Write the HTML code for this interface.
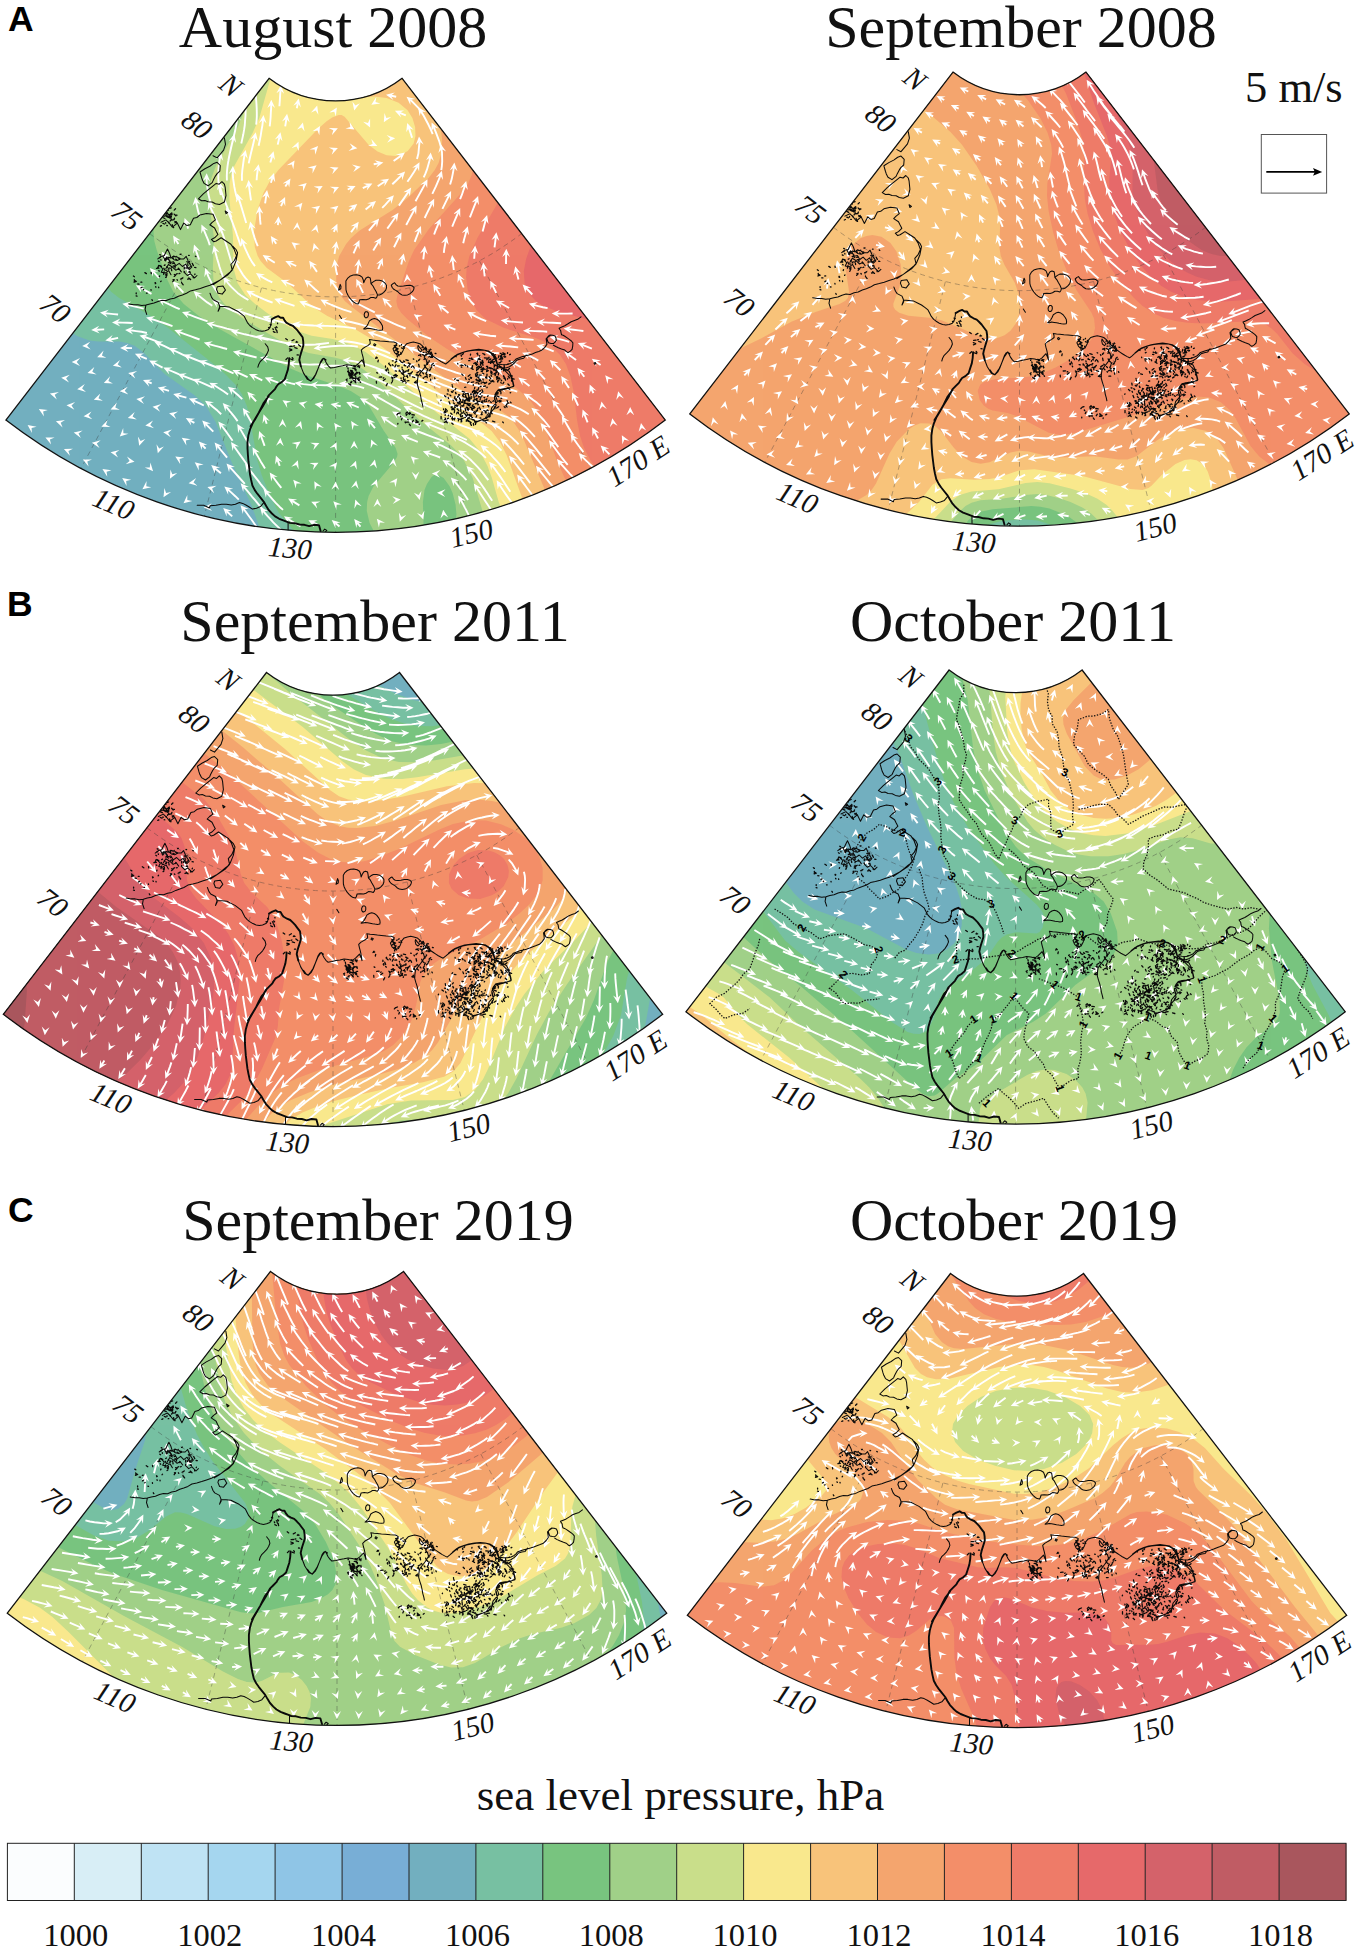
<!DOCTYPE html>
<html lang="en"><head><meta charset="utf-8"><title>Sea level pressure and wind</title>
<style>html,body{margin:0;padding:0;background:#fff}svg{display:block}</style></head><body>
<svg width="1355" height="1952" viewBox="0 0 1355 1952">
<defs><clipPath id="wc"><path d="M-66.5 86.4L-329.7 428.2A540.4 540.4 0 0 0 329.7 428.2L66.5 86.4A109 109 0 0 1 -66.5 86.4Z"/></clipPath>
<g id="grat" fill="none" stroke="#333" stroke-width="0.8" stroke-dasharray="5 4" opacity="0.45">
<path d="M-186.1 241.6A305 305 0 0 0 186.1 241.6"/>
<path d="M-143.8 269L-254.7 476.6"/>
<path d="M-74.1 295.9L-131.3 524.2"/>
<path d="M0 305L0 540.4"/>
<path d="M74.1 295.9L131.3 524.2"/>
<path d="M143.8 269L254.7 476.6"/>
</g>
<g id="coast" fill="none" stroke="#0a0a0a" stroke-linejoin="round" stroke-linecap="round"><path d="M-111.2 146.0L-110.1 152.5L-112.0 158.2L-115.3 162.2L-118.5 166.0L-122.6 163.9M-135.6 180.1L-130.7 176.9L-125.8 174.4L-121.8 171.5L-118.5 170.4L-115.3 173.6L-115.8 179.3L-118.5 181.7L-120.2 184.2L-122.3 188.2L-123.4 190.7L-127.5 193.9L-131.5 191.5L-133.2 188.2L-134.0 185.8L-135.6 180.1ZM-137.2 206.9L-132.3 202.0L-127.5 198.0L-123.4 194.7L-119.4 191.5L-116.4 192.3L-113.7 189.8L-111.2 192.3L-110.4 195.5L-109.6 203.6L-111.2 210.1L-116.1 212.6L-120.2 211.8L-123.4 210.1L-127.5 209.8L-130.7 208.5L-134.0 208.8L-137.2 206.9ZM-110.4 219.1L-108.0 220.7L-109.6 221.8L-110.4 219.1ZM-174.6 230.4L-169.7 228.0L-166.4 231.2L-163.2 235.3L-158.3 231.2L-155.1 237.7L-151.8 231.2L-148.6 233.7L-145.3 232.9L-142.1 226.4L-138.8 225.6L-135.6 223.1L-129.1 221.5L-122.6 222.3L-120.2 228.0L-123.4 230.4L-125.8 232.9L-121.0 236.1L-119.4 239.4L-117.7 242.6L-121.0 245.9L-124.2 247.5L-121.8 249.9L-119.4 249.1L-114.5 245.9L-109.6 249.1L-104.7 252.3L-101.5 257.2L-99.1 263.7L-101.2 268.6L-104.7 272.6L-103.4 278.3L-108.0 283.2L-112.9 286.4L-117.7 289.7L-122.6 292.9M-177.8 267.0L-174.6 264.5L-171.3 263.7L-169.4 259.7L-168.1 257.2L-166.1 261.3L-164.8 265.3L-161.6 267.8L-158.3 268.6L-155.1 267.0L-151.8 267.0L-149.4 264.5L-147.0 270.2L-143.7 275.1L-146.1 277.5L-148.6 274.3M-169.7 276.7L-167.2 272.6L-163.2 275.1L-159.9 278.3L-156.7 276.7L-154.3 280.0M-102.9 254.3L-99.6 257.6L-98.0 260.8L-98.8 264.9L-99.6 269.0L-101.2 273.0L-102.9 277.1L-105.3 280.0L-107.7 281.9L-111.8 285.2L-115.8 288.4L-120.7 290.9L-125.6 293.3L-130.5 294.9L-135.3 296.6L-140.2 297.9L-145.1 299.0L-149.1 301.4L-153.2 303.0L-157.2 304.3L-161.3 306.3L-165.4 307.1L-169.4 308.7L-173.5 308.4L-177.5 309.5L-181.6 311.2L-185.7 312.0L-189.7 313.1L-193.8 313.6L-197.8 312.8L-201.9 312.8L-206.8 312.0M-189.7 313.3L-190.5 317.7L-188.9 322.5M-118.3 294.9L-112.6 294.1L-110.2 298.2L-113.4 302.2L-117.5 301.4L-119.1 297.4L-118.3 294.9ZM-125.6 301.4L-124.0 305.5L-122.3 307.9L-117.5 310.4L-116.2 313.6L-115.8 316.0L-117.5 319.3L-115.8 314.4L-111.0 314.7L-106.1 315.2L-102.0 317.3L-98.0 319.3L-94.7 321.7L-91.5 324.2L-89.9 327.4L-88.2 330.7L-85.8 333.6L-83.4 335.5L-80.1 337.5L-76.9 338.8L-73.6 339.4L-70.4 338.8L-67.1 337.5L-65.5 335.5L-64.5 331.5L-63.9 327.4M-70.4 351.8L-67.9 355.0L-67.1 358.3L-68.4 361.5L-70.4 364.7L-72.8 367.2L-75.3 369.6L-76.9 372.5L-77.7 375.3M-172.7 264.1L-170.2 269.0L-167.8 265.7L-165.4 270.6L-162.1 269.8L-159.7 273.8L-156.4 271.4L-153.2 274.6L-149.9 272.2L-147.5 277.1L-145.1 274.6M-175.9 273.8L-172.7 277.1L-174.3 280.3L-170.2 281.1L-167.0 278.7L-164.6 282.8M-151.6 280.3L-148.3 283.6L-145.1 281.9L-141.0 286.0L-138.6 283.6M-34.7 374.5L-32.2 381.0L-28.2 387.5L-24.9 389.1L-22.5 386.2L-20.1 382.6L-17.6 376.9L-15.2 371.2L-11.9 366.4L-9.5 368.0M-71.8 510.7L-75.1 514.7L-79.1 516.4L-83.2 517.2L-86.4 515.1L-89.7 513.1L-92.9 511.5L-96.2 510.7L-100.2 512.3L-104.3 513.1L-109.2 512.3L-114.0 512.3L-119.7 513.4L-125.4 513.9L-126.2 516.0L-131.9 513.4L-138.4 513.4M-47.5 531.0L-47.5 538.3M-12.6 539.1L-10.9 537.2L-8.8 538.5L-10.1 539.9M10.3 289.2L11.9 286.5L14.3 284.4L17.6 283.2L20.8 282.8L24.1 283.6L26.5 285.2L27.7 288.1L28.1 290.9L29.3 288.1L30.6 286.0L32.5 285.2L34.6 286.0L35.1 288.8L35.4 291.7L37.4 294.1L38.7 296.6L40.6 299.8L41.9 303.0L41.3 305.0L40.3 306.3L37.9 305.6L35.4 305.5L33.0 307.1L30.6 307.9L27.3 307.6L24.1 307.9L23.4 310.4L22.5 312.0L20.2 311.5L18.4 310.4L16.3 308.6L14.3 306.3L12.4 303.4L11.1 300.6L10.4 297.9L10.3 294.9L10.3 289.2ZM35.4 291.7L37.9 289.7L40.3 288.4L43.6 288.4L46.8 289.2L49.2 291.0L50.9 293.3L50.9 295.9L50.1 298.2L48.1 300.5L46.0 302.2L43.9 303.0L41.9 303.0M55.7 293.3L57.4 291.7L59.0 290.9L60.6 293.0L62.2 294.1L65.0 294.3L67.9 294.1L71.2 293.5L74.4 293.3L76.8 294.1L78.5 295.7L78.0 297.9L76.8 299.8L74.4 301.8L72.0 303.0L69.2 303.4L66.3 303.0L64.0 301.6L62.2 299.8L60.1 298.5L58.2 297.4L56.6 295.6L55.7 293.3ZM3.0 298.2L3.9 294.9L4.6 292.5L5.4 294.6L5.2 296.9L3.0 298.2ZM28.6 322.5L29.3 320.6L30.2 319.8L31.7 319.9L32.7 320.9L32.8 323.2L32.2 325.0L30.9 325.8L29.8 325.8L28.8 324.5L28.6 322.5ZM28.1 337.1L29.9 335.5L31.4 333.9L32.7 331.5L33.8 329.0L36.3 327.4L38.7 326.6L41.3 327.4L43.6 329.0L45.5 331.5L46.8 333.9L47.1 336.2L46.8 338.0L44.4 338.3L41.9 338.0L39.5 337.6L37.1 337.1L34.6 336.7L32.2 336.3L29.9 337.0L28.1 337.1ZM3.8 323.3L5.9 326.6M-29.5 384.2L-27.1 387.5L-24.6 389.1L-21.7 386.2L-19.8 382.6L-17.3 376.1L-14.9 369.6L-13.3 367.2L-11.6 366.4L-10.3 368.8L-9.2 371.2L-7.1 374.2L-5.1 376.1L-1.1 375.5L3.0 374.5L7.0 373.8L11.1 372.9L15.2 373.4L19.2 374.5L22.5 372.1L26.5 368.0L28.1 371.6L29.0 374.5L28.3 369.6L27.3 364.7L26.4 361.5L25.7 358.3L27.7 356.3L29.8 355.0L32.2 353.7L34.6 351.8L34.5 349.8L33.8 347.7L37.1 348.2L40.3 348.5L44.4 349.0L48.4 349.3L53.3 349.8L58.2 350.1L60.1 350.8L61.4 351.8L59.5 354.2L57.4 357.0L59.0 360.7L62.2 363.4L65.5 362.3L67.6 358.3L68.7 354.7L71.2 351.8L74.4 350.8L77.7 350.1L80.9 350.8L84.2 351.8L86.8 354.0L89.0 356.6L91.5 359.2L93.9 361.5L97.1 364.1L100.4 366.4L102.8 368.0L105.3 369.6L107.7 370.9L110.1 372.1L112.6 370.1L115.0 368.0L118.3 365.4L121.5 363.1L125.6 361.3L129.6 359.9L134.5 358.9L139.4 358.3L144.2 358.1L149.1 358.3L152.7 359.6L155.6 361.5L157.9 364.7L159.7 368.0L161.1 371.2L162.1 374.5L166.1 375.5L170.2 376.1L173.8 374.8L176.7 372.9L179.3 370.6L181.6 368.0L184.8 367.0L188.1 366.4L190.5 363.1M82.5 353.4L84.2 355.8L86.6 358.3L85.0 359.9L82.9 358.3L82.2 355.3L82.5 353.4ZM38.7 351.8L40.3 352.7L39.3 354.0L38.0 353.1L38.7 351.8ZM90.6 368.0L91.5 371.2L89.5 374.8L87.4 377.7L84.8 381.0L82.5 384.2L81.9 388.3L81.7 392.3L82.9 396.6L84.2 400.5L85.1 404.5L85.8 408.6L86.8 412.2L87.4 415.1M162.1 374.5L167.8 376.9L173.5 379.4L175.4 383.4L176.7 387.5L177.7 391.1L178.3 394.0L174.3 395.9L170.2 397.2L166.1 398.2L162.1 398.8L160.1 402.1L158.8 405.3L159.8 409.6L160.5 413.5L158.2 417.0L155.6 420.0L154.0 422.5L152.3 424.8L149.1 426.8L145.9 428.1L142.6 429.0L139.4 429.7M115.5 367.1L118.7 364.5L122.0 362.3L126.9 360.5L131.7 359.0L137.4 358.1L143.1 357.4L148.0 358.1L152.8 359.0L156.4 361.3L159.3 363.9L160.8 368.0L161.8 372.0L166.2 372.7L170.7 372.8L174.0 371.9L177.2 370.4L179.0 368.8L180.4 367.1L183.7 365.8L186.9 364.7L190.2 363.9L193.4 363.1L196.7 362.0L199.9 360.7L203.2 359.5L206.4 358.2L209.2 355.5L211.3 352.5L211.0 349.6L210.5 346.9L212.4 345.1L214.5 343.6M211.3 346.0L212.9 344.1L214.5 343.1L217.1 343.3L219.4 344.1L220.4 346.2L220.7 348.5L219.4 350.3L217.8 351.7L215.4 351.6L212.9 350.9L211.8 348.6L211.3 346.0ZM217.8 353.3L220.2 354.6L222.7 355.8L225.9 357.1L229.2 358.2L230.9 359.7L232.4 360.7L234.7 359.2L236.5 357.4L237.1 354.2L237.3 350.9L235.8 349.1L234.0 347.7L231.6 346.0L229.2 344.4L227.5 343.4L225.9 342.8L225.4 340.7L225.1 338.7L224.1 337.4L223.5 336.3L226.2 335.2L229.2 333.9L232.4 331.9L235.6 329.8L238.9 328.5L242.1 327.4L245.4 324.9M161.8 372.0L165.5 375.3L169.1 378.5L172.3 381.8L175.6 385.0L177.0 389.9L178.0 394.7L174.3 395.7L170.7 396.4L166.6 397.0L162.6 398.0L160.6 400.4L159.3 402.9L160.8 406.1L161.8 409.4L159.0 412.6L156.1 415.9L155.1 419.9L154.5 424.0L151.2 425.9L148.0 427.2L143.9 428.8L139.9 430.5M258.4 371.2L259.7 370.6L260.3 371.9L259.0 372.3L258.4 371.2Z" stroke-width="1.05"/><path d="M-63.9 327.4L-60.6 325.5L-57.4 324.2L-55.0 325.8L-52.5 325.8L-50.9 328.7L-49.3 330.7L-46.0 332.6L-42.8 333.9L-40.3 336.3L-37.9 338.8L-35.5 342.0L-33.0 345.3L-32.4 349.3L-32.2 353.4L-33.4 357.4L-34.7 361.5L-35.6 364.7L-36.3 368.0L-35.5 371.2L-34.7 374.5M-46.4 366.4L-46.8 372.1L-47.7 377.7L-49.3 382.6L-50.9 387.5L-54.1 390.4L-57.4 392.3L-59.3 394.9L-60.6 397.2L-63.9 400.5L-67.1 403.7L-68.8 407.0L-70.4 410.2L-72.8 414.3L-75.3 418.3L-77.7 422.4L-80.1 426.4L-82.6 430.5L-85.0 434.4M-67.0 404.3L-69.4 407.6L-71.8 410.8L-74.3 415.7L-76.7 420.6L-79.9 426.3L-83.2 431.9L-85.6 437.6L-87.2 443.3L-88.1 449.8L-88.1 456.3L-87.7 462.8L-87.2 469.3L-86.4 475.8L-85.6 482.3L-84.5 488.0L-83.2 493.6L-80.8 498.2L-78.3 501.8L-75.1 505.8L-71.8 509.9L-69.4 514.1L-67.0 518.0L-63.7 521.6L-60.5 524.5L-56.4 526.9L-52.3 528.5L-49.1 529.7L-45.8 531.0L-41.0 531.3L-36.1 532.6L-31.2 532.9L-26.4 534.2L-21.5 532.9L-16.6 533.4L-15.0 539.1" stroke-width="1.9"/><path d="M-167.1 265.5 l2.3 0.5M-176.8 278.8 l0.5 0.4M-161.3 282.6 l0.8 0.3M-157.8 265.7 l1.8 1.5M-170.5 273.0 l-0.8 0.5M-171.5 280.0 l-0.5 2.4M-164.1 277.6 l0.2 1.2M-170.3 266.4 l1.2 0.3M-158.6 287.8 l0.4 0.5M-175.8 273.7 l1.6 0.8M-158.4 281.7 l-1.0 0.6M-151.4 279.2 l0.1 0.6M-140.9 275.5 l1.2 0.2M-153.5 291.5 l1.1 1.4M-143.3 271.5 l1.1 2.2M-175.8 262.7 l0.8 0.4M-168.6 274.7 l0.6 0.7M-161.6 273.9 l-0.8 0.3M-166.4 276.0 l-0.3 1.2M-168.9 265.3 l-0.4 1.1M-140.6 282.1 l-0.2 0.6M-161.5 287.7 l-1.3 2.0M-156.6 266.3 l0.9 0.2M-162.2 264.2 l2.3 0.8M-176.0 284.0 l-0.3 0.8M-154.0 290.3 l0.0 0.6M-160.0 267.2 l1.1 0.4M-149.5 275.6 l-0.0 0.9M-158.8 264.4 l-0.1 0.6M-168.6 281.3 l-0.2 2.4M-166.9 267.7 l-0.9 0.0M-146.8 286.1 l1.8 1.6M-160.0 283.4 l-1.4 1.1M-169.8 282.2 l0.2 1.2M-166.6 270.5 l1.9 1.4M-147.6 273.6 l-0.3 0.5M-142.4 285.0 l0.1 0.9M-145.5 280.2 l0.1 0.6M-169.2 285.0 l-0.7 0.5M-146.0 269.4 l-0.1 0.6M-180.2 290.8 l-0.1 0.9M-162.5 287.7 l0.9 0.7M-171.8 276.3 l1.2 2.1M-163.1 264.9 l0.8 1.6M-152.8 286.0 l-2.1 1.2M-175.3 265.5 l-0.8 0.4M-169.6 278.2 l0.6 0.2M-167.0 276.8 l-0.5 0.4M-174.7 267.7 l0.1 0.6M-157.2 276.3 l-0.0 1.2M-145.8 279.7 l-1.1 0.5M-160.8 274.9 l0.4 1.1M-155.7 281.5 l-0.9 0.3M-165.8 268.9 l0.1 0.6M-164.0 275.9 l-0.8 0.5M-161.4 273.9 l1.2 0.3M-176.8 273.4 l-0.9 2.2M-140.2 264.3 l0.5 0.4M-177.2 269.2 l0.8 0.5M-146.2 287.0 l-1.8 0.3M-174.5 289.2 l-0.4 0.5M-148.2 272.1 l0.6 0.0M-147.0 263.4 l0.6 0.1M-161.6 271.3 l-1.2 0.3M-154.5 262.2 l-0.9 0.2M-169.7 266.4 l-0.9 2.2M-148.7 269.8 l1.0 0.6M-176.7 276.3 l-2.4 0.2M-151.3 275.2 l0.0 1.8M-166.5 270.6 l-0.8 0.3M-171.0 218.8 l-0.8 0.9M-168.0 216.1 l0.9 2.2M-168.8 224.7 l1.6 0.9M-159.8 223.2 l1.2 0.1M-171.9 222.6 l-0.4 0.8M-171.8 224.1 l0.6 0.1M-160.8 229.8 l2.1 1.1M-168.7 221.6 l2.1 1.1M-164.4 215.9 l-1.7 0.6M-166.6 225.2 l-0.5 0.3M-161.3 226.9 l-0.5 0.8M-173.9 215.9 l-1.8 0.2M-161.1 226.3 l-0.3 0.8M-167.0 215.1 l-1.7 1.7M-160.1 216.9 l-1.3 1.3M-164.6 221.5 l-1.2 1.3M-165.1 228.4 l-0.3 0.8M-164.4 222.9 l-0.1 0.6M-167.1 224.9 l0.9 0.3M-163.8 220.9 l0.2 1.8M-162.3 235.2 l0.3 0.5M-163.4 232.7 l0.2 1.2M-168.8 233.6 l0.6 0.1M-172.9 225.6 l2.2 1.0M-166.9 230.3 l0.3 0.9M-168.7 220.4 l0.6 1.1M-168.4 224.1 l-0.9 0.2M-168.0 224.0 l-2.4 0.0M-174.1 233.8 l-1.1 0.5M-161.4 222.2 l1.6 1.8M-170.0 230.7 l0.1 0.6M-161.5 227.8 l-2.4 0.4M-171.9 216.6 l0.7 2.3M-172.7 231.4 l1.7 0.7M-164.5 226.8 l0.3 0.9M-170.4 220.8 l1.4 1.1M-164.2 224.4 l-0.1 0.9M-169.5 222.3 l-0.1 0.6M-166.6 223.8 l0.3 0.5M-165.1 225.5 l-0.7 0.6M-165.5 224.4 l0.3 0.5M-173.2 223.6 l-2.0 1.4M-167.0 216.5 l-2.3 0.5M-171.4 220.6 l-0.0 0.6M-159.3 229.7 l-1.3 1.2M-197.8 292.1 l1.2 0.1M-177.0 295.2 l0.1 0.6M-202.2 284.1 l1.0 0.7M-193.8 290.2 l-0.9 0.1M-180.0 294.8 l0.3 0.5M-199.5 304.0 l0.9 0.2M-201.3 287.8 l0.4 1.7M-199.4 301.0 l-0.0 0.9M-190.7 280.7 l1.5 1.0M-180.5 290.8 l0.7 0.5M-189.1 301.2 l0.6 0.1M-200.1 288.9 l-1.1 0.4M-183.7 307.8 l0.5 0.8M-193.6 295.3 l-1.0 0.6M-199.3 289.5 l-2.2 0.8M-184.6 297.7 l0.1 0.6M-184.5 280.5 l0.2 1.2M-191.9 297.5 l-0.4 0.4M16.3 381.9 l0.9 0.2M16.2 389.5 l-0.4 1.1M21.4 386.3 l1.4 1.9M23.7 385.2 l0.9 0.1M20.3 386.0 l-1.7 0.5M22.3 380.5 l-0.5 0.7M17.0 385.9 l0.9 0.2M19.1 382.4 l-0.1 0.9M24.6 390.1 l0.4 0.4M14.0 381.1 l-0.9 0.1M14.3 381.0 l-1.2 2.0M21.0 380.3 l-0.3 1.2M15.3 379.6 l1.5 1.9M15.9 382.9 l-0.3 0.5M17.8 386.5 l-1.1 0.6M15.3 390.1 l-0.2 0.6M16.1 385.9 l-0.6 0.1M13.0 380.9 l1.2 0.2M11.6 387.1 l-1.0 0.7M16.7 380.1 l0.6 0.1M14.2 381.5 l-0.4 2.4M12.3 376.1 l0.3 1.2M20.0 387.7 l0.2 0.6M15.4 385.2 l0.5 0.4M14.0 383.4 l0.4 0.8M20.6 381.5 l-0.3 1.2M15.0 378.6 l1.8 0.4M17.9 388.5 l0.7 0.5M22.6 373.7 l1.3 2.0M23.9 380.4 l-0.3 0.8M19.9 389.6 l-0.3 0.8M17.3 382.8 l0.2 0.6M13.2 391.8 l2.0 1.4M22.7 386.0 l0.9 1.5M19.4 383.6 l1.0 1.5M17.0 382.6 l0.5 0.3M20.1 385.9 l0.1 0.9M16.9 381.2 l-2.0 1.4M18.1 373.7 l1.2 0.3M18.0 381.3 l-0.9 0.1M11.4 374.2 l-0.3 0.5M22.9 388.4 l0.8 0.4M12.0 379.7 l2.1 1.1M18.0 388.5 l1.0 0.7M15.4 381.6 l-0.5 1.1M20.4 377.5 l-0.1 1.2M24.4 381.7 l-0.3 0.5M14.6 383.3 l-0.8 0.9M14.7 392.2 l0.3 0.5M17.2 376.3 l2.4 0.4M14.6 385.3 l-0.3 1.2M16.4 383.9 l0.3 1.2M19.1 374.9 l1.2 0.0M15.3 383.1 l0.3 1.2M19.2 376.8 l0.1 0.9M11.3 388.5 l0.1 0.6M19.9 389.8 l0.4 1.1M24.4 374.0 l-2.3 0.8M20.0 381.5 l-0.6 0.7M12.6 378.8 l0.5 0.3M41.1 380.8 l0.8 0.4M71.5 383.5 l0.6 2.3M49.7 387.1 l-1.9 1.5M40.7 389.4 l0.2 1.8M75.0 372.0 l-1.1 0.4M83.1 372.5 l0.5 2.4M98.7 373.4 l-0.6 0.2M61.0 383.5 l-1.2 0.2M51.8 376.1 l0.9 2.2M68.5 389.3 l-1.6 0.8M97.7 371.6 l-1.4 1.1M77.7 367.0 l0.5 0.3M94.0 382.7 l0.9 0.1M81.9 383.3 l-0.4 0.4M91.3 379.9 l-0.9 1.6M48.2 385.9 l-0.5 0.3M53.7 371.2 l-0.7 0.6M65.5 388.5 l1.2 0.2M95.0 387.2 l0.1 1.2M68.4 384.1 l0.3 0.5M72.6 371.1 l1.2 0.3M79.7 390.9 l1.8 0.0M46.1 385.1 l-2.4 0.2M90.3 375.8 l0.7 0.6M70.3 368.0 l2.3 0.6M67.2 377.7 l-0.6 0.2M63.7 378.3 l-0.1 0.9M69.2 379.8 l-1.7 1.7M57.1 385.8 l-0.6 1.0M50.5 377.6 l-0.2 0.9M60.4 383.5 l-0.0 1.2M58.4 385.3 l0.8 0.4M98.9 385.9 l0.4 0.8M60.0 370.3 l-0.4 0.5M56.8 372.7 l0.7 1.0M66.4 370.5 l0.8 0.3M84.2 378.4 l0.9 0.8M68.1 368.9 l0.3 0.9M94.9 377.3 l-1.3 1.3M91.1 384.3 l-2.2 0.9M91.5 384.6 l0.2 1.2M55.9 385.2 l1.3 1.2M68.0 378.7 l-0.7 1.7M71.5 384.1 l-1.1 0.4M93.6 368.8 l-0.1 0.9M65.4 385.9 l0.1 0.9M83.4 379.7 l-2.1 1.2M96.2 373.6 l-0.0 0.6M84.1 382.7 l1.3 1.3M67.9 382.6 l0.5 1.1M91.2 390.5 l-1.8 0.0M68.1 369.6 l0.9 0.2M92.3 377.0 l-0.8 1.6M68.4 373.3 l1.7 0.7M66.4 375.2 l0.2 0.9M69.2 388.3 l0.5 1.1M59.6 378.9 l1.2 0.3M52.7 380.3 l0.5 0.8M72.2 374.8 l-0.4 0.8M53.9 372.6 l1.3 1.2M61.1 369.2 l-0.7 0.5M76.9 384.9 l2.3 0.7M76.8 379.8 l-1.2 1.3M67.8 385.4 l0.2 2.4M70.1 379.3 l-0.1 0.6M49.9 374.1 l0.0 1.2M92.0 370.4 l-0.3 0.5M41.6 366.1 l-0.6 0.0M71.0 378.9 l1.8 0.2M77.9 374.6 l0.7 1.6M87.1 380.9 l0.8 0.9M65.7 380.9 l1.1 1.4M70.5 390.7 l-0.3 0.5M73.1 381.5 l-0.5 0.4M72.7 377.8 l0.6 0.2M51.7 391.7 l-1.1 2.1M95.0 382.6 l-0.9 2.2M74.7 381.3 l0.8 0.5M89.2 367.1 l-0.8 0.4M63.7 378.2 l1.0 1.5M74.3 381.6 l0.0 2.4M42.7 368.2 l-0.4 1.7M73.3 388.8 l-1.8 0.1M69.5 387.3 l-0.7 1.7M92.6 370.9 l-0.8 0.4M68.7 372.8 l0.1 0.9M95.8 375.4 l-0.5 0.7M84.2 367.2 l-1.1 1.4M80.5 390.8 l0.6 0.1M41.0 365.2 l-0.5 0.3M63.7 373.9 l-1.8 0.2M76.9 374.0 l-1.2 1.4M81.0 369.0 l0.4 0.8M80.8 389.1 l-1.9 1.5M60.4 372.9 l-1.1 2.1M60.3 382.5 l-2.1 1.2M90.3 381.8 l1.3 1.3M81.5 382.3 l-1.0 0.7M57.2 388.1 l-0.4 0.4M57.6 368.9 l-0.9 0.0M56.8 389.6 l-1.0 1.5M61.2 367.2 l-0.7 0.5M87.6 385.9 l0.3 0.5M61.8 383.7 l-1.4 1.1M50.9 377.8 l-0.1 1.2M73.2 373.7 l0.7 0.5M88.7 373.2 l1.0 2.2M91.8 371.9 l0.0 0.6M64.2 368.3 l1.5 1.9M41.6 365.7 l-1.6 0.7M135.7 404.8 l0.4 0.5M154.4 424.6 l-1.2 0.1M149.1 409.3 l0.2 0.6M107.9 417.1 l0.1 0.6M150.1 420.1 l-0.4 0.5M118.6 417.4 l-2.4 0.3M150.4 430.6 l0.5 0.4M132.7 401.4 l-1.2 0.3M146.1 422.6 l-0.6 0.0M121.6 420.3 l-0.5 1.7M123.9 406.1 l0.1 0.9M128.2 426.1 l-1.7 0.6M147.3 409.1 l-1.2 0.2M116.7 426.2 l-0.5 0.3M128.8 409.4 l0.1 1.2M137.6 416.1 l0.8 0.4M124.4 422.8 l0.4 0.8M130.8 407.1 l-0.0 0.9M139.0 428.6 l0.3 1.2M125.0 424.8 l1.2 0.2M131.4 415.3 l0.4 2.4M128.8 410.5 l0.8 0.5M134.0 422.5 l-1.7 0.6M136.1 417.5 l1.0 0.7M115.8 399.6 l0.2 0.6M135.2 427.1 l1.7 0.5M152.6 414.2 l0.6 0.7M137.2 416.5 l-1.1 0.5M132.3 413.1 l0.8 0.3M137.5 412.8 l-0.4 0.4M120.4 401.1 l0.1 0.6M150.6 409.2 l0.5 0.3M121.5 417.1 l0.9 0.1M118.8 427.1 l0.1 0.9M141.8 400.9 l-0.4 0.5M119.4 413.8 l-0.4 0.4M133.7 423.5 l2.1 1.1M129.3 411.4 l1.8 0.1M141.3 418.5 l0.6 0.1M126.5 413.9 l-1.2 0.1M131.7 427.8 l-0.9 0.2M117.4 408.2 l0.5 0.8M150.8 421.0 l-0.6 0.1M147.3 428.8 l2.4 0.3M132.4 426.0 l-0.4 1.1M112.6 405.7 l0.4 0.8M111.5 418.4 l-0.1 1.2M109.7 418.3 l0.4 2.4M125.0 409.7 l2.3 0.7M120.2 413.4 l1.4 1.2M132.5 417.2 l0.1 1.2M132.5 428.5 l0.4 1.1M126.2 410.3 l-0.8 0.3M114.8 423.9 l0.1 0.6M139.3 415.5 l-0.9 0.0M121.8 417.2 l1.5 1.8M110.2 427.8 l-1.2 0.0M146.0 422.5 l0.6 0.2M105.5 424.6 l0.0 2.4M134.6 405.6 l-1.6 0.8M131.9 416.9 l-0.3 0.5M129.7 408.1 l0.5 0.7M141.7 411.7 l-2.4 0.2M129.3 425.4 l0.6 0.0M132.2 411.3 l-0.7 1.7M132.1 415.7 l0.4 1.1M109.0 403.8 l1.4 1.2M124.7 411.5 l-0.2 0.9M134.7 431.4 l1.1 2.1M127.5 404.1 l0.5 0.7M111.0 429.2 l-2.0 1.3M125.0 415.3 l-0.0 0.9M126.7 399.4 l2.3 0.8M128.8 421.3 l1.4 2.0M105.5 408.1 l-0.2 0.6M115.5 415.0 l1.6 1.8M134.0 406.8 l-0.1 2.4M131.8 422.3 l-0.2 0.6M139.0 421.7 l0.8 0.4M116.8 425.1 l-0.3 1.2M122.5 413.1 l-0.4 0.4M113.0 426.3 l-1.1 0.5M129.0 409.9 l-0.6 0.2M117.9 411.1 l0.9 0.8M143.9 404.7 l1.5 0.9M132.9 405.8 l-0.2 1.8M122.7 420.5 l0.3 1.2M126.8 413.9 l0.4 0.5M123.0 402.8 l1.1 0.3M133.6 425.3 l0.1 0.9M113.5 409.8 l0.9 2.2M116.1 431.2 l1.4 1.2M140.3 430.9 l-0.5 1.7M134.2 408.9 l-0.6 0.2M140.5 400.5 l-1.2 1.3M109.8 419.4 l-0.5 0.7M132.9 412.4 l-0.0 1.2M125.0 422.1 l0.4 1.1M126.2 429.7 l-0.8 0.3M140.8 418.9 l-0.6 0.2M142.8 412.2 l-0.4 0.8M120.4 406.9 l0.5 0.4M139.1 407.2 l-1.6 1.8M142.5 416.4 l-0.8 0.9M153.4 421.2 l-0.6 0.1M112.9 423.3 l-0.2 0.6M126.0 421.0 l0.3 0.5M126.9 423.8 l-0.3 0.8M119.9 400.4 l0.3 1.2M141.2 423.6 l-0.7 1.7M136.2 423.0 l-1.4 1.2M144.8 398.8 l-1.0 0.7M114.3 403.1 l0.9 0.8M128.8 408.6 l0.5 0.7M137.3 399.2 l-0.5 0.7M144.7 406.7 l-0.2 1.2M148.3 418.6 l1.6 0.8M136.8 400.0 l0.0 0.6M137.2 414.1 l1.1 0.4M132.8 402.6 l0.2 1.8M109.6 422.8 l-0.1 0.6M140.1 411.5 l0.3 0.5M138.7 419.6 l-0.6 1.1M139.2 400.0 l1.8 0.1M135.1 423.0 l-0.9 0.2M134.5 412.8 l-0.5 1.1M121.9 410.4 l0.5 1.1M117.7 398.7 l-0.7 1.7M131.2 407.2 l1.4 1.9M118.9 417.7 l0.2 0.6M127.7 401.7 l-0.8 2.3M127.4 407.3 l-0.1 1.8M149.5 407.8 l-1.2 1.4M120.6 413.0 l0.4 0.8M129.6 416.6 l0.5 2.3M152.5 428.1 l-2.4 0.3M109.5 426.1 l0.6 1.0M135.7 406.6 l-2.2 1.0M136.4 414.1 l2.3 0.6M132.0 416.3 l0.2 0.6M138.8 409.1 l-0.5 0.3M115.0 421.2 l1.4 1.2M131.6 416.7 l1.7 0.4M131.3 415.2 l-0.5 0.3M137.8 431.5 l0.2 1.8M130.6 404.9 l0.9 2.2M109.8 416.9 l0.9 0.7M111.5 402.1 l0.9 0.2M134.5 430.0 l1.0 0.6M123.8 409.6 l-0.1 2.4M134.1 405.2 l-0.4 2.4M111.1 430.3 l0.6 0.6M141.3 398.0 l0.1 0.6M119.5 426.3 l-1.7 0.7M155.3 420.6 l1.2 1.3M131.3 423.9 l-0.5 0.4M109.1 419.4 l-0.6 1.7M122.9 427.8 l-0.1 1.2M122.4 404.9 l-0.2 0.6M116.2 426.5 l0.9 1.6M133.4 411.8 l1.8 0.1M150.8 419.0 l-0.6 0.7M119.4 407.0 l1.6 1.8M137.0 425.6 l-0.6 0.2M150.6 424.9 l-0.5 1.1M140.7 406.7 l1.2 0.3M143.7 415.4 l1.1 2.1M142.4 409.2 l-0.9 1.5M131.4 429.2 l-0.9 0.0M112.3 397.5 l0.3 1.8M150.2 385.0 l-0.2 0.9M146.1 369.9 l-0.2 1.2M136.1 366.1 l-0.3 1.2M162.0 374.9 l-0.5 0.2M166.8 376.9 l-0.9 0.8M153.6 384.8 l1.5 1.9M161.3 366.3 l-2.4 0.3M135.0 362.3 l-0.2 0.9M133.1 368.7 l1.2 0.1M161.2 378.7 l0.4 1.1M140.5 387.9 l2.3 0.6M147.5 375.9 l1.2 1.3M158.5 372.7 l0.3 1.2M155.4 383.2 l0.5 1.1M151.4 377.4 l-0.4 2.4M158.1 367.3 l-1.5 1.0M161.9 388.9 l0.2 1.2M148.5 377.1 l1.1 0.4M172.2 386.6 l-0.2 0.6M135.5 376.2 l2.0 1.3M160.8 385.9 l0.5 0.3M165.1 370.5 l-1.7 0.5M153.0 370.4 l0.6 0.2M165.3 365.5 l-0.4 1.8M172.6 372.1 l-0.5 0.3M147.8 370.2 l-0.9 0.8M156.4 369.0 l-1.1 0.5M142.1 361.3 l-0.8 0.4M139.9 382.0 l0.4 2.4M135.1 385.3 l-0.4 0.4M165.3 390.7 l0.4 0.5M168.2 364.8 l1.1 0.5M145.6 379.4 l1.2 0.3M150.8 384.9 l-0.2 0.9M154.9 370.9 l0.1 0.6M164.8 361.4 l0.6 0.1M153.2 369.6 l-0.5 0.8M160.6 377.6 l-0.2 1.8M174.8 362.4 l-0.8 0.4M148.8 365.9 l2.4 0.3M135.0 385.5 l0.8 0.9M163.0 381.1 l-0.3 1.8M175.9 388.3 l0.4 1.1M161.5 384.5 l-0.5 0.3M143.3 376.1 l-1.0 1.5M176.3 386.7 l2.3 0.6M159.6 373.0 l-1.1 2.2M162.1 374.7 l0.1 1.8M155.2 379.1 l1.3 1.2M148.4 362.0 l0.8 0.9M136.0 385.8 l-1.2 0.3M144.4 387.2 l1.1 2.1M168.3 376.6 l-0.2 2.4M140.3 371.8 l1.6 0.8M140.7 390.6 l-0.3 0.5M147.0 371.6 l0.4 1.8M151.4 382.2 l-0.1 1.8M153.6 367.6 l-0.4 0.8M166.1 364.7 l1.0 2.2M161.8 380.1 l-1.0 0.7M133.6 366.4 l0.9 0.2M146.3 377.6 l0.8 0.9M169.4 362.8 l-0.8 0.4M162.2 385.9 l-1.1 1.4M152.7 378.7 l-1.0 0.7M157.6 388.9 l-2.1 1.1M141.1 381.0 l0.9 2.2M151.0 390.3 l-0.5 0.4M164.3 374.7 l0.0 0.6M152.1 375.8 l-0.8 0.5M159.2 377.0 l-1.3 1.2M163.5 367.2 l0.9 0.2M157.6 361.7 l-1.1 1.4M170.7 377.7 l-0.8 0.4M176.6 386.4 l1.1 0.5M155.7 376.4 l1.7 0.5M144.0 387.8 l-0.1 1.8M152.0 375.0 l-0.1 1.2M141.7 361.6 l0.7 1.7M168.5 373.3 l0.3 2.4M140.9 387.3 l-0.5 0.3M160.0 382.1 l-0.5 1.7M146.8 369.6 l-0.5 0.3M157.0 369.6 l-2.3 0.6M160.3 380.8 l-2.0 1.4M169.6 364.6 l0.5 0.4M139.8 370.7 l-1.6 0.9M159.6 364.6 l-1.0 0.6M166.1 388.3 l-0.5 0.7M146.4 368.3 l0.7 0.6M158.1 370.7 l-0.1 0.6M150.8 374.4 l1.2 0.1M138.2 389.9 l-2.4 0.5M162.2 384.7 l-0.9 0.2M154.1 387.9 l-0.1 0.6M141.7 375.2 l-0.7 0.6M158.2 369.6 l0.6 0.2M148.0 390.5 l1.2 0.2M151.6 367.5 l-0.5 0.3M164.6 374.7 l0.8 0.3M155.1 367.0 l-0.4 0.8M160.5 380.5 l0.3 0.5M147.4 387.2 l0.1 0.9M145.0 371.8 l-0.2 1.2M153.4 365.2 l-0.0 1.2M174.5 369.1 l-0.9 0.0M142.4 367.3 l2.4 0.4M145.7 383.2 l-1.8 0.0M166.4 366.5 l-0.2 0.9M143.5 385.0 l-0.8 0.5M147.2 381.4 l1.0 0.6M168.0 362.3 l-1.8 0.3M167.3 360.9 l2.1 1.1M144.5 370.1 l0.9 0.8M166.0 364.3 l-0.1 1.2M172.7 384.3 l0.5 0.4M160.2 373.4 l1.6 0.9M163.9 386.6 l-1.7 0.5M169.4 385.9 l0.5 2.4M146.0 391.1 l-0.6 0.1M119.7 415.3 l-0.6 0.6M130.3 401.7 l-2.2 0.9M171.5 408.5 l0.6 1.7M164.5 408.3 l-1.5 0.9M174.0 376.6 l-1.9 1.5M139.4 399.4 l-1.8 0.3M140.8 383.5 l0.8 1.6M138.2 403.5 l0.4 2.4M165.3 369.1 l0.9 0.1M133.4 389.9 l-1.5 1.0M134.5 382.9 l-1.9 1.5M147.2 361.6 l0.8 0.5M141.4 376.3 l-0.4 2.4M156.6 370.1 l1.3 1.3M168.2 390.3 l-0.9 1.6M151.6 395.3 l-0.3 0.5M119.0 418.9 l-0.3 1.8M149.9 394.1 l-1.8 0.3M124.0 427.2 l2.2 1.1M172.1 396.1 l2.1 1.2M155.1 380.3 l1.5 1.9M128.2 419.4 l-0.8 1.6M174.9 410.2 l0.6 0.7M147.4 414.4 l0.5 0.4M139.9 372.1 l1.1 1.4M163.4 385.8 l1.2 1.4M129.9 385.8 l0.6 1.7M165.3 400.1 l-0.0 1.8M132.5 406.1 l0.2 2.4M142.8 404.2 l0.4 1.1M120.2 396.7 l-0.7 1.0M137.0 373.7 l-0.4 2.4M157.3 389.5 l1.1 0.4M125.7 373.0 l-0.4 0.4M163.3 388.2 l-0.8 0.9M161.2 404.0 l2.2 1.0M135.6 402.6 l-0.6 0.1M146.5 420.1 l-0.4 1.7M128.7 411.5 l-0.5 0.8M124.8 407.5 l-0.0 1.2M171.0 412.5 l-0.5 1.1M123.6 409.8 l-0.4 1.1M159.4 414.5 l-0.1 2.4M152.4 422.6 l-1.0 0.7M167.8 383.7 l0.1 0.9M143.1 395.8 l-0.7 2.3M165.3 363.4 l0.8 0.3M133.6 426.0 l-0.1 0.9M159.7 408.9 l-0.1 0.6M129.3 372.7 l0.8 0.9M119.4 404.6 l-0.5 1.7M152.0 413.5 l1.2 0.2M174.8 383.7 l1.8 0.4M151.0 390.8 l-2.2 0.9M143.2 386.9 l2.0 1.4M116.5 414.9 l-0.8 0.9M127.9 413.4 l0.4 0.5M172.3 411.1 l0.9 0.2M141.3 419.0 l-1.7 1.7M150.7 425.9 l0.3 0.5M123.0 404.0 l-0.9 0.8M122.1 371.4 l0.1 0.6M158.8 378.3 l2.3 0.8M151.6 418.1 l1.0 0.7M154.6 391.2 l-1.5 1.0M149.1 391.0 l0.6 0.0M144.1 363.7 l-0.1 0.6M168.5 384.3 l0.1 0.9M162.1 376.1 l-0.8 0.3M142.6 400.6 l-1.0 1.5M162.5 400.5 l-0.8 0.4M140.2 407.6 l1.3 1.2M164.0 399.2 l0.9 0.2M148.5 405.5 l0.5 0.4M116.8 394.4 l0.3 0.9M163.3 363.7 l-0.4 1.7M155.7 376.6 l-0.6 0.1M146.7 376.7 l-1.4 1.1M172.0 360.8 l-0.1 0.6M146.5 403.9 l-0.5 0.4M159.1 406.8 l0.1 0.6M146.6 410.6 l0.7 0.5M156.9 429.3 l2.3 0.6M137.3 367.2 l-0.5 0.3M139.2 395.4 l-0.3 1.2M130.2 403.1 l-0.7 2.3M139.3 429.3 l-0.2 0.9M172.0 411.8 l-0.6 0.2M159.7 362.8 l-1.6 0.8M164.9 364.5 l0.7 1.0M141.3 388.8 l1.7 0.5M125.6 426.7 l0.2 2.4M167.1 430.1 l0.6 0.7M147.7 390.1 l-0.5 0.3M163.0 414.8 l-1.9 1.4M125.5 363.1 l0.3 1.2M138.2 398.2 l2.1 1.2M164.7 417.5 l-0.0 0.6M155.5 375.9 l-1.1 0.4M142.1 368.9 l-0.8 2.3M157.9 408.9 l-0.6 0.6M161.2 400.9 l-0.9 2.2M142.8 374.4 l-1.6 1.8M130.2 395.3 l-1.2 0.1M172.3 392.1 l1.3 1.3M154.5 375.9 l-1.2 0.3M156.9 376.8 l1.0 0.7M134.5 415.2 l2.1 1.1M145.8 410.5 l1.2 0.2M126.6 366.7 l-0.8 0.4M173.3 385.5 l1.0 0.6M147.1 377.1 l0.6 0.6M133.1 387.2 l0.7 0.6M170.2 413.9 l1.3 1.2M142.3 390.7 l1.1 1.4M153.8 375.8 l1.7 0.7M126.2 382.2 l1.2 1.3M144.4 426.0 l0.9 0.2M145.4 375.7 l-1.8 0.0M122.3 426.5 l0.7 0.6M145.6 394.4 l-0.9 0.2M135.3 401.8 l0.3 0.5M146.6 400.3 l-0.5 0.3M151.3 406.9 l-0.4 0.8M155.7 370.8 l-0.6 0.1M168.4 386.3 l0.8 0.5M116.5 392.7 l0.1 0.6M133.1 428.8 l0.7 1.0M152.5 366.2 l-0.9 0.1M119.6 386.7 l-0.6 0.7M153.8 375.8 l1.4 1.1M132.2 428.7 l0.9 0.1M142.2 380.5 l-0.5 0.3M125.1 417.3 l0.2 2.4M130.6 420.6 l0.8 0.4M155.5 380.9 l0.1 0.6M162.6 401.8 l-1.1 0.5M144.3 409.5 l-1.2 0.1M131.7 374.0 l0.5 1.1M165.3 406.3 l0.8 0.3M146.3 397.7 l1.0 2.2M163.2 398.1 l1.0 0.6M155.2 389.4 l0.4 0.4M158.8 364.6 l0.9 0.7M152.4 403.8 l-0.4 0.8M144.2 383.3 l-0.6 0.0M168.6 414.9 l0.9 0.8M175.1 400.8 l-0.6 0.2M143.8 374.4 l-0.3 1.2M151.1 385.5 l0.2 0.9M165.6 409.0 l-1.4 1.1M138.3 427.8 l-0.8 0.4M154.7 409.9 l1.0 0.7M144.9 401.9 l-0.4 0.4M127.7 361.7 l-0.8 0.9M117.3 416.4 l0.9 0.2M153.7 424.9 l0.6 0.0M145.4 374.0 l0.5 1.1M125.7 375.0 l0.5 0.3M119.4 364.3 l1.1 0.5M165.6 397.7 l0.9 0.1M121.1 388.2 l1.8 0.4M153.6 408.6 l-0.7 0.5M144.3 366.3 l-0.9 0.2M137.7 392.8 l-0.1 0.6M139.0 400.8 l-1.4 2.0M127.4 373.5 l-1.2 0.0M140.9 403.6 l-0.6 1.0M156.5 388.4 l0.7 1.0M147.2 371.2 l-1.7 0.7M62.2 421.9 l-0.8 0.9M66.5 426.2 l-0.7 1.7M74.0 420.8 l0.9 0.8M77.4 425.1 l-0.9 0.8M76.3 422.8 l2.4 0.3M64.8 424.3 l0.4 0.5M74.7 421.1 l-0.3 0.5M62.3 431.5 l-0.1 0.6M69.6 430.0 l0.3 0.9M72.1 420.7 l1.7 1.7M64.5 420.9 l-1.7 0.6M73.7 432.2 l1.1 1.4M71.6 420.0 l-1.3 1.3M70.6 422.5 l0.1 0.9M77.8 428.5 l-1.0 1.5M72.2 427.6 l0.4 0.4M80.3 428.1 l0.8 0.9M71.2 430.2 l1.8 0.1M81.1 429.2 l-0.6 0.2M87.2 428.5 l-1.0 0.7M71.6 422.3 l-0.4 0.5M70.4 430.4 l-0.8 0.3M83.7 432.2 l-0.1 0.6M82.0 430.4 l-1.8 0.3M81.8 429.4 l0.9 0.7M-38.5 363.0 l1.2 0.1M-49.8 346.8 l1.5 1.1M-43.8 358.3 l-2.3 0.8M-43.3 365.7 l0.7 1.0M-41.6 347.7 l-2.1 1.2M-37.1 352.9 l1.9 1.5M-45.0 367.1 l2.2 0.9M-40.8 355.8 l2.3 0.7M-46.2 357.0 l2.3 0.8M-37.9 350.2 l-1.8 0.0M-43.5 354.5 l-2.4 0.1M-39.0 349.5 l-0.0 0.9M-41.1 353.9 l-0.9 0.3M-47.9 366.0 l-1.7 1.6M-66.1 335.5 l-0.9 0.3M-62.2 339.7 l1.6 0.8M-59.3 334.8 l0.8 0.9M-64.9 332.8 l0.6 0.1M-60.6 335.7 l0.7 0.6M-64.9 332.4 l-0.6 0.0M-59.8 337.6 l1.2 1.4M-58.1 331.2 l0.1 0.6M-58.7 339.4 l0.3 1.2M-62.7 336.9 l0.4 0.8M67.9 354.7 l0.8 1.6M60.2 355.8 l1.3 2.0M61.1 357.2 l-1.8 1.6M61.2 358.9 l0.8 0.4M60.0 354.7 l-0.8 0.9M60.9 361.4 l-0.1 0.6M63.1 359.8 l-1.0 1.5M64.2 353.8 l-0.4 0.4M65.3 360.5 l-0.3 0.9M61.5 364.0 l0.3 0.9M61.0 353.5 l-2.4 0.2M62.3 361.8 l1.1 2.1M65.9 356.0 l1.1 0.4M61.9 359.7 l0.8 0.9M66.0 352.6 l-0.2 0.6M60.9 356.1 l1.6 0.9M94.8 357.3 l0.5 0.4M90.3 355.2 l-0.6 0.2M99.4 361.4 l0.9 0.2M90.3 356.2 l-1.6 0.8M90.1 362.6 l0.8 0.5M87.0 354.9 l-0.5 0.7M92.5 362.1 l-1.2 0.1M90.6 360.3 l0.0 0.6M87.9 357.4 l0.3 0.5M90.5 362.5 l-1.9 1.5M96.0 361.5 l0.9 1.6M94.6 360.8 l0.0 1.8M85.3 362.8 l-2.3 0.6M93.5 357.9 l0.7 1.7M88.5 360.4 l-0.9 0.1M96.5 363.3 l-0.5 0.4M94.2 358.7 l-0.3 0.8M92.8 361.4 l-0.5 0.3M90.8 356.4 l0.3 1.2M93.0 359.6 l0.9 0.2M95.9 360.3 l-0.8 0.9M84.9 363.8 l0.4 0.5M96.8 365.5 l-1.8 0.0M96.3 363.5 l0.8 0.9M86.9 362.8 l1.1 0.5M83.5 367.8 l-0.6 0.7M88.8 365.8 l1.6 1.7M95.5 364.6 l1.8 0.2M89.3 363.9 l-0.3 0.8M94.1 364.5 l-1.0 0.6" stroke-width="1.3"/></g>
</defs>
<rect width="1355" height="1952" fill="#fff"/>
<g transform="translate(335.6 -8.1)">
<g clip-path="url(#wc)">
<path d="M-66.5 86.4L-329.7 428.2A540.4 540.4 0 0 0 329.7 428.2L66.5 86.4A109 109 0 0 1 -66.5 86.4Z" fill="#72afbf"/>
<path d="M-195.1 78L-195 75L345 75L345 552L-72.4 552L-77.7 531L-84 513.6L-103.6 471L-120 430L-129.6 414L-141 403.4L-171 382.1L-192 360.7L-201 353.9L-208.5 351L-216 349.6L-237 349.6L-246 348.7L-258 344.4L-270 337.2L-279 329.6L-288 318.5L-294.7 306L-298.8 294L-301.6 276L-301.1 255L-296.7 234L-288.6 213L-278.7 195L-264 174.7L-249 158L-220.1 129L-207.9 114L-202.6 105L-198.8 96Z" fill="#77c0a2"/>
<path d="M-144.3 75L345 75L345 552L-32.4 552L-35.7 546L-57 520.7L-66 503.1L-73.9 483L-78.4 468L-85.7 426L-88.7 414L-93.8 402L-99.7 393L-114.5 378L-167.3 336L-189 321.5L-216.4 306L-224.2 300L-233.6 288L-239.3 273L-241 258L-239.4 243L-235 228L-227.6 213L-219.4 201L-209 189L-174 157.2L-164 147L-156 136.9L-149.6 126L-146.1 117L-143.7 105L-143.3 93Z" fill="#78c47f"/>
<path d="M-112.5 75L345 75L345 552L114.4 552L120 533.2L120.8 522L120 512.9L117 501L114 494.3L108 486.1L102 482.7L99 482.9L96 485L91.3 492L88.9 498L87.3 510L88.1 537L84 552L47.6 552L38.7 540L34 531L31.2 519L31.5 510L33 504L37.5 495L57.8 471L61.4 465L62 462L60.1 456L48 438.7L33.5 414L24.6 405L15.2 399L3 394.1L-30 383.2L-45 376.6L-117 336.6L-136.7 324L-151.8 312L-162.2 300L-168.2 288L-178.9 258L-181.3 249L-182.1 240L-180.9 231L-177.5 222L-170.2 210L-150 184L-132 156.9L-120.6 138L-115 126L-112.5 117L-111.5 108Z" fill="#a0d088"/>
<path d="M-88.1 75L345 75L345 552L153.9 552L150.4 531L137.1 486L128.1 468L123 461.2L115 453L85.1 429L43.8 390L27 376.8L18 371.9L9 368.3L0 365.9L-27 361.1L-45 354.5L-87.3 330L-100.6 321L-111.2 312L-116 306L-119.2 300L-122.2 288L-122.7 276L-121.6 246L-126.3 213L-126.4 198L-124.2 186L-119.7 174L-97.7 135L-92.8 123L-89.9 108Z" fill="#c9de8a"/>
<path d="M-61.8 75L345 75L345 552L179 552L174.5 537L163.1 510L156.3 486L151.9 474L144.1 459L134.1 447L100.4 420L46.2 372L30 360L21 355L9 350.1L-3 347.2L-24 343.9L-39 338.8L-51 332.3L-68.5 321L-81 311.7L-90.3 303L-98.1 291L-102 276.6L-102.7 243L-106.2 207L-106.1 192L-104.5 183L-101.3 174L-83 141L-76.3 126Z" fill="#f9e88d"/>
<path d="M8.9 78L9 75L345 75L345 552L205.4 552L202.5 543L186.9 507L171 463.1L164.3 450L156 439L147.4 432L117 411.7L53.3 360L36 347L18 336.3L-8.2 324L-22.6 315L-48 291.4L-69 275.9L-75 269.1L-78 263.9L-80.8 255L-81.7 240L-78 217.5L-72 200.7L-66 189.7L-57 177.9L-18 137.4L-9 129.4L-3 125.3L3 123L6 123.2L9 124.9L33.2 153L42 159.7L51 163.3L60 164L66 162.6L72.2 159L78 151.5L79.9 144L79.5 135L76.8 126L72 118.3L63 110.9L51 106.2L39 104.7L18 106.1L13.3 105L10.8 102L9.2 96Z" fill="#f8c37a"/>
<path d="M94.6 75L345 75L345 552L234.9 552L232.8 546L213 506.8L187.9 447L183 437.5L177 428.9L171 423L165 418.8L138 405.6L117 391.8L16.3 315L9.2 309L4.6 303L0.7 291L0.4 276L3.6 264L10.5 252L15.5 246L24 238.6L57 218L72 206.1L93 186L99 178.3L103 171L106.4 159L106.5 147L100.5 102Z" fill="#f4a56e"/>
<path d="M136.4 75L345 75L345 552L270.5 552L267.9 546L243 509.1L229 486L222 470.3L207 429L201 417.5L195 409.2L183 397.8L165 385L132 368.9L111.5 357L93.5 345L71.6 327L65.7 321L61.9 315L60.7 309L61.8 303L73 270L78.5 258L93.3 237L128.4 198L132.3 192L136.1 183L138.8 171L139.9 156Z" fill="#f38e69"/>
<path d="M181.9 75L345 75L345 552L319 552L316.2 546L311.8 540L267 485.3L255 468.5L248.4 456L244.5 444L241.6 429L237.9 399L234.7 384L230.3 372L224.5 363L216 354.6L207 348.9L197.3 345L168 335.9L150 327.1L140.9 318L134.5 306L131.9 297L130.5 285L131 276L133.8 264L141.8 246L167.9 201L172.8 189L176.8 174L179.1 159L180.6 141Z" fill="#ee7b68"/>
<path d="M232.2 75L345 75L345 480.5L342 477.4L338.6 471L333.3 453L332 438L332.5 405L330.2 390L325.8 378L318 366L309.2 357L301.5 351L279 338.1L255 328.3L222 319.6L207 313.5L200.3 309L194.6 303L191 297L189 291L188.2 279L190.5 267L214.3 201L222.9 168L228.6 129Z" fill="#e6696a"/>
<use href="#grat"/>
<path d="M-103.4 524.5L-107.9 520.3L-108.8 519.5M-78.6 535.7L-81.2 531.9L-83.8 528.1L-86.6 524.3L-89.3 520.6L-92.1 516.9L-91.9 517.2M-53.7 538.7L-56.6 536L-59.5 533.2L-62.3 530.4L-65 527.4L-67.8 524.5L-70.4 521.4L-73 518.3L-72.4 519.1M-35.1 534.6L-39.3 532.1L-43.4 529.6L-47.6 527.1L-47.4 527.2M-16.3 533.6L-21.7 531L-22.7 530.5M3.9 534.7L0 531.4L-0.1 531.3M24.9 534.8L21.7 531L21.7 530.9M135.1 527.5L133.2 523.5L131.2 519.4L129.1 515.5L127.1 511.5L124.9 507.6L125.2 508M162.4 527.6L159.8 524.1L157.3 520.6L154.9 517L152.5 513.4L150.1 509.8L147.7 506.1L145.4 502.5L143 498.9L140.6 495.2L141 495.8M181.6 517.3L178.8 513.9L176 510.4L173.4 506.8L170.8 503.2L168.3 499.6L165.8 495.9L163.4 492.1L163.7 492.6M201.3 508.8L198.8 505.6L196.2 502.4L193.7 499.1L191.2 495.8L188.8 492.5L186.3 489.2L183.9 485.9L184.4 486.6M223 500.9L220 497.7L217 494.3L214.2 491L211.4 487.6L208.5 484.1L205.8 480.7L203 477.2L203.4 477.7M241.6 489.1L238 485.7L234.5 482.2L231.1 478.5L227.8 474.8L224.5 471.1L224.5 471.1M258.3 475.8L254.3 472.3L250.5 468.7L246.7 465L246.5 464.8M273.9 462.5L269.5 458L268.5 457.1M-96.8 507.8L-100.3 504.3L-103.9 501L-107.5 497.7L-107.5 497.8M-72 518.7L-74.8 515.2L-77.7 511.7L-80.5 508.3L-83.4 504.9L-86.2 501.4L-89.1 498L-92 494.7L-91.7 495.1M-52.6 518L-56.1 514.8L-59.4 511.4L-62.6 507.9L-65.8 504.3L-69 500.7L-68.8 500.8M-36.2 513.5L-41.8 510L-43.2 509.1M132.4 508L129.8 504L127.2 500.1L124.3 496.4L121.5 492.6L118.5 489L118.7 489.2M156.6 508.9L154.2 505.3L151.9 501.7L149.5 498L147 494.4L144.5 490.9L142 487.3L139.4 483.8L136.7 480.4L133.9 477.1L134.3 477.6M174.7 499.8L172.2 496L169.6 492.2L167.1 488.3L164.5 484.5L161.9 480.8L159.2 477L156.4 473.4L156.6 473.7M194.7 491.2L192 487.7L189.4 484.3L186.8 480.8L184.2 477.4L181.5 474L178.9 470.6L176.1 467.2L176.6 467.7M214.7 483.4L211.9 480L209.1 476.5L206.3 473L203.5 469.5L200.7 466L197.9 462.5L195.1 459L195.4 459.4M232.1 473L228.8 469L225.6 464.9L222.6 460.8L219.5 456.6L216.4 452.5L216.3 452.3M247.8 460.2L244.4 455.8L241.2 451.3L238 446.7L237.7 446.3M262.4 446.6L259.5 441L258.8 439.8M-114.7 481.4L-119.5 477.3L-120.6 476.3M-90.8 492L-93.8 488.6L-96.9 485.1L-99.9 481.7L-103 478.3L-106.1 475L-105.8 475.3M-69.5 498.9L-72.2 495.5L-74.9 492.2L-77.5 488.8L-80.1 485.4L-82.8 482L-85.4 478.7L-88 475.2L-87.6 475.8M-54.3 495.9L-57.3 492.2L-60.2 488.3L-63.1 484.4L-63 484.6M130.8 488.2L127.3 484.3L123.5 480.7L119.5 477.3L115.6 473.9L111.3 470.8L111.1 470.7M152.7 488.3L150.1 484.9L147.5 481.5L144.8 478.2L141.9 475L139 472L136 468.9L132.9 466L129.6 463.3L126.2 460.7L126.8 461.1M169.8 480.1L167.1 476.4L164.2 472.8L161.2 469.3L158.1 465.9L155.1 462.5L151.8 459.2L148.4 456.1L148.7 456.3M188.5 472.6L185.7 469.2L182.9 465.8L180 462.4L177.1 459L174.1 455.7L171.1 452.4L167.9 449.3L168.3 449.7M206.6 464.8L203.9 461.4L201.2 458L198.5 454.7L195.7 451.4L192.9 448.1L190.1 444.9L187.2 441.7L187.6 442.2M222.7 455.2L219.8 451.1L216.9 447.1L214 443L211.1 439L208 435L208 435M237.7 443.7L234.8 438.8L231.9 433.9L229.1 429L228.7 428.4M252 430.5L249.5 424.1L248.8 422.2M-130 456.7L-133.4 453.1L-133.4 453.1M-108.5 465.8L-111.6 462L-114.8 458.1L-117.9 454.3L-117.9 454.3M-87.1 474.7L-90.1 470.6L-93 466.5L-95.9 462.5L-98.8 458.4L-101.7 454.3L-101.7 454.2M-70.6 476.5L-72.7 473.1L-74.9 469.5L-76.9 466L-79 462.4L-81 458.9L-80.6 459.6M-55.9 473.9L-57.8 468.7L-58 468.3M104.6 465.6L100.3 464L95.9 462.5L91.6 460.9L91.9 461.1M131.2 468.6L127.3 465.6L123.3 462.9L119.1 460.4L114.8 458.1L110.4 455.9L106 453.8L101.5 451.9L101.6 452M150.3 466L147.2 463.1L144 460.3L140.6 457.7L137 455.3L133.4 453.1L129.8 450.8L126 448.8L122.2 446.9L118.3 445L119 445.3M165.9 458.7L162.7 455.5L159.2 452.5L155.6 449.8L151.8 447.2L148 444.7L144.1 442.4L140 440.4L140.4 440.6M183 452.4L180 449.3L176.8 446.2L173.5 443.3L170 440.7L166.5 438L162.8 435.5L159 433.4L159.5 433.6M199.3 444.9L196.6 441.9L193.8 438.9L190.9 436L187.9 433.3L184.8 430.6L181.6 428.1L178.2 425.8L179 426.2M214.2 435.6L211.4 432.1L208.5 428.6L205.4 425.3L202.4 422L199.1 418.8L199.5 419.1M228.3 425.4L225.5 420.9L222.6 416.5L219.7 412.1L219.6 411.9M242.5 413.7L239.5 407.1L238.6 405M257.8 401.3L255.9 396.9L256 397.2M-141.2 431L-145.5 428.6L-145.4 428.6M-122.3 439.8L-127.8 434.2L-129.9 432.1M-103 448.9L-105.3 445.6L-107.6 442.3L-110 439L-112.4 435.8L-114.8 432.6L-114.2 433.4M-85.6 454.2L-87.7 450.5L-89.8 446.8L-91.9 443.2L-94 439.5L-96.2 435.8L-95.8 436.5M-71 453.9L-73.7 446.6L-74.7 443.8M58.9 452L55.4 449.2L55.8 449.5M82.2 449.9L77.9 448.3L73.7 446.6L69.5 444.8L69.9 445M108.2 449.4L104.2 447.8L100.1 446.2L96 444.7L91.9 443.2L87.8 441.6L83.8 440.1L79.7 438.5L80.3 438.7M131.2 448.1L127 446.1L122.8 444.2L118.5 442.4L114.3 440.7L110 439L105.7 437.4L101.4 435.7L97.1 434L92.8 432.3L93.1 432.4M148.4 442.6L144.4 440.7L140.3 438.9L136.2 437.3L132 435.7L127.8 434.2L123.7 432.6L119.5 431.1L115.3 429.5L111.2 428L111.7 428.1M164.4 435.7L160.7 433.9L157 432.4L153.2 431L149.4 429.7L145.5 428.6L141.6 427.4L137.7 426.3L133.8 425.2L130 424L130.9 424.3M179.7 429.6L175.7 427.3L171.6 425.3L167.3 423.6L162.9 422.3L158.5 420.9L154.1 419.8L149.6 418.8L150 418.8M193.2 422.4L189 419.7L184.6 417.3L180 415.3L175.4 413.2L170.7 411.6L170.7 411.6M205.4 414.3L201.2 410.7L196.9 407.5L192.5 404.4L192.1 404.1M218.8 406.1L216.1 402.6L213.4 399.2L210.6 395.7L210.9 396.2M233.4 396.2L229.5 390.1L228.3 388.2M248.7 384.9L245.3 380.4L244.8 379.8M265 373.2L260.6 370L260.3 369.8M-183.9 391.5L-188.3 389.8L-188 389.9M-166.6 398.9L-172.2 397.2L-173 396.9M-149.2 405.8L-155.8 403.9L-157.7 403.4M-131.8 413.6L-135.4 411.7L-139.2 409.9L-142.9 408.2L-142.1 408.5M-114.4 422.3L-118.2 418.7L-122.3 415.3L-126.3 411.9L-126.6 411.7M-98 429.2L-101.5 424.5L-105.2 419.9L-108.9 415.4L-109.5 414.7M-83.4 431.9L-85.6 427.9L-87.9 423.9L-90.3 419.9L-90.1 420.2M-68.9 431.8L-70.5 427.1L-70.5 427.1M39.4 436.2L35.4 431.5L34.6 430.5M61 434.8L56.9 432.3L53 429.6L49 427L49.2 427.1M84.9 433.9L80.1 431.8L75.3 429.5L70.5 427.1L65.8 424.7L61.1 422.2L60.8 422.1M108.5 432.6L104.3 431L100.2 429.3L96.1 427.6L92 425.7L87.9 423.9L83.9 422L79.8 420.1L75.8 418.1L71.8 416.1L72.3 416.3M127.3 428.4L122.9 426.8L118.4 425.2L114 423.5L109.6 421.7L105.2 419.9L100.8 418.1L96.5 416.2L92.1 414.3L87.8 412.3L88.1 412.4M144.8 421.9L140.3 420.8L135.7 419.6L131.2 418.2L126.7 416.8L122.3 415.3L117.8 413.7L113.4 412.1L109 410.4L104.7 408.6L104.9 408.8M160.2 413.9L155.9 413.1L151.7 412.4L147.5 411.7L143.3 410.9L139.2 409.9L135 409L130.8 407.9L126.7 406.8L122.6 405.5L123.3 405.7M171.9 406.5L167.9 405.7L163.9 405L159.8 404.4L155.8 403.9L151.8 403.3L147.7 402.8L143.7 402.1L144.6 402.3M181.7 399.8L177 398.3L172.2 397.2L167.4 396L167.4 396M193.9 394L188.3 389.8L186.7 388.6M209.4 387.4L204.1 381.8L202.2 379.8M224.8 378.3L219.5 373.1L217.8 371.4M240.5 368L234.6 363.8L232.7 362.5M256.3 356.8L249.3 353.9L246.9 353M-231.4 337.5L-237.9 337.8L-239.4 337.9M-217.5 346L-223.9 347.3L-225.5 347.6M-203.6 356.2L-209.5 356.1L-210.5 356.1M-188.8 366.9L-194.8 364.4L-196.1 363.8M-173 375.7L-179.7 372.1L-182.1 370.8M-156.4 382.5L-160.4 380.8L-164.3 379.1L-168.3 377.4L-167.7 377.7M-139.5 389L-144.1 387.3L-148.7 385.5L-153.3 383.8L-153.3 383.8M-122.9 395.8L-127.8 393.5L-132.8 391.3L-137.8 389.1L-138.3 388.9M-107.5 402.6L-112 399.3L-116.7 396.4L-121.4 393.4L-121.9 393.1M-93.4 407.3L-96.8 403.9L-100.4 400.8L-104 397.7L-103.8 397.8M-79.5 409.4L-83.9 404.6L-85 403.4M-12.7 413.6L-16.9 412.9L-16.2 413M5.1 414.3L0 413.2L-0.2 413.2M23.2 415.6L16.9 412.9L15.1 412.1M42.9 417.7L38.4 414.7L33.8 411.8L29.1 409L28.7 408.8M65 418.2L61.4 416.2L57.8 414.2L54.2 412.1L50.6 410.1L47 408L43.4 406L39.8 404L40.5 404.4M87.2 417.6L83.2 415.6L79.2 413.7L75.2 411.7L71.3 409.7L67.3 407.7L63.3 405.7L59.4 403.7L55.4 401.7L51.5 399.6L52 399.9M106.3 414.8L102.5 413.2L98.8 411.5L95.1 409.8L91.3 408.1L87.6 406.3L83.9 404.6L80.2 402.8L76.5 401.1L72.8 399.3L69.1 397.6L65.4 395.8L66.2 396.2M123.8 410.1L119.8 408.7L115.9 407.2L112 405.7L108.1 404.1L104.2 402.5L100.4 400.8L96.5 399.2L92.7 397.5L88.9 395.8L85 394.1L81.2 392.5L81.9 392.8M139.5 403.5L134.9 402.3L130.3 401L125.7 399.6L121.2 398L116.7 396.4L112.2 394.7L107.7 393.1L103.3 391.3L98.9 389.5L99.1 389.6M149.5 395L145.3 394.3L141.1 393.4L137 392.4L132.8 391.3L128.7 390.2L124.6 389L120.5 387.7L121.2 387.9M157.2 386.9L152.9 386.2L148.7 385.5L144.5 384.8L145.1 384.9M185.2 375.2L179.7 372.1L178.6 371.4M202.7 368.7L198.8 366.4L194.8 364.4L190.7 362.4L191.1 362.6M218.1 359.5L213.8 357.7L209.5 356.1L205.2 354.6L205.6 354.7M233.6 349.9L228.8 348.5L223.9 347.3L219 346L219 346M247.8 339.1L242.9 338.5L237.9 337.8L233 337.2L233 337.2M-217.5 322.6L-222 322.2L-226.6 321.7L-231.1 321.3L-230.7 321.3M-202.9 331.1L-208.1 330.8L-213.2 330.7L-218.4 330.6L-218.6 330.6M-188.7 341.1L-194.1 339.9L-199.5 339.2L-205 338.4L-205.5 338.3M-175.1 351.1L-180.2 348.9L-185.5 347L-190.8 345.1L-191.4 345M-161 359.2L-166.1 356.7L-171.1 354.3L-176.2 351.9L-176.8 351.7M-146.2 365.7L-151.4 363.4L-156.5 361L-161.7 358.6L-162.3 358.3M-131 371.5L-136.3 369.3L-141.6 367.1L-146.9 364.9L-147.6 364.6M-116.2 376.7L-121.3 374.6L-126.5 372.6L-131.6 370.6L-132.2 370.4M-102 381.5L-106.6 379.4L-111.1 377.5L-115.7 375.5L-115.7 375.5M-88 385.3L-91.8 383.5L-95.6 381.7L-99.4 379.9L-98.7 380.2M-73.3 388.4L-79.9 385.3L-82 384.3M-57.3 390.8L-64.1 388.2L-66.2 387.5M-40.4 392.4L-44.3 391.5L-48.2 390.5L-52.1 389.6L-51.1 389.8M-23.2 393.2L-27.7 392.7L-32.2 392.2L-36.6 391.6L-36.2 391.7M-6.3 393.5L-11.2 393.4L-16.1 393.2L-21 393L-20.9 393M10.5 394.1L5.3 393.7L0 393.5L-5.3 393.3L-5.5 393.3M28.5 396.3L24.4 395L20.3 394L16.1 393.2L11.9 392.4L7.7 391.8L8.4 391.9M48.4 399.5L44.4 397.5L40.4 395.6L36.3 393.8L32.2 392.2L28 390.5L23.8 389.1L19.5 387.9L20 388M69.4 400.7L65.2 398.7L60.9 396.6L56.7 394.6L52.4 392.5L48.2 390.5L43.9 388.5L39.6 386.6L35.3 384.7L30.9 383L31.2 383.1M88 399L84 397.2L80 395.4L76.1 393.7L72.1 391.9L68.1 390.1L64.1 388.2L60.1 386.4L56.1 384.6L52.2 382.8L48.2 381L44.2 379.2L44.7 379.5M104.9 395.6L100.7 393.9L96.5 392.2L92.4 390.5L88.2 388.8L84.1 387L79.9 385.3L75.8 383.6L71.6 381.8L67.5 380.1L63.3 378.3L59.2 376.5L59.7 376.7M120.1 390.8L116 389.4L111.9 387.9L107.8 386.4L103.7 384.8L99.7 383.3L95.6 381.7L91.6 380.1L87.5 378.6L83.4 377L79.4 375.4L75.3 373.8L75.9 374M129.4 383.4L124.8 382L120.2 380.6L115.7 379L111.1 377.5L106.6 375.9L102.1 374.3L97.6 372.7L97.7 372.8M135.6 375L131 373.9L126.5 372.6L122 371.4L122.2 371.4M146 367.6L141.6 367.1L142.2 367.2M163.3 361.4L156.5 361L154.7 360.9M182.6 355.5L176.9 354.8L171.1 354.3L165.4 353.8L164.6 353.8M198 348L193.8 347.6L189.7 347.3L185.5 347L181.3 346.8L177.2 346.5L178 346.6M211.6 339.8L207.6 339.5L203.6 339.3L199.5 339.2L195.5 339L191.4 338.9L192.4 338.9M225.5 331.4L221.4 331.1L217.3 330.9L213.2 330.7L209.2 330.5L205.1 330.3L206 330.3M237 321.6L231.8 321.7L226.6 321.7L221.4 321.7L221.1 321.7M-191.9 316.7L-197.2 315.4L-202.6 314.2L-207.9 313L-208.4 312.9M-163.1 334.2L-167.5 332.6L-171.8 331.1L-176.2 329.7L-180.6 328.2L-185 326.9L-184.7 327M-136 347.6L-140.2 346.1L-144.5 344.5L-148.7 343L-152.9 341.4L-157.1 339.8L-156.6 340M-108.5 357.1L-112.4 356.1L-116.3 355L-120.2 354L-124 352.9L-127.9 351.8L-127 352M-79 365.6L-82.9 364.6L-86.9 363.6L-90.8 362.6L-94.8 361.6L-98.7 360.6L-97.8 360.8M-46.1 371.8L-51.1 370.9L-56 369.9L-60.9 368.8L-65.8 367.7L-70.7 366.6L-70.7 366.5M-13.1 372.2L-17.5 372.5L-21.8 372.6L-26.2 372.7L-30.5 372.5L-34.9 372.4L-39.3 372.1L-43.6 371.7L-43 371.8M17.4 374.3L13.1 373.9L8.7 373.7L4.4 373.7L0 373.8L-4.4 373.9L-8.7 374.2L-13.1 374.5L-12.5 374.4M53.1 381.2L49.4 379.6L45.7 378L42 376.5L38.2 375.1L34.4 373.7L30.5 372.5L26.7 371.4L22.8 370.4L18.9 369.5L14.9 368.9L10.9 368.5L11.8 368.5M87.4 379.6L83.6 378.1L79.8 376.6L76 375L72.2 373.5L68.5 371.9L64.7 370.4L60.9 368.8L57.1 367.2L53.3 365.7L49.5 364.1L45.7 362.6L41.9 361.1L38.1 359.7L38.9 360M110 369.3L106.2 368L102.3 366.7L98.5 365.3L94.6 364L90.8 362.6L87 361.2L83.2 359.8L79.4 358.4L75.6 356.9L76.4 357.3M125.3 355.1L120.2 354L119.9 353.9M160.5 344.4L154.6 343.8L148.7 343L142.8 342.1L141.8 342M187.4 330.6L181.8 330.2L176.2 329.7L170.6 329.1L170 329M212 316.2L207.3 315.3L202.6 314.2L197.9 313L198 313.1M-184.1 301.9L-188 299.7L-191.9 297.6L-195.8 295.5L-195.3 295.7M-155.9 317.3L-159.6 315.7L-163.3 314L-166.9 312.3L-170.6 310.6L-174.2 308.8L-173.3 309.2M-128 329.4L-132.3 328L-136.6 326.4L-140.8 324.9L-145.1 323.3L-149.4 321.7L-149 321.9M-98.4 339.3L-103.5 338L-108.7 336.7L-113.8 335.3L-119 334L-124.1 332.5L-124.4 332.4M-67.1 348L-71.8 346.9L-76.6 345.8L-81.3 344.6L-86 343.5L-90.8 342.4L-95.5 341.2L-100.2 340.1L-100.1 340.1M-35.1 353.2L-39.6 352.7L-44.2 352.1L-48.7 351.3L-53.2 350.4L-57.7 349.4L-62.2 348.4L-66.6 347.4L-71.1 346.3L-75.6 345.2L-75.2 345.3M-6.6 351L-11.1 351.6L-15.5 352.1L-20 352.6L-24.5 352.9L-28.9 352.9L-33.4 353L-37.9 352.8L-42.4 352.4L-46.8 351.8L-46.3 351.9M22.2 354.8L17.8 354.2L13.4 353.8L8.9 353.7L4.4 353.8L0 354.1L-4.4 354.4L-8.9 354.9L-13.3 355.4L-17.7 356L-17.2 355.9M54.5 361.5L50.3 359.8L46.1 358.2L41.9 356.7L37.6 355.3L33.3 354L28.9 352.9L24.6 351.8L20.2 350.9L15.8 350.1L11.3 349.6L6.8 349.3L7.3 349.3M83.1 359.2L78.8 357.6L74.6 356L70.4 354.3L66.1 352.7L61.9 351L57.7 349.4L53.5 347.7L49.2 346.1L45 344.5L40.7 342.9L36.4 341.4L36.8 341.5M95.4 347L90.7 345.3L86 343.5L81.4 341.7L81.4 341.7M119.8 337.8L113.8 335.3L112.4 334.7M150.6 329.2L145.6 327.2L140.8 324.9L136.1 322.5L135.8 322.3M173.5 316.1L166.9 312.3L164.6 311M196.7 302.6L191.9 297.6L190.5 296.2M-176.6 285.9L-181.2 281L-182.4 279.8M-152.2 300.7L-157.6 294.9L-159.7 292.8M-123.3 313.8L-128.3 310.5L-133 306.8L-137.7 303.1L-138.5 302.4M-90.6 323.5L-94.9 321.9L-99.2 320.3L-103.4 318.6L-107.5 316.7L-111.6 314.7L-115.7 312.6L-119.6 310.3L-119.2 310.6M-60.7 330.5L-64.9 329.4L-69 328.2L-73.1 326.9L-77.2 325.7L-81.3 324.4L-85.3 323.1L-89.4 321.7L-93.5 320.3L-97.5 318.8L-96.8 319.1M-35.6 334.2L-40.4 333.3L-45.1 332.3L-49.8 331.2L-54.5 329.9L-59.2 328.7L-63.8 327.4L-68.5 326.1L-68.3 326.1M-11.4 333.8L-16.7 333.7L-22 333.6L-27.3 333.3L-32.6 333L-37.9 332.4L-38.2 332.3M20.3 336.8L16.3 336L12.2 335.5L8.2 335L4.1 334.6L0 334.4L-4.1 334.2L-8.2 334L-12.3 333.9L-16.4 333.9L-15.5 333.9M51.1 341.4L47.1 339.9L43.2 338.5L39.3 337L35.3 335.7L31.3 334.4L27.3 333.3L23.3 332.1L19.3 331.1L15.2 330.1L11.1 329.3L7 328.5L7.8 328.7M70 336.6L66.1 335L62.2 333.4L58.3 331.7L54.5 329.9L50.6 328.2L46.8 326.4L43 324.6L43.6 324.9M112.9 321.2L107.5 316.7L105.9 315.3M138.7 313.1L135.7 310.1L133 306.8L130.3 303.6L130.7 304.2M160.6 301L157.6 294.9L156.8 293.3M182.9 287.7L181.2 281L180.8 279.2M-167.3 269.1L-170.5 264.5L-170.9 264M-145.6 283.9L-148.3 277.5L-149.1 275.7M-118.1 300.3L-120.8 296.7L-123.2 292.8L-125.2 288.7L-127.2 284.7L-128.9 280.5L-128.8 280.9M-87.2 308.1L-90.9 306L-94.6 303.6L-98 301L-101.2 298L-104.3 295L-107.2 291.8L-109.7 288.3L-109.4 288.8M-63 310.8L-67.5 309.1L-72 307.3L-76.5 305.3L-80.9 303.3L-85.2 301L-85.1 301.1M-41.1 314L-46.2 312.3L-51.3 310.5L-56.3 308.7L-56.7 308.6M-14.9 317.7L-20.3 315.7L-25.7 313.6L-31.1 311.6L-31.8 311.3M15.9 320.2L11.9 319L7.9 317.7L3.9 316.3L0 314.7L-3.9 313.1L-7.7 311.4L-11.5 309.5L-10.8 309.9M39.2 320.5L34.7 318.2L30.2 315.9L25.7 313.6L21.2 311.4L16.7 309.1L16.7 309M55.7 315.2L51.3 310.5L50.2 309.4M104.7 303.8L101.2 298L100.2 296.5M128.1 295.6L125.2 288.7L124.2 286.4M149.1 284.4L148.3 277.5L148.1 275.6M170.4 272.1L170.5 264.5L170.6 261.8M-157.2 252.2L-159.9 247.9L-159.9 247.9M-136.5 267.6L-139.1 260.2L-140 257.4M-111.3 287.3L-113.2 283.2L-114.7 279.1L-116.1 274.9L-117.3 270.7L-118.6 266.4L-119.7 262.1L-120.8 257.9L-120.7 258.4M-84.6 291.7L-87.6 289L-90.3 286L-92.7 282.8L-94.8 279.3L-97 275.9L-98.8 272.4L-100.5 268.7L-100.1 269.6M-63.3 290.5L-67.6 288.5L-71.7 286.2L-75.8 283.8L-75.6 284M-41.3 294.1L-48.1 291.1L-50.2 290.1M-16.8 300.5L-20.5 297.3L-24.1 294L-27.7 290.8L-27.7 290.8M6.9 303.3L3.2 299.4L0 295L-3.2 290.6L-3.4 290.3M27.5 301L24.1 294L22.9 291.5M48 295.4L48.1 291.1L48 291.7M96.4 285.7L94.8 279.3L94.4 277.8M118.2 278.1L117.3 270.7L117 268.2M138.6 266.8L139.1 260.2L139.2 258.5M158.9 255.5L159.9 247.9L160.2 245.3M-147.4 236.7L-149.2 231.4L-149.4 230.8M-125.8 253.2L-127.6 247.9L-129.8 242.8L-131.9 237.7L-132.1 237.1M-103.3 272.5L-104.7 268.6L-105.9 264.6L-107.1 260.6L-108.3 256.6L-109.5 252.6L-110.7 248.6L-112 244.6L-113.4 240.7L-114.9 236.8L-114.6 237.5M-80.6 274.2L-83.7 270L-86.3 265.4L-88.5 260.7L-90.7 256L-92.6 251.1L-92.7 250.9M-60.8 270.9L-66.9 267L-68.8 265.8M-39.4 274.1L-44.8 271.6L-45.7 271.2M-18.6 280L-22.5 274.4L-23.5 272.9M1.7 283.1L0.7 279.3L0 275.3L-0.7 271.3L-0.6 272.3M21.5 281.5L22.5 274.4L22.8 272.2M42.6 277.2L44.8 271.6L45.2 270.7M65.6 272.6L66.9 267L67 266.4M87.7 267.5L88.5 260.7L88.7 258.8M108.2 261L108.7 256.8L109.5 252.6L110.3 248.4L110.1 249.1M127.6 251.4L128.6 247.1L129.8 242.8L130.9 238.5L130.8 239.1M147 239.6L148.1 235.5L149.2 231.4L150.3 227.3L150.1 228M-135.8 224.4L-137.4 219.7L-138.5 214.8L-139.6 210L-139.6 210M-113.6 240.9L-115.2 237L-116.9 233.1L-118.7 229.3L-120.5 225.4L-122.3 221.6L-124.1 217.7L-125.8 213.8L-125.5 214.5M-94.9 254.1L-96.2 250.1L-97.5 246.2L-98.9 242.3L-100.2 238.4L-101.7 234.5L-103.1 230.6L-104.6 226.8L-106.2 222.9L-107.8 219.1L-107.4 219.9M-77.8 254.2L-79.5 250.2L-80.9 246.2L-82.2 242L-83.4 237.9L-84.5 233.7L-84.3 234.4M-59.4 251.9L-62.1 247.9L-62 248.1M-1.1 261.9L0 255.6L0.2 254.2M17.9 261.4L20.9 254.7L21.8 252.6M37.6 258.7L41.6 252.2L43 249.9M58.4 255.3L60.3 251.6L62.1 247.9L64 244.3L63.6 245M79.1 249.9L80.6 246L82.2 242L83.7 238.1L83.5 238.8M98.5 242.6L100 238.5L101.7 234.5L103.3 230.5L103.1 231.1M116.6 234.7L118.5 230.1L120.5 225.4L122.5 220.8L122.5 220.7M134.3 225.4L136.4 220.1L138.5 214.8L140.6 209.5L140.8 208.9M-123.5 214.6L-125 210.6L-126.2 206.6L-127.2 202.4L-127.8 198.3L-128.5 194.1L-128.9 189.9L-129 185.6L-129.1 186.4M-104 225.8L-105.8 221.4L-107.7 217L-109.5 212.5L-111.2 208L-112.9 203.6L-114.4 199L-115.6 194.3L-115.5 194.5M-89.4 231.2L-90.8 226.3L-92.3 221.3L-93.8 216.4L-95.3 211.5L-96.9 206.6L-96.9 206.5M-75 232.7L-75.5 228L-75.8 223.4L-76.2 218.7L-76.1 219M-57.7 233.2L-57.3 228.8L-57.4 229.4M-1.8 240L0 235.9L-0.2 236.3M15.5 240.3L19.3 235.1L20.2 233.9M33.3 238.8L38.4 232.7L40.4 230.5M51.7 236.7L54.5 232.8L57.3 228.8L60.1 224.9L60 225M70.6 233.1L73.2 228.2L75.8 223.4L78.5 218.5L78.7 218.1M89.1 226.1L91.4 221.3L93.8 216.4L96.2 211.6L96.4 211.3M106.8 216.9L109 212.5L111.2 208L113.4 203.6L113.4 203.7M124.5 207.2L126.3 202.8L127.8 198.3L129.4 193.8L129.3 194M-114.7 203.1L-115.8 198.9L-116.6 194.7L-117.1 190.4L-117.3 186L-117.2 181.7L-117.1 177.4L-116.7 173.1L-116.1 168.8L-115.4 164.5L-115.5 165.1M-98.3 207L-99.5 203L-100.5 198.9L-101.3 194.8L-101.9 190.7L-102.5 186.5L-102.8 182.3L-102.8 178.1L-102.9 178.9M-84.6 208.5L-85.3 203.5L-86 198.4L-86.7 193.3L-86.7 193.1M-70.5 211.4L-69.5 204.7L-69.2 203M-54.6 214.3L-52.5 209.7L-52.5 209.7M13.6 218.8L17.7 215.5L17.9 215.3M30 217.6L35.2 213.3L36.6 212.2M46.6 215.9L49.6 212.9L52.5 209.7L55.5 206.6L55 207.1M63.3 213.7L66.4 209.2L69.5 204.7L72.6 200.2L72.8 199.8M79.9 209.3L81.9 205.7L84 202L86 198.4L88 194.7L90 191L89.6 191.7M96.7 202L98.5 198.3L100.3 194.5L101.9 190.7L103.6 186.8L105 182.9L104.8 183.7M114.5 192.5L116.1 187.2L117.2 181.7L118.2 176.2L118.3 175.6M-108.7 188.6L-108.8 183.9L-108.6 179.2L-108.1 174.5L-107.4 169.8L-106.5 165.1L-105.6 160.5L-104.6 155.9L-103.5 151.3L-102.4 146.7L-102.5 146.9M-93.6 188.8L-93.7 183.6L-93.3 178.4L-92.6 173.3L-91.9 168.1L-91 163L-91 162.8M-79 188.3L-78.7 184.3L-78.2 180.3L-77.6 176.3L-77.8 177.2M-64.7 190.9L-63.2 186.1L-63.1 186M-50.3 194.6L-47.7 190.6L-47.9 190.8M12.1 197.6L16.1 195.8L15.5 196.1M27.2 196.3L32 193.9L32.3 193.7M42.1 194.4L47.7 190.6L49.3 189.6M56.7 192.4L59.9 189.3L63.2 186.1L66.4 182.9L66.1 183.2M71.8 189.8L75.1 185.1L78.2 180.3L81.2 175.4L81.6 174.8M88.1 185.5L89.9 181.5L91.4 177.5L92.6 173.3L93.8 169.1L94.7 164.9L94.6 165.5M105.7 178.2L106.3 173.9L106.6 169.5L106.5 165.1L106.4 160.8L105.9 156.4L106 157M-107.2 168.4L-106.4 164.4L-105.5 160.4L-104.6 156.4L-103.7 152.5L-102.7 148.5L-101.8 144.5L-100.9 140.6L-100 136.6L-99.3 132.6L-98.7 128.6L-98.4 124.5L-98.4 125.4M-86.9 171.5L-85.8 166.3L-84.6 161.1L-83.3 155.9L-82.1 150.8L-80.9 145.6L-80.8 145.2M-65.3 170.6L-63.6 165L-63.4 164.1M38.1 172.4L43 171.5L42.9 171.5M58 169.2L63.6 165L65.3 163.7M81.4 167.1L82.8 161.6L83.3 155.9L83.9 150.3L83.8 149.5M106.2 158.9L105 154L103.6 149.2L101.8 144.5L100.1 139.9L98.1 135.2L98.1 135.2M-94.3 151.6L-93.3 147L-92.3 142.4L-91.5 137.8L-90.8 133.1L-90.5 128.4L-90.1 123.8L-90 119.1L-90.1 114.4L-90.5 109.7L-90.5 110M-77 153.9L-75.9 148.8L-74.9 143.7L-74.1 138.5L-73.2 133.4L-72.6 128.3L-72.5 128M-57.9 152.7L-56.5 146.6L-56.2 145.3M76.5 145.9L74.1 138.5L73.2 136M97.1 142.2L95.1 137.5L92.9 132.9L90.5 128.4L88.1 123.9L85.4 119.6L85.4 119.5M-79.4 132.7L-79 128.6L-78.8 124.6L-78.8 120.5L-78.9 116.4L-79.1 112.3L-79.4 108.3L-79.8 104.2L-80.3 100.2L-80.9 96.1L-80.7 97M-65.9 134.5L-65.4 130.1L-65 125.6L-64.8 121.2L-64.5 116.7L-64.3 112.2L-64.3 112.8M-50.4 134.5L-49.4 128.2L-49.2 126.8M70.2 123.5L64.8 121.2L63.9 120.8M86.5 120.7L83 116.3L79.1 112.3L75.2 108.3L74.8 107.9M-56.2 114.3L-55.8 109L-55.5 103.8L-55.1 98.6L-55.1 98.3M-38.8 116.3L-37.8 111.5L-37.8 111.4M60.6 104.8L55.5 103.8L55.2 103.8" fill="none" stroke="#fff" stroke-width="1.9" stroke-linecap="butt" stroke-linejoin="round"/>
<path d="M-308 433L-299 434.8L-304 436L-303.7 441.1ZM-290.2 445.5L-281 445.7L-285.7 447.7L-284.5 452.7ZM-271.7 457L-262.6 456.8L-267.2 459L-265.7 463.9ZM-252.8 467.6L-243.6 467.7L-248.3 469.7L-247 474.7ZM-233.2 477.2L-224.1 478.3L-229 479.8L-228.3 484.9ZM-213.4 486.1L-204.4 487.8L-209.4 489L-209 494.1ZM-193.2 497.3L-189 489.2L-189.3 494.3L-184.3 495.3ZM-172.1 505.3L-171.2 496.2L-169.5 501.1L-164.5 500.2ZM-152.1 511.4L-148.3 503.1L-148.3 508.2L-143.2 509.1ZM-132 515.6L-123.9 511.3L-127 515.4L-123.5 519.1ZM-112.4 516.1L-103.7 518.9L-108.8 519.5L-109 524.6ZM-95.1 513.3L-86.8 517.2L-91.9 517.2L-92.8 522.2ZM-75.5 515.2L-67.3 519.2L-72.4 519.1L-73.3 524.1ZM-51.6 524.4L-42.5 525.8L-47.4 527.2L-46.9 532.3ZM-27.2 528.3L-18 528.4L-22.7 530.5L-21.4 535.5ZM-3.9 528.1L5 530.5L-0.1 531.3L-0.1 536.4ZM18.6 527.1L26.8 531.1L21.7 530.9L20.8 536ZM41.2 526.8L49.4 530.9L44.3 530.7L43.3 535.7ZM64.2 529.8L63.3 520.6L65.9 525.1L70.7 523.2ZM87.7 527.7L81.4 521.1L86.1 523L88.8 518.6ZM107.6 517.8L112.6 525.6L108.3 522.8L104.8 526.6ZM122.6 503.7L130.2 508.9L125.2 508L123.5 512.9ZM138.2 491.7L146.1 496.3L141 495.8L139.7 500.7ZM161 488.4L168.8 493.3L163.7 492.6L162.2 497.5ZM181.5 482.6L189.5 486.9L184.4 486.6L183.2 491.6ZM200.3 473.8L208.5 477.8L203.4 477.7L202.4 482.7ZM221.4 467.2L229.6 471.2L224.5 471.1L223.6 476.1ZM243.1 461.1L251.6 464.5L246.5 464.8L245.9 469.9ZM265 453.6L273.6 456.7L268.5 457.1L268.1 462.2ZM286.2 443.4L293.6 448.8L288.6 447.8L286.8 452.6ZM305.4 431.1L310.7 438.6L306.3 436L303 439.9ZM-296.8 417.1L-287.7 418L-292.5 419.6L-291.6 424.7ZM-279.7 429.3L-270.6 428.2L-274.9 430.8L-273 435.6ZM-261.9 440.5L-252.9 438.6L-257.1 441.6L-254.7 446.2ZM-243.7 450.9L-234.9 448.3L-238.8 451.7L-236.1 456ZM-225 460.3L-216.2 458L-220.1 461.2L-217.6 465.6ZM-201.1 469.9L-209.9 472.3L-206 469.1L-208.6 464.7ZM-182.5 479.3L-190.9 475.7L-185.8 475.6L-185.2 470.5ZM-165.7 486.8L-165.2 477.6L-163.3 482.4L-158.3 481.2ZM-147 491.3L-139.4 486.1L-142.1 490.5L-138.2 493.8ZM-128.2 495.1L-119.1 493.9L-123.5 496.6L-121.5 501.4ZM-111.3 494.6L-102.4 496.9L-107.5 497.8L-107.4 502.9ZM-95 491.3L-86.6 495L-91.7 495.1L-92.4 500.1ZM-72 497L-63.7 500.9L-68.8 500.8L-69.7 505.9ZM-47.5 506.5L-38.4 507.6L-43.2 509.1L-42.5 514.2ZM-24.4 509.8L-15.2 509.5L-19.8 511.8L-18.3 516.6ZM-2.3 509.3L6.2 512.6L1.1 512.9L0.6 518ZM19.7 507.7L26.1 514.3L21.3 512.4L18.7 516.8ZM41.8 506.9L45.7 515.2L41.8 511.9L37.9 515.2ZM65.1 507.7L57.1 512.1L60.2 508L56.6 504.3ZM84.1 508L78.3 500.9L82.9 503.1L85.9 499ZM101.4 500.9L109.9 497.4L106.4 501.1L109.6 505.2ZM115.2 485.6L123.8 488.9L118.7 489.2L118.1 494.3ZM130.9 474L139.4 477.4L134.3 477.6L133.7 482.7ZM153.5 469.8L161.7 473.8L156.6 473.7L155.7 478.7ZM173.4 463.8L181.7 467.8L176.6 467.7L175.7 472.7ZM192.3 455.6L200.6 459.5L195.4 459.4L194.6 464.5ZM213.4 448.3L221.4 452.7L216.3 452.3L215.1 457.3ZM235 442.1L242.8 446.9L237.7 446.3L236.2 451.2ZM256.5 435.4L263.8 440.9L258.8 439.8L256.9 444.6ZM276.7 426.4L281.9 433.9L277.5 431.3L274.2 435.3ZM294.6 415L298.6 423.3L294.7 420L290.8 423.3ZM-285.7 401.6L-276.7 400.1L-280.9 402.9L-278.8 407.6ZM-269.1 413.3L-260.5 410.1L-264.1 413.7L-261.2 417.9ZM-252 424.3L-244.1 419.6L-247 423.8L-243.3 427.4ZM-234.2 434.9L-228.1 428.1L-229.6 432.9L-225.1 435.2ZM-215.8 444.7L-212.4 436.2L-212.2 441.3L-207.1 441.9ZM-196.4 453.8L-197.7 444.7L-195 449L-190.3 447ZM-177.8 461.4L-179.1 452.4L-176.4 456.7L-171.7 454.6ZM-160.3 464.6L-151.2 465.7L-156.1 467.2L-155.3 472.3ZM-140.9 470.4L-132 472.5L-137 473.5L-136.8 478.6ZM-124.4 473.1L-115.5 475.6L-120.6 476.3L-120.7 481.5ZM-109.1 471.6L-100.7 475.1L-105.8 475.3L-106.5 480.3ZM-90.5 471.8L-82.4 476.1L-87.6 475.8L-88.7 480.8ZM-65.9 480.5L-57.9 485.1L-63 484.6L-64.3 489.5ZM-42.4 487.9L-34 491.6L-39.1 491.6L-39.9 496.7ZM-21.3 489.4L-13.9 494.8L-18.9 493.8L-20.8 498.5ZM0.1 489.5L3.6 498L-0.1 494.5L-4.2 497.6ZM20.7 488.5L23.1 497.3L19.8 493.4L15.4 496ZM41.3 487.3L42.2 496.4L39.6 492L34.8 493.8ZM61.7 486.3L59.9 495.3L58.7 490.3L53.6 490.6ZM80.2 487.9L76 479.8L80.1 483L83.8 479.5ZM96.3 481.5L104.8 478.1L101.3 481.8L104.4 485.9ZM106.8 468.1L115.9 469L111.1 470.7L111.9 475.7ZM122.6 458.3L131.7 459.7L126.8 461.1L127.3 466.2ZM144.9 453.2L153.8 455.4L148.7 456.3L148.8 461.4ZM164.6 446.3L173.4 449L168.3 449.7L168.1 454.8ZM184.1 438.6L192.7 441.8L187.6 442.2L187.2 447.3ZM204.9 431.1L213.1 435.1L208 435L207.1 440ZM226.2 424.1L233.8 429.3L228.7 428.4L227 433.3ZM247 417.6L253.6 423.9L248.8 422.2L246.3 426.7ZM265.9 409.5L271.2 417L266.8 414.4L263.5 418.3ZM282.6 399.3L288.3 406.5L283.7 404.1L280.6 408.2ZM-274.4 385.9L-265.8 382.9L-269.5 386.4L-266.6 390.6ZM-258.4 397.3L-250.8 392.2L-253.5 396.6L-249.6 400ZM-241.8 407.9L-235.3 401.5L-237.1 406.3L-232.7 408.8ZM-225 417.5L-218.8 410.7L-220.3 415.6L-215.8 417.9ZM-207.8 426L-200.9 420L-203 424.6L-198.8 427.5ZM-190.3 433.7L-182.6 428.7L-185.4 433L-181.6 436.4ZM-172.4 440.3L-163.7 437.7L-167.5 441L-164.8 445.4ZM-153.9 445.8L-144.8 447.3L-149.8 448.6L-149.2 453.7ZM-136.8 449.5L-128.3 452.8L-133.4 453.1L-133.9 458.2ZM-121 450.5L-112.8 454.4L-117.9 454.3L-118.8 459.4ZM-104.6 450.1L-96.6 454.7L-101.7 454.2L-103 459.2ZM-83.1 455.3L-75.6 460.6L-80.6 459.6L-82.4 464.4ZM-59.7 463.6L-53.2 470L-58 468.3L-60.5 472.7ZM-37.7 468.4L-36.9 477.5L-39.4 473L-44.3 474.8ZM-17.1 470.8L-22.7 478L-21.5 473L-26.3 471.1ZM1.5 470.3L-0.5 479.3L-1.5 474.3L-6.6 474.5ZM20.4 468.8L21.3 477.9L18.7 473.5L14 475.4ZM39.3 467.7L41.3 476.6L38.2 472.5L33.7 474.9ZM58.1 466.3L61 475L57.5 471.2L53.2 474ZM75.1 464.3L83.8 467L78.8 467.7L78.6 472.8ZM87.2 459.4L96.3 458.4L91.9 461.1L93.8 465.8ZM97 450.2L106.1 449.5L101.6 452L103.3 456.8ZM114.4 443.3L123.6 443.1L119 445.3L120.5 450.2ZM135.8 438.5L145 438.3L140.4 440.6L141.8 445.5ZM155 431.5L164.2 431.5L159.5 433.6L160.9 438.6ZM174.7 423.7L183.8 424.6L179 426.2L179.9 431.3ZM195.7 415.9L204.5 418.3L199.5 419.1L199.4 424.2ZM216.7 407.9L224.7 412.4L219.6 411.9L218.3 416.9ZM236.5 400.5L243.5 406.4L238.6 405L236.4 409.7ZM254.1 392.6L260.9 398.8L256 397.2L253.7 401.8ZM269.6 383.3L277.9 387.3L272.8 387.1L271.8 392.2ZM-263.9 370L-255.5 366.2L-258.9 370L-255.6 374ZM-248.1 381.2L-241.3 375.1L-243.3 379.8L-239 382.6ZM-231.8 391L-225.5 384.4L-227.2 389.2L-222.7 391.7ZM-215.8 399.4L-207.9 394.8L-210.9 398.9L-207.2 402.6ZM-199.3 407.2L-190.6 404.4L-194.4 407.9L-191.6 412.2ZM-183.1 414.8L-174.3 412.2L-178.2 415.5L-175.5 419.9ZM-166.5 421.4L-157.6 419.5L-161.7 422.6L-159.4 427.1ZM-149.8 426.2L-140.6 426.8L-145.4 428.6L-144.4 433.6ZM-133.4 428.5L-124.8 431.7L-129.9 432.1L-130.4 437.2ZM-117.3 429.5L-109.1 433.5L-114.2 433.4L-115.1 438.4ZM-98.4 432.2L-90.8 437.2L-95.8 436.5L-97.4 441.3ZM-76.5 439.2L-69.9 445.6L-74.7 443.8L-77.2 448.3ZM-55.2 445.9L-51.8 454.4L-55.5 450.9L-59.6 453.9ZM-34.9 449.7L-39.7 457.5L-39.1 452.5L-44 451.1ZM-16.2 451.2L-22.3 458.1L-20.8 453.2L-25.4 450.9ZM1 450.3L1.1 459.5L-1 454.9L-6 456.2ZM18.5 448.9L22.4 457.2L18.5 453.9L14.6 457.2ZM35.6 447.6L42.3 453.9L37.4 452.2L35 456.7ZM51.9 446.4L60.9 448.6L55.8 449.5L56 454.7ZM65.4 443L74.5 442.8L69.9 445L71.4 449.9ZM75.7 436.8L84.8 436.4L80.3 438.7L81.8 443.6ZM88.5 430.5L97.7 430.1L93.1 432.4L94.7 437.3ZM107 426.4L116.2 425.7L111.7 428.1L113.4 433ZM126.1 422.8L135.2 421.6L130.9 424.3L132.9 429ZM145.1 417.8L154 415.7L150 418.8L152.4 423.3ZM165.9 410.3L174.9 408.7L170.7 411.6L172.9 416.2ZM187.9 401.5L197 402.6L192.1 404.1L192.9 409.2ZM207.7 392.4L216.1 396.2L210.9 396.2L210.1 401.2ZM225.6 384L233.4 388.9L228.3 388.2L226.8 393.1ZM241.8 375.8L249.9 380.1L244.8 379.8L243.7 384.8ZM256.2 366.9L265.3 368.6L260.3 369.8L260.7 374.9ZM-253.4 354.2L-245.4 349.8L-248.5 353.9L-244.9 357.5ZM-238.4 365.3L-232 358.7L-233.7 363.5L-229.2 365.9ZM-222.7 373.9L-215.6 368.1L-217.9 372.7L-213.7 375.7ZM-207.4 381L-198.4 379.2L-202.6 382.2L-200.3 386.7ZM-192.6 388.1L-183.5 387.5L-188 389.9L-186.4 394.8ZM-177.8 395.5L-168.7 394.2L-173 396.9L-171 401.6ZM-162.4 402L-153.4 400.5L-157.7 403.4L-155.6 408ZM-146.7 406.6L-137.6 406.1L-142.1 408.5L-140.5 413.3ZM-130.6 408.9L-121.6 410.4L-126.6 411.7L-126.1 416.8ZM-112.9 411.1L-104.4 414.5L-109.5 414.7L-110.1 419.8ZM-92.8 416L-85 420.9L-90.1 420.2L-91.5 425.1ZM-72.1 422.4L-65.8 429L-70.5 427.1L-73.1 431.5ZM-53 427.1L-49.1 435.5L-53 432.1L-56.9 435.4ZM-34.6 429.1L-33.3 438.1L-36.1 433.8L-40.8 435.9ZM-18.8 430.3L-11.7 436.1L-16.6 434.8L-18.7 439.5ZM-1.4 430.9L6.5 435.4L1.4 434.9L0.2 439.9ZM15.5 429.2L23.3 434L18.2 433.4L16.8 438.3ZM31.4 426.7L39.7 430.5L34.6 430.5L33.7 435.6ZM45.2 424.1L54.2 425.9L49.2 427.1L49.6 432.2ZM56.5 419.6L65.6 420.3L60.8 422.1L61.8 427.1ZM67.9 414.1L77 414.4L72.3 416.3L73.5 421.3ZM83.6 410.2L92.7 410.3L88.1 412.4L89.4 417.3ZM100.3 406.8L109.5 406.5L104.9 408.8L106.4 413.6ZM118.6 404.1L127.7 403.1L123.3 405.7L125.2 410.5ZM139.7 401.4L148.6 399.1L144.6 402.3L147.1 406.7ZM162.5 395.1L171.4 392.8L167.4 396L170 400.5ZM182.7 385.6L191.7 387.5L186.7 388.6L187 393.7ZM198.8 376.2L207.3 379.5L202.2 379.8L201.7 384.9ZM214.2 368L222.9 370.9L217.8 371.4L217.4 376.5ZM228.6 359.7L237.7 361.2L232.7 362.5L233.2 367.6ZM242.2 351.1L251.4 350.6L246.9 353L248.5 357.8ZM-244.4 338.1L-236.3 333.8L-239.4 337.9L-235.9 341.6ZM-230.3 348.6L-223 343.1L-225.5 347.6L-221.4 350.7ZM-215.5 356.1L-207.2 352.2L-210.5 356.1L-207.2 360ZM-200.7 361.9L-191.6 361.5L-196.1 363.8L-194.6 368.7ZM-186.4 368.5L-177.3 368.9L-182.1 370.8L-181 375.8ZM-172.3 375.6L-163.1 375.5L-167.7 377.7L-166.4 382.6ZM-157.9 382L-148.8 381.3L-153.3 383.8L-151.6 388.6ZM-142.9 387L-133.7 386.5L-138.3 388.9L-136.7 393.8ZM-126.3 390.8L-117.2 391.3L-121.9 393.1L-120.9 398.2ZM-107.7 394.8L-98.8 396.8L-103.8 397.8L-103.6 403ZM-88.3 399.8L-79.8 403.3L-85 403.4L-85.6 408.5ZM-70.1 404.7L-61.6 408.1L-66.7 408.3L-67.3 413.4ZM-53.1 408.4L-44.1 409.7L-49 411.1L-48.3 416.2ZM-37 410.9L-28 409.4L-32.2 412.3L-30.1 416.9ZM-21.1 412.1L-12.3 409.7L-16.2 413L-13.6 417.4ZM-5.1 412.1L3.9 410L-0.2 413.2L2.2 417.7ZM10.6 410.1L19.7 409.8L15.1 412.1L16.6 417ZM24.3 406.4L33.5 406.9L28.7 408.8L29.8 413.8ZM36.1 402.1L45.3 402.5L40.5 404.4L41.7 409.4ZM47.5 397.6L56.7 397.9L52 399.9L53.2 404.9ZM61.7 394.1L70.8 394.1L66.2 396.2L67.5 401.2ZM77.3 390.8L86.5 390.5L81.9 392.8L83.4 397.7ZM94.4 387.8L103.6 387.2L99.1 389.6L100.7 394.5ZM116.4 386.3L125.5 385.2L121.2 387.9L123.1 392.6ZM140.3 384L149.1 381.7L145.1 384.9L147.7 389.4ZM160.5 378L169.5 376.5L165.3 379.4L167.4 384ZM174.3 368.9L183.4 369.7L178.6 371.4L179.5 376.5ZM186.5 360.8L195.7 360.2L191.1 362.6L192.8 367.4ZM200.8 353.3L209.8 351.9L205.6 354.7L207.7 359.3ZM214.1 345L223 342.9L219 346L221.4 350.5ZM228 336.6L236.7 333.7L233 337.2L235.8 341.5ZM-235.6 320.7L-226.9 317.9L-230.7 321.3L-227.9 325.6ZM-223.6 330.6L-215.3 326.7L-218.6 330.6L-215.3 334.5ZM-210.5 338L-201.9 334.7L-205.5 338.3L-202.5 342.5ZM-196.1 343.6L-187.1 342.1L-191.4 345L-189.3 349.6ZM-181.4 349.6L-172.2 349.5L-176.8 351.7L-175.4 356.6ZM-166.8 356.2L-157.6 356.2L-162.3 358.3L-161 363.3ZM-152.2 362.6L-143 362.4L-147.6 364.6L-146.1 369.5ZM-136.8 368.5L-127.6 368L-132.2 370.4L-130.5 375.2ZM-120.3 373.7L-111.2 373.2L-115.7 375.5L-114.1 380.4ZM-103.2 378.2L-94.1 378L-98.7 380.2L-97.3 385.2ZM-86.6 382.2L-77.4 382.2L-82 384.3L-80.7 389.3ZM-70.9 385.7L-61.7 385L-66.2 387.5L-64.5 392.3ZM-55.9 388.5L-46.9 387L-51.1 389.8L-49 394.5ZM-41.1 390.9L-32.3 388.4L-36.2 391.7L-33.5 396.1ZM-25.8 392.7L-17.3 389.3L-20.9 393L-17.8 397.1ZM-10.5 393.1L-2.1 389.5L-5.5 393.3L-2.3 397.3ZM3.4 391.4L12.1 388.3L8.4 391.9L11.4 396ZM15.1 387L24.1 384.9L20 388L22.4 392.5ZM26.4 381.5L35.6 380.5L31.2 383.1L33 387.9ZM40.1 377.5L49.3 377.2L44.7 379.5L46.3 384.4ZM55.1 374.7L64.3 374.4L59.7 376.7L61.2 381.6ZM71.3 372.2L80.5 371.7L75.9 374L77.6 378.9ZM93.1 371.1L102.2 370.2L97.7 372.8L99.5 377.6ZM117.4 370L126.5 368.6L122.2 371.4L124.3 376.1ZM137.3 366.6L145.9 363.7L142.2 367.2L145.1 371.5ZM149.7 360.7L158.2 357.2L154.7 360.9L157.8 365ZM159.6 353.4L168.2 350.1L164.6 353.8L167.7 357.9ZM173 346.3L181.5 342.8L178 346.6L181.1 350.6ZM187.4 338.8L195.8 335.1L192.4 338.9L195.6 342.9ZM201 330.1L209.5 326.6L206 330.3L209.1 334.4ZM216.1 321.6L224.5 317.9L221.1 321.7L224.3 325.7ZM-213.3 311.8L-204.3 309.7L-208.4 312.9L-205.9 317.4ZM-189.5 325.6L-180.4 324.1L-184.7 327L-182.5 331.6ZM-161.3 338.2L-152.1 337.5L-156.6 340L-154.9 344.8ZM-131.8 350.6L-122.7 349.3L-127 352L-125 356.7ZM-102.7 359.6L-93.7 357.9L-97.8 360.8L-95.6 365.4ZM-75.6 365.4L-66.6 363.5L-70.7 366.5L-68.4 371.1ZM-47.9 371.1L-39.2 368.4L-43 371.8L-40.2 376.1ZM-17.4 374.8L-9.4 370.3L-12.5 374.4L-8.9 378.1ZM6.9 368.2L15.4 364.8L11.8 368.5L14.9 372.6ZM34.2 358.4L43.3 357.4L38.9 360L40.8 364.8ZM71.8 355.5L80.9 354.8L76.4 357.3L78.1 362.1ZM115 352.8L124 350.8L119.9 353.9L122.2 358.4ZM136.9 341L145.8 338.7L141.8 342L144.3 346.4ZM165.1 328.4L173.8 325.6L170 329L172.8 333.3ZM193.2 311.6L202.3 310.3L198 313.1L200 317.8ZM-199.7 293.3L-190.5 294L-195.3 295.7L-194.3 300.8ZM-177.8 307L-168.6 307.2L-173.3 309.2L-172.1 314.2ZM-153.6 320.1L-144.5 319.4L-149 321.9L-147.3 326.7ZM-129.2 331L-120.1 329.6L-124.4 332.4L-122.3 337.1ZM-105 338.9L-96 337.1L-100.1 340.1L-97.8 344.7ZM-80 344.2L-71.1 342.3L-75.2 345.3L-72.9 349.9ZM-51.3 351.1L-42.4 348.6L-46.3 351.9L-43.7 356.3ZM-22.1 356.5L-14.3 351.7L-17.2 355.9L-13.5 359.4ZM2.3 349.3L10.7 345.5L7.3 349.3L10.6 353.3ZM32.1 340L41.2 338.9L36.8 341.5L38.8 346.3ZM76.7 339.9L85.9 339.3L81.4 341.7L83 346.6ZM107.8 332.8L117 332.4L112.4 334.7L114 339.6ZM131.5 319.8L140.6 320.7L135.8 322.3L136.6 327.4ZM160.3 308.5L169.5 309.3L164.6 311L165.6 316ZM187 292.6L195.6 295.8L190.5 296.2L190 301.3ZM-185.8 276.2L-177.3 279.5L-182.4 279.8L-183 284.9ZM-163.1 289.2L-154.6 292.5L-159.7 292.8L-160.2 297.9ZM-142.1 299.1L-133.4 301.8L-138.5 302.4L-138.6 307.5ZM-123.4 307.8L-114.3 309.2L-119.2 310.6L-118.7 315.7ZM-101.5 317.3L-92.3 316.7L-96.8 319.1L-95.2 323.9ZM-73.1 324.7L-64 323.3L-68.3 326.1L-66.3 330.8ZM-43.1 331.5L-34.3 329L-38.2 332.3L-35.5 336.7ZM-20.5 333.9L-12.2 330L-15.5 333.9L-12.2 337.8ZM2.8 327.8L11.7 325.4L7.8 328.7L10.4 333.1ZM39.2 322.7L48.3 322.8L43.6 324.9L44.9 329.9ZM78.1 322.3L87.2 323.6L82.3 325L82.9 330.1ZM102.1 312.1L111 314.5L105.9 315.3L105.9 320.4ZM127.8 300.1L135.8 304.5L130.7 304.2L129.6 309.1ZM154.7 288.8L161.8 294.6L156.8 293.3L154.8 297.9ZM179.6 274.4L185.3 281.5L180.8 279.2L177.8 283.3ZM-173.7 259.9L-165.8 264.5L-170.9 264L-172.2 269ZM-151.1 271.1L-144.2 277.2L-149.1 275.7L-151.4 280.3ZM-130.4 276.2L-124 282.8L-128.8 280.9L-131.3 285.4ZM-112 284.6L-104.4 289.7L-109.4 288.8L-111.1 293.7ZM-89.4 298.6L-80.3 299.5L-85.1 301.1L-84.3 306.2ZM-61.4 306.9L-52.3 306L-56.7 308.6L-54.9 313.4ZM-36.4 309.4L-27.3 308.9L-31.8 311.3L-30.2 316.1ZM-15.2 307.5L-6 308.1L-10.8 309.9L-9.8 314.9ZM12.3 306.6L21.5 307.3L16.7 309L17.6 314.1ZM46.8 305.8L55.3 309.1L50.2 309.4L49.7 314.5ZM75.2 302.5L82.2 308.4L77.3 307L75.2 311.7ZM97.6 292.2L105.3 297.2L100.2 296.5L98.6 301.3ZM122.3 281.9L129.1 288L124.2 286.4L121.9 291ZM147.6 270.7L152.4 278.5L148.1 275.6L144.6 279.3ZM170.7 256.8L174.4 265.2L170.6 261.8L166.6 265ZM-162.5 243.7L-154.8 248.7L-159.9 247.9L-161.4 252.8ZM-141.6 252.7L-135.2 259.3L-140 257.4L-142.6 261.8ZM-122 253.6L-116 260.6L-120.7 258.4L-123.6 262.6ZM-101.9 264.9L-95.3 271.3L-100.1 269.6L-102.6 274ZM-79.6 281.2L-70.6 282.7L-75.6 284L-75.1 289.1ZM-54.8 288.1L-45.6 287.9L-50.2 290.1L-48.8 295ZM-31.4 287.6L-22.6 290.1L-27.7 290.8L-27.7 296ZM-6 286L1.7 291.1L-3.4 290.3L-5 295.1ZM20.7 287L27.8 292.7L22.9 291.5L20.8 296.2ZM48.1 286.7L51.9 295L48 291.7L44.1 294.9ZM71.3 282.2L75.9 290.2L71.8 287.2L68.2 290.8ZM93.3 272.9L99 280.1L94.4 277.8L91.4 281.9ZM116.5 263.2L121.3 271L117 268.2L113.6 271.9ZM139.6 253.5L142.8 262.1L139.2 258.5L135 261.5ZM160.8 240.3L163.7 249L160.2 245.3L155.9 248.1ZM-151 226L-144.6 232.6L-149.4 230.8L-152 235.2ZM-134.2 232.6L-127.2 238.5L-132.1 237.1L-134.3 241.8ZM-116.5 232.9L-109.7 239.1L-114.6 237.5L-116.9 242.1ZM-94.4 246.2L-87.9 252.7L-92.7 250.9L-95.3 255.3ZM-73 263.2L-63.9 264.3L-68.8 265.8L-68.1 270.9ZM-50.3 269.1L-41.1 269.1L-45.7 271.2L-44.3 276.1ZM-26.4 268.8L-18.4 273.4L-23.5 272.9L-24.9 277.8ZM-1.2 267.4L3.6 275.2L-0.6 272.3L-4.1 276ZM23.5 267.2L26.2 276L22.8 272.2L18.5 274.9ZM47.1 266.1L47.6 275.2L45.2 270.7L40.4 272.3ZM68.2 261.5L70.1 270.5L67 266.4L62.5 268.7ZM89.3 253.9L92.2 262.6L88.7 258.8L84.4 261.7ZM111.3 244.2L113.1 253.2L110.1 249.1L105.5 251.4ZM132.2 234.3L133.5 243.4L130.8 239.1L126.1 241.1ZM151.5 223.2L152.9 232.2L150.1 228L145.4 230.1ZM-140.3 205L-135.3 212.7L-139.6 210L-143.1 213.8ZM-127.3 209.9L-120.6 216.2L-125.5 214.5L-127.9 219.1ZM-109.4 215.3L-102.5 221.4L-107.4 219.9L-109.7 224.5ZM-85.5 229.6L-79.8 236.7L-84.3 234.4L-87.4 238.5ZM-64.8 244L-56.9 248.7L-62 248.1L-63.4 253ZM-44.1 250.3L-35.1 252.2L-40.1 253.3L-39.9 258.4ZM-21.8 251.2L-15.9 258.2L-20.5 256L-23.4 260.3ZM1.1 249.3L3.5 258.1L0.2 254.2L-4.2 256.8ZM23.9 248.1L24 257.3L21.8 252.6L16.9 254.1ZM45.6 245.7L44.6 254.8L43 249.9L38 250.7ZM65.9 240.6L65.5 249.7L63.6 245L58.6 246.2ZM85.4 234.2L85.7 243.4L83.5 238.8L78.6 240.3ZM105 226.5L105.3 235.6L103.1 231.1L98.2 232.6ZM124.6 216.2L124.7 225.4L122.5 220.7L117.6 222.1ZM142.5 204.2L143.4 213.3L140.8 208.9L136 210.7ZM-128.9 181.4L-125.3 189.8L-129.1 186.4L-133.1 189.6ZM-116.4 189.6L-111.1 197.1L-115.5 194.5L-118.8 198.5ZM-98.4 201.7L-92.2 208.5L-96.9 206.5L-99.7 210.8ZM-76.4 214.1L-72.1 222.2L-76.1 219L-79.9 222.5ZM-57 224.5L-53.7 233L-57.4 229.4L-61.5 232.4ZM-38.3 230.3L-34.9 238.8L-38.6 235.2L-42.7 238.3ZM-18.6 232.7L-17.1 241.7L-19.9 237.5L-24.6 239.7ZM1.8 231.8L2 241L-0.2 236.3L-5.1 237.8ZM23.1 229.9L21.4 238.9L20.2 233.9L15 234.3ZM43.6 226.7L41.2 235.5L40.4 230.5L35.2 230.5ZM62.9 220.9L61.3 230L60 225L54.9 225.5ZM81.1 213.7L80.5 222.9L78.7 218.1L73.7 219.1ZM98.6 206.8L98.4 216L96.4 211.3L91.4 212.5ZM115.5 199.2L115.4 208.4L113.4 203.7L108.4 205ZM130.6 189.2L132.2 198.2L129.3 194L124.7 196.2ZM-114.5 160.3L-112.3 169.2L-115.5 165.1L-120 167.6ZM-102.6 173.9L-99.2 182.5L-102.9 178.9L-106.9 182ZM-87.1 188.2L-82.5 196.1L-86.7 193.1L-90.3 196.8ZM-68.5 198.1L-65.9 206.8L-69.2 203L-73.6 205.7ZM-50.5 205.1L-50.3 214.3L-52.5 209.7L-57.4 211.1ZM-33.2 210.8L-35.4 219.7L-36.3 214.7L-41.5 214.8ZM-15.5 213.9L-19.8 222L-19.5 216.9L-24.5 215.8ZM2.8 213.9L-1.1 222.2L-1 217.1L-6.1 216.2ZM21.7 212.2L17.7 220.4L17.9 215.3L12.8 214.4ZM40.4 209L36.5 217.3L36.6 212.2L31.5 211.3ZM58.3 203.4L55.7 212.2L55 207.1L49.9 206.9ZM75.6 195.7L74.2 204.7L72.8 199.8L67.7 200.4ZM91.9 187.3L91.6 196.4L89.6 191.7L84.7 192.9ZM106.3 178.9L107.5 188L104.8 183.7L100.1 185.7ZM118.8 170.7L121.9 179.3L118.3 175.6L114.1 178.6ZM-101.3 142.1L-99.4 151L-102.5 146.9L-107 149.3ZM-89.9 158L-87.9 166.9L-91 162.8L-95.5 165.2ZM-77 172.3L-74.5 181.1L-77.8 177.2L-82.2 179.8ZM-61.6 181.2L-60.4 190.3L-63.1 186L-67.9 187.9ZM-45.1 186.7L-46.4 195.7L-47.9 190.8L-53 191.5ZM-28.9 191.1L-32.5 199.5L-32.6 194.4L-37.7 193.7ZM-12.9 194.1L-18.2 201.5L-17.2 196.5L-22 194.7ZM3.4 195L-2.5 202L-1.2 197L-5.8 194.9ZM20 194.1L14.1 201L15.5 196.1L10.8 193.9ZM36.8 191.5L31.1 198.7L32.3 193.7L27.6 191.7ZM53.4 186.8L48.7 194.7L49.3 189.6L44.3 188.2ZM69.5 179.6L66.6 188.3L66.1 183.2L60.9 182.9ZM83.9 170.4L83.5 179.5L81.6 174.8L76.6 175.9ZM95.1 160.6L98.2 169.2L94.6 165.5L90.4 168.4ZM105.1 152.1L110.5 159.5L106 157L102.8 161ZM-98.3 120.4L-94.6 128.9L-98.4 125.4L-102.4 128.6ZM-79.8 140.4L-77.7 149.3L-80.8 145.2L-85.3 147.7ZM-62 159.3L-60.6 168.4L-63.4 164.1L-68.1 166.2ZM-41 168.5L-42.3 177.6L-43.7 172.7L-48.8 173.4ZM-19 173.4L-23.1 181.6L-22.9 176.5L-27.9 175.5ZM2.9 175.6L-3.4 182.3L-1.7 177.5L-6.2 175.1ZM25.2 174.8L17.7 180.1L20.3 175.7L16.3 172.5ZM47.8 170.6L40.4 175.9L42.9 171.5L39 168.3ZM69.3 160.7L65 168.8L65.3 163.7L60.3 162.6ZM83.4 144.6L88 152.5L83.8 149.5L80.2 153.1ZM96 130.7L103 136.6L98.1 135.2L95.9 139.8ZM-91.2 105L-86.1 112.7L-90.5 110L-93.9 113.8ZM-72.1 123.1L-69 131.7L-72.5 128L-76.7 131ZM-55.1 140.4L-53.2 149.4L-56.2 145.3L-60.8 147.7ZM-37.1 149.9L-36.7 159.1L-39.1 154.5L-43.9 156.1ZM-17.5 154.1L-20.3 162.8L-20.9 157.7L-26 157.5ZM2.3 156.2L-3.9 162.9L-2.3 158L-6.8 155.6ZM21.7 156.3L13 159L16.8 155.6L14 151.3ZM41.7 154L32.5 154.1L37.1 151.9L35.7 147ZM59.6 146.4L51.5 150.8L54.6 146.7L51 143ZM71.6 131.2L77.9 137.9L73.2 136L70.6 140.4ZM82.5 115.4L90.5 120L85.4 119.5L84 124.4ZM-81.5 92.1L-76.3 99.7L-80.7 97L-84 100.9ZM-64.3 107.8L-60.5 116.1L-64.3 112.8L-68.3 116ZM-48.5 121.9L-45.9 130.6L-49.2 126.8L-53.6 129.5ZM-32.7 130.7L-31 139.7L-33.9 135.5L-38.5 137.7ZM-15.6 134.2L-16.3 143.3L-18.1 138.5L-23.1 139.4ZM2.3 136.4L-3.8 143.3L-2.3 138.4L-6.9 136.1ZM18.9 137.7L9.8 136.5L14.7 135L14 130ZM34.5 135.7L27.5 129.9L32.4 131.2L34.5 126.6ZM48.2 130.4L48.9 121.2L50.7 126L55.7 125ZM59.3 118.8L68.5 118.5L63.9 120.8L65.4 125.7ZM70.9 104.8L79.8 107.1L74.8 107.9L74.8 113.1ZM-54.8 93.3L-51.5 101.9L-55.1 98.3L-59.2 101.3ZM-36.9 106.6L-34.7 115.5L-37.8 111.4L-42.3 113.9ZM-18.4 113.7L-17.2 122.8L-19.9 118.5L-24.6 120.5ZM1.3 115.6L0.2 124.7L-1.3 119.8L-6.4 120.6ZM18.6 118.6L16.8 109.6L19.8 113.7L24.3 111.4ZM35.7 112.8L40.7 105.1L39.9 110.1L44.8 111.7ZM50.4 102.8L59.2 100.5L55.2 103.8L57.8 108.2Z" fill="#fff"/>
<use href="#coast"/>
</g>
<path d="M-66.5 86.4L-329.7 428.2A540.4 540.4 0 0 0 329.7 428.2L66.5 86.4A109 109 0 0 1 -66.5 86.4Z" fill="none" stroke="#111" stroke-width="1.3" stroke-linejoin="miter"/>
<g font-family='"Liberation Serif", serif' font-style="italic" font-size="29" text-anchor="middle" fill="#111">
<text transform="translate(-104.8 93.5) rotate(37.6)" y="9.5">N</text>
<text transform="translate(-138.9 132.8) rotate(37.6)" y="9.5">80</text>
<text transform="translate(-209.1 224) rotate(37.6)" y="9.5">75</text>
<text transform="translate(-280.5 316.7) rotate(37.6)" y="9.5">70</text>
<text transform="translate(-222.1 512.3) rotate(23.4)" y="9.5">110</text>
<text transform="translate(-45.6 556.5) rotate(4.7)" y="9.5">130</text>
<text transform="translate(135.7 541.7) rotate(-14.1)" y="9.5">150</text>
<text transform="translate(302.6 469.3) rotate(-32.8)" y="9.5">170 E</text>
</g>
</g>
<g transform="translate(1019.5 -14.3)">
<g clip-path="url(#wc)">
<path d="M-66.5 86.4L-329.7 428.2A540.4 540.4 0 0 0 329.7 428.2L66.5 86.4A109 109 0 0 1 -66.5 86.4Z" fill="#77c0a2"/>
<path d="M-345 75L345 75L345 552L46.7 552L42 545.8L30 538.6L18 534.8L3 533.6L-18 535.4L-30 538.6L-39 544.3L-42.9 549L-44.2 552L-345 552Z" fill="#78c47f"/>
<path d="M-345 75L345 75L345 552L70 552L67 546L61.6 540L48 530L30 522.8L21 521L12 520.4L-27 523.6L-39 526.1L-45 529.2L-51 534.4L-59.8 546L-62.6 552L-345 552Z" fill="#a0d088"/>
<path d="M-345 75L345 75L345 552L90.1 552L87.3 546L78.1 534L71.9 528L63.3 522L51 516.2L39 512.2L27 509.3L18 508.4L6 509.3L-18 513.1L-39 514.6L-48 517L-54 520.4L-59.1 525L-76.9 546L-80.4 552L-345 552Z" fill="#c9de8a"/>
<path d="M-345 75L345 75L345 552L112.8 552L109.2 546L93 525L86.9 519L78 513L66 507.5L51 502.7L30 497.6L18 496.4L6 497.4L-21 503.6L-48 505.7L-60 509.2L-69 515.9L-83.3 531L-100.1 546L-104.8 552L-345 552Z" fill="#f9e88d"/>
<path d="M-278.3 75L345 75L345 552L208.3 552L197.8 531L195.7 522L192.3 498L188.3 486L186 481.9L181.3 477L177 474.6L171 473.5L165 474.2L156 478.4L142.5 489L132 500.1L129 502.4L123 504.3L111 503.3L63 490.4L15 483.5L0 484.5L-21 491.7L-30 493.4L-45 494.1L-69 492.5L-78 493.6L-87 499.1L-100.3 516L-109.5 525L-123 535.3L-143.9 549L-146.5 552L-345 552L-345 308L-291 298.7L-276 295.3L-261 289.6L-250.4 282L-243 272.9L-236 258L-217.9 204L-213.1 183L-212.6 171L-214.1 159L-217.9 147L-225 133L-234 120L-244.3 108L-256.3 96L-273.5 81Z" fill="#f8c37a"/>
<path d="M-133.3 75L345 75L345 552L283.7 552L280.6 549L258 535.8L240 521.8L225 504.7L217.3 492L204 462.3L198 453.8L192 448.3L186 445L174 442.2L162 443.1L150 447.2L138 454.2L117 470.6L108 473.7L99 473.7L75 470.6L39 471.9L30 470.7L9 465.9L0 465.1L-9 466.9L-30 476.6L-39 478L-48 476.4L-57 471L-65.7 462L-78 446.1L-84 440.7L-90 437.7L-99 437.5L-105 439.8L-111 443.7L-122.8 456L-130.1 468L-143.6 498L-147.7 504L-153 509.2L-162 514.5L-174 518.9L-189 522.4L-207 524.9L-228 526L-246 525.4L-264 523.2L-279 519.8L-294 514.8L-306 509.1L-318.8 501L-329.2 492L-345 474.2L-345 411.1L-325.7 390L-315 381.6L-304.5 375L-258 352.5L-228.2 336L-204 326.3L-180 318.3L-174.1 315L-171.5 312L-170.4 306L-174.1 282L-172.8 270L-168 260.3L-159 252.6L-153 250.2L-147 249.4L-138 251.1L-129 257.3L-123 265.9L-118.7 279L-118.1 291L-120 301.4L-126.2 318L-126 321L-124.3 324L-120.3 327L-111 330.1L-90 332.1L-78 334.6L-39 350.7L-30 353.1L-24 353L-15 349.5L-9 345L-2.4 336L0.5 324L-0.6 309L-4.7 297L-15.1 279L-18.8 270L-20.2 261L-19.4 240L-20 231L-23 219L-30 202.9L-42.9 180L-57.5 159L-69 146.4L-93 125.5L-129.8 81Z" fill="#f4a56e"/>
<path d="M-28.2 75L345 75L345 505.6L315 496.9L270 487.1L258 482.7L249 477.9L240 471L231 460.4L216 432.6L210 424L201 416.2L189 411.5L177 410.7L162 413L106.2 432L56.6 447L42 449.5L29.2 447L-3 430.2L-12 427.4L-27 424.8L-31.4 423L-36 419.6L-39.9 414L-41.8 405L-39.3 399L-36 396.5L-24 393.2L0 392L12 390.5L24 387.1L36 381.9L51 373.4L64.4 363L71.6 354L74.3 348L75.5 342L74.6 333L72 327L57 304.6L48 287.1L38.8 264L33.5 246L29.1 225L27.5 210L27.8 198L32.5 168L31.7 159L28.1 147L21 132.8L9 115.4L-3 101.5L-24 81Z" fill="#f38e69"/>
<path d="M29.3 75L345 75L345 412.1L297 385.9L285 378.3L273 367.5L257.6 348L252 342.8L246 338.9L240 336.6L231 335.5L183 337.7L168 337L156 335.3L144 332.1L135 328L123 320.2L114 311.9L101.4 297L91 282L81.2 264L73.6 246L68.1 228L65.3 213L64.1 192L65 168L62.7 153L57 135L46.6 108Z" fill="#ee7b68"/>
<path d="M60.5 75L345 75L345 356.4L339 354.5L324 346.9L279 322.4L264 316.4L255 314.2L243 313.1L201 316.1L177 314.2L165 311.4L151.6 306L141.5 300L132 291.9L120.7 279L110.7 264L101.3 246L94.4 228L91.3 216L89.8 204L89.9 192L91.7 174L90.8 162L87.3 150L73.2 114Z" fill="#e6696a"/>
<path d="M83.7 75L345 75L345 313.5L300 298.3L273 292.6L249 291.7L210 295.8L198 295.5L189 294.2L177.2 291L168 287.1L159 281.8L150 274.6L139.9 264L129.1 249L122.4 237L116.2 222L112.9 207L113.2 177L111.6 165L106.7 150L91.3 114L88.4 102Z" fill="#d4626a"/>
<path d="M106.8 75L345 75L345 276.1L306 267.9L279 265L258 265.2L216 270.4L201 270.2L192 268.3L183 264.8L168.6 255L159 245L150.8 234L144 222.1L140.3 213L138 203.9L134.6 177L131.8 162L127.1 147L112.9 111L109.5 96Z" fill="#c05c64"/>
<use href="#grat"/>
<path d="M-84.6 520.5L-86.6 524.3L-86.2 523.7M-62.3 521.7L-65 527.4L-65.7 528.7M-39.1 524.9L-43.4 529.6L-44.4 530.7M-16 528.1L-21.7 531L-23 531.6M5.9 529.4L0 531.4L-1.2 531.8M27.5 530.5L21.7 531L21 531M49.2 530.6L43.4 529.6L42.6 529.5M70.5 529.2L65 527.4L64.4 527.2M90.9 526.5L86.6 524.3L86.7 524.4M234.9 481.3L231.1 478.5L231.4 478.7M-58.6 504.2L-62.6 507.9L-63 508.2M-36.1 507.2L-41.8 510L-43.1 510.6M-15.1 508.8L-20.9 511.3L-22.2 511.8M5.8 509L0 511.7L-1.3 512.3M27.2 509.9L20.9 511.3L19.6 511.6M48.2 509.9L41.8 510L40.4 510M68.6 508.2L62.6 507.9L61.6 507.8M87.8 505.4L83.4 504.9L83.8 504.9M209.6 475.9L206.6 472.6L203.5 469.5L200.4 466.4L200.9 466.7M229 466.8L225.7 463.8L222.6 460.8L219.4 457.7L219.8 458.1M244.8 453.8L241.2 451.3L241.7 451.6M-55.5 487.7L-60.2 488.3L-60 488.3M-34.4 488.5L-40.2 490.4L-41.3 490.7M-14.6 488.3L-20.1 491.6L-21.3 492.3M5.6 488.9L0 492L-1.2 492.7M26.3 490.1L20.1 491.6L18.8 491.9M46.5 489.6L40.2 490.4L38.8 490.5M65.8 487.6L60.2 488.3L59.6 488.4M85.1 484.9L80.1 485.4L80.1 485.4M104.7 480.7L99.9 481.7L100 481.7M123.3 473.7L119.5 477.3L119.4 477.4M142.6 466.7L139 472L138.2 473.1M163.4 461.7L158.1 465.9L156.8 467M185.3 459.2L181.2 458.8L177.1 459L172.9 459.3L173.7 459.1M205.8 457.4L201 454L195.7 451.4L190.4 448.8L189.5 448.5M222.5 450.8L218.3 446.8L214 443L209.6 439.2L209 438.8M235.8 438.3L231.9 433.9L231.4 433.3M287.7 403.3L283.3 402.3L283.7 402.4M-275.2 389.7L-272 386.1L-272.1 386.3M-72.3 467.1L-76.9 466L-76.8 466M-51.9 470.9L-57.8 468.7L-59 468.3M-32.9 469.3L-38.6 470.7L-39.5 470.9M-13.2 467L-19.3 471.9L-21.5 473.7M8.6 469.1L4.2 470.5L0 472.3L-4.2 474.1L-3.9 473.9M30.3 470.6L24.8 471.2L19.3 471.9L13.8 472.6L13.3 472.7M49.4 468.1L44 469.6L38.6 470.7L33.2 471.8L32.6 471.9M67 465.2L62.4 467L57.8 468.7L53.2 470.5L53.3 470.5M85 463.6L81 464.8L76.9 466L72.9 467.2L73.7 467M102.7 460.3L95.9 462.5L93.9 463.1M120.2 453.1L114.8 458.1L113 459.8M140 445.3L136.6 449.1L133.4 453.1L130.2 457L130.1 457.1M161.6 440.2L158.2 442.4L154.9 444.7L151.8 447.2L148.7 449.8L145.7 452.5L146.4 451.8M182.7 437.7L178.3 438.3L174.1 439.3L170 440.7L165.9 442L161.9 443.8L162.4 443.5M200.7 435.9L196.5 434.5L192.2 433.7L187.9 433.3L183.5 433L179.1 433.1L179.7 433M213.7 429.8L209.7 427.3L205.4 425.3L201.2 423.2L201.4 423.3M226.1 420L222.6 416.5L222.7 416.6M276.8 388.8L272 386.1L271.4 385.9M-264.8 374.3L-260.6 370L-259.9 369.4M-68.3 450.2L-73.7 446.6L-75 445.7M-49.8 453.5L-55.4 449.2L-57.1 447.9M-31.9 451.2L-37 451.1L-37.1 451.1M-12.1 448.7L-18.5 452.2L-20.6 453.4M9.8 451.3L4.9 451.7L0 452.6L-4.9 453.5L-4.8 453.5M29.5 452.7L24 452.5L18.5 452.2L13 451.9L12.5 451.9M46.5 449L41.8 450.3L37 451.1L32.2 451.9L32.2 451.9M63.9 444.4L59.7 446.9L55.4 449.2L51.1 451.5L51.2 451.5M81.9 441.8L77.8 444.2L73.7 446.6L69.6 448.9L69.8 448.8M99.1 439L95.6 441.1L91.9 443.2L88.3 445.2L89 444.8M116.9 433.8L113.4 436.4L110 439L106.5 441.6L107 441.3M136.4 426.9L132.1 430.5L127.8 434.2L123.6 437.9L123.1 438.3M155.9 421.1L152.3 423.5L148.9 426L145.5 428.6L142.1 431.2L138.8 433.8L139.3 433.4M173.8 417.2L170.1 418.7L166.5 420.4L162.9 422.3L159.3 424.1L155.8 426.1L156.7 425.6M189.1 413.5L184.5 414.2L180 415.3L175.5 416.3L175.9 416.2M202.3 408L196.9 407.5L196.4 407.5M248.2 383.6L245.3 380.4L245.7 380.9M265.9 374.3L260.6 370L259.2 368.9M-254.2 359.2L-249.3 353.9L-247.7 352.3M-238 367.3L-234.6 363.8L-234.7 363.9M-101.2 418.1L-105.2 419.9L-104.6 419.7M-82.2 424.9L-87.9 423.9L-88.7 423.7M-63.9 432L-67.2 429.5L-70.5 427.1L-73.9 424.7L-73.1 425.2M-46.7 434.6L-49.9 432.2L-53 429.6L-56.1 427.1L-55.3 427.7M-30.1 433L-35.4 431.5L-35.9 431.3M-12.2 431.6L-17.7 432.5L-18.3 432.6M6.4 433.5L0 432.9L-1.5 432.8M23.5 434.7L17.7 432.5L16.6 432.1M39.7 432.2L35.4 431.5L36 431.6M56.9 427.7L53 429.6L53.5 429.4M75 423.7L70.5 427.1L70 427.5M92.6 420.3L87.9 423.9L87.2 424.4M110 416.7L105.2 419.9L104.5 420.4M127.5 411.8L122.3 415.3L121.2 416M144.6 406L139.2 409.9L137.7 411M161 400.2L155.8 403.9L154.7 404.7M176.3 394.7L172.2 397.2L172.3 397.1M238.8 365.9L234.6 363.8L234.9 364M256.1 357.6L249.3 353.9L246.8 352.6M-244.1 343.8L-241 340.8L-237.9 337.8L-234.8 334.9L-235.3 335.3M-228.6 351.2L-223.9 347.3L-223 346.5M-80.2 406.8L-83.9 404.6L-83.4 404.9M-63.5 412.3L-67.3 407.7L-68 406.9M-47.6 414.9L-50.6 410.1L-50.9 409.6M198.9 362.6L194.8 364.4L195.2 364.2M215.5 354.3L209.5 356.1L208.3 356.5M232.4 345.8L228.2 346.4L223.9 347.3L219.7 348.1L220.3 348M249.6 337.6L243.7 337.4L237.9 337.8L232.1 338.3L231.3 338.4M-233.1 327.7L-229.8 324.8L-226.6 321.7L-223.3 318.7L-223.7 319.1M-219.1 335.4L-213.2 330.7L-211.3 329.2M-204.1 341.5L-199.5 339.2L-199.4 339.1M-65.7 392.3L-64.1 388.2L-64.3 388.8M-51.7 394.7L-48.2 390.5L-47.9 390.2M-37.5 395.4L-32.2 392.2L-31.1 391.6M-21.7 395.4L-16.1 393.2L-15.1 392.8M-4.8 395.6L0 393.5L0.2 393.4M11.7 396.2L16.1 393.2L16.4 393M28 396.1L32.2 392.2L32.7 391.7M44.4 394.4L48.2 390.5L48.5 390.2M61 391.4L64.1 388.2L63.7 388.6M177.2 352L171.1 354.3L169.7 354.9M194.7 343.8L190.1 345.4L185.5 347L180.9 348.7L181 348.6M212.3 334.5L208 336.1L203.8 337.6L199.5 339.2L195.3 340.7L191 342.2L191.4 342M229.2 324.7L225.2 326.2L221.2 327.7L217.2 329.2L213.2 330.7L209.3 332.2L205.3 333.7L201.3 335.2L202 334.9M244.7 315.7L240.1 317L235.5 318.5L231 320L226.6 321.7L222.1 323.4L217.7 325.1L213.2 326.9L213.4 326.8M-207 319.2L-202.6 314.2L-201.4 312.8M-67 370.9L-60.9 368.8L-59.5 368.3M-40.5 375.5L-35.5 374.1L-30.5 372.5L-25.6 371L-25.4 371M-7.8 378.2L-3.8 376.1L0 373.8L3.8 371.5L3.4 371.8M25.5 377.4L30.5 372.5L32 371.1M57.5 373.7L60.9 368.8L61.4 368M156.7 342.5L148.7 343L145.7 343.1M191.6 326.2L186.5 327.5L181.4 328.6L176.2 329.7L171 330.7L165.8 331.6L165.6 331.6M221.3 307.5L216.7 309.3L212 311L207.3 312.7L202.6 314.2L197.8 315.7L193 317L188.2 318.2L188.2 318.2M-192.5 303L-191.9 297.6L-191.8 297.1M-64 349.2L-57.7 349.4L-56.3 349.4M-35.7 354.8L-28.9 352.9L-27 352.4M-4.8 359.8L0 354.1L1.6 352.2M26.4 357.9L28.9 352.9L29.2 352.4M57 354.6L57.7 349.4L57.7 349.1M87.7 348.4L86 343.5L86 343.3M120.1 339.3L113.8 335.3L111.7 334M153.4 326.1L149.2 325.9L145 325.5L140.8 324.9L136.7 324.3L132.6 323.4L133.3 323.6M184.1 311.1L179.8 311.6L175.5 312L171.2 312.2L166.9 312.3L162.6 312.4L158.3 312.3L154 312L154.6 312.1M209.3 293.8L205 295L200.7 296.1L196.3 296.9L191.9 297.6L187.5 298.3L183 298.8L178.6 299.1L179.1 299.1M-179.9 287.5L-181.2 281L-181.5 279.5M-0.5 340L0 334.4L0 333.8M28.9 338.1L27.3 333.3L27.3 333.1M57.6 334.3L54.5 329.9L54.2 329.6M86.4 329.2L81.3 324.4L79.8 323M117 322.4L112.2 319.7L107.5 316.7L102.8 313.7L102.3 313.3M147.3 311.1L142.4 310L137.7 308.5L133 306.8L128.3 305.1L123.8 303.1L123.8 303.1M173.6 297.2L169.6 296.9L165.6 296.4L161.6 295.8L157.6 294.9L153.7 294.1L149.8 293L145.9 291.8L146.8 292.1M196.7 281L191.5 281.4L186.4 281.4L181.2 281L176.1 280.7L170.9 280L170.7 280M-171.8 270.8L-170.5 264.5L-170.3 263M2.3 320.2L0 314.7L-0.4 313.8M29.1 319.4L25.7 313.6L24.9 312.2M56.1 315.2L51.3 310.5L50 309.3M83.6 310.5L80 307.9L76.5 305.3L72.9 302.6L73.4 303M112 305.4L108.3 303L104.7 300.6L101.2 298L97.6 295.4L94.1 292.8L94.6 293.2M139 296.2L134.2 293.9L129.6 291.4L125.2 288.7L120.7 286L116.4 283.1L116.2 283M163.1 283.4L158.1 281.7L153.2 279.8L148.3 277.5L143.5 275.3L138.9 272.8L138.6 272.6M183.4 267.9L179 267L174.7 265.9L170.5 264.5L166.3 263.1L162.2 261.4L162.7 261.7M-164.2 252.3L-159.9 247.9L-159 247.1M-143.5 259.2L-139.1 260.2L-139.5 260.1M-120.6 266.5L-117.3 270.7L-117.1 270.9M4.1 300L0 295L-1 293.8M28.5 300.2L24.1 294L22.6 291.9M53.2 296.9L48.1 291.1L46.2 289M79 292.7L75.3 289.5L71.7 286.2L68.1 282.8L68.1 282.9M105.5 288.3L101.8 285.4L98.3 282.4L94.8 279.3L91.4 276.3L88 273.1L88.2 273.3M130.4 280.4L127 278.1L123.7 275.7L120.5 273.2L117.3 270.7L114.2 268.1L111.1 265.5L108.1 262.7L108.7 263.4M152.8 268.7L149.2 266.8L145.8 264.7L142.4 262.5L139.1 260.2L135.8 257.9L132.5 255.4L129.3 252.9L130.1 253.5M170.2 253.9L164.9 251.1L159.9 247.9L154.8 244.8L154 244.3M-153.5 233.8L-149.2 231.4L-149.2 231.4M-134.6 241.6L-129.8 242.8L-129.8 242.8M-113.3 249.2L-109.5 252.6L-109.4 252.6M-19.5 278.8L-22.5 274.4L-22.7 274.1M4.2 280.4L0 275.3L-1.1 274M27.2 280.5L22.5 274.4L20.9 272.2M50.1 278.2L47.4 274.9L44.8 271.6L42.3 268.3L42.7 268.9M74 275L70.4 271.1L66.9 267L63.4 263L63.2 262.8M98.6 271.1L95.2 267.7L91.8 264.3L88.5 260.7L85.2 257.1L82 253.5L82.1 253.6M121.7 264.1L118.6 261.3L115.5 258.5L112.4 255.6L109.5 252.6L106.6 249.6L103.7 246.5L100.9 243.4L101.4 244M142.3 253.5L139.1 251L135.9 248.3L132.8 245.6L129.8 242.8L126.8 240L123.9 237L121 234L121.6 234.7M158.2 239L153.6 235.3L149.2 231.4L144.8 227.5L144.2 226.8M-40.4 256.6L-41.6 252.2L-41.5 252.6M-19.1 260.4L-20.9 254.7L-21.2 253.9M3 261.9L0 255.6L-0.9 253.8M24.9 261.4L20.9 254.7L19.5 252.4M46.6 259.5L44.1 255.9L41.6 252.2L39.2 248.5L39.5 249M68.7 257L65.4 252.5L62.1 247.9L58.9 243.4L58.5 242.8M91.4 253.8L88.2 250L85.1 246L82.2 242L79.2 238L76.3 234L76.3 234M112.6 247.7L109.8 244.5L107 241.3L104.3 237.9L101.7 234.5L99.1 231.1L96.6 227.6L94.2 224L94.5 224.6M131.5 238.3L128.6 235.2L125.7 232L123.1 228.8L120.5 225.4L117.9 222.1L115.5 218.6L113.3 215L113.6 215.6M146.4 224.8L143.6 221.6L141 218.3L138.5 214.8L136 211.4L133.8 207.8L134.1 208.4M-36.4 237L-38.4 232.7L-38.3 232.9M-16.8 241.1L-19.3 235.1L-19.8 233.8M3.2 243.1L0 235.9L-1.2 233.3M23 242.4L21.1 238.8L19.3 235.1L17.4 231.4L17.8 232.2M42.8 240.8L40.6 236.8L38.4 232.7L36.3 228.7L36.5 229.1M63.1 238.8L60.1 233.9L57.3 228.8L54.5 223.8L54.1 223.1M83.7 236.2L80.9 232L78.3 227.7L75.8 223.4L73.4 219L71.1 214.6L71.1 214.6M102.6 231L100.2 227.5L97.9 223.9L95.8 220.2L93.8 216.4L91.9 212.7L90.1 208.8L88.4 204.9L88.7 205.6M119.5 223.5L117.1 219.8L114.9 216L112.9 212.1L111.2 208L109.5 204L108 199.9L106.7 195.7L106.8 196.3M134.4 212.4L131.9 207.8L129.7 203.1L127.8 198.3L125.9 193.4L124.2 188.5L124.1 188.4M-49.3 212.8L-52.5 209.7L-52.2 210.1M-31.6 217.6L-35.2 213.3L-35.6 212.9M-13.8 221.2L-17.7 215.5L-18.8 213.9M3.9 223.1L0 216.2L-1.4 213.6M21.1 222.8L19.4 219.1L17.7 215.5L16 211.8L16.4 212.7M38.4 221.7L36.7 217.5L35.2 213.3L33.7 209.1L33.9 209.6M56.8 220.6L54.6 215.2L52.5 209.7L50.5 204.2L50.2 203.4M75.1 218.1L73.1 213.7L71.2 209.3L69.5 204.7L67.8 200.2L66.2 195.6L66.2 195.8M91.6 213.4L90 209.7L88.5 206L87.2 202.2L86 198.4L84.8 194.5L83.7 190.7L82.6 186.8L82.9 187.7M106.8 207.5L105.4 203.3L104.1 199.1L103 194.9L101.9 190.7L100.8 186.4L99.8 182.2L98.6 177.9L98.8 178.5M123 199.6L121.5 195.1L120.1 190.7L118.7 186.2L117.2 181.7L115.6 177.2L114 172.8L112.1 168.5L112.3 168.7M-59.5 188.6L-63.2 186.1L-62.7 186.4M-43.8 194L-47.7 190.6L-47.9 190.5M-28 198.1L-32 193.9L-32.6 193.3M-12.2 201.1L-16.1 195.8L-16.9 194.6M3.2 202.7L0 196.5L-0.9 194.7M18.1 202.3L16.1 195.8L15.5 194.1M33.5 201.8L32.7 197.8L32 193.9L31.3 189.9L31.4 190.8M50.6 202.2L49.1 196.4L47.7 190.6L46.4 184.8L46.2 183.8M67 199.5L65.6 195.1L64.4 190.6L63.2 186.1L62 181.6L60.8 177.1L60.9 177.4M81.9 195L80.5 190.1L79.3 185.2L78.2 180.3L77 175.4L75.7 170.5L75.7 170.4M97 189.5L96.1 185.4L95 181.3L93.9 177.3L92.6 173.3L91.3 169.3L89.8 165.4L88.1 161.6L88.5 162.3M114.4 183.7L113.1 179.8L111.7 176.1L110.1 172.3L108.4 168.7L106.5 165.1L104.6 161.6L102.5 158.1L100.3 154.7L98 151.4L98.6 152.2M-97.6 146.9L-101.8 144.5L-101.7 144.6M-79.4 158L-83.3 155.9L-82.9 156.2M-59.8 167.5L-63.6 165L-63.3 165.2M-39.3 174.7L-43 171.5L-42.9 171.6M-18.5 179.6L-21.6 175.5L-21.8 175.3M1.9 181.8L0 176.8L-0.1 176.4M22.6 181.4L21.6 175.5L21.5 174.4M45.9 182.3L44.6 176.9L43 171.5L41.4 166.1L41.1 165.5M68.1 178.3L66.9 173.8L65.4 169.3L63.6 165L61.9 160.6L59.9 156.3L60.1 156.6M91.2 171.4L89.5 167.4L87.7 163.4L85.6 159.6L83.3 155.9L81.1 152.2L78.7 148.6L76.3 145L76.7 145.5M114.8 162L112.4 158.4L109.9 154.8L107.3 151.3L104.6 147.9L101.8 144.5L99 141.2L96.2 137.8L93.4 134.5L90.6 131.1L91 131.6M-86.4 130.6L-90.5 128.4L-90.1 128.6M-70 140.4L-74.1 138.5L-73.6 138.8M-52.8 148.9L-56.5 146.6L-56.1 146.9M-34.8 155.2L-38.2 152.4L-37.7 152.7M-16.4 159.2L-19.2 155.9L-18.8 156.4M2.3 160.9L0 157.1L0.3 157.6M22.2 161.2L19.2 155.9L18.7 155M43.7 161.9L41.1 157.1L38.2 152.4L35.3 147.7L35 147.3M64 158.9L61.7 154.7L59.2 150.6L56.5 146.6L53.9 142.6L51.2 138.6L51.3 138.7M84.8 153.2L82.2 149.5L79.5 145.8L76.8 142.2L74.1 138.5L71.3 134.9L68.6 131.3L65.8 127.7L66.1 128M105 145.8L102.1 142.3L99.1 138.9L96.2 135.4L93.3 131.9L90.5 128.4L87.6 124.9L84.8 121.4L82.1 117.8L79.4 114.1L79.6 114.5M-75.3 114.3L-79.1 112.3L-78.5 112.6M-60.8 123L-64.8 121.2L-64.2 121.4M-45.6 130.3L-49.4 128.2L-49 128.5M-29.7 135.7L-33.4 133.3L-32.9 133.6M-13.2 139.1L-16.8 136.4L-16.5 136.6M4 140.8L0 137.4L-0.2 137.2M22.2 141.5L16.8 136.4L15 134.6M40.7 141.8L37.1 137.5L33.4 133.3L29.7 129.1L29.2 128.6M58.1 139.6L55.3 135.8L52.4 132L49.4 128.2L46.5 124.4L43.5 120.7L43.6 120.8M75.6 135.4L72.9 131.9L70.1 128.3L67.4 124.8L64.8 121.2L62.1 117.6L59.4 114L56.7 110.4L57 110.8M92.2 129.9L89.4 126.5L86.7 123L84.1 119.5L81.6 115.9L79.1 112.3L76.7 108.7L74.2 105.1L71.9 101.4L69.5 97.7L69.8 98.2M-51.2 105.8L-55.5 103.8L-55.3 103.9M-33.4 113.7L-37.8 111.5L-37.8 111.5M-14.4 118.8L-19.2 116.1L-19.6 115.9M5.6 121.4L0 117.7L-1.4 116.8M26.2 122.3L22.8 119.1L19.2 116.1L15.6 113.1L15.8 113.3M46.2 120.9L43.5 117.7L40.7 114.5L37.8 111.5L35 108.4L32 105.3L32.6 105.9M65.3 116.8L62.9 113.5L60.4 110.2L58 107L55.5 103.8L53 100.6L50.4 97.5L47.8 94.4L48.4 95.1" fill="none" stroke="#fff" stroke-width="1.9" stroke-linecap="butt" stroke-linejoin="round"/>
<path d="M-306.7 431.5L-301 438.7L-305.6 436.4L-308.6 440.5ZM-289.5 444.7L-281.3 448.7L-286.4 448.6L-287.4 453.6ZM-271.8 457.1L-262.7 456.4L-267.1 458.9L-265.4 463.7ZM-253 468.9L-245 464.3L-248 468.5L-244.4 472.1ZM-233.5 479.3L-226.9 472.9L-228.8 477.7L-224.4 480.3ZM-213.6 488.7L-207.9 481.5L-209.1 486.5L-204.4 488.5ZM-193.3 497.2L-188.6 489.3L-189.2 494.4L-184.3 495.8ZM-172.6 505L-169.4 496.4L-169 501.5L-163.9 501.9ZM-151.5 511.8L-150.1 502.8L-148.7 507.7L-143.6 507.1ZM-130.3 517.7L-129.7 508.5L-127.9 513.3L-122.9 512.3ZM-109.3 522.8L-108.7 513.7L-106.9 518.5L-101.9 517.5ZM-88.6 528.1L-88.1 518.9L-86.2 523.7L-81.2 522.6ZM-67.8 533.1L-67.7 524L-65.7 528.7L-60.7 527.4ZM-47.7 534.3L-45 525.6L-44.4 530.7L-39.3 530.9ZM-27.4 533.8L-21.7 526.6L-23 531.6L-18.3 533.6ZM-5.9 533.4L0.7 527L-1.2 531.8L3.2 534.4ZM16 531.4L24 526.9L21 531L24.6 534.6ZM37.6 528.7L46.5 526.2L42.6 529.5L45.2 533.9ZM59.6 525.6L68.8 524.5L64.4 527.2L66.3 531.9ZM82.2 522.1L91.4 522.4L86.7 524.4L87.9 529.3ZM105.6 518.9L114.7 519.9L109.8 521.5L110.7 526.5ZM126.6 515.4L135 511.7L131.6 515.5L134.9 519.5ZM151 512.1L144.4 505.7L149.2 507.4L151.7 503ZM169.5 501.1L177.2 506.1L172.1 505.3L170.5 510.2ZM189.9 493.7L197.7 498.5L192.6 497.9L191.2 502.8ZM208.7 484.4L217 488.2L211.9 488.2L211.1 493.3ZM227.4 475.7L236.4 477.5L231.4 478.7L231.7 483.8ZM247.3 467.7L256.4 466.3L252.1 469.1L254.2 473.8ZM267 458.4L274.6 453.3L271.9 457.7L275.8 461ZM285.6 447.3L292.4 441.3L290.3 445.9L294.6 448.7ZM302.9 434.1L311.6 431.2L307.9 434.7L310.8 438.9ZM-294.1 415.3L-291.8 424.2L-295 420.2L-299.4 422.7ZM-277.7 427.6L-272.4 435.1L-276.8 432.5L-280.1 436.5ZM-261.6 439.7L-252.5 440.9L-257.4 442.4L-256.7 447.4ZM-243.6 452.1L-236.9 445.8L-238.9 450.5L-234.5 453.2ZM-224.5 462.3L-220.4 454.1L-220.6 459.2L-215.6 460.2ZM-205.2 471.3L-202.4 462.6L-201.8 467.7L-196.7 467.9ZM-185.4 479.6L-184.5 470.4L-182.9 475.3L-177.8 474.4ZM-165.3 486.9L-166.4 477.8L-163.7 482.2L-159 480.2ZM-145 493.3L-147.2 484.4L-144.1 488.4L-139.6 485.9ZM-124.9 498.8L-126.8 489.8L-123.8 494L-119.2 491.6ZM-104.7 503.4L-105.8 494.3L-103.1 498.7L-98.4 496.8ZM-84.9 507.4L-83.9 498.3L-82.3 503.2L-77.2 502.4ZM-66.7 511.5L-63.1 503L-63 508.2L-57.9 508.9ZM-47.5 512.8L-41.8 505.6L-43.1 510.6L-38.4 512.6ZM-26.8 513.8L-20.7 506.9L-22.2 511.8L-17.6 514.1ZM-5.8 514.4L0.1 507.4L-1.3 512.3L3.4 514.4ZM14.7 512.6L22 507.1L19.6 511.6L23.6 514.7ZM35.4 510L43.7 506.1L40.4 510L43.8 513.9ZM56.6 507.5L65.2 504.1L61.6 507.8L64.7 511.9ZM78.9 504.3L87.6 501.5L83.8 504.9L86.7 509.2ZM101.1 501L109.4 497.1L106 501L109.4 504.9ZM122.4 497.9L126.5 489.7L126.3 494.8L131.3 495.9ZM143.3 493.1L143.9 483.9L145.7 488.7L150.7 487.6ZM162.4 485.9L167.2 478.1L166.6 483.2L171.5 484.7ZM180.6 475.5L189.7 476L185 477.8L186 482.9ZM197.1 463.4L205.9 466L200.9 466.7L200.8 471.9ZM216.2 454.6L224.9 457.6L219.8 458.1L219.4 463.2ZM237.6 448.8L246.6 450.3L241.7 451.6L242.2 456.7ZM257 440.5L266 438.4L261.9 441.6L264.3 446.1ZM274.8 430.3L282.7 425.6L279.8 429.8L283.4 433.4ZM290.9 418.2L299.4 414.7L295.9 418.4L299 422.5ZM-281.3 399.1L-282.4 408.2L-283.9 403.3L-289 404ZM-265.5 411.3L-265.8 420.4L-267.7 415.7L-272.7 416.9ZM-248.8 421.6L-247.3 430.7L-250.1 426.4L-254.8 428.6ZM-233.1 436.1L-232.5 426.9L-230.7 431.7L-225.7 430.7ZM-214.8 445.4L-215.7 436.3L-213.2 440.7L-208.4 438.9ZM-196.3 453.8L-198 444.8L-195.1 449L-190.4 446.8ZM-177.5 461.5L-179.9 452.6L-176.6 456.6L-172.2 454ZM-158.4 468.4L-161.3 459.7L-157.9 463.4L-153.6 460.6ZM-139.3 474.4L-142.1 465.7L-138.6 469.5L-134.4 466.7ZM-120.2 479.7L-121.9 470.7L-118.9 474.8L-114.4 472.6ZM-101.3 483.9L-100.1 474.8L-98.6 479.7L-93.5 479ZM-82.9 486.6L-76.7 479.8L-78.3 484.7L-73.8 487ZM-64.9 488.9L-57.2 484L-60 488.3L-56.2 491.7ZM-46 492.2L-39.3 486L-41.3 490.7L-36.9 493.4ZM-25.6 494.9L-20.5 487.3L-21.3 492.3L-16.5 493.9ZM-5.6 495.1L-0.2 487.7L-1.2 492.7L3.6 494.5ZM13.9 493.1L21.1 487.3L18.8 491.9L22.9 494.9ZM33.9 491.1L41.7 486.3L38.8 490.5L42.6 494ZM54.7 489L62.4 484.1L59.6 488.4L63.4 491.8ZM75.2 485.9L83 481.2L80.1 485.4L83.8 489ZM95.1 482.8L102.5 477.2L100 481.7L104.1 484.9ZM115.7 480.8L119.1 472.3L119.4 477.4L124.5 478ZM135.4 477.2L136.8 468.2L138.2 473.1L143.3 472.6ZM152.9 470.1L157 461.8L156.8 467L161.8 467.9ZM168.9 460.1L176.2 454.6L173.7 459.1L177.8 462.3ZM184.7 447.1L193.8 445.7L189.5 448.5L191.6 453.2ZM205 435.8L214 437.6L209 438.8L209.4 443.9ZM228.1 429.5L236.5 433.2L231.4 433.3L230.6 438.3ZM247.8 422.2L256.3 425.6L251.2 425.9L250.6 431ZM264.3 412.6L273.5 412.1L268.9 414.4L270.5 419.3ZM278.9 401.2L287.9 399.3L283.7 402.4L286.1 406.9ZM-268.7 382.6L-271.4 391.4L-272.1 386.3L-277.2 386.1ZM-254 394.8L-256.7 403.5L-257.3 398.5L-262.4 398.3ZM-237.5 405.6L-241.8 413.7L-241.5 408.6L-246.5 407.4ZM-221.2 418.6L-229.2 414L-224.1 414.5L-222.8 409.5ZM-205.4 427.8L-209.4 419.6L-205.5 422.8L-201.7 419.4ZM-188.1 435.8L-191.3 427.2L-187.7 430.9L-183.5 427.9ZM-170.4 443.1L-172.8 434.3L-169.5 438.2L-165.1 435.6ZM-152.4 449.8L-154.4 440.9L-151.3 445L-146.8 442.6ZM-134.3 456.2L-135.7 447.1L-132.9 451.4L-128.2 449.3ZM-116.2 461.1L-116 451.9L-114 456.7L-109.1 455.4ZM-98.6 464L-93.4 456.5L-94.3 461.5L-89.5 463.2ZM-81.6 464.9L-72.7 463L-76.8 466L-74.4 470.6ZM-63.7 466.6L-54.6 465.8L-59 468.3L-57.2 473.1ZM-44.3 472.1L-37.2 466.4L-39.5 470.9L-35.3 473.9ZM-25.4 476.8L-21.4 468.6L-21.5 473.7L-16.5 474.6ZM-8.2 476.4L-2.9 468.9L-3.9 473.9L0.9 475.7ZM8.4 473.5L15.9 468.3L13.3 472.7L17.2 476ZM27.7 472.7L35.3 467.6L32.6 471.9L36.5 475.3ZM48.6 472.1L55.2 465.7L53.3 470.5L57.7 473.1ZM68.9 468.5L75.6 462.2L73.7 467L78 469.6ZM89.2 464.6L95.9 458.4L93.9 463.1L98.3 465.8ZM109.4 463.2L112.8 454.7L113 459.8L118.1 460.4ZM127.1 461.1L129 452.1L130.1 457.1L135.2 456.8ZM142.9 455.3L145.9 446.7L146.4 451.8L151.5 452.1ZM158 445.8L163.5 438.5L162.4 443.5L167.2 445.3ZM174.8 433.7L182.5 428.7L179.7 433L183.5 436.4ZM196.7 421.7L205.8 420.7L201.4 423.3L203.3 428.1ZM219.2 413.1L227.8 416.2L222.7 416.6L222.3 421.7ZM237.8 404.6L245.7 409.4L240.6 408.7L239.2 413.7ZM253.4 394.6L262.1 397.3L257 397.9L256.8 403.1ZM267.1 383.5L276.2 384L271.4 385.9L272.5 390.9ZM-256.5 365.8L-259.5 374.5L-259.9 369.4L-265.1 369ZM-242.5 377.6L-245.6 386.3L-246 381.2L-251.1 380.8ZM-227.5 388.6L-231.9 396.7L-231.5 391.6L-236.5 390.3ZM-210.9 399.6L-219.7 402L-215.8 398.7L-218.4 394.3ZM-196.7 410L-201.2 402.1L-197.1 405.1L-193.4 401.5ZM-180.7 417.7L-182.1 408.6L-179.3 412.9L-174.6 410.8ZM-163.8 424.6L-164.3 415.4L-162 420L-157.1 418.3ZM-146.7 431.2L-146.7 422L-144.6 426.7L-139.6 425.4ZM-129.9 437.6L-129 428.5L-127.3 433.3L-122.3 432.4ZM-112.8 442.1L-110 433.4L-109.4 438.4L-104.3 438.7ZM-95.9 443.5L-88 438.9L-91 443.1L-87.3 446.6ZM-79.2 442.9L-70.1 444.3L-75 445.7L-74.4 450.8ZM-61 444.9L-52.1 446.8L-57.1 447.9L-56.8 453ZM-42 451L-33.6 447.3L-37.1 451.1L-33.8 455.1ZM-24.9 455.8L-19.5 448.3L-20.6 453.4L-15.8 455.2ZM-9.6 455L-2.8 448.8L-4.8 453.5L-0.5 456.2ZM7.5 451.8L15.9 448.1L12.5 451.9L15.7 455.9ZM27.3 452.2L35.3 447.7L32.2 451.9L35.8 455.5ZM46.7 453.6L52.5 446.5L51.2 451.5L55.9 453.6ZM65.5 451.3L70.8 443.8L69.8 448.8L74.7 450.5ZM84.6 447.1L90.2 439.8L89 444.8L93.8 446.7ZM103 444.1L107.5 436.2L107 441.3L112 442.5ZM119.4 441.7L123 433.2L123.1 438.3L128.2 439ZM135.6 436.6L139.3 428.3L139.3 433.4L144.4 434.2ZM152.4 428.3L157.4 420.5L156.7 425.6L161.5 427.1ZM171.1 417.7L177.9 411.5L175.9 416.2L180.2 418.9ZM191.4 407.1L200 403.9L196.4 407.5L199.4 411.7ZM210.8 397.6L219.9 398.6L215 400.2L215.8 405.3ZM227.8 387.9L235.9 392L230.8 391.8L229.8 396.8ZM242.4 377.2L250.8 380.7L245.7 380.9L245.1 386ZM255.3 365.8L264.2 367.9L259.2 368.9L259.4 374ZM-244.3 348.7L-247.2 357.4L-247.7 352.3L-252.8 352ZM-231.1 360.4L-234.3 369L-234.7 363.9L-239.8 363.5ZM-217.2 371.5L-221.7 379.4L-221.2 374.3L-226.2 373.1ZM-201.7 381.1L-208.7 387.1L-206.5 382.4L-210.7 379.5ZM-186.1 391L-195.2 390.4L-190.5 388.6L-191.5 383.6ZM-172 399.7L-176.5 391.7L-172.4 394.7L-168.7 391.1ZM-156.6 406.3L-157.6 397.1L-155 401.5L-150.2 399.7ZM-140.6 412L-138.9 402.9L-137.7 407.9L-132.6 407.5ZM-124.7 417.5L-121.2 409L-121 414.2L-116 414.9ZM-109.2 421.8L-103.3 414.7L-104.6 419.7L-100 421.8ZM-93.6 422.9L-84.8 420.5L-88.7 423.7L-86.2 428.2ZM-77.3 422.5L-68.2 423.7L-73.1 425.2L-72.4 430.3ZM-59.1 424.5L-50.3 427L-55.3 427.7L-55.4 432.9ZM-40.7 429.9L-31.6 428.5L-35.9 431.3L-33.8 436ZM-23.3 433.5L-15.7 428.2L-18.3 432.6L-14.4 435.9ZM-6.4 432.3L2.2 429.2L-1.5 432.8L1.5 436.9ZM11.9 430.4L21 429.6L16.6 432.1L18.3 436.9ZM31.1 430.7L39.9 428.3L36 431.6L38.6 436ZM49.1 431.6L54.8 424.4L53.5 429.4L58.2 431.4ZM66.1 430.6L70.2 422.4L70 427.5L75 428.6ZM83.2 427.4L87.5 419.3L87.2 424.4L92.2 425.5ZM100.3 423.2L105 415.3L104.5 420.4L109.4 421.8ZM117.1 418.8L121.8 410.9L121.2 416L126.1 417.4ZM133.7 413.9L138.1 405.9L137.7 411L142.7 412.2ZM150.6 407.6L155.1 399.6L154.7 404.7L159.6 405.9ZM168.1 399.7L173.1 392L172.3 397.1L177.2 398.7ZM185.5 391L191.6 384.2L190 389.1L194.6 391.4ZM201.6 382L209.6 377.5L206.5 381.6L210.1 385.3ZM216.9 372.3L226 371L221.7 373.8L223.7 378.5ZM230.4 361.8L239.6 361.9L234.9 364L236.1 368.9ZM242.5 350.2L251.6 350.8L246.8 352.6L247.9 357.6ZM-231.7 332L-235.1 340.4L-235.3 335.3L-240.4 334.7ZM-219.2 343.4L-223.1 351.7L-223 346.5L-228.1 345.7ZM-206 354.1L-211.3 361.6L-210.3 356.6L-215.2 354.9ZM-192 363.6L-199 369.7L-196.8 365L-201.1 362.2ZM-177.2 372L-185.3 376.2L-182.2 372.2L-185.7 368.4ZM-162 379.9L-171.1 381.1L-166.7 378.4L-168.7 373.6ZM-146.6 386.9L-155.7 385.5L-150.8 384.1L-151.3 379ZM-131.8 393.6L-138.7 387.5L-133.8 389L-131.5 384.4ZM-118.9 397.6L-113.5 390.2L-114.5 395.2L-109.7 397ZM-102.9 400.8L-94.5 397L-97.9 400.9L-94.7 404.8ZM-87.6 402.3L-78.5 403.3L-83.4 404.9L-82.6 410ZM-71.2 403L-62.9 406.9L-68 406.9L-68.9 411.9ZM-53.5 405.3L-45.8 410.3L-50.9 409.6L-52.5 414.4ZM-35.6 409.5L-27.4 413.5L-32.5 413.4L-33.5 418.4ZM-19.4 412.6L-10.8 409.5L-14.4 413.1L-11.4 417.2ZM-1.6 411.2L6.7 415.3L1.5 415.1L0.6 420.2ZM17 410.1L20.6 418.6L16.8 415.1L12.8 418.3ZM34.6 409.1L35.8 418.2L33.1 413.9L28.4 415.8ZM51.7 407.9L51.5 417L49.5 412.3L44.5 413.5ZM68.9 405.8L66.4 414.6L65.7 409.6L60.6 409.5ZM82.5 406.6L84 397.6L85.3 402.6L90.4 402.1ZM98.3 402.2L103.2 394.4L102.5 399.5L107.4 401ZM114.4 397.4L120.4 390.5L119 395.4L123.6 397.6ZM130.7 392.5L135.9 385L135 390L139.8 391.8ZM146.7 387.3L150.4 378.9L150.4 384L155.5 384.8ZM162.1 381.1L165.6 372.7L165.8 377.8L170.9 378.4ZM176.9 374L181.5 366.1L181 371.2L185.9 372.5ZM190.7 366.3L196.6 359.3L195.2 364.2L199.9 366.4ZM203.5 358L210.3 351.8L208.3 356.5L212.6 359.3ZM215.5 349.2L222.5 343.4L220.3 348L224.5 350.9ZM226.4 339.3L233.8 334L231.3 338.4L235.2 341.7ZM-220.2 315.6L-223.3 324.2L-223.7 319.1L-228.8 318.6ZM-207.4 326.1L-211.5 334.3L-211.3 329.2L-216.3 328.2ZM-194.9 336.8L-200.5 344.1L-199.4 339.1L-204.1 337.1ZM-181.6 346.1L-188.7 351.8L-186.4 347.3L-190.5 344.2ZM-167.5 354.1L-175.5 358.5L-172.4 354.4L-176 350.7ZM-153.1 361.3L-161.6 364.6L-158.1 360.9L-161.1 356.8ZM-138.6 367.3L-147.1 370.7L-143.6 367L-146.6 362.9ZM-124 372.3L-131.7 377.2L-128.9 372.9L-132.7 369.5ZM-108.8 376.5L-114.9 383.3L-113.4 378.5L-118 376.2ZM-94.2 379.7L-95.7 388.7L-97 383.7L-102.1 384.2ZM-79.2 382.5L-77.5 391.5L-80.4 387.3L-85.1 389.5ZM-62.5 384.2L-61.9 393.3L-64.3 388.8L-69.2 390.5ZM-44.7 386.4L-47 395.2L-47.9 390.2L-53 390.2ZM-26.9 389L-32 396.6L-31.1 391.6L-36 389.9ZM-10.5 391L-16.8 397.6L-15.1 392.8L-19.6 390.4ZM4.8 391.4L-1.3 398.3L0.2 393.4L-4.4 391.1ZM20.5 390.1L15.9 398.1L16.4 393L11.4 391.7ZM36.3 388.3L32.9 396.8L32.7 391.7L27.6 391.1ZM51.9 386.6L49 395.3L48.5 390.2L43.4 389.9ZM67.2 385.1L64.2 393.7L63.7 388.6L58.6 388.3ZM82.1 383L79.2 391.7L78.6 386.6L73.5 386.4ZM96.8 379.5L96.3 388.7L94.4 383.9L89.4 385ZM110.8 375L115.8 382.7L111.5 379.9L108.1 383.8ZM124.3 371.5L133.4 371.8L128.7 373.8L129.8 378.7ZM139.2 367.6L146.6 362.3L144.1 366.7L148 370ZM152.7 362.5L159.1 355.9L157.4 360.7L161.9 363.2ZM165.1 356.6L171.4 350L169.7 354.9L174.2 357.3ZM176.3 350.3L182.8 343.8L181 348.6L185.4 351.2ZM186.7 343.6L193.3 337.2L191.4 342L195.8 344.6ZM197.3 336.6L203.8 330.1L202 334.9L206.4 337.5ZM208.8 328.6L215.1 321.9L213.4 326.8L217.9 329.2ZM-198.1 309.1L-200.7 317.9L-201.4 312.8L-206.5 312.7ZM-172.7 328.5L-179.4 334.8L-177.4 330.1L-181.8 327.4ZM-145.1 343.1L-153.6 346.7L-150.1 342.9L-153.3 338.9ZM-116.5 353.2L-123.9 358.7L-121.4 354.2L-125.4 351ZM-87.2 360.8L-93 368L-91.7 363L-96.4 361ZM-54.8 366.7L-61.4 373.1L-59.5 368.3L-63.9 365.7ZM-20.7 369.3L-27.2 375.7L-25.4 371L-29.8 368.4ZM7.6 369L2.8 376.9L3.4 371.8L-1.5 370.4ZM35.6 367.7L32.3 376.3L32 371.1L26.9 370.6ZM64.2 363.9L62.7 373L61.4 368L56.3 368.6ZM91.5 358.8L93.8 367.7L90.6 363.7L86.2 366.3ZM117.2 351.8L126.2 353.6L121.2 354.8L121.5 359.9ZM140.7 343.4L148.8 339L145.7 343.1L149.2 346.8ZM160.6 332.3L168.3 327.3L165.6 331.6L169.4 335ZM183.3 319.3L190.5 313.7L188.2 318.2L192.2 321.3ZM-191.2 292.2L-188.4 300.9L-191.8 297.1L-196.1 299.9ZM-166.8 309.8L-163.4 318.3L-167.1 314.8L-171.1 317.9ZM-138.5 325.9L-147.7 326.2L-143.1 323.9L-144.7 319ZM-111.1 334.9L-118.7 340L-116 335.6L-119.9 332.3ZM-81.9 342.6L-89.2 348.2L-86.8 343.6L-90.8 340.5ZM-51.4 349.5L-59.7 353.2L-56.3 349.4L-59.6 345.4ZM-22.2 351L-29.1 357L-27 352.4L-31.3 349.5ZM4.8 348.4L2.4 357.3L1.6 352.2L-3.5 352.3ZM31.5 348L31.1 357.1L29.2 352.4L24.2 353.5ZM58.4 344.2L61.1 352.9L57.7 349.1L53.4 351.8ZM84.4 338.6L90.7 345.2L86 343.3L83.3 347.7ZM107.5 331.3L116.6 332.5L111.7 334L112.4 339.1ZM128.5 322.4L137.5 320.7L133.3 323.6L135.5 328.2ZM149.7 311.6L158.3 308.5L154.6 312.1L157.6 316.3ZM174.1 299.2L182.3 295.1L179.1 299.1L182.5 302.9ZM-182.5 274.6L-177 282L-181.5 279.5L-184.7 283.5ZM-160.3 293.4L-151.1 294.1L-155.9 295.9L-154.9 300.9ZM-134.2 309L-133.7 299.9L-131.8 304.6L-126.8 303.6ZM-105.3 317.9L-114.5 317L-109.6 315.4L-110.5 310.3ZM-77.5 324.7L-86.1 327.9L-82.5 324.3L-85.5 320.1ZM-50.4 330.6L-59.3 333.1L-55.3 329.8L-57.9 325.4ZM-25.2 331.7L-29.7 339.7L-29.2 334.6L-34.2 333.4ZM0.5 328.8L3.7 337.4L0 333.8L-4.1 336.8ZM25.7 328.4L32 335.1L27.3 333.1L24.6 337.5ZM51.3 325.5L59.3 330L54.2 329.6L53 334.5ZM76.1 319.5L84.8 322.4L79.8 323L79.5 328.1ZM98.2 310.5L107.2 312L102.3 313.3L102.8 318.4ZM119.3 300.8L128.5 301.1L123.8 303.1L125 308.1ZM142.1 290.4L151.2 289.6L146.8 292.1L148.5 296.9ZM165.9 279L174.8 276.8L170.7 280L173.2 284.5ZM-169.3 258.1L-167 267L-170.3 263L-174.7 265.5ZM-147.6 275.2L-146.4 284.3L-149.1 279.9L-153.9 281.8ZM-124.7 292.4L-129.6 284.7L-125.3 287.5L-121.9 283.7ZM-99.1 300.5L-107.4 296.5L-102.2 296.7L-101.3 291.6ZM-73.5 306.2L-82.6 307.5L-78.2 304.7L-80.2 300ZM-48.8 310.3L-56.7 314.9L-53.7 310.7L-57.4 307.1ZM-26.4 311.2L-20.4 318.2L-25 316L-27.9 320.3ZM-2.3 309.2L4.5 315.4L-0.4 313.8L-2.7 318.4ZM22.3 307.9L29.9 313.1L24.9 312.2L23.2 317ZM46.5 305.8L55.1 308.8L50 309.3L49.6 314.4ZM69.4 299.9L78.4 301.9L73.4 303L73.6 308.1ZM90.7 290.1L99.6 292.2L94.6 293.2L94.8 298.3ZM112.1 280.1L121.1 281.8L116.2 283L116.6 288.1ZM134.3 270.1L143.5 271L138.6 272.6L139.4 277.7ZM158.2 259.6L167.4 259.5L162.7 261.7L164.1 266.6ZM-155.5 243.5L-158.6 252.2L-159 247.1L-164.1 246.7ZM-134.6 261.1L-143.5 263.2L-139.5 260.1L-141.9 255.6ZM-114.1 274.9L-122.2 270.7L-117.1 270.9L-116.1 265.9ZM-92 282.3L-100.6 279L-95.5 278.7L-94.9 273.6ZM-69.3 286.8L-78.3 288.4L-74.1 285.5L-76.2 280.9ZM-48 288.6L-44.2 296.9L-48.1 293.5L-52 296.8ZM-26.8 291L-18.3 294.6L-23.5 294.7L-24.1 299.8ZM-4.1 290L4.2 293.9L-1 293.8L-1.9 298.9ZM19.7 287.8L27.7 292.3L22.6 291.9L21.3 296.8ZM42.9 285.2L51.3 288.9L46.2 289L45.5 294ZM64.6 279.4L73.2 282.4L68.1 282.9L67.8 288ZM84.6 269.9L93.3 272.9L88.2 273.3L87.9 278.4ZM105.1 260L113.8 262.8L108.7 263.4L108.5 268.5ZM126.3 250.3L135.1 252.7L130.1 253.5L130.1 258.6ZM149.9 241.4L158.9 242.9L154 244.3L154.5 249.3ZM-144.9 228.9L-150.2 236.4L-149.2 231.4L-154 229.6ZM-125 244L-134 245.8L-129.8 242.8L-132.1 238.2ZM-105.7 255.9L-114.5 253.4L-109.4 252.6L-109.3 247.5ZM-86 262.7L-95 260.5L-89.9 259.5L-90.1 254.4ZM-65 265.4L-68.8 273.8L-68.8 268.7L-73.8 267.8ZM-46.1 268L-39.7 274.6L-44.5 272.7L-47.1 277.1ZM-25.5 270L-17.6 274.7L-22.7 274.1L-24 279.1ZM-4.2 270.2L4.1 274.1L-1.1 274L-2 279ZM17.8 268.3L26 272.5L20.9 272.2L19.8 277.2ZM39.7 265L47.8 269.2L42.7 268.9L41.6 273.9ZM60 258.9L68.3 262.9L63.2 262.8L62.3 267.8ZM78.9 249.7L87.2 253.6L82.1 253.6L81.2 258.6ZM98.2 240.1L106.5 244L101.4 244L100.6 249ZM118.3 230.9L126.7 234.6L121.6 234.7L120.9 239.7ZM140.6 223.3L149.3 226.4L144.2 226.8L143.7 231.9ZM-135.7 213.7L-141.9 220.4L-140.3 215.6L-144.9 213.3ZM-117.4 226.4L-126.5 227.6L-122.2 224.9L-124.1 220.1ZM-99.5 236.5L-108.3 233.7L-103.2 233.1L-102.9 228ZM-80 243.4L-89.1 242.3L-84.3 240.7L-85 235.7ZM-62.6 245.5L-57 252.8L-61.6 250.4L-64.7 254.4ZM-42.9 247.8L-36.9 254.7L-41.5 252.6L-44.4 256.8ZM-22.6 249.1L-16.4 255.9L-21.2 253.9L-23.9 258.2ZM-3 249.3L4.1 255.1L-0.9 253.8L-3 258.4ZM16.9 248.1L24.5 253.2L19.5 252.4L17.8 257.2ZM36.9 244.8L44.6 249.7L39.5 249L38 253.9ZM55.7 238.7L63.6 243.4L58.5 242.8L57.1 247.8ZM73.6 229.8L81.4 234.6L76.3 234L74.9 238.9ZM91.9 220.4L99.6 225.4L94.5 224.6L93 229.5ZM111.2 211.3L118.6 216.7L113.6 215.6L111.8 220.4ZM131.7 204.1L139.1 209.4L134.1 208.4L132.3 213.2ZM-125.6 197.1L-131.2 204.4L-130 199.4L-134.8 197.5ZM-108.8 208.9L-118 209.9L-113.5 207.2L-115.4 202.5ZM-93.1 218.8L-99.3 212.1L-94.6 214.1L-91.9 209.7ZM-77.8 221.8L-68.9 224L-73.9 224.9L-73.8 230.1ZM-59 226.2L-51.2 231.2L-56.3 230.4L-57.8 235.3ZM-40.5 228.5L-33.4 234.2L-38.3 232.9L-40.4 237.6ZM-21.7 229.2L-15 235.4L-19.8 233.8L-22.2 238.3ZM-3.2 228.7L3.8 234.7L-1.2 233.3L-3.4 237.9ZM15.6 227.7L22.8 233.4L17.8 232.2L15.8 236.9ZM34.2 224.6L41.4 230.3L36.5 229.1L34.5 233.8ZM51.9 218.6L59.1 224.3L54.1 223.1L52.2 227.8ZM69 210L76 215.9L71.1 214.6L68.9 219.2ZM86.9 201L93.5 207.4L88.7 205.6L86.2 210.1ZM105.5 191.5L111.5 198.4L106.8 196.3L104 200.5ZM122.5 183.6L128.9 190.2L124.1 188.4L121.5 192.8ZM-118 179.3L-111.6 185.9L-116.4 184.1L-119 188.5ZM-103.9 189.2L-94.9 191.1L-99.9 192.2L-99.7 197.3ZM-88.3 197.4L-79.1 197.1L-83.7 199.3L-82.2 204.2ZM-72.1 203L-63 204.3L-67.9 205.7L-67.3 210.8ZM-55.8 206.7L-47.1 209.5L-52.2 210.1L-52.4 215.2ZM-38.8 209.1L-30.5 212.9L-35.6 212.9L-36.4 217.9ZM-21.6 209.8L-13.7 214.4L-18.8 213.9L-20.1 218.8ZM-3.9 209.3L3.6 214.6L-1.4 213.6L-3.2 218.4ZM14.3 208.1L21.3 214.1L16.4 212.7L14.2 217.3ZM32.4 204.8L38.6 211.6L33.9 209.6L31.1 213.9ZM48.7 198.7L55 205.4L50.2 203.4L47.5 207.8ZM64.7 191L71 197.7L66.2 195.8L63.5 200.1ZM81.7 182.9L87.4 190L82.9 187.7L79.9 191.9ZM97.4 173.7L103.5 180.6L98.8 178.5L96 182.8ZM110.1 164.3L117.2 170L112.3 168.7L110.2 173.4ZM-108.9 163.3L-99.9 165.2L-105 166.3L-104.7 171.4ZM-95.3 171.6L-86.3 172.8L-91.2 174.2L-90.5 179.3ZM-81.4 178.4L-72.2 179.3L-77.1 180.9L-76.2 186ZM-66.9 183.6L-57.8 185L-62.7 186.4L-62.2 191.4ZM-51.7 187.3L-42.9 189.6L-47.9 190.5L-47.9 195.6ZM-36 189.7L-27.5 193L-32.6 193.3L-33.1 198.4ZM-19.9 190.6L-11.8 195L-16.9 194.6L-18.2 199.6ZM-3.2 190.3L4.1 195.9L-0.9 194.7L-2.9 199.5ZM14 189.4L20.2 196.1L15.5 194.1L12.8 198.5ZM30.6 185.9L35.8 193.5L31.4 190.8L28.1 194.7ZM45.1 179L50.7 186.3L46.2 183.8L43.1 187.9ZM59.6 172.6L65.5 179.6L60.9 177.4L58 181.6ZM74.2 165.7L80.4 172.4L75.7 170.4L72.9 174.8ZM86.2 157.9L93.5 163.4L88.5 162.3L86.6 167ZM95.6 148.2L103.7 152.6L98.6 152.2L97.4 157.2ZM-106 142.2L-96.9 142.8L-101.7 144.6L-100.7 149.6ZM-87.3 153.8L-78.1 154.3L-82.9 156.2L-81.8 161.2ZM-67.5 162.4L-58.4 163.7L-63.3 165.2L-62.7 170.3ZM-46.6 168.3L-37.8 170.8L-42.9 171.6L-43 176.7ZM-24.8 171.3L-16.7 175.6L-21.8 175.3L-22.9 180.3ZM-1.9 171.8L4.7 178.2L-0.1 176.4L-2.6 180.9ZM20.7 169.5L25.9 177.1L21.5 174.4L18.1 178.3ZM39.4 160.9L46 167.3L41.1 165.5L38.7 170ZM57.7 152.2L65.1 157.7L60.1 156.6L58.2 161.4ZM73.7 141.5L81.8 146L76.7 145.5L75.4 150.5ZM87.8 127.8L96.1 131.7L91 131.6L90.1 136.7ZM-94.5 126.3L-85.4 126.7L-90.1 128.6L-89 133.6ZM-78.1 136.7L-68.9 136.6L-73.6 138.8L-72.2 143.7ZM-60.3 144.3L-51.2 145.3L-56.1 146.9L-55.3 151.9ZM-41.6 149.6L-32.7 151.9L-37.7 152.7L-37.7 157.9ZM-22.1 152.6L-13.7 156.3L-18.8 156.4L-19.6 161.5ZM-2.3 153.3L5.3 158.4L0.3 157.6L-1.4 162.4ZM16.2 150.6L23.7 155.9L18.7 155L16.9 159.8ZM32.1 143.2L40.1 147.7L35 147.3L33.7 152.3ZM48.3 134.7L56.4 139.1L51.3 138.7L50.1 143.7ZM63.1 124.1L71.2 128.3L66.1 128L65 133ZM76.8 110.4L84.7 115L79.6 114.5L78.3 119.5ZM-82.9 110.3L-73.8 110.7L-78.5 112.6L-77.4 117.6ZM-68.7 119.3L-59.5 119.3L-64.2 121.4L-62.8 126.4ZM-53.3 126.1L-44.2 126.6L-49 128.5L-47.9 133.5ZM-37.1 130.8L-28 132.1L-32.9 133.6L-32.3 138.7ZM-20.5 133.6L-11.5 135.5L-16.5 136.6L-16.2 141.7ZM-4 134L4.8 136.4L-0.2 137.2L-0.2 142.3ZM11.4 131.2L20.1 134.1L15 134.6L14.7 139.8ZM25.8 125L34.3 128.3L29.2 128.6L28.7 133.7ZM40.4 117L48.8 120.9L43.6 120.8L42.8 125.9ZM54 106.9L62.2 111.1L57 110.8L56 115.8ZM67.1 94.1L74.9 98.8L69.8 98.2L68.4 103.2ZM-59.8 101.8L-50.6 101.8L-55.3 103.9L-53.9 108.8ZM-42.3 109.2L-33.1 109.4L-37.8 111.5L-36.6 116.4ZM-23.9 113.5L-14.8 114.1L-19.6 115.9L-18.6 120.9ZM-5.6 114L3.5 115.3L-1.4 116.8L-0.8 121.8ZM11.9 110.2L20.9 112.3L15.8 113.3L16 118.4ZM29 102.4L37.7 105.4L32.6 105.9L32.3 111ZM45.1 91.3L53.5 94.9L48.4 95.1L47.7 100.1Z" fill="#fff"/>
<use href="#coast"/>
</g>
<path d="M-66.5 86.4L-329.7 428.2A540.4 540.4 0 0 0 329.7 428.2L66.5 86.4A109 109 0 0 1 -66.5 86.4Z" fill="none" stroke="#111" stroke-width="1.3" stroke-linejoin="miter"/>
<g font-family='"Liberation Serif", serif' font-style="italic" font-size="29" text-anchor="middle" fill="#111">
<text transform="translate(-104.8 93.5) rotate(37.6)" y="9.5">N</text>
<text transform="translate(-138.9 132.8) rotate(37.6)" y="9.5">80</text>
<text transform="translate(-209.1 224) rotate(37.6)" y="9.5">75</text>
<text transform="translate(-280.5 316.7) rotate(37.6)" y="9.5">70</text>
<text transform="translate(-222.1 512.3) rotate(23.4)" y="9.5">110</text>
<text transform="translate(-45.6 556.5) rotate(4.7)" y="9.5">130</text>
<text transform="translate(135.7 541.7) rotate(-14.1)" y="9.5">150</text>
<text transform="translate(302.6 469.3) rotate(-32.8)" y="9.5">170 E</text>
</g>
</g>
<g transform="translate(333 586.1)">
<g clip-path="url(#wc)">
<path d="M-66.5 86.4L-329.7 428.2A540.4 540.4 0 0 0 329.7 428.2L66.5 86.4A109 109 0 0 1 -66.5 86.4Z" fill="#72afbf"/>
<path d="M-345 75L12.3 75L14 78L20.5 84L36 94.1L63 107.7L81 114.1L93 116.2L108 116.4L159 110.3L183 108.8L201 109.1L219 111L243 116.2L264 123.6L285 134.3L303 146.8L322.1 165L342 191.8L345 194.4L345 344L339 352.4L323.4 387L318.4 405L311.4 444L301.9 471L294 487.4L282.9 507L270 527.2L256.5 546L253.5 552L-345 552Z" fill="#77c0a2"/>
<path d="M-345 75L-20.3 75L-16.8 81L-8.2 90L3 100.1L13.5 108L45 126.6L57 132.3L69 136.7L84 139.8L99 140.2L168 130L189 129.5L210 131.1L234 136.1L255 143.7L273 153.2L291 166.3L303 177.9L315 192.9L324 208.1L331.1 225L335.9 243L338.2 261L338 279L335.3 297L331.2 312L324.2 330L301.2 372L297.1 381L293.9 393L288 429L280.2 450L267 473.7L246 507L233.8 525L217 546L213.3 552L-345 552Z" fill="#78c47f"/>
<path d="M-345 75L-47.5 75L-43.8 81L-29.3 96L-4.3 117L36 144L48 150.4L60 155.3L75 158.8L93 159.4L108 157.8L141 151.5L159 149.1L180 148.2L198 149.3L219 153.1L240 160L258 169.1L273.4 180L286.1 192L295.8 204L304.8 219L311 234L315 249L316.8 264L316.5 282L314.2 297L308.8 315L302 330L279.5 366L274.8 375L260.9 414L252.9 432L209.3 507L195 527.3L186 536.7L170.9 549L168.4 552L-345 552Z" fill="#a0d088"/>
<path d="M-345 75L-77.3 75L-72.9 81L-41.6 108L15 152.2L33 164.5L51 172.6L66 175.8L84 176.1L102 174.1L144 167L171 165.4L198 167.9L222 174.4L243 184.3L261 197.2L275.7 213L286.8 231L293.4 249L296.7 270L295.5 291L290.1 312L283.3 327L276.2 339L233.5 399L216 426L204 448.1L183.7 492L175.3 507L168.3 516L162 522.1L153 528.6L144 532.9L135 535.4L123 536.6L87 533.4L69 534.1L57.1 537L45 541.5L29.1 549L25.6 552L-345 552Z" fill="#c9de8a"/>
<path d="M-345 75L-113.1 75L-108.6 81L-99 89.2L-30.2 141L9 174.9L21 183.3L33 188.9L51 192.7L69 192.9L84 191.2L132 183.1L159 181.3L186 183.9L210 190.4L228 198.9L243.9 210L258 224.7L267.7 240L274.4 258L277 276L276 294L271.2 312L264 327L255 339.9L243 353L211.1 384L191.4 408L181.7 423L172 441L155 483L150 493.2L141.9 504L132 510.8L120 513.8L78 514.3L54 518.2L-9 538.8L-22.9 546L-26.5 549L-28.5 552L-345 552Z" fill="#f9e88d"/>
<path d="M-345 75L-153.3 75L-151.6 78L-145.2 84L-48 162.8L-3.1 204L6 210.1L15 213.5L30 215.4L48 214.2L69 210.6L114 200.2L141 197L156 197.1L171 198.9L186 202.2L198 206.3L213 213.4L228 223.8L240 236.2L248.4 249L254.4 264L257.1 279L256.4 297L252.2 312L247.6 321L240 330.6L197 366L184.8 378L174.6 390L164 405L151.4 426L127.5 477L120 485.6L111 490.6L90 496.2L57 501.8L27 508.3L3 514.4L-15 520.1L-30 526.2L-42 533.2L-52.6 543L-57 549L-58.1 552L-345 552Z" fill="#f8c37a"/>
<path d="M-345 75L-198.1 75L-193.5 81L-180 92.1L-111 144.4L-89.2 162L-58 189L-15.6 228L-6 234.6L6 239.8L15 241.6L24 242L42 239.8L60 235.1L108.2 219L132 214.1L147 213.6L159 214.8L171 217.5L184.5 222L198 228.4L210.3 237L219.5 246L227.9 258L233 270L235.5 282L235.5 294L232.8 306L228 315L219.8 324L171.9 363L153.3 381L127 417L105 456.5L99 464.2L93 469.7L80.9 477L65.5 483L48 487.8L0 498.4L-24 506.4L-42 513.8L-54 520.9L-62 528L-74.7 543L-79.8 552L-345 552Z" fill="#f4a56e"/>
<path d="M-345 75L-247.6 75L-245.9 78L-239.6 84L-206.1 111L-171 137.4L-126 169.5L-108.8 183L-30 255.5L-15 266.4L-3 272.6L6 275.3L15 276.5L24 276.2L33 274.7L45 271L66 262.8L107.5 243L120 238L138 234.1L153 234.5L168 238.1L180 243.4L192 251.6L200.7 261L206.1 270L209.7 282L209.7 294L207 303L203.8 309L196.6 318L187 327L174 337.1L147 353.4L109 372L100 378L93.8 384L89.7 390L87.3 396L83 420L78.2 435L69.2 450L60.2 459L51 464.9L44.1 468L-15 484.4L-36 492.2L-51 499.6L-63 508.4L-75 520L-98.1 546L-101.5 552L-345 552Z" fill="#f38e69"/>
<path d="M-345 75L-301.2 75L-299.5 78L-293.5 84L-252 118.5L-129 212.9L-116.8 228L-103 252L-97.1 267L-92.3 288L-88.8 297L-81.7 306L-65.8 321L-57.8 333L-51.4 354L-48.9 369L-48.2 381L-49.2 396L-54 423L-55.2 441L-58.1 453L-71.1 483L-82.6 504L-93 516.2L-123.6 546L-127.5 552L-345 552ZM144.9 264L156 264.3L162 266.3L168 270L171 273L174.6 279L175.9 285L175.3 291L170.8 300L165 305.6L159.4 309L147 312.8L135 312.5L125.5 309L118.7 303L115.9 297L116.1 288L120.6 279L126 273L135 267Z" fill="#ee7b68"/>
<path d="M-345 93L-345 91.9L-339 95.3L-294 133.6L-169.1 234L-156 245.9L-151.5 252L-148.3 261L-146.8 273L-146 294L-143.5 303L-137.2 312L-110.9 339L-104.5 348L-98.5 360L-94.4 375L-93.3 393L-99.1 444L-100.7 477L-102.9 489L-107.2 498L-114.4 507L-130.2 522L-157.9 546L-162.4 552L-345 552Z" fill="#e6696a"/>
<path d="M-345 150L-345 148.4L-336 154.2L-258.1 219L-231.7 243L-213 264.5L-195.1 294L-188.3 303L-178.8 312L-153 331.4L-141 342L-129.1 357L-122.2 372L-118.9 390L-119 402L-120.3 414L-129 450.4L-135 469.8L-140.5 483L-147.8 495L-158.8 507L-174 520.1L-207.2 546L-212.1 552L-345 552Z" fill="#d4626a"/>
<path d="M-345 216L-345 214.2L-339 217.6L-278 270L-216.7 321L-173.2 351L-165 359.3L-160.2 366L-155.7 375L-153.2 384L-152.3 393L-152.7 402L-157 420L-165.5 438L-180 459.1L-192.8 474L-208 489L-270 537.8L-279.4 546L-283.7 552L-345 552Z" fill="#c05c64"/>
<path d="M-345 312L-345 311.1L-340.2 315L-331.4 327L-322.2 342L-315 357L-310.8 369L-308.1 381L-306.1 405L-308.4 438L-313.6 459L-319.9 474L-329.4 492L-339 507.3L-345 513.3Z" fill="#a9565d"/>
<use href="#grat"/>
<path d="M-228.6 474.3L-231.1 478.5L-231.1 478.4M-208.1 482.2L-211.4 487.6L-212.1 488.7M-187.2 489L-191.2 495.8L-192.8 498.3M-166.2 494.8L-168.4 499L-170.8 503.2L-173.2 507.4L-173.1 507.2M-144.6 499.4L-147.2 504.6L-150.1 509.8L-153 514.9L-153.4 515.7M-122.2 502.4L-124.4 506.9L-126.7 511.2L-129.1 515.5L-131.5 519.7L-134.1 524L-134 523.9M-99.2 503.1L-101.1 507.5L-103.3 511.8L-105.6 516.1L-107.9 520.3L-110.3 524.5L-112.7 528.8L-115.1 533L-115 532.8M-76.2 501.8L-77.8 505.6L-79.4 509.4L-81.2 513.1L-82.9 516.9L-84.8 520.6L-86.6 524.3L-88.4 528L-90.2 531.7L-91.9 535.5L-93.6 539.2L-95.1 543.1L-94.9 542.3M-51.2 506.2L-53.8 509.5L-56.4 512.9L-58.8 516.4L-61 520L-63.1 523.7L-65 527.4L-67 531.2L-68.8 535L-70.5 538.9L-71.9 542.8L-73.1 546.9L-73 546.2M-28 513.9L-31.3 516.7L-34.6 519.7L-37.7 522.9L-40.7 526.1L-43.4 529.6L-46.2 533.1L-48.6 536.8L-50.8 540.6L-52.6 544.6L-52.5 544.1M-5.9 518.4L-9.2 520.8L-12.4 523.2L-15.6 525.7L-18.7 528.3L-21.7 531L-24.8 533.6L-27.6 536.5L-30.4 539.4L-32.9 542.6L-32.4 541.8M15.9 520.5L11.9 523.2L7.9 525.8L3.9 528.6L0 531.4L-3.9 534.2L-7.7 537.2L-11.4 540.3L-11.3 540.2M37.8 519.8L33.8 522.5L29.7 525.3L25.7 528.1L21.7 531L17.7 533.8L13.8 536.6L9.8 539.5L9.9 539.5M60.6 518.4L57 520.5L53.5 522.6L50.1 524.9L46.7 527.2L43.4 529.6L40.1 532L36.8 534.5L33.6 537L30.4 539.6L31.1 539M83.7 519.3L79.9 520.7L76.1 522.2L72.3 523.8L68.7 525.5L65 527.4L61.4 529.3L57.9 531.3L54.4 533.5L51.1 535.8L51.8 535.2M105.9 519.2L102 520.2L98.2 521.1L94.3 522.1L90.4 523.2L86.6 524.3L82.7 525.4L78.9 526.6L75.1 528L71.4 529.5L72.3 529.1M125.5 514.4L121.2 516.3L116.9 517.8L112.4 519.2L107.9 520.3L103.4 521.5L98.9 522.6L94.4 523.7L94.8 523.6M141 505.2L137.6 509.2L133.6 512.6L129.1 515.5L124.7 518.3L119.9 520.6L119.6 520.7M156.1 496.7L154.5 501.2L152.5 505.6L150.1 509.8L147.7 513.9L144.9 517.9L145 517.7M174 489.9L173.2 494.4L172.1 498.8L170.8 503.2L169.5 507.6L168 511.9L168.2 511.5M193.6 482.7L192.9 487.1L192.1 491.4L191.2 495.8L190.4 500.1L189.4 504.5L189.5 503.9M213.9 475.1L213 479.2L212.2 483.4L211.4 487.6L210.5 491.7L209.6 495.9L209.8 495.1M234.1 466.8L233.1 470.7L232.1 474.6L231.1 478.5L230.2 482.4L229.2 486.3L229.4 485.4M253.6 457.1L252.1 462.9L250.5 468.7L248.9 474.4L248.7 475.4M272 445.7L271.2 449.8L270.4 453.9L269.5 458L268.5 462.1L267.6 466.2L267.8 465.5M288.7 432.7L288.6 437.3L288.4 442L288 446.6L287.6 451.2L287 455.9L287.1 455.5M304.5 419.3L305.1 424.3L305.6 429.4L306 434.5L306.4 439.5L306.6 444.6L306.6 444.7M-201 464.5L-203.5 469.5L-203.8 470M-181.1 470.9L-184.2 477.4L-185.1 479.4M-161.6 476.3L-163 480.5L-164.5 484.5L-166 488.6L-165.8 488M-141.9 481.2L-143.1 486.1L-144.5 490.9L-146 495.6L-146 495.7M-121.4 485.2L-122.6 490.8L-124.3 496.4L-126.1 501.9L-126.4 502.7M-100.8 486.5L-101.3 491.5L-102.4 496.3L-103.9 501L-105.5 505.7L-107.4 510.3L-107.4 510.3M-78.5 485.2L-79 489.3L-79.7 493.2L-80.7 497.2L-82 501.1L-83.4 504.9L-84.8 508.7L-86.3 512.4L-88 516.1L-89.7 519.8L-89.3 519M-49.2 489.1L-52.1 492.7L-54.9 496.4L-57.6 500.1L-60.2 504L-62.6 507.9L-65.1 511.8L-67.5 515.7L-69.7 519.7L-71.9 523.8L-71.7 523.5M-23.3 494.5L-26.5 496.9L-29.7 499.4L-32.8 502L-35.9 504.6L-38.9 507.2L-41.8 510L-44.7 512.7L-47.6 515.6L-50.3 518.6L-52.8 521.7L-55.2 524.9L-54.7 524.2M-0.9 497.2L-4.3 499.4L-7.7 501.7L-11.1 504L-14.4 506.4L-17.7 508.8L-20.9 511.3L-24.2 513.7L-27.4 516.2L-30.6 518.8L-33.7 521.5L-36.7 524.2L-36 523.6M20.1 499.3L16 501.7L12 504.1L7.9 506.6L4 509.1L0 511.7L-4 514.3L-7.9 516.9L-11.7 519.6L-15.6 522.4L-15.4 522.3M41.2 499.6L37.1 501.9L33 504.2L29 506.5L24.9 508.9L20.9 511.3L16.9 513.7L12.9 516.1L9 518.6L5 521.1L5.3 520.9M63.4 498.1L59.8 500L56.1 501.9L52.5 503.9L48.9 505.9L45.4 507.9L41.8 510L38.3 512.1L34.7 514.2L31.2 516.3L27.8 518.5L24.3 520.7L25 520.3M85.4 496.9L81.6 498.7L77.8 500.5L74 502.3L70.2 504.1L66.4 506L62.6 507.9L58.9 509.7L55.2 511.7L51.5 513.7L47.8 515.8L44.2 518L44.9 517.6M104.4 494.8L100.3 497L96.1 499.1L91.9 501.1L87.6 503L83.4 504.9L79.1 506.7L74.8 508.6L70.5 510.4L66.3 512.3L66.5 512.2M119.7 491.4L116.1 494.3L112.2 496.9L108.1 499L103.9 501L99.7 503L95.5 504.9L91.2 506.7L91.5 506.5M132.4 484.7L130.3 489L127.6 492.9L124.3 496.4L121.1 499.8L117.3 502.8L117.5 502.7M147.6 477L146.8 481.7L145.8 486.3L144.5 490.9L143.2 495.4L141.5 499.9L141.6 499.7M165.9 471.2L165.5 475.6L165 480.1L164.5 484.5L163.9 489L163.2 493.4L163.3 492.9M185.6 464.9L185.1 469.1L184.6 473.3L184.2 477.4L183.7 481.6L183.1 485.7L183.3 484.9M205.5 457.5L204.8 461.5L204.2 465.5L203.5 469.5L202.9 473.5L202.2 477.5L202.4 476.6M225.1 449.3L223.8 455L222.6 460.8L221.3 466.5L221.1 467.4M244 440.1L242.6 445.7L241.2 451.3L239.8 456.8L239.6 457.6M261.5 429.4L260.6 435.2L259.5 441L258.3 446.9L258.1 447.8M277.3 417L277.4 421.3L277.4 425.7L277.3 430.1L277.1 434.4L276.9 438.8L276.9 438.2M292.6 403.5L293.3 408.5L294 413.4L294.6 418.4L295.3 423.3L295.8 428.3L295.8 428.3M-193.7 446.8L-195.7 451.4L-195.7 451.5M-174.7 452.4L-177.1 459L-177.8 460.9M-156.2 457.1L-157.2 461.5L-158.1 465.9L-159.1 470.3L-159 469.8M-138.1 461.9L-138.5 466.9L-139 472L-139.4 477L-139.5 477.1M-120.1 466.3L-119.7 471.8L-119.5 477.3L-119.4 482.8L-119.4 483.3M-101.9 468.9L-101.1 473.1L-100.4 477.4L-99.9 481.7L-99.5 486.1L-99.4 490.4L-99.3 489.8M-80.6 471.6L-80.1 476.2L-79.9 480.8L-80.1 485.4L-80.3 490L-80.9 494.6L-80.8 494.2M-53.1 476.2L-55.6 480.2L-57.9 484.2L-60.2 488.3L-62.5 492.4L-64.7 496.5L-64.6 496.3M-27.3 479.4L-30.6 482L-33.9 484.7L-37.1 487.5L-40.2 490.4L-43.3 493.2L-46.4 496.1L-49.3 499.2L-48.8 498.6M-3.5 480L-6.8 482.2L-10.2 484.5L-13.5 486.8L-16.8 489.2L-20.1 491.6L-23.4 494L-26.7 496.4L-29.9 498.9L-33.1 501.4L-32.4 500.8M19.4 480.3L15.5 482.6L11.6 484.9L7.7 487.2L3.8 489.6L0 492L-3.8 494.4L-7.6 496.9L-11.4 499.5L-15.1 502.1L-14.7 501.8M40.8 480.1L36.7 482.5L32.5 484.8L28.4 487L24.3 489.3L20.1 491.6L16 493.9L11.9 496.2L7.8 498.6L3.8 501L4 500.9M60.7 477.8L57.5 480.1L54.1 482.3L50.7 484.4L47.2 486.4L43.7 488.4L40.2 490.4L36.7 492.3L33.2 494.2L29.6 496.1L26.1 498.1L22.6 500L23.4 499.5M79 475.2L75.5 478.1L71.8 480.9L68 483.5L64.1 485.9L60.2 488.3L56.3 490.7L52.3 493L48.3 495.2L44.3 497.4L44.7 497.2M94.9 473.1L91.5 476.6L87.9 479.8L84.1 482.7L80.1 485.4L76.2 488.1L72.1 490.7L67.9 493.1L68.1 493M109.7 469.9L106.9 474.2L103.6 478.2L99.9 481.7L96.2 485.3L92.2 488.5L92.1 488.6M124.1 464.8L123 469.1L121.4 473.3L119.5 477.3L117.6 481.3L115.3 485L115.6 484.6M140.8 457.3L140.2 462.2L139.7 467.1L139 472L138.3 476.8L137.4 481.7L137.4 481.6M159.4 451.5L158.9 456.3L158.5 461.1L158.1 465.9L157.8 470.7L157.4 475.5L157.4 475.3M178.6 446.3L178 450.6L177.5 454.8L177.1 459L176.6 463.3L176.2 467.5L176.3 466.8M197.6 439.7L196.6 445.5L195.7 451.4L194.8 457.3L194.6 458.2M216.4 431.8L215.2 437.4L214 443L212.8 448.7L212.7 449.4M234.5 422.9L233.2 428.4L231.9 433.9L230.6 439.4L230.5 440M251.4 412.6L250.5 418.3L249.5 424.1L248.5 429.8L248.3 430.6M266.8 400.4L266.8 404.8L266.7 409.1L266.6 413.5L266.5 417.9L266.3 422.2L266.4 421.6M282.2 387.3L282.4 392.3L282.8 397.3L283.3 402.3L283.8 407.2L284.4 412.2L284.4 412.2M-186.3 429.1L-187.9 433.3L-187.7 432.9M-168.2 433.8L-170 440.7L-170.5 442.7M-150.4 437.5L-151.1 442.4L-151.8 447.2L-152.5 452.1L-152.5 452M-133.2 441.5L-133.3 447.3L-133.4 453.1L-133.5 458.9L-133.5 459.7M-116.5 445.4L-116 449.6L-115.4 453.9L-114.8 458.1L-114.1 462.4L-113.5 466.6L-113.6 466M-99.3 449.2L-98.2 453.6L-97.1 458L-95.9 462.5L-94.8 466.9L-93.6 471.3L-93.7 470.9M-79 456.4L-77.8 461.2L-76.9 466L-76 470.8L-76 470.7M-55.4 462.5L-57.8 468.7L-58.4 470.4M-32.2 464.9L-35.4 467.7L-38.6 470.7L-41.8 473.7L-41.3 473.2M-10 465.2L-14.7 468.5L-19.3 471.9L-23.9 475.3L-24.5 475.7M11.6 464.8L7.8 467.3L3.9 469.8L0 472.3L-3.9 474.8L-7.7 477.4L-7.4 477.2M32.1 463.8L27.9 466.6L23.6 469.3L19.3 471.9L15 474.5L10.6 477.1L10.6 477.2M50.8 461.2L47 464.6L42.9 467.8L38.6 470.7L34.3 473.6L29.9 476.4L29.8 476.5M68.2 457.2L65.1 461.4L61.6 465.2L57.8 468.7L54 472.3L50 475.5L49.9 475.6M85 453.8L82.6 458.1L79.9 462.2L76.9 466L73.9 469.8L70.6 473.4L70.7 473.3M101.2 450.2L99.7 454.4L98 458.5L95.9 462.5L93.9 466.4L91.5 470.2L91.8 469.7M117.7 445.1L116.8 449.5L115.9 453.8L114.8 458.1L113.7 462.5L112.3 466.7L112.5 466.2M135.4 438.4L134.7 443.3L134 448.2L133.4 453.1L132.8 458L132.1 462.8L132.1 462.8M154 431.8L153.2 436.9L152.4 442.1L151.8 447.2L151.2 452.4L150.7 457.6L150.7 457.8M172.6 426.4L171.6 431.1L170.7 435.9L170 440.7L169.2 445.4L168.5 450.2L168.6 450.1M190.8 420.6L189.7 424.8L188.8 429.1L187.9 433.3L187 437.6L186.1 441.9L186.2 441.2M208.7 413.4L207.5 417.3L206.4 421.3L205.4 425.3L204.4 429.3L203.4 433.3L203.6 432.4M226.1 404.8L224.9 408.7L223.7 412.6L222.6 416.5L221.5 420.4L220.5 424.4L220.7 423.5M242.7 394.8L241.6 398.9L240.5 403L239.5 407.1L238.5 411.2L237.5 415.3L237.6 414.5M258.2 382.8L257.4 387.5L256.6 392.2L255.9 396.9L255.3 401.7L254.6 406.4L254.7 406.2M274 369.6L273.2 373.7L272.6 377.8L272.2 382L272 386.1L271.7 390.3L271.6 394.5L271.5 398.7L271.5 397.9M-179.4 411L-180 415.3L-179.9 414.6M-162.2 415.1L-162.9 422.3L-163.1 424.5M-145.2 418L-145.3 423.3L-145.5 428.6L-145.7 433.9L-145.7 434.2M-128.5 421L-128.2 425.4L-128 429.8L-127.8 434.2L-127.7 438.6L-127.5 443L-127.6 442.4M-111.9 424.3L-111.3 429.2L-110.6 434.1L-110 439L-109.3 444L-108.6 448.9L-108.6 448.8M-94.6 429.4L-93.8 434L-92.9 438.6L-91.9 443.2L-90.9 447.8L-89.8 452.3L-89.9 452M-75.6 439L-73.7 446.6L-73 449.3M-14.8 449.1L-18.5 452.2L-18.4 452.1M4.5 448.6L0 452.6L-0.7 453.3M23 447.6L18.5 452.2L17.5 453.3M40.9 445.5L37 451.1L35.9 452.6M58.7 441.9L55.4 449.2L54.1 451.9M76.6 437.2L75.3 441.9L73.7 446.6L72.1 451.2L72.1 451.1M94.7 431.8L93.5 437.5L91.9 443.2L90.4 448.8L90.1 449.7M112.5 426L111.7 430.3L110.8 434.7L110 439L109.1 443.4L108.2 447.7L108.3 447.2M130.8 420L129.7 424.7L128.7 429.4L127.8 434.2L126.9 438.9L126.1 443.7L126.1 443.5M149 413.1L147.7 418.2L146.6 423.4L145.5 428.6L144.4 433.8L143.5 439L143.4 439.3M166.9 406.5L165.8 410.4L164.8 414.3L163.8 418.3L162.9 422.3L162 426.2L161.1 430.2L160.3 434.2L160.5 433.3M184.5 400.6L182.9 405.4L181.4 410.3L180 415.3L178.6 420.2L177.4 425.1L177.3 425.3M201.9 394.1L200.1 398.5L198.4 403L196.9 407.5L195.3 412.1L193.8 416.7L193.9 416.5M218.9 386L216.9 390.4L215.1 394.7L213.4 399.2L211.6 403.6L210 408L210 407.8M235.3 376.3L233.3 380.9L231.4 385.5L229.5 390.1L227.6 394.7L225.9 399.4L225.8 399.4M251.1 364.6L249.6 368.5L248.1 372.5L246.6 376.4L245.3 380.4L243.9 384.4L242.5 388.4L241.3 392.4L241.5 391.6M266.6 351.3L265 356L263.4 360.6L262 365.3L260.6 370L259.3 374.8L258 379.5L256.9 384.3L256.9 384.2M-173.2 392.5L-172.2 397.2L-172.2 397M-157 396.1L-155.8 403.9L-155.4 406.7M-140.9 398.7L-139.9 404.3L-139.2 409.9L-138.4 415.5L-138.4 416.2M-124.6 401.2L-123.6 405.9L-122.9 410.6L-122.3 415.3L-121.7 420L-121.1 424.7L-121.2 424.5M-107.8 404.2L-106.8 409.4L-106 414.7L-105.2 419.9L-104.4 425.2L-103.7 430.4L-103.6 430.8M-90.1 409.9L-89.4 414.6L-88.7 419.2L-87.9 423.9L-87.2 428.5L-86.4 433.2L-86.4 432.9M-71.8 420L-70.5 427.1L-70.1 429.3M51.3 425.4L53 429.6L52.8 429.2M69.7 421.6L70.5 427.1L70.6 427.7M88.5 416.1L87.9 423.9L87.7 426.7M107.1 409.2L106.1 414.6L105.2 419.9L104.2 425.3L104.2 425.8M125.9 402.7L124.6 406.9L123.4 411.1L122.3 415.3L121.1 419.5L120.1 423.7L120.2 423.1M143.8 395.4L142.2 400.2L140.6 405.1L139.2 409.9L137.7 414.8L136.3 419.7L136.3 419.8M161.2 387.8L159.7 391.8L158.3 395.8L157 399.8L155.8 403.9L154.6 408L153.4 412L152.3 416.1L152.5 415.4M178.5 381.1L176.7 385.1L175.1 389.1L173.6 393.1L172.2 397.2L170.8 401.3L169.4 405.4L168.2 409.5L168.4 408.8M195.4 374.6L193.5 378.3L191.7 382.1L189.9 385.9L188.3 389.8L186.6 393.7L185.1 397.6L183.6 401.5L183.8 400.8M212 367.2L209.9 370.8L207.9 374.4L205.9 378.1L204.1 381.8L202.2 385.5L200.4 389.2L198.7 393L199 392.2M228.2 358.3L226 362L223.8 365.7L221.6 369.4L219.5 373.1L217.4 376.9L215.4 380.7L213.4 384.5L213.7 383.9M243.7 347.3L241.4 351.4L239.1 355.6L236.9 359.7L234.6 363.8L232.3 368L230.1 372.1L227.9 376.3L228 376.1M257.7 334.2L256.2 338.3L254.6 342.2L252.8 346.1L251.1 350L249.3 353.9L247.5 357.8L245.7 361.7L243.8 365.6L242.1 369.5L242.3 368.9M-242.6 336.4L-237.9 337.8L-238.1 337.8M-228.5 345.9L-223.9 347.3L-224.1 347.2M-213.9 354.6L-209.5 356.1L-209.8 356M-198.8 362.2L-194.8 364.4L-195.1 364.2M-183.5 368.6L-179.7 372.1L-179.6 372.2M-168.2 373.5L-164.3 379.1L-163.3 380.6M-153.2 377.1L-150.8 381.2L-148.7 385.5L-146.6 389.8L-146.7 389.6M-137.8 379.9L-135.9 383.6L-134.3 387.4L-132.8 391.3L-131.4 395.2L-130.1 399.1L-130.4 398.3M-121.6 382.4L-119.7 387L-118.1 391.6L-116.7 396.4L-115.3 401.1L-114.2 405.9L-114.2 405.9M-104.6 385.7L-103 390.7L-101.6 395.7L-100.4 400.8L-99.2 405.9L-98.2 411.1L-98.2 411.3M-86.5 391.4L-85.6 395.8L-84.7 400.2L-83.9 404.6L-83.2 409L-82.5 413.4L-82.5 412.9M-68.2 400.6L-67.3 407.7L-67 409.8M-3.3 410.3L0 413.2L-0.4 412.8M12.4 410.1L16.9 412.9L17.2 413M29.1 409.5L33.8 411.8L33.9 411.9M46.7 408L50.6 410.1L50 409.8M101.6 394.4L100.4 400.8L100.1 402.3M120.1 387.5L118.3 391.9L116.7 396.4L115.1 400.8L115.2 400.6M138 379.7L136.2 383.5L134.4 387.4L132.8 391.3L131.2 395.2L129.7 399.1L129.9 398.4M155.6 371.1L153.1 375.8L150.8 380.6L148.7 385.5L146.6 390.4L144.7 395.4L144.6 395.7M173.1 363.1L170.7 367L168.5 370.9L166.3 375L164.3 379.1L162.4 383.2L160.5 387.4L158.8 391.6L159 391.3M189.8 355.2L187.1 359.3L184.6 363.5L182.1 367.8L179.7 372.1L177.4 376.4L175.1 380.8L173 385.2L173 385.2M205.8 347.5L203.5 350.8L201.2 354.2L199 357.5L196.9 361L194.8 364.4L192.7 367.9L190.7 371.3L188.7 374.9L186.8 378.4L187.2 377.6M221.1 339.5L218.8 342.8L216.4 346.1L214.1 349.4L211.8 352.8L209.5 356.1L207.3 359.5L205 362.9L202.9 366.3L200.8 369.8L201.2 369M235.2 329.8L233.1 333.4L230.9 336.9L228.6 340.4L226.3 343.8L223.9 347.3L221.5 350.7L219.2 354.1L216.8 357.6L214.5 361L215 360.3M246.7 318L245.4 322.1L243.9 326.2L242.1 330.2L240.1 334L237.9 337.8L235.8 341.6L233.5 345.3L231.2 349L228.9 352.7L229.2 352.2M-234.1 318.9L-226.6 321.7L-223.8 322.8M-221.5 328L-217.4 329.4L-213.2 330.7L-209.1 332.1L-209.7 331.9M-208.3 336.6L-203.9 337.9L-199.5 339.2L-195.2 340.4L-195.6 340.3M-194.3 344.1L-189.9 345.5L-185.5 347L-181.1 348.6L-181.5 348.4M-179.9 350.1L-175.5 352.1L-171.1 354.3L-166.8 356.6L-166.9 356.5M-165.4 354.6L-160.8 357.7L-156.5 361L-152.2 364.4L-151.8 364.7M-150.6 358.5L-147.5 361.2L-144.4 364.1L-141.6 367.1L-138.8 370.2L-136.1 373.4L-136.6 372.8M-135.2 361.7L-132.1 365.1L-129.1 368.8L-126.5 372.6L-123.8 376.4L-121.4 380.4L-121.6 380.2M-119.1 364.7L-116.1 368.8L-113.5 373.1L-111.1 377.5L-108.8 381.9L-106.7 386.5L-106.7 386.5M-102 368.5L-99.6 372.8L-97.5 377.2L-95.6 381.7L-93.8 386.2L-92.2 390.9L-92.2 390.8M-83.8 374.1L-81.7 379.6L-79.9 385.3L-78.2 391L-78 391.9M-65.5 381.9L-64.1 388.2L-63.8 389.7M-19.2 389.8L-16.1 393.2L-16.4 392.9M-5.1 389.3L0 393.5L1.3 394.5M10.4 390L16.1 393.2L17.4 393.9M27.4 390.6L32.2 392.2L32.2 392.2M114.6 372.6L111.1 377.5L110.5 378.3M132.2 365.5L129.3 369L126.5 372.6L123.7 376.3L123.9 375.9M149.7 356.8L146.9 360.1L144.2 363.6L141.6 367.1L139 370.7L136.6 374.3L136.9 373.8M166.9 347.6L164.2 350.9L161.6 354.2L159 357.6L156.5 361L154 364.5L151.6 367.9L149.3 371.5L149.7 370.9M183 338.1L180.6 341.4L178.3 344.6L175.9 347.8L173.5 351.1L171.1 354.3L168.8 357.6L166.5 360.9L164.2 364.2L162 367.5L162.5 366.7M197.9 328.9L195.5 332.5L193 336.2L190.5 339.8L188 343.4L185.5 347L183 350.7L180.5 354.3L178 357.9L175.6 361.6L175.9 361.1M211.6 320.4L209.4 324.3L207 328.1L204.6 331.8L202.1 335.5L199.5 339.2L197 342.8L194.5 346.5L191.9 350.2L189.5 353.9L189.7 353.5M223.2 312L221.7 315.9L219.8 319.8L217.8 323.5L215.6 327.2L213.2 330.7L210.9 334.3L208.5 337.8L206.1 341.3L203.6 344.8L204 344.2M232.3 302.9L231.6 307.8L230.4 312.6L228.7 317.3L226.6 321.7L224.5 326.2L222 330.5L219.4 334.7L219.4 334.6M-213.8 308.9L-210.1 310.7L-206.3 312.5L-202.6 314.2L-198.8 315.8L-195 317.4L-195.7 317.1M-190 325.2L-185.4 326.7L-180.8 328.2L-176.2 329.7L-171.6 331.2L-167 332.7L-167.2 332.7M-162.5 336.4L-157.8 338.4L-153.2 340.6L-148.7 343L-144.1 345.3L-139.7 347.9L-139.6 348M-132.2 344.3L-128 347.3L-124 350.5L-120.2 354L-116.3 357.4L-112.7 361.1L-112.6 361.2M-98.8 352.2L-96 355.5L-93.3 359L-90.8 362.6L-88.4 366.2L-86.1 369.9L-86.4 369.4M-63 364.1L-60.9 368.8L-60.8 369M-5.4 368.4L0 373.8L1.9 375.6M126.8 350.3L120.2 354L117.9 355.2M158 334.8L154.9 337.5L151.8 340.3L148.7 343L145.5 345.6L142.4 348.3L143 347.8M185.4 316L183.3 319.5L181 323L178.7 326.3L176.2 329.7L173.7 333L171.2 336.2L168.6 339.4L169.2 338.8M206.8 298L206.3 302.2L205.4 306.3L204.1 310.3L202.6 314.2L201 318L199.1 321.8L197.1 325.5L197.5 324.8M-200.5 291.1L-196.2 294.4L-191.9 297.6L-187.5 300.8L-187.2 301M-179.1 306.4L-175.1 308.4L-171 310.4L-166.9 312.3L-162.8 314.2L-158.8 316.1L-159.2 315.9M-155.3 318.1L-151.7 319.8L-148.1 321.4L-144.4 323.2L-140.8 324.9L-137.2 326.6L-133.6 328.4L-130.1 330.2L-130.9 329.7M-126.7 327.6L-122.3 330.1L-118 332.6L-113.8 335.3L-109.6 338L-105.5 340.9L-105.5 340.9M-93.5 336.7L-89.7 340L-86 343.5L-82.4 347L-82.3 347M-32 348.1L-28.9 352.9L-28.5 353.5M-3.5 349L0 354.1L0.7 355.1M90.8 343.6L86 343.5L86.3 343.5M120.4 334.3L113.8 335.3L112.2 335.6M148.2 321.3L144.6 323.2L140.8 324.9L137.1 326.6L137.9 326.3M172.5 304.2L169.9 308.4L166.9 312.3L163.9 316.2L163.9 316.2M190.9 285.7L191.8 289.6L192.1 293.6L191.9 297.6L191.7 301.6L191.1 305.6L191.3 304.6M-185.8 275.4L-181.2 281L-179.8 282.8M-162.6 287.7L-160.2 291.4L-157.6 294.9L-155.1 298.4L-155.5 298M-141.7 298.4L-139.1 301.4L-136.1 304.2L-133 306.8L-129.9 309.4L-126.6 311.8L-127.4 311.2M-116.5 311.2L-112 314L-107.5 316.7L-103 319.3L-102.7 319.5M-85.7 321.4L-81.3 324.4L-81 324.6M-30.4 327.4L-27.3 333.3L-26.5 334.8M85.3 325.9L81.3 324.4L81.8 324.6M112.1 318.1L107.5 316.7L107.6 316.7M137.6 307.2L133 306.8L133.3 306.8M175.7 273.4L178.8 277L181.2 281L183.6 285.1L183.5 284.9M-174.6 260L-170.5 264.5L-169.8 265.3M-151.6 269.4L-149.9 273.4L-148.3 277.5L-146.8 281.7L-147 281.1M-128 280.5L-126.7 284.7L-125.2 288.7L-123.6 292.8L-123.9 292.3M-104.3 294.5L-101.2 298L-101.3 297.8M-28.6 308.5L-25.7 313.6L-25.3 314.4M160.1 261.8L165.4 262.7L170.5 264.5L175.7 266.2L176.1 266.4M-165.8 243.8L-159.9 247.9L-158 249.2M-143.4 252.4L-141.1 256.2L-139.1 260.2L-137.1 264.1L-137.3 263.6M-119.6 263.4L-117.3 270.7L-116.6 273.2M-52.6 288.6L-48.1 291.1L-47.9 291.2M-28.6 290.6L-24.1 294L-23.6 294.4M45.5 294.7L48.1 291.1L47.7 291.5M68.9 290.9L71.7 286.2L72 285.7M91.7 285.4L94.8 279.3L95.7 277.7M113.1 277.5L115.1 274L117.3 270.7L119.6 267.3L119 268.1M130.9 265.5L134.8 262.6L139.1 260.2L143.3 257.8L143.2 257.8M145.4 249.8L150.2 248.8L155 248.1L159.9 247.9L164.7 247.7L169.6 247.9L169.4 247.9M-157.7 227.3L-153.4 229.2L-149.2 231.4L-145 233.5L-145.2 233.4M-136.8 236.1L-133.1 239.3L-129.8 242.8L-126.4 246.3L-126.5 246.1M-114.1 246.5L-109.5 252.6L-107.9 254.7M-92.7 256.8L-88.5 260.7L-88 261.2M-72 264L-66.9 267L-66.1 267.5M-51.2 268.6L-44.8 271.6L-43 272.5M-29.8 271.6L-22.5 274.4L-19.8 275.4M-7.9 275L0 275.3L2.9 275.4M14.5 277.1L18.5 275.9L22.5 274.4L26.5 272.9L25.8 273.2M37 277.1L41 274.4L44.8 271.6L48.7 268.8L48.6 268.9M59.1 274L63 270.5L66.9 267L70.8 263.6L71 263.4M80.5 269L84.5 264.8L88.5 260.7L92.5 256.5L93.1 256M100.5 261.8L103.4 258.7L106.4 255.6L109.5 252.6L112.6 249.6L115.8 246.7L115.3 247.2M117.6 251L121.5 248L125.5 245.3L129.8 242.8L134 240.3L138.4 238.2L138.3 238.2M132.3 236.7L136.4 235L140.6 233.5L144.8 232.3L149.2 231.4L153.5 230.4L157.9 229.7L162.3 229.2L161.8 229.3M-147.5 211L-142.9 212.8L-138.5 214.8L-134.1 216.8L-134.2 216.8M-128.2 220L-124.3 222.6L-120.5 225.4L-116.7 228.2L-116.9 228.1M-108.2 229.3L-105 231.9L-101.7 234.5L-98.4 237.1L-99 236.6M-88.7 237.7L-82.2 242L-79.8 243.6M-69.4 243.9L-65.8 245.9L-62.1 247.9L-58.4 249.9L-59.2 249.6M-50.4 248L-46 250.1L-41.6 252.2L-37.2 254.2L-37.4 254.2M-31.4 251L-26.2 253L-20.9 254.7L-15.6 256.5L-15 256.7M-11.7 254.4L-5.9 255.3L0 255.6L5.9 255.9L6.8 255.9M8.9 257.4L13 256.8L17 255.9L20.9 254.7L24.8 253.6L28.7 252.3L27.8 252.6M29.9 258.3L33.9 256.4L37.8 254.4L41.6 252.2L45.5 250L49.3 247.7L48.8 248M50.5 256.2L54.4 253.5L58.3 250.8L62.1 247.9L65.9 245.1L69.8 242.3L69.6 242.4M70.3 251.8L74.2 248.5L78.2 245.3L82.2 242L86.1 238.8L90.1 235.6L90.2 235.5M88.5 245.3L91.8 242.5L95 239.8L98.3 237.1L101.7 234.5L105 231.9L108.4 229.4L111.9 226.9L111.3 227.3M104.7 235.9L108.5 233.1L112.4 230.4L116.4 227.8L120.5 225.4L124.6 223L128.8 220.8L133.1 218.8L132.9 218.8M118.8 223.6L122.6 221.5L126.5 219.6L130.4 217.8L134.4 216.2L138.5 214.8L142.6 213.4L146.7 212.1L150.9 211L155.1 210.1L154.4 210.2M-137.7 194.4L-132.8 196.3L-127.8 198.3L-122.9 200.2L-122.6 200.4M-120.5 203.1L-115.8 205.5L-111.2 208L-106.6 210.6L-106.4 210.7M-102.6 211.4L-98.2 213.9L-93.8 216.4L-89.5 219L-89.4 219M-84.8 218.5L-80.3 220.9L-75.8 223.4L-71.3 225.8L-71.2 225.9M-67.2 223.7L-62.3 226.3L-57.3 228.8L-52.4 231.4L-51.8 231.6M-49.8 227.2L-46 229.1L-42.2 230.9L-38.4 232.7L-34.6 234.6L-30.8 236.3L-31.5 236M-32.2 229.8L-27.9 231.7L-23.6 233.5L-19.3 235.1L-14.9 236.8L-10.5 238.2L-10.8 238.1M-13.9 233.2L-9.3 234.4L-4.7 235.3L0 235.9L4.7 236.5L9.4 236.6L9.1 236.6M5.2 237.2L9.9 236.8L14.6 236.1L19.3 235.1L23.9 234.1L28.5 232.7L28.3 232.8M24.3 238.7L29.1 236.9L33.8 234.9L38.4 232.7L43 230.6L47.6 228.3L47.7 228.3M42.7 237.3L46.4 235.2L50.1 233.1L53.7 231L57.3 228.8L60.9 226.7L64.5 224.5L68.1 222.2L67.5 222.6M60.1 233.8L64.1 231.2L68 228.6L71.9 226L75.8 223.4L79.8 220.8L83.7 218.2L87.6 215.6L87.4 215.8M76.3 228.3L79.8 225.9L83.2 223.5L86.8 221.1L90.3 218.7L93.8 216.4L97.4 214.1L101 211.9L104.6 209.7L108.2 207.5L107.6 207.9M90.9 220.4L94.8 217.8L98.9 215.2L102.9 212.8L107 210.4L111.2 208L115.4 205.7L119.6 203.5L123.9 201.4L128.2 199.4L128 199.5M104.5 210L108.3 207.8L112.2 205.7L116 203.8L119.9 201.8L123.9 200L127.8 198.3L131.8 196.5L135.8 194.8L139.9 193.3L143.9 191.7L148.1 190.3L147.4 190.5M-128.4 177.4L-124.6 178.8L-120.9 180.2L-117.2 181.7L-113.4 183.2L-109.7 184.7L-110.6 184.4M-113 185.7L-109.3 187.3L-105.6 189L-101.9 190.7L-98.2 192.4L-94.6 194.1L-95.4 193.7M-97.1 193L-93.4 194.8L-89.7 196.6L-86 198.4L-82.3 200.2L-78.6 202L-79.4 201.6M-81 199.1L-77.1 201L-73.3 202.9L-69.5 204.7L-65.7 206.6L-61.9 208.5L-62.5 208.2M-64.8 203.7L-60.7 205.7L-56.6 207.7L-52.5 209.7L-48.5 211.8L-44.4 213.8L-44.8 213.6M-48.4 206.7L-44 208.9L-39.6 211.1L-35.2 213.3L-30.8 215.5L-26.4 217.7L-26.5 217.7M-31.4 208.9L-26.9 211.2L-22.3 213.4L-17.7 215.5L-13 217.6L-8.3 219.5L-8.3 219.5M-13.5 211.9L-9.1 213.6L-4.6 215.1L0 216.2L4.6 217.3L9.3 218L9 218M3.8 215.5L8.4 215.9L13.1 215.9L17.7 215.5L22.3 215.1L26.8 214.4L26.5 214.4M20 217.2L25.1 216.2L30.2 214.8L35.2 213.3L40.2 211.8L45.2 210.1L45.4 210M35.2 216.5L39.6 214.9L43.9 213.3L48.2 211.5L52.5 209.7L56.8 207.9L61.1 206.1L65.4 204.2L65.1 204.3M49.5 214.1L53.5 212.3L57.5 210.4L61.5 208.6L65.5 206.7L69.5 204.7L73.5 202.8L77.4 200.8L81.4 198.9L85.3 196.9L84.8 197.1M63.4 210L67.2 208.1L71 206.1L74.7 204.2L78.5 202.3L82.2 200.3L86 198.4L89.7 196.4L93.5 194.4L97.3 192.5L101 190.6L104.8 188.6L104.1 189M77.2 203.5L81.3 201.4L85.4 199.2L89.6 197.1L93.7 194.9L97.8 192.8L101.9 190.7L106 188.6L110.2 186.5L114.3 184.4L118.5 182.3L122.6 180.3L122.3 180.4M91.7 194.6L95.3 192.7L98.9 190.8L102.6 189L106.2 187.2L109.8 185.3L113.5 183.5L117.2 181.7L120.8 179.9L124.5 178.1L128.1 176.3L131.8 174.6L135.5 172.8L139.2 171.1L138.4 171.5M-119.4 160.1L-115.1 161.7L-110.8 163.4L-106.5 165.1L-102.2 166.9L-97.9 168.6L-98.3 168.5M-105.6 167.7L-101.3 169.6L-97 171.4L-92.6 173.3L-88.3 175.2L-84 177.1L-84.2 177M-91.4 174.3L-87 176.3L-82.6 178.3L-78.2 180.3L-73.8 182.3L-69.4 184.3L-69.5 184.2M-76.7 179.8L-72.2 181.9L-67.7 184L-63.2 186.1L-58.7 188.2L-54.2 190.3L-54.2 190.3M-61.5 184.1L-56.9 186.2L-52.3 188.4L-47.7 190.6L-43.2 192.8L-38.6 195.1L-38.5 195.1M-45.5 187.1L-41 189.4L-36.5 191.6L-32 193.9L-27.5 196.1L-23 198.4L-23 198.4M-28.7 189.5L-24.5 191.6L-20.3 193.8L-16.1 195.8L-11.8 197.9L-7.5 200L-7.8 199.9M-11.9 191.5L-8 193.3L-4 195L0 196.5L4 198L8.2 199.3L7.5 199.2M3.3 192.9L7.5 194.2L11.7 195.1L16.1 195.8L20.4 196.5L24.7 196.9L24.1 196.9M16.6 193.2L21.7 193.8L26.9 194L32 193.9L37.2 193.8L42.3 193.4L42.5 193.4M28.9 192.1L33.6 192.1L38.4 191.8L43.1 191.3L47.7 190.6L52.4 189.9L57.1 189.1L61.7 188.1L61.5 188.1M41.3 190L45.8 189.5L50.1 188.9L54.5 188.1L58.9 187.1L63.2 186.1L67.5 185L71.7 183.8L76 182.5L80.2 181L79.7 181.2M54.4 186.8L58.4 186L62.4 185.1L66.4 184L70.3 182.9L74.3 181.6L78.2 180.3L82.1 178.9L85.9 177.5L89.8 176L93.6 174.5L97.4 172.8L96.6 173.2M68.1 182.1L72.3 180.9L76.4 179.5L80.5 178.1L84.6 176.6L88.6 175L92.6 173.3L96.6 171.6L100.6 169.9L104.6 168.1L108.5 166.3L112.4 164.4L111.9 164.7M82.7 175.3L86.7 173.7L90.7 172.2L94.7 170.5L98.7 168.8L102.6 167L106.5 165.1L110.4 163.3L114.3 161.4L118.1 159.5L121.9 157.5L125.8 155.6L125.2 155.9M-116.4 138.8L-111.5 140.6L-106.7 142.6L-101.8 144.5L-96.9 146.5L-92.1 148.5L-91.8 148.6M-98 149.8L-93.1 151.9L-88.2 153.9L-83.3 155.9L-78.5 158L-73.6 160L-73.3 160.1M-77.6 159L-73 160.9L-68.3 162.9L-63.6 165L-59 167L-54.3 169L-54.2 169M-55.9 165.6L-51.6 167.5L-47.2 169.5L-43 171.5L-38.7 173.5L-34.4 175.5L-34.6 175.4M-33.7 169.5L-29.6 171.4L-25.6 173.5L-21.6 175.5L-17.6 177.5L-13.7 179.5L-14.1 179.3M-12.7 170.9L-8.5 172.9L-4.3 174.9L0 176.8L4.3 178.7L8.6 180.5L8.3 180.4M5.7 170.1L9.6 171.7L13.6 173.1L17.6 174.3L21.6 175.5L25.7 176.6L29.8 177.5L33.9 178.3L33.1 178.2M23.6 168.2L28.4 169.4L33.2 170.3L38.1 171L43 171.5L47.9 172L52.8 172.2L57.7 172.1L57.6 172.1M42.5 164.8L46.7 165.2L50.9 165.4L55.2 165.4L59.4 165.3L63.6 165L67.9 164.6L72.1 164.1L76.2 163.4L80.4 162.6L79.7 162.7M62.2 159.2L66.5 158.9L70.7 158.4L75 157.8L79.2 156.9L83.3 155.9L87.5 154.9L91.6 153.8L95.7 152.5L99.7 151L99.1 151.3M82.5 150.7L86.4 149.8L90.3 148.7L94.2 147.4L98 146L101.8 144.5L105.6 143.1L109.3 141.5L113 139.8L116.7 138.1L115.9 138.5M-104.6 122.6L-99.9 124.6L-95.2 126.5L-90.5 128.4L-85.7 130.4L-81 132.3L-80.9 132.3M-87.7 133.2L-83.2 135L-78.6 136.8L-74.1 138.5L-69.5 140.3L-64.9 142L-65 142M-69.6 141.6L-65.2 143.2L-60.9 144.9L-56.5 146.6L-52.2 148.3L-47.9 150L-48.2 149.8M-51.2 147L-46.8 148.8L-42.5 150.6L-38.2 152.4L-33.9 154.2L-29.6 156.1L-29.8 156M-33.5 149.5L-28.7 151.6L-24 153.8L-19.2 155.9L-14.5 158.1L-9.8 160.3L-9.6 160.4M-16.8 149.7L-12.6 151.6L-8.4 153.4L-4.2 155.3L0 157.1L4.2 158.9L8.4 160.7L12.7 162.4L12.3 162.3M0.1 148.7L3.9 150.3L7.7 151.7L11.5 153.2L15.4 154.6L19.2 155.9L23.1 157.2L27 158.5L30.9 159.6L34.8 160.7L34 160.5M18.3 147L22.2 148.2L26.2 149.4L30.1 150.5L34.1 151.5L38.2 152.4L42.2 153.3L46.3 154L50.3 154.6L54.4 155.1L53.6 155M37 143.8L41.8 144.8L46.7 145.6L51.6 146.2L56.5 146.6L61.5 147L66.4 147.1L71.4 147.1L71.3 147.1M56 138.5L60.5 138.8L65 138.9L69.5 138.8L74.1 138.5L78.6 138.3L83.1 137.7L87.5 137L87.1 137.1M74.2 130.9L78.3 130.5L82.4 130L86.4 129.3L90.5 128.4L94.5 127.6L98.4 126.5L102.4 125.4L101.5 125.6M-93.9 106.7L-89 108.6L-84.1 110.5L-79.1 112.3L-74.2 114.2L-69.2 116L-69 116.1M-79.8 115.8L-74.8 117.6L-69.8 119.4L-64.8 121.2L-59.8 123L-54.7 124.7L-54.4 124.9M-65.5 122.5L-61.5 123.9L-57.4 125.3L-53.4 126.7L-49.4 128.2L-45.5 129.6L-41.5 131.1L-37.5 132.6L-38.2 132.3M-51.2 126.6L-46.7 128.2L-42.3 129.9L-37.8 131.6L-33.4 133.3L-29 135L-24.5 136.7L-20.1 138.5L-20.3 138.4M-36.8 128.6L-32.8 130.1L-28.8 131.7L-24.8 133.2L-20.8 134.8L-16.8 136.4L-12.8 138L-8.9 139.5L-4.9 141.1L-0.9 142.7L-1.5 142.5M-21.4 129.2L-17.2 130.8L-12.9 132.5L-8.6 134.1L-4.3 135.8L0 137.4L4.3 139L8.6 140.6L12.9 142.2L17.3 143.7L16.9 143.6M-4.6 129L-0.3 130.6L3.9 132.1L8.2 133.6L12.5 135L16.8 136.4L21.1 137.7L25.5 139.1L29.8 140.3L34.2 141.5L33.7 141.4M13.3 127.8L17.3 129L21.3 130.1L25.3 131.2L29.3 132.3L33.4 133.3L37.4 134.3L41.5 135.2L45.6 136L49.7 136.8L48.9 136.6M31.6 124.7L36 125.7L40.5 126.6L44.9 127.5L49.4 128.2L54 128.9L58.5 129.5L63 130L62.6 130M49.1 119.5L54.3 120.2L59.5 120.8L64.8 121.2L70 121.6L75.3 121.7L75.6 121.7M64.9 112.1L69.7 112.4L74.4 112.5L79.1 112.3L83.8 112.2L88.6 111.8L88.3 111.9M-74.1 96.2L-70.3 97.7L-66.6 99.2L-62.9 100.7L-59.2 102.3L-55.5 103.8L-51.8 105.3L-48.1 106.9L-44.4 108.4L-40.7 110L-41.6 109.6M-58.7 102.7L-54.5 104.5L-50.4 106.2L-46.2 108L-42 109.7L-37.8 111.5L-33.7 113.2L-29.5 114.9L-25.3 116.6L-21.1 118.3L-21.5 118.1M-41.6 106.9L-37.9 108.5L-34.1 110.1L-30.4 111.6L-26.7 113.1L-22.9 114.6L-19.2 116.1L-15.4 117.6L-11.7 119.1L-7.9 120.5L-4.1 121.9L-0.3 123.3L-1.2 123M-22 109.2L-17.6 111L-13.3 112.8L-8.9 114.5L-4.4 116.1L0 117.7L4.4 119.3L8.9 120.8L13.4 122.3L17.9 123.7L17.6 123.6M-0.4 109.8L3.5 111.2L7.4 112.5L11.3 113.8L15.2 115L19.2 116.1L23.1 117.3L27.1 118.3L31.1 119.4L35.1 120.3L34.2 120.1M21.5 107.5L25.5 108.6L29.6 109.6L33.7 110.6L37.8 111.5L41.9 112.3L46.1 113.2L50.2 113.9L49.5 113.8M41.4 101.4L46.1 102.2L50.8 103.1L55.5 103.8L60.2 104.5L64.9 105.2L64.7 105.2" fill="none" stroke="#fff" stroke-width="1.9" stroke-linecap="butt" stroke-linejoin="round"/>
<path d="M-305.6 437L-310.7 429.4L-306.3 432.1L-303 428.2ZM-288.2 449.1L-291.3 440.5L-287.7 444.1L-283.5 441.2ZM-270.4 460.7L-271.2 451.6L-268.7 456L-263.9 454.3ZM-252.3 472L-251.8 462.8L-249.9 467.6L-244.9 466.5ZM-233.7 482.7L-232.7 473.6L-231.1 478.4L-226 477.6ZM-214.7 492.9L-213.6 483.8L-212.1 488.7L-207 487.9ZM-195.3 502.6L-194.4 493.5L-192.8 498.3L-187.7 497.5ZM-175.7 511.5L-174.7 502.3L-173.1 507.2L-168.1 506.4ZM-156 519.9L-155 510.8L-153.4 515.7L-148.4 514.9ZM-136.6 528.2L-135.6 519.1L-134 523.9L-129 523.1ZM-117.4 537.2L-116.8 528L-115 532.8L-110 531.8ZM-96.4 547L-97.6 537.9L-94.9 542.3L-90.2 540.3ZM-73.5 551.1L-76.5 542.4L-73 546.2L-68.7 543.3ZM-53.8 548.9L-55.3 539.9L-52.5 544.1L-47.8 542ZM-35 546.1L-34 536.9L-32.4 541.8L-27.3 541ZM-14.9 543.6L-11.6 535.1L-11.3 540.2L-6.2 540.7ZM6 542.6L10.1 534.4L9.9 539.5L14.9 540.5ZM27.3 542.2L31.1 533.9L31.1 539L36.1 539.8ZM47.8 538.2L52.2 530.1L51.8 535.2L56.8 536.4ZM67.7 531.1L73.7 524.2L72.3 529.1L76.9 531.3ZM89.9 524.8L97 519L94.8 523.6L98.9 526.6ZM115 522.5L121.4 515.9L119.6 520.7L124.1 523.2ZM141.7 521.5L144.3 512.7L145 517.7L150.1 517.8ZM166.2 516.1L165.9 506.9L168.2 511.5L173.1 510ZM188.3 508.7L186.6 499.7L189.5 503.9L194.1 501.7ZM208.7 500L206.7 491.1L209.8 495.1L214.3 492.7ZM228.2 490.2L226.4 481.2L229.4 485.4L234 483.1ZM247.4 480.2L245.8 471.2L248.7 475.4L253.3 473.2ZM266.6 470.3L264.8 461.3L267.8 465.5L272.3 463.2ZM286.4 460.5L283.7 451.7L287.1 455.5L291.4 452.8ZM306.7 449.7L302.6 441.5L306.6 444.7L310.4 441.3ZM-294.1 420.8L-299.7 413.5L-295.2 415.9L-292.1 411.9ZM-277.2 432.6L-281.4 424.4L-277.4 427.6L-273.6 424.1ZM-260 443.5L-262.1 434.6L-259 438.6L-254.5 436.2ZM-242.4 454.2L-243 445.1L-240.6 449.6L-235.7 447.9ZM-224.4 464.5L-224.3 455.4L-222.2 460.1L-217.3 458.8ZM-206.1 474.5L-205.8 465.3L-203.8 470L-198.8 468.8ZM-187.2 483.9L-187.2 474.8L-185.1 479.4L-180.1 478ZM-167.7 492.6L-168.1 483.5L-165.8 488L-160.9 486.5ZM-147.8 500.3L-148.5 491.2L-146 495.7L-141.2 493.9ZM-128.3 507.3L-128.7 498.1L-126.4 502.7L-121.5 501.1ZM-109.6 514.8L-109.4 505.6L-107.4 510.3L-102.5 509ZM-91.5 523.4L-91.3 514.3L-89.3 519L-84.4 517.7ZM-74 527.9L-73.7 518.8L-71.7 523.5L-66.8 522.3ZM-57.4 528.3L-56.1 519.2L-54.7 524.2L-49.6 523.5ZM-39.6 527.1L-36.5 518.5L-36 523.6L-30.9 524ZM-19.3 525.3L-15.1 517.2L-15.4 522.3L-10.3 523.4ZM1.1 523.7L5.9 515.9L5.3 520.9L10.2 522.4ZM20.8 523L25.7 515.2L25 520.3L29.9 521.7ZM40.7 520.3L45.6 512.5L44.9 517.6L49.8 519.1ZM62.1 514.4L67.8 507.3L66.5 512.2L71.2 514.3ZM86.9 508.4L93.2 501.7L91.5 506.5L96.1 508.9ZM113.3 505.2L118.4 497.6L117.5 502.7L122.4 504.3ZM139.4 504.1L139.6 495L141.6 499.7L146.6 498.4ZM162.3 497.8L160.1 488.9L163.3 492.9L167.8 490.5ZM182.5 489.9L179.9 481.1L183.3 484.9L187.6 482.2ZM201.6 481.5L199.1 472.7L202.4 476.6L206.8 473.9ZM220 472.2L218 463.3L221.1 467.4L225.6 464.9ZM238.4 462.4L236.7 453.4L239.6 457.6L244.2 455.3ZM257.1 452.7L255 443.7L258.1 447.8L262.7 445.4ZM276.4 443.1L273.4 434.5L276.9 438.2L281.1 435.2ZM296.1 433.3L291.6 425.3L295.8 428.3L299.4 424.7ZM-282.4 404.6L-288.9 398.1L-284.1 399.9L-281.6 395.5ZM-266.1 416L-271.5 408.5L-267.1 411.1L-263.8 407.1ZM-249.6 426.6L-253.2 418.1L-249.4 421.6L-245.4 418.4ZM-232.5 436.5L-234.4 427.5L-231.4 431.6L-226.8 429.3ZM-215.3 446.3L-215.9 437.2L-213.5 441.7L-208.6 440ZM-197.7 456L-198 446.8L-195.7 451.5L-190.8 450ZM-179.5 465.6L-180.3 456.5L-177.8 460.9L-173 459.2ZM-160.2 474.6L-162 465.7L-159 469.8L-154.4 467.5ZM-140.1 482L-142.9 473.3L-139.5 477.1L-135.2 474.3ZM-119.7 488.3L-123.2 479.8L-119.4 483.3L-115.4 480.2ZM-99.7 494.8L-103 486.2L-99.3 489.8L-95.2 486.7ZM-81.8 499.1L-84 490.2L-80.8 494.2L-76.4 491.8ZM-66.9 500.7L-66.5 491.5L-64.6 496.3L-59.6 495.1ZM-52.2 502.3L-49.5 493.5L-48.8 498.6L-43.7 498.8ZM-36.2 504L-32.3 495.7L-32.4 500.8L-27.3 501.7ZM-18.8 504.7L-14.3 496.7L-14.7 501.8L-9.7 503.1ZM-0.3 503.6L4.7 495.8L4 500.9L8.9 502.4ZM19.1 502L24.4 494.5L23.4 499.5L28.2 501.3ZM40.3 499.6L45.7 492.2L44.7 497.2L49.5 499.1ZM63.7 495.4L69.1 488L68.1 493L72.9 494.8ZM88 491.4L92.6 483.5L92.1 488.6L97 489.9ZM112.5 488.4L114.7 479.5L115.6 484.6L120.8 484.5ZM136.2 486.4L134.4 477.4L137.4 481.6L142 479.3ZM156.9 480.3L153.8 471.7L157.4 475.3L161.6 472.4ZM175.8 471.8L172.7 463.1L176.3 466.8L180.5 463.9ZM193.9 463.2L191.2 454.4L194.6 458.2L199 455.5ZM211.7 454.3L209.5 445.4L212.7 449.4L217.1 446.9ZM229.4 444.9L227.5 435.9L230.5 440L235.1 437.7ZM247.4 435.5L245.1 426.6L248.3 430.6L252.8 428.1ZM266.1 426.6L262.7 418.1L266.4 421.6L270.5 418.5ZM284.9 417.1L280.1 409.3L284.4 412.2L287.9 408.5ZM-270.6 388.3L-278.3 383.3L-273.3 384L-271.7 379.2ZM-255.1 399.3L-261.6 392.9L-256.8 394.6L-254.3 390.1ZM-239.3 409.6L-243.9 401.7L-239.7 404.6L-236.2 400.9ZM-223.1 419L-225.5 410.2L-222.2 414.1L-217.8 411.5ZM-206.3 428.1L-207.5 419L-204.8 423.4L-200 421.4ZM-189.4 437.6L-190.3 428.5L-187.7 432.9L-182.9 431.1ZM-171.8 447.5L-173.4 438.4L-170.5 442.7L-165.9 440.5ZM-153.3 456.9L-155.8 448.1L-152.5 452L-148.1 449.4ZM-133.6 464.6L-137.3 456.3L-133.5 459.7L-129.5 456.4ZM-112.9 470.9L-117.9 463.3L-113.6 466L-110.2 462.1ZM-92.6 475.7L-98.3 468.6L-93.7 470.9L-90.7 466.8ZM-75.5 475.7L-80.3 467.9L-76 470.7L-72.6 467ZM-60.2 475L-60.9 465.9L-58.4 470.4L-53.6 468.7ZM-44.8 476.8L-41.7 468.1L-41.3 473.2L-36.2 473.6ZM-28.5 478.7L-24.2 470.6L-24.5 475.7L-19.5 476.8ZM-11.6 479.9L-6.9 472.1L-7.4 477.2L-2.5 478.5ZM6.3 479.7L11.4 472.1L10.6 477.2L15.4 478.8ZM25.5 479L30.7 471.4L29.8 476.5L34.6 478.2ZM45.8 478.5L50.3 470.5L49.9 475.6L54.8 476.9ZM67.1 476.7L70.5 468.2L70.7 473.3L75.8 473.9ZM88.8 473.7L90.8 464.7L91.8 469.7L97 469.5ZM110.7 470.9L110.1 461.7L112.5 466.2L117.4 464.5ZM131.4 467.7L128.8 458.9L132.1 462.8L136.5 460.1ZM150.2 462.7L147.1 454.1L150.7 457.8L154.8 454.8ZM168 455L165.1 446.3L168.6 450.1L172.8 447.2ZM185.4 446.2L183 437.3L186.2 441.2L190.7 438.6ZM202.5 437.3L200.5 428.3L203.6 432.4L208.2 430ZM219.5 428.3L217.8 419.3L220.7 423.5L225.3 421.2ZM236.5 419.4L234.6 410.4L237.6 414.5L242.2 412.2ZM254 411.2L251.2 402.4L254.7 406.2L259 403.4ZM271.6 402.9L267.6 394.6L271.5 397.9L275.4 394.5ZM-258.6 371.6L-267.6 369.5L-262.6 368.5L-262.8 363.4ZM-243.7 382.3L-252 378.4L-246.8 378.5L-246 373.4ZM-228.7 392.5L-235.1 385.9L-230.3 387.8L-227.7 383.3ZM-213.4 401.7L-217.2 393.3L-213.3 396.7L-209.4 393.4ZM-197.3 410.2L-199.8 401.4L-196.5 405.2L-192.1 402.5ZM-180.7 419.5L-183.3 410.7L-179.9 414.6L-175.6 411.9ZM-163.6 429.4L-166.7 420.8L-163.1 424.5L-158.9 421.6ZM-146.1 439.2L-149.4 430.6L-145.7 434.2L-141.6 431.1ZM-127.4 447.4L-131.6 439.2L-127.6 442.4L-123.8 439ZM-107.7 453.7L-113 446.2L-108.6 448.8L-105.3 444.9ZM-88.7 456.9L-94.5 449.8L-89.9 452L-87 447.8ZM-71.9 454.2L-77.6 447L-73 449.3L-70.1 445.2ZM-55.6 452.1L-58.9 443.5L-55.2 447.1L-51.1 444.1ZM-39.3 453.4L-36.2 444.7L-35.8 449.8L-30.6 450.2ZM-22.2 455.3L-18.4 447L-18.4 452.1L-13.4 453ZM-4.5 456.6L-0.9 448.1L-0.7 453.3L4.3 454ZM14 456.8L17 448.2L17.5 453.3L22.6 453.6ZM33 456.6L34.7 447.6L35.9 452.6L41 452.1ZM52.1 456.5L52 447.3L54.1 451.9L59.1 450.5ZM70.1 455.7L69.9 446.5L72.1 451.1L77.1 449.7ZM88.5 454.4L87.5 445.3L90.1 449.7L94.9 447.8ZM107.2 452L105.3 443.1L108.3 447.2L112.9 444.8ZM125.4 448.4L122.8 439.6L126.1 443.5L130.5 440.8ZM142.7 444.2L140.1 435.4L143.4 439.3L147.8 436.6ZM159.6 438.2L157.2 429.4L160.5 433.3L164.9 430.8ZM176.2 430.1L174.3 421.1L177.3 425.3L181.9 422.9ZM192.5 421.3L191.1 412.2L193.9 416.5L198.6 414.4ZM208.4 412.5L207.4 403.4L210 407.8L214.8 405.9ZM224.2 404.1L223.3 395L225.8 399.4L230.6 397.6ZM240 396.4L238.7 387.3L241.5 391.6L246.2 389.6ZM255.9 389.1L253.8 380.2L256.9 384.2L261.4 381.8ZM-246.7 354.9L-255.8 355.6L-251.3 353.1L-253 348.3ZM-232.3 364.9L-241.5 365L-236.8 362.8L-238.2 357.9ZM-217.5 374.6L-226.5 372.9L-221.5 371.7L-222 366.6ZM-202.6 383.8L-210.6 379.4L-205.5 379.8L-204.3 374.8ZM-187.2 392.6L-193.8 386.3L-189 388L-186.6 383.5ZM-171.1 401.9L-176.8 394.6L-172.2 397L-169.1 392.9ZM-154.6 411.7L-159.7 404L-155.4 406.7L-152 402.9ZM-138 421.2L-142.5 413.2L-138.4 416.2L-134.7 412.6ZM-120.7 429.5L-125.4 421.5L-121.2 424.5L-117.6 420.8ZM-102.9 435.7L-108 428.1L-103.6 430.8L-100.2 426.9ZM-85.5 437.8L-90.9 430.3L-86.4 432.9L-83.2 428.9ZM-69.2 434.2L-74.5 426.8L-70.1 429.3L-66.9 425.4ZM-52.6 432.1L-57.8 424.6L-53.4 427.2L-50.1 423.3ZM-36.4 433.7L-36.4 424.5L-34.3 429.2L-29.4 427.9ZM-18.1 435L-20.5 426.1L-17.3 430.1L-12.8 427.5ZM0.4 435.5L-4.7 427.8L-0.3 430.5L3.1 426.7ZM18.9 435.6L12.3 429.3L17.1 430.9L19.5 426.4ZM37.1 434.9L29.9 429.2L34.9 430.5L36.9 425.7ZM54.6 433.9L48 427.6L52.8 429.2L55.3 424.7ZM71.3 432.6L66.3 424.9L70.6 427.7L74 423.9ZM87.4 431.6L84.1 423.1L87.7 426.7L91.9 423.6ZM103.3 430.7L100.9 421.8L104.2 425.8L108.6 423.1ZM119.1 428L117.2 419L120.2 423.1L124.8 420.8ZM135 424.6L133.3 415.6L136.3 419.8L140.9 417.6ZM151.2 420.2L149.5 411.2L152.5 415.4L157.1 413.2ZM167 413.6L165.5 404.6L168.4 408.8L173 406.7ZM182.2 405.5L181.3 396.4L183.8 400.8L188.6 398.9ZM197.1 396.8L196.7 387.7L199 392.2L203.9 390.7ZM211.5 388.3L211.7 379.2L213.7 383.9L218.7 382.6ZM225.8 380.5L226 371.4L228 376.1L233 374.9ZM240.3 373.4L240.2 364.2L242.3 368.9L247.3 367.4ZM-233.3 339.3L-242.4 340.5L-238.1 337.8L-240.1 333.1ZM-219.3 348.6L-228.4 350L-224.1 347.2L-226.2 342.5ZM-205.1 357.7L-214.3 358.6L-209.8 356L-211.7 351.3ZM-190.8 366.6L-199.9 366.1L-195.1 364.2L-196.2 359.2ZM-175.9 375.5L-184.7 372.8L-179.6 372.2L-179.5 367ZM-160.5 384.7L-168.4 380.1L-163.3 380.6L-162 375.6ZM-144.8 394.2L-151.5 388L-146.7 389.6L-144.3 385.1ZM-129.1 403.1L-135 396.1L-130.4 398.3L-127.4 394.1ZM-113.2 410.7L-118.7 403.4L-114.2 405.9L-111 401.8ZM-97.3 416.2L-102.6 408.7L-98.2 411.3L-94.9 407.4ZM-81.8 417.9L-86.9 410.2L-82.5 412.9L-79.2 409.1ZM-66.4 414.7L-71.3 407L-67 409.8L-63.6 406ZM-50.2 412.6L-55.3 404.9L-50.9 407.6L-47.5 403.8ZM-32.3 413.8L-40.3 409.4L-35.2 409.8L-34 404.8ZM-15.2 414.7L-23.7 411.1L-18.5 411L-17.8 405.9ZM3.3 416.1L-5.5 413.6L-0.4 412.8L-0.4 407.7ZM21.4 415.6L12.3 414.6L17.2 413L16.4 407.9ZM38.4 414.1L29.2 413.9L33.9 411.9L32.7 406.9ZM54.4 412.2L45.3 411.7L50 409.8L49 404.8ZM69.6 410.1L61.1 406.8L66.2 406.5L66.7 401.4ZM84.5 408.3L79.4 400.7L83.8 403.4L87.1 399.6ZM99.2 407.2L96.9 398.3L100.1 402.3L104.6 399.8ZM113.7 405.4L112.4 396.3L115.2 400.6L119.9 398.6ZM128.2 403.1L127.4 393.9L129.9 398.4L134.7 396.6ZM142.9 400.4L142 391.3L144.6 395.7L149.4 393.9ZM157.2 395.9L156.4 386.8L159 391.3L163.8 389.5ZM171.1 389.7L170.8 380.6L173 385.2L177.9 383.7ZM185 382L185.2 372.9L187.2 377.6L192.2 376.4ZM198.7 373.3L199.5 364.2L201.2 369L206.3 368.1ZM212.3 364.5L213.5 355.4L215 360.3L220.1 359.7ZM226.5 356.3L227.8 347.3L229.2 352.2L234.3 351.5ZM-219.1 324.5L-228.3 325.3L-223.8 322.8L-225.5 318ZM-204.9 333.4L-214 334.6L-209.7 331.9L-211.7 327.2ZM-190.8 341.7L-199.9 343.1L-195.6 340.3L-197.7 335.6ZM-176.8 350.2L-185.9 350.9L-181.5 348.4L-183.2 343.6ZM-162.6 359.1L-171.7 358.2L-166.9 356.5L-167.8 351.5ZM-148.1 368.1L-156.9 365.4L-151.8 364.7L-151.7 359.6ZM-133.7 376.8L-141.7 372.4L-136.6 372.8L-135.4 367.8ZM-119.3 384.6L-126.6 379L-121.6 380.2L-119.6 375.4ZM-104.9 391.1L-111.5 384.8L-106.7 386.5L-104.3 382ZM-90.8 395.6L-96.9 388.7L-92.2 390.8L-89.4 386.5ZM-76.8 396.7L-82.5 389.6L-78 391.9L-75 387.7ZM-62.7 394.6L-68.3 387.3L-63.8 389.7L-60.7 385.6ZM-47.6 393L-53.4 385.9L-48.8 388.1L-45.8 384ZM-30.6 394.2L-38.8 389.9L-33.7 390.2L-32.6 385.2ZM-13 396.5L-21.5 393.1L-16.4 392.9L-15.8 387.8ZM5.1 397.7L-3.8 395.4L1.3 394.5L1.2 389.4ZM21.8 396.3L12.6 395.7L17.4 393.9L16.4 388.9ZM36.9 393.8L27.8 394.8L32.2 392.2L30.3 387.4ZM51.2 391.2L42.3 393.2L46.3 390.1L43.9 385.6ZM66.4 389.3L57.2 389.4L61.8 387.2L60.5 382.3ZM79.2 387.7L77.9 378.6L80.7 382.9L85.4 380.9ZM93.9 384.7L94.6 375.6L96.4 380.4L101.4 379.4ZM107.6 382.4L109.3 373.4L110.5 378.3L115.6 377.9ZM121.1 380L122.6 371L123.9 375.9L129 375.4ZM134.3 378L135.4 368.9L136.9 373.8L142 373ZM147.1 375.1L148 366L149.7 370.9L154.7 370ZM159.9 370.9L160.9 361.8L162.5 366.7L167.6 366ZM173.2 365.3L174.4 356.2L175.9 361.1L181 360.4ZM187 357.6L188.3 348.6L189.7 353.5L194.8 352.9ZM201.2 348.3L202.7 339.2L204 344.2L209.1 343.7ZM216.6 338.7L218.1 329.7L219.4 334.6L224.5 334.1ZM-191.1 318.9L-200.2 319.5L-195.7 317.1L-197.4 312.3ZM-162.5 334.4L-171.6 335.2L-167.2 332.7L-169 327.9ZM-135.4 350.7L-144.5 349.5L-139.6 348L-140.3 342.9ZM-109.3 365L-117.7 361.2L-112.6 361.2L-111.8 356.1ZM-84 373.8L-91.4 368.3L-86.4 369.4L-84.5 364.6ZM-58.8 373.5L-65.7 367.5L-60.8 369L-58.6 364.4ZM-28.3 375.6L-36.4 371.3L-31.3 371.6L-30.1 366.6ZM5.4 379.2L-3.2 376.1L1.9 375.6L2.3 370.5ZM32.8 373.7L23.6 373.4L28.3 371.4L27.1 366.5ZM58.5 368.2L67.5 366.5L63.3 369.4L65.5 374ZM87.3 363.9L93.7 357.4L92 362.2L96.4 364.7ZM113.5 357.6L118.9 350.2L117.9 355.2L122.7 357ZM139.2 350.9L143.1 342.6L143 347.8L148.1 348.6ZM166 342.6L168.3 333.7L169.2 338.8L174.3 338.7ZM195 329.1L195.9 320L197.5 324.8L202.6 324ZM-183 303.8L-192.1 302.4L-187.2 301L-187.8 295.9ZM-154.7 318L-163.8 318L-159.2 315.9L-160.6 311ZM-126.5 332.1L-135.7 331.6L-130.9 329.7L-132.1 324.7ZM-101.5 343.9L-110.5 342L-105.5 340.9L-105.8 335.8ZM-78.9 350.6L-87.5 347.3L-82.3 347L-81.8 341.9ZM-55.8 352.3L-63.6 347.5L-58.5 348.1L-57.1 343.2ZM-25.9 357.7L-33.6 352.8L-28.5 353.5L-27.1 348.6ZM3.5 359.2L-4.4 354.5L0.7 355.1L2.1 350.2ZM26.7 354.1L32.3 346.8L31.1 351.8L35.9 353.7ZM54.5 348.6L63.5 346.8L59.3 349.8L61.6 354.4ZM81.3 343.4L89.7 339.7L86.3 343.5L89.5 347.5ZM107.3 336.3L114.9 331.2L112.2 335.6L116.1 338.9ZM133.3 328.1L139.6 321.4L137.9 326.3L142.5 328.7ZM160.6 319.9L163.3 311.1L163.9 316.2L169.1 316.3ZM190 309.4L188.4 300.4L191.3 304.6L195.9 302.5ZM-176.6 286.7L-184.9 282.7L-179.8 282.8L-178.8 277.8ZM-152.3 301.8L-160.6 297.9L-155.5 298L-154.7 292.9ZM-123.2 314L-132.3 312.7L-127.4 311.2L-128 306.2ZM-98.5 322L-107.6 321.1L-102.7 319.5L-103.6 314.4ZM-76.9 327.3L-85.9 326L-81 324.6L-81.6 319.5ZM-52.7 332L-61.1 328.2L-56 328.2L-55.2 323.1ZM-24.2 339.2L-31.5 333.6L-26.5 334.8L-24.6 330ZM0.6 338.3L-4.5 330.8L-0.2 333.4L3.1 329.5ZM24.8 333.3L33.1 329.4L29.8 333.3L33.1 337.2ZM51 328.7L60.1 327.8L55.6 330.4L57.4 335.2ZM77.2 322.8L86.3 322.1L81.8 324.6L83.6 329.4ZM102.8 315.2L111.9 314L107.6 316.7L109.6 321.4ZM128.4 306.4L137 303.2L133.3 306.8L136.3 311ZM155.7 298.2L156.6 289.1L158.2 293.9L163.3 293.1ZM185.3 289.5L178.7 283.1L183.5 284.9L186 280.4ZM-166.4 269L-174.9 265.5L-169.8 265.3L-169.1 260.2ZM-145.3 285.8L-151.8 279.3L-147 281.1L-144.4 276.7ZM-121.6 296.7L-128.9 291.1L-123.9 292.3L-122 287.5ZM-98 301.5L-106.5 297.9L-101.3 297.8L-100.7 292.7ZM-74.2 306.5L-83.3 306L-78.6 304.1L-79.6 299.1ZM-48.5 312.6L-57.5 310.6L-52.5 309.6L-52.7 304.5ZM-22.8 318.8L-30.3 313.4L-25.3 314.4L-23.5 309.6ZM-0.1 317.3L-3.7 308.9L0.1 312.3L4 309.1ZM23.4 312.7L32.6 312.3L28 314.6L29.5 319.5ZM49.7 308.5L57.8 312.7L52.7 312.4L51.6 317.4ZM75 302.2L82.1 308L77.2 306.7L75.1 311.4ZM99.9 294.2L106.2 300.8L101.5 298.9L98.9 303.3ZM124.6 284.9L129.6 292.6L125.3 289.8L121.9 293.6ZM151.6 276.3L145.3 282.9L147 278.1L142.5 275.6ZM180.5 268.7L171.3 268.4L176.1 266.4L174.9 261.5ZM-153.9 252L-162.9 250.6L-158 249.2L-158.5 244.1ZM-135.4 268.3L-142.1 262L-137.3 263.6L-134.9 259.1ZM-115.1 277.9L-121.3 271.2L-116.6 273.2L-113.8 268.8ZM-92.9 282.8L-100.4 277.5L-95.3 278.4L-93.6 273.6ZM-68.5 288.1L-77.7 287.1L-72.8 285.5L-73.6 280.4ZM-43.5 293.5L-52.7 293L-47.9 291.2L-48.9 286.1ZM-19.7 297.4L-28.6 295.5L-23.6 294.4L-23.9 289.3ZM3.1 296.1L-6 297L-1.6 294.4L-3.4 289.6ZM26.9 292.3L21.8 300L22.6 294.9L17.8 293.3ZM50.6 287.4L49 296.5L47.7 291.5L42.6 292ZM74.4 281.4L73.7 290.5L72 285.7L66.9 286.6ZM98 273.2L97.6 282.4L95.7 277.7L90.7 278.8ZM122 264.2L120 273.1L119 268.1L113.8 268.3ZM147.8 255.9L141.7 262.7L143.2 257.8L138.7 255.5ZM174.4 248.4L165.7 251.4L169.4 247.9L166.6 243.6ZM-140.9 235.9L-150 235.1L-145.2 233.4L-146.1 228.4ZM-123.3 250L-131.6 246.1L-126.5 246.1L-125.7 241.1ZM-104.9 258.6L-113 254.4L-107.9 254.7L-106.8 249.7ZM-84.3 264.6L-93.1 261.8L-88 261.2L-87.7 256.1ZM-61.8 270.1L-70.9 269.2L-66.1 267.5L-66.9 262.5ZM-38.5 274.7L-47.6 274.6L-43 272.5L-44.3 267.6ZM-15.2 277.2L-24.3 277.9L-19.8 275.4L-21.5 270.6ZM7.9 275.6L-0.6 279.2L2.9 275.4L-0.3 271.4ZM30.4 271.2L24.3 278.1L25.8 273.2L21.2 271ZM52.6 266L48.2 274.1L48.6 268.9L43.6 267.8ZM74.7 260.1L71.1 268.5L71 263.4L65.9 262.7ZM96.6 252.4L93.5 261.1L93.1 256L87.9 255.6ZM119.1 244L115.2 252.3L115.3 247.2L110.3 246.3ZM143 236.3L136.7 243L138.3 238.2L133.8 235.8ZM166.8 229L158.7 233.4L161.8 229.3L158.3 225.6ZM-129.7 219L-138.9 218.7L-134.2 216.8L-135.4 211.8ZM-113 231.1L-121.9 229.1L-116.9 228.1L-117.1 222.9ZM-95.1 239.7L-104 237.6L-99 236.6L-99.2 231.5ZM-75.6 246.3L-84.7 245L-79.8 243.6L-80.4 238.5ZM-54.8 251.9L-63.9 251.5L-59.2 249.6L-60.3 244.6ZM-32.8 256.2L-42 256.4L-37.4 254.2L-38.8 249.3ZM-10.2 258L-19.3 259.5L-15 256.7L-17.2 252ZM11.7 255.7L3.6 259.9L6.8 255.9L3.3 252.1ZM32.5 250.8L26.2 257.5L27.8 252.6L23.3 250.2ZM53 245.4L48 253.1L48.8 248L43.9 246.5ZM73.6 239.4L69.3 247.5L69.6 242.4L64.6 241.3ZM94.1 232.4L90 240.6L90.2 235.5L85.2 234.5ZM115.4 224.6L110.7 232.4L111.3 227.3L106.3 225.9ZM137.5 216.9L131.3 223.7L132.9 218.8L128.3 216.5ZM159.3 209.2L151.9 214.6L154.4 210.2L150.4 207ZM-118 202.4L-127.2 202.6L-122.6 200.4L-124.1 195.5ZM-102 213.2L-111.2 212.4L-106.4 210.7L-107.3 205.7ZM-85.1 221.5L-94.2 220.7L-89.4 219L-90.3 214ZM-66.8 228.2L-76 227.8L-71.2 225.9L-72.3 220.9ZM-47.4 233.9L-56.6 233.6L-51.8 231.6L-53.1 226.6ZM-27 238.1L-36.2 238.2L-31.5 236L-33 231.1ZM-6 239.4L-15.1 241L-10.8 238.1L-13 233.5ZM14.1 236.3L6 240.7L9.1 236.6L5.6 232.9ZM33 231.2L26.4 237.6L28.3 232.8L23.8 230.2ZM52.1 225.9L46.6 233.3L47.7 228.3L42.9 226.4ZM71.7 220L66.7 227.7L67.5 222.6L62.6 221.1ZM91.6 213.1L86.7 220.8L87.4 215.8L82.5 214.3ZM111.9 205.5L106.6 212.9L107.6 207.9L102.8 206.1ZM132.5 197.5L126.5 204.4L128 199.5L123.4 197.2ZM152.2 189L145.5 195.3L147.4 190.5L143.1 187.8ZM-106 186.3L-115.2 186.6L-110.6 184.4L-112.1 179.5ZM-90.9 195.8L-100.1 195.8L-95.4 193.7L-96.7 188.7ZM-74.9 203.8L-84.1 203.6L-79.4 201.6L-80.7 196.6ZM-58.1 210.4L-67.2 210.2L-62.5 208.2L-63.8 203.2ZM-40.3 215.8L-49.5 215.6L-44.8 213.6L-46 208.6ZM-22 219.8L-31.2 219.7L-26.5 217.7L-27.8 212.7ZM-3.6 221.1L-12.7 222.1L-8.3 219.5L-10.1 214.7ZM14 218.2L5.5 221.7L9 218L5.9 213.9ZM31.4 213.4L24.1 219L26.5 214.4L22.4 211.3ZM50.1 208.3L43.6 214.8L45.4 210L41 207.5ZM69.6 202.3L63.7 209.3L65.1 204.3L60.5 202.2ZM89.3 194.9L83.6 202.1L84.8 197.1L80.1 195.2ZM108.5 186.7L102.9 193.9L104.1 189L99.4 187ZM126.8 178.2L121.1 185.4L122.3 180.4L117.7 178.4ZM142.9 169.5L137 176.4L138.4 171.5L133.8 169.3ZM-93.7 170.4L-102.8 170.8L-98.3 168.5L-99.8 163.6ZM-79.7 179L-88.8 179.2L-84.2 177L-85.7 172.1ZM-65 186.3L-74.1 186.4L-69.5 184.2L-70.9 179.3ZM-49.7 192.4L-58.9 192.4L-54.2 190.3L-55.5 185.3ZM-34.1 197.3L-43.2 197.1L-38.5 195.1L-39.8 190.1ZM-18.5 200.7L-27.7 200.4L-23 198.4L-24.2 193.5ZM-3.2 201.8L-12.4 202.1L-7.8 199.9L-9.3 194.9ZM12.3 200.3L3.4 202.2L7.5 199.2L5.2 194.6ZM29.1 197.1L20.7 200.7L24.1 196.9L20.9 192.9ZM47.4 192.8L39.7 197.7L42.5 193.4L38.7 189.9ZM66.3 186.9L59.2 192.7L61.5 188.1L57.3 185.2ZM84.4 179.5L77.9 186L79.7 181.2L75.2 178.7ZM101.1 171.2L95.1 178.1L96.6 173.2L92 171ZM116.3 162.5L110.6 169.6L111.9 164.7L107.2 162.6ZM129.6 153.6L124 160.9L125.2 155.9L120.4 153.9ZM-87.2 150.5L-96.4 150.9L-91.8 148.6L-93.4 143.7ZM-68.8 162.1L-77.9 162.4L-73.3 160.1L-74.9 155.2ZM-49.7 171.1L-58.9 171.3L-54.2 169L-55.7 164.1ZM-30.1 177.6L-39.3 177.5L-34.6 175.4L-35.9 170.5ZM-9.6 181.5L-18.8 181.3L-14.1 179.3L-15.3 174.3ZM13 182.1L3.9 182.9L8.3 180.4L6.6 175.6ZM38.1 178.9L29.3 181.6L33.1 178.2L30.4 173.9ZM62.6 171.8L54.6 176.2L57.6 172.1L54.1 168.4ZM84.5 161.6L77.4 167.3L79.7 162.7L75.5 159.7ZM103.7 149.5L97.4 156.1L99.1 151.3L94.6 148.8ZM120.3 136.3L114.6 143.5L115.9 138.5L111.2 136.5ZM-76.3 134.1L-85.4 134.7L-80.9 132.3L-82.6 127.5ZM-60.4 143.7L-69.5 144.5L-65 142L-66.7 137.2ZM-43.5 151.7L-52.7 152.2L-48.2 149.8L-49.8 145ZM-25.3 158L-34.4 158.2L-29.8 156L-31.2 151.1ZM-5.1 162.5L-14.2 162.5L-9.6 160.4L-10.9 155.4ZM17 164.1L7.9 164.7L12.3 162.3L10.6 157.5ZM38.8 161.6L29.9 163.5L34 160.5L31.6 155.9ZM58.6 155.4L50 158.7L53.6 155L50.6 150.9ZM76.3 146.7L68.3 151.2L71.3 147.1L67.8 143.4ZM92 136.1L84.7 141.6L87.1 137.1L83 134ZM106.3 124.1L99.6 130.4L101.5 125.6L97.2 123ZM-64.3 117.8L-73.4 118.6L-69 116.1L-70.8 111.3ZM-49.7 126.5L-58.8 127.4L-54.4 124.9L-56.2 120.1ZM-33.5 134.1L-42.6 134.8L-38.2 132.3L-39.9 127.5ZM-15.7 140.2L-24.9 140.7L-20.3 138.4L-22 133.5ZM3.1 144.3L-6.1 144.9L-1.5 142.5L-3.2 137.6ZM21.6 145.2L12.5 146.2L16.9 143.6L15 138.8ZM38.6 142.6L29.6 144.4L33.7 141.4L31.4 136.8ZM53.8 137.4L45 140L48.9 136.6L46.2 132.3ZM67.6 130.3L59 133.6L62.6 130L59.5 125.8ZM80.6 121.6L72.4 125.7L75.6 121.7L72.2 117.9ZM93.3 111.2L85.5 116.2L88.3 111.9L84.5 108.4ZM-37 111.6L-46.1 111.9L-41.6 109.6L-43.1 104.8ZM-16.8 119.9L-26 120.5L-21.5 118.1L-23.2 113.3ZM3.5 124.7L-5.6 125.6L-1.2 123L-3 118.2ZM22.4 125L13.3 126.4L17.6 123.6L15.5 118.9ZM39.1 121.2L30.1 123.2L34.2 120.1L31.8 115.6ZM54.4 114.6L45.5 117.1L49.5 113.8L46.8 109.4ZM69.7 105.7L61 108.7L64.7 105.2L61.8 100.9Z" fill="#fff"/>
<use href="#coast"/>
</g>
<path d="M-66.5 86.4L-329.7 428.2A540.4 540.4 0 0 0 329.7 428.2L66.5 86.4A109 109 0 0 1 -66.5 86.4Z" fill="none" stroke="#111" stroke-width="1.3" stroke-linejoin="miter"/>
<g font-family='"Liberation Serif", serif' font-style="italic" font-size="29" text-anchor="middle" fill="#111">
<text transform="translate(-104.8 93.5) rotate(37.6)" y="9.5">N</text>
<text transform="translate(-138.9 132.8) rotate(37.6)" y="9.5">80</text>
<text transform="translate(-209.1 224) rotate(37.6)" y="9.5">75</text>
<text transform="translate(-280.5 316.7) rotate(37.6)" y="9.5">70</text>
<text transform="translate(-222.1 512.3) rotate(23.4)" y="9.5">110</text>
<text transform="translate(-45.6 556.5) rotate(4.7)" y="9.5">130</text>
<text transform="translate(135.7 541.7) rotate(-14.1)" y="9.5">150</text>
<text transform="translate(302.6 469.3) rotate(-32.8)" y="9.5">170 E</text>
</g>
</g>
<g transform="translate(1015.6 583.6)">
<g clip-path="url(#wc)">
<path d="M-66.5 86.4L-329.7 428.2A540.4 540.4 0 0 0 329.7 428.2L66.5 86.4A109 109 0 0 1 -66.5 86.4Z" fill="#72afbf"/>
<path d="M-345 75L-264 75L-276 95.6L-279.3 105L-282 116.7L-283.6 141L-282.7 156L-280.5 171L-272.3 204L-258.9 240L-237.5 285L-228.8 300L-222 309.2L-213 318.1L-201 325.9L-148.7 345L-109.4 366L-99 369.4L-87 370.9L-78 369.8L-68.6 366L-61.4 360L-56.1 351L-53.9 342L-53.6 327L-55.7 315L-60 301.7L-88.7 243L-102.6 210L-116.4 171L-122.6 159L-144 129.4L-162 107.3L-174 94.8L-193.9 78L-196.1 75L345 75L345 552L-345 552Z" fill="#77c0a2"/>
<path d="M-105.3 75L345 75L345 273.9L339 278.3L327 292.1L315 307.7L306 321.4L299.7 333L294 346.5L290.8 357L289 369L289.4 378L292.2 390L297 401.4L313.3 432L317.4 444L320.1 456L321.8 471L322.4 486L321.1 552L-345 552L-345 201L-339 208.4L-319 243L-298.6 273L-279.7 297L-252 328.5L-230.5 357L-216.5 369L-165.7 405L-123 439L-108 448.3L-102 450.2L-96 450.3L-90 447.8L-87 445L-81.9 435L-77.1 417L-72 408L-65.8 402L-42 385.6L-32.6 378L-27.2 372L-18 358.2L-13.8 354L-8.9 351L0 348.7L21 350L24 348.4L27 344L28.6 336L27.5 330L25.9 327L20.9 321L-9 294L-21 280.7L-46.4 246L-61.9 219L-69.9 201L-76.2 183L-90.3 132L-97.1 102Z" fill="#78c47f"/>
<path d="M-58.4 75L345 75L345 200.4L339 205.2L281.2 273L268.5 291L259.3 309L254.3 327L253.3 345L256.4 378L264 417L264.2 429L262.2 435L258 440.6L240 454.5L231 463.7L223.8 474L217.6 486L212.2 501L209.2 516L207.7 534L207.8 552L-345 552L-345 282.9L-339 287.4L-303.9 324L-249.2 375L-212.2 405L-168 443.1L-102 503.4L-93 510.2L-87 512.7L-81 511.9L-78 510.1L-60.4 495L-38 480L-9 451.6L18 437.8L30 430.2L60 401.1L90 379.4L94.7 375L99 369.2L102.2 360L101.5 348L95.2 330L88.1 318L77.5 309L33 286.8L14.7 276L7 270L0 263L-11.8 246L-30.9 207L-38.2 186L-42.5 165L-48 116Z" fill="#a0d088"/>
<path d="M-29.8 75L345 75L345 108.5L342 111.7L326.2 141L315.3 159L291 192.6L276.1 210L261 225.5L246 238.8L231 249.6L219 256L207 259.8L195 259.9L177 254.6L165 253.7L153 255.9L123 266.4L108 270.4L93 272.6L75 272.7L63 270.9L51 267L39 261.2L27 253.5L18.4 246L12 238.5L-4.9 210L-14.2 189L-19.9 168L-22.5 150L-25.9 108ZM-345 336L-342 336.8L-339 339.1L-309 365.1L-245.8 414L-210.6 447L-155.5 495L-146.3 504L-138 513.9L-117.5 546L-114.6 552L-345 552ZM29.5 486L39 486.4L51 490.3L60 496.4L66.8 504L70 510L72 519L70.2 540L70.8 552L-38.3 552L-35.6 525L-33 519.2L-30.1 516L12 491.1L21 487.5Z" fill="#c9de8a"/>
<path d="M-7.5 75L296.4 75L292.9 90L285.6 111L277.8 129L268.4 147L259 162L248 177L237 189.6L225 200.9L212.9 210L196.9 219L138 242L111 250L90 252.3L78 251.7L66 249.6L54 245.2L42 238.5L33 231.6L24 222.1L15.2 210L8.1 198L-3.1 174L-6.2 162L-8.5 147L-10.3 114ZM-345 381L-345 378.5L-342 379.8L-317.1 399L-297 410.2L-291.8 414L-277 432L-268.1 441L-226.5 474L-183.7 513L-165.7 534L-157.7 546L-155.3 552L-345 552Z" fill="#f9e88d"/>
<path d="M18.8 75L234.8 75L231.1 102L227.1 117L221.7 132L214.7 147L207.7 159L199.4 171L189.4 183L177.5 195L163.7 207L151.4 216L141 221.9L129 227.2L117 231.2L102 234.4L90 235.2L78 234.3L66 231.5L54 225.8L45 219.1L35.1 207L25.5 189L12 167.6L8.8 159L6 145.6L4.8 132L4.9 120L6.1 111L8.5 102ZM-345 414L-345 412.6L-339 415.2L-315 430.5L-285 455.4L-245 486L-233.7 498L-209.8 528L-196.7 546L-194 552L-345 552Z" fill="#f8c37a"/>
<path d="M102.3 78L105.9 75L133.8 75L143.8 84L150.7 93L155.5 105L157.3 117L156.9 129L154.5 141L150 153.4L143.6 165L135 175.7L123 185.7L111.5 192L99 195.8L90 196.2L84 195L78 191.9L69 182.5L51.1 150L47.9 141L47.4 135L50.4 126L57.7 117L84 90.7ZM-345 444L-345 442.4L-339 444.6L-324 454.1L-286 483L-268.3 498L-258 508.9L-248.1 522L-234.3 543L-230.1 552L-345 552Z" fill="#f4a56e"/>
<use href="#grat"/>
<path d="M-321.9 428.6L-317.9 429.9L-313.9 431.3L-309.9 432.8L-306 434.5L-302.1 436.1L-298.2 437.9L-294.4 439.7L-295 439.3M-304.6 439.1L-300.4 441L-296.3 442.9L-292.1 444.8L-288 446.6L-283.8 448.5L-279.6 450.3L-275.4 452.1L-275.8 451.9M-287.1 451L-282.7 452.8L-278.3 454.6L-273.9 456.3L-269.5 458L-265 459.7L-260.6 461.4L-256.1 463L-256.3 462.9M-268.3 462.1L-263.8 463.8L-259.4 465.4L-254.9 467L-250.5 468.7L-246.1 470.3L-241.6 472L-237.2 473.7L-237.5 473.6M-247.3 471.5L-243.2 473.2L-239.2 474.9L-235.1 476.6L-231.1 478.5L-227.1 480.4L-223.2 482.3L-219.2 484.2L-219.7 484M-224.7 480.9L-220.3 483.1L-215.8 485.4L-211.4 487.6L-206.9 489.7L-202.4 491.9L-202.4 491.9M-203 490.4L-199.1 492.2L-195.2 494L-191.2 495.8L-187.3 497.6L-183.4 499.4L-184 499.1M-181.7 497.9L-178.1 499.6L-174.4 501.4L-170.8 503.2L-167.2 505L-163.6 506.9L-164.4 506.4M-160.3 503.7L-155.1 506.6L-150.1 509.8L-145 512.9L-144.2 513.4M-138.8 508.3L-135.5 510.6L-132.3 513L-129.1 515.5L-126 517.9L-122.8 520.5L-123.6 519.9M-116.1 514.6L-112.1 517.5L-107.9 520.3L-103.8 523.1L-103.8 523.2M-92 524.5L-86.6 524.3L-86.1 524.3M-65.6 535.5L-65.2 531.4L-65 527.4L-64.9 523.4L-64.9 524.3M-42.4 536.9L-43.4 529.6L-43.7 527.2M270.5 453.8L269.5 458L269.6 457.4M286.1 439.7L288 446.6L288.5 448.7M300.7 427.2L303.4 430.8L306 434.5L308.6 438.1L308.3 437.7M-307 413.6L-302.8 415L-298.7 416.5L-294.6 418.4L-290.6 420.2L-286.7 422.3L-287.2 422M-288.6 423.2L-284.9 425.5L-281.1 427.8L-277.3 430.1L-273.5 432.3L-269.6 434.5L-270.1 434.3M-271.3 435.1L-267.4 437.2L-263.5 439.1L-259.5 441L-255.5 442.9L-251.5 444.8L-252 444.6M-253.6 446.2L-249.5 447.9L-245.3 449.6L-241.2 451.3L-237.1 453L-233 454.6L-233.5 454.4M-234.6 455.8L-230.6 457.4L-226.6 459.1L-222.6 460.8L-218.6 462.5L-214.6 464.2L-215.1 463.9M-214.8 464.5L-211.1 466.2L-207.3 467.8L-203.5 469.5L-199.8 471.1L-196 472.8L-196.8 472.4M-195.4 472.5L-191.6 474.2L-187.9 475.8L-184.2 477.4L-180.4 479L-176.7 480.7L-177.5 480.3M-175.9 479.3L-172.1 481L-168.3 482.8L-164.5 484.5L-160.7 486.3L-156.9 488.1L-157.6 487.7M-156.1 485L-152.2 486.9L-148.4 488.9L-144.5 490.9L-140.7 492.9L-136.9 494.9L-137.4 494.6M-135.2 490.3L-131.6 492.3L-127.9 494.3L-124.3 496.4L-120.7 498.4L-117.1 500.5L-117.8 500.1M-112.3 497.3L-108.2 499.2L-103.9 501L-99.7 502.8L-100 502.7M-88.7 507.6L-83.4 504.9L-82.4 504.4M-66.3 518.1L-64.8 512.9L-62.6 507.9L-60.5 502.8L-60.2 502.4M-46.2 518.9L-44.4 514.2L-41.8 510L-39.2 505.8L-39.2 505.8M-25.7 516.8L-20.9 511.3L-19.4 509.5M-3.5 515.3L0 511.7L0 511.7M274.1 423.1L277.3 430.1L278.4 432.5M287.6 410.3L291.1 414.3L294.6 418.4L298.2 422.4L298.4 422.7M-296.2 397.7L-291.8 399.1L-287.5 400.6L-283.3 402.3L-279.1 403.9L-274.9 405.7L-275.3 405.5M-277.6 408L-273.9 409.8L-270.3 411.6L-266.6 413.5L-262.9 415.4L-259.3 417.2L-260.1 416.8M-259.2 419L-254.4 421.5L-249.5 424.1L-244.6 426.6L-244.1 426.8M-241.7 428.9L-236.8 431.4L-231.9 433.9L-227.1 436.4L-226.6 436.6M-224.5 437.9L-219.3 440.5L-214 443L-208.7 445.6L-207.9 445.9M-206.8 446.3L-203.1 448L-199.4 449.7L-195.7 451.4L-192 453.1L-188.3 454.8L-189.1 454.4M-188.7 453.8L-184.8 455.5L-180.9 457.3L-177.1 459L-173.2 460.8L-169.4 462.6L-170 462.2M-170.1 460.3L-166.1 462.1L-162.1 464L-158.1 465.9L-154.2 467.8L-150.2 469.7L-150.7 469.4M-151.1 466L-147.1 468L-143 470L-139 472L-134.9 473.9L-130.9 475.9L-131.3 475.7M-130.6 472.4L-127 474L-123.3 475.7L-119.5 477.3L-115.8 478.8L-112.1 480.3L-112.9 480M-108.5 480.3L-104.3 481.2L-99.9 481.7L-95.6 482.3L-96.2 482.3M-86.3 489.3L-80.1 485.4L-78.2 484.2M-66.6 496.3L-63.4 492.3L-60.2 488.3L-57 484.3L-56.9 484.2M-48.3 499.6L-45.7 496.5L-42.9 493.4L-40.2 490.4L-37.5 487.3L-34.8 484.1L-35.4 484.8M-27.5 500L-23.7 495.9L-20.1 491.6L-16.5 487.3L-16.1 486.8M-5.6 498.4L-2.8 495.2L0 492L2.8 488.8L2.3 489.3M15.5 494.5L20.1 491.6L20.5 491.3M262.7 406.4L264.6 410L266.6 413.5L268.6 417L268.1 416.2M276.2 392.5L278.5 395.8L280.8 399.1L283.3 402.3L285.8 405.4L288.3 408.5L287.7 407.8M-284.4 381.2L-280.3 382.8L-276.1 384.5L-272 386.1L-267.8 387.8L-263.7 389.5L-264.1 389.3M-268.5 391.9L-264.3 393.6L-260.1 395.3L-255.9 396.9L-251.7 398.6L-247.5 400.2L-247.9 400.1M-252 402.2L-247.8 403.8L-243.6 405.4L-239.5 407.1L-235.3 408.7L-231.2 410.4L-231.7 410.2M-234.9 410.9L-230.8 412.7L-226.7 414.6L-222.6 416.5L-218.6 418.5L-214.5 420.5L-215 420.2M-217.6 419.3L-213.5 421.3L-209.5 423.3L-205.4 425.3L-201.4 427.3L-197.3 429.2L-197.7 429M-200.1 427.7L-196.1 429.6L-192 431.5L-187.9 433.3L-183.8 435.2L-179.6 437L-180.1 436.8M-182.3 435.1L-178.2 436.9L-174.1 438.8L-170 440.7L-165.9 442.5L-161.8 444.4L-162.2 444.2M-164 441.5L-159.9 443.4L-155.9 445.3L-151.8 447.2L-147.8 449.2L-143.7 451.1L-144.2 450.9M-144.5 447.9L-140.8 449.6L-137.1 451.4L-133.4 453.1L-129.7 454.8L-125.9 456.5L-126.8 456.1M-123.7 455.1L-119.3 456.8L-114.8 458.1L-110.3 459.5L-110.5 459.5M-102.2 463.6L-95.9 462.5L-94.5 462.2M-81.2 470.6L-76.9 466L-76.1 465.1M-61.7 475.1L-57.8 468.7L-56.5 466.7M-43.1 478.2L-40.8 474.5L-38.6 470.7L-36.4 466.9L-36.7 467.5M-24.4 480.4L-21.8 476.2L-19.3 471.9L-16.8 467.6L-16.8 467.6M-5.7 480L-2.9 476.1L0 472.3L2.9 468.5L2.7 468.6M13.2 476.9L19.3 471.9L21.6 470M33.2 473.2L38.6 470.7L39.5 470.3M53.5 469.6L57.8 468.7L57.2 468.9M252.4 389.8L255.9 396.9L257.2 399.6M266.4 375.1L268.1 378.9L270 382.5L272 386.1L273.9 389.8L276 393.3L275.5 392.6M-273.2 364L-269 366L-264.8 368L-260.6 370L-256.4 372.1L-252.2 374.1L-252.5 373.9M-259.1 374.2L-254.5 376.3L-249.9 378.4L-245.3 380.4L-240.6 382.4L-236 384.4L-235.9 384.4M-244.1 384.3L-239.3 386.2L-234.4 388.2L-229.5 390.1L-224.6 392L-219.7 393.9L-219.5 394M-227.7 393.4L-222.9 395.3L-218.1 397.2L-213.4 399.2L-208.6 401.1L-203.8 403L-203.7 403.1M-210.2 402L-205.7 403.9L-201.3 405.7L-196.9 407.5L-192.4 409.4L-188 411.2L-188.1 411.2M-192.5 410.1L-188.3 411.8L-184.2 413.5L-180 415.3L-175.9 417L-171.7 418.7L-172.2 418.5M-174.4 417.4L-170.5 419L-166.7 420.6L-162.9 422.3L-159.1 423.9L-155.2 425.6L-156 425.2M-155.4 424.2L-150.5 426.4L-145.5 428.6L-140.5 430.7L-140.1 430.9M-135.3 431.5L-127.8 434.2L-125 435.2M-114.5 438.9L-110 439L-110.4 439M-75 451.2L-73.7 446.6L-73.8 446.7M-56.8 454.7L-55.4 449.2L-55.2 448.5M-39.3 457.1L-37 451.1L-36.5 449.7M-22.7 458.9L-18.5 452.2L-17 449.7M-6 459.6L-3.1 456L0 452.6L3.1 449.2L2.9 449.5M11.8 458.4L15.1 455.3L18.5 452.2L21.9 449.2L21.6 449.4M31.2 455.7L37 451.1L38.9 449.6M50.9 452.1L55.4 449.2L55.7 449M242.5 374.4L245.3 380.4L245.9 381.9M256.7 360.2L258.6 365.1L260.6 370L262.6 375L262.8 375.3M-261.2 346.4L-257.2 348.9L-253.2 351.4L-249.3 353.9L-245.3 356.5L-241.3 358.9L-241.6 358.8M-247.4 356.7L-243.2 359.2L-238.9 361.6L-234.6 363.8L-230.2 366.1L-225.8 368.2L-225.9 368.1M-232.7 367.7L-228.4 369.6L-224 371.4L-219.5 373.1L-215.1 374.8L-210.6 376.4L-210.8 376.4M-216.6 377.5L-212.4 378.9L-208.2 380.4L-204.1 381.8L-199.9 383.2L-195.7 384.6L-196.2 384.4M-199.6 386L-193.9 387.9L-188.3 389.8L-182.6 391.7L-181.7 392M-182.2 393.7L-177.2 395.4L-172.2 397.2L-167.2 399L-166.9 399.1M-164.4 400.8L-160.1 402.4L-155.8 403.9L-151.5 405.4L-151.9 405.3M-146.1 408L-139.2 409.9L-137 410.5M-127.2 415.4L-122.3 415.3L-122.4 415.3M-70.6 431.6L-70.5 427.1L-70.5 427.6M-53.6 434L-53 429.6L-53.1 430.2M-37.5 435.3L-35.4 431.5L-35.6 431.9M-22.7 436.2L-17.7 432.5L-16.7 431.8M-7.7 438.3L-3.9 435.5L0 432.9L3.9 430.3L3.7 430.4M10.1 440L14 436.4L17.7 432.5L21.4 428.7L21.6 428.4M30 438.3L32.8 434.9L35.4 431.5L38 428L37.6 428.5M49.1 434.2L53 429.6L53.7 428.8M67.1 429.9L70.5 427.1L70 427.5M232.4 359.6L234.6 363.8L234.5 363.6M246.5 346.8L249.3 353.9L250.2 356.4M-247.7 330.5L-244.5 333L-241.2 335.4L-237.9 337.8L-234.7 340.3L-231.3 342.6L-232.1 342.1M-233.3 341.6L-228.7 344.6L-223.9 347.3L-219.1 350L-218.6 350.2M-218.8 352.7L-214.2 354.5L-209.5 356.1L-204.9 357.8L-204.9 357.8M-203.5 362.1L-199.1 363.3L-194.8 364.4L-190.4 365.5L-190.9 365.4M-187.6 370.1L-183.6 371.1L-179.7 372.1L-175.8 373.1L-176.7 372.8M-171.3 377.2L-164.3 379.1L-162.2 379.7M-154.9 384L-148.7 385.5L-147.4 385.8M-138.4 390.9L-132.8 391.3L-132.2 391.3M-121.9 398.1L-116.7 396.4L-116.2 396.2M-105.2 405.2L-100.4 400.8L-99.3 399.8M-87.8 410.3L-83.9 404.6L-82.8 403M-70 412.9L-67.3 407.7L-66.9 406.9M-52.6 414.2L-50.6 410.1L-50.8 410.5M-5.6 414.8L0 413.2L0.8 413M10.6 420.2L13.9 416.7L16.9 412.9L19.9 409.1L19.8 409.2M28.8 421.6L31.4 416.8L33.8 411.8L36.1 406.8L36.3 406.3M47.1 416.8L50.6 410.1L51.8 407.8M64.2 411.4L67.3 407.7L67.2 407.8M236.4 332.7L237.9 337.8L238 338.2M-234.9 316.2L-230.8 319L-226.6 321.7L-222.4 324.4L-222.4 324.4M-220.7 327.2L-217 329.1L-213.2 330.7L-209.5 332.4L-210.3 332.1M-206.3 337.7L-199.5 339.2L-197.6 339.6M-191.7 346.2L-185.5 347L-184.3 347.2M-176.8 353.5L-171.1 354.3L-170.5 354.4M-161.7 360.1L-156.5 361L-156.3 361.1M-146.5 366.1L-141.6 367.1L-141.6 367.1M-131.7 372.1L-126.5 372.6L-126.3 372.6M-117.3 378.3L-111.1 377.5L-109.9 377.3M-103.5 384.9L-99.6 383.3L-95.6 381.7L-91.7 380.1L-92.3 380.4M-89.3 391.9L-84.6 388.6L-79.9 385.3L-75.3 382L-74.7 381.5M-72.5 396.7L-68.3 392.5L-64.1 388.2L-59.9 384L-59.3 383.3M-53.6 397.3L-50.9 393.9L-48.2 390.5L-45.4 387.2L-45.8 387.7M-35.7 395.4L-32.2 392.2L-32.3 392.4M29.1 401L30.7 396.6L32.2 392.2L33.6 387.7L33.5 388M44.6 399.8L46.4 395.2L48.2 390.5L49.9 385.9L49.9 385.9M60.9 394.1L64.1 388.2L64.9 386.8M77.4 388.8L79.9 385.3L79.5 385.8M-208 312.7L-202.6 314.2L-202 314.3M-181.7 329.4L-176.2 329.7L-175.7 329.7M-153.4 342.5L-148.7 343L-149 342.9M-124.7 352.8L-120.2 354L-120.4 353.9M-96.1 363.6L-90.8 362.6L-90.4 362.5M-68.1 378L-64.2 373.6L-60.9 368.8L-57.6 364L-57.2 363.2M-33.2 379.1L-30.5 372.5L-29.8 370.6M29.5 376.9L30.5 372.5L30.4 373M58.7 376.3L60.9 368.8L61.7 366.1M-58.3 357.1L-57.7 349.4L-57.5 346.6M-30.6 361.9L-29.7 357.4L-28.9 352.9L-28.1 348.4L-28.2 348.8M58.3 356.3L57.7 349.4L57.5 347.4M88.1 348.2L86 343.5L86 343.4M-52.6 335.6L-54.5 329.9L-54.8 329M-28.8 341.5L-28 337.4L-27.3 333.3L-26.6 329.2L-26.7 329.9M59.5 335.6L54.5 329.9L52.8 328M85.9 328.6L81.3 324.4L80.3 323.5M-48.2 315.5L-51.3 310.5L-51.7 309.7M-22.7 319.9L-25.7 313.6L-26.6 311.9M3.5 318.1L0 314.7L0.1 314.8M33.2 316.2L25.7 313.6L23 312.7M61.7 314.5L56.5 312.4L51.3 310.5L46 308.5L45.5 308.4M84.8 306.6L80.6 305.9L76.5 305.3L72.3 304.6L73 304.7M107.7 297.5L101.2 298L99.5 298.1M129.2 287.3L125.2 288.7L125.8 288.5M178.2 264.5L170.5 264.5L167.9 264.5M-42.5 297.4L-45.2 294.2L-48.1 291.1L-50.9 288L-50.4 288.5M-17 300L-20.6 297L-24.1 294L-27.6 291L-27.4 291.2M10.2 299.1L5 297.2L0 295L-5 292.8L-5.5 292.6M37.6 297.1L33.1 296.1L28.6 295.1L24.1 294L19.6 293L15.1 291.8L15.5 291.9M62.4 292.7L57.6 292.3L52.8 291.7L48.1 291.1L43.3 290.4L38.5 289.6L38.7 289.6M84.4 284.2L80.2 285L76 285.7L71.7 286.2L67.4 286.6L63.1 286.9L63.8 286.9M106.4 274.5L102.6 276.2L98.7 277.9L94.8 279.3L90.9 280.8L87 282.1L87.7 281.9M129.4 262.8L125.4 265.5L121.4 268.1L117.3 270.7L113.3 273.2L109.1 275.6L109.3 275.5M153 250.3L149.5 252.7L146 255.1L142.5 257.6L139.1 260.2L135.6 262.7L132.2 265.2L128.7 267.7L129.3 267.3M175.5 239.3L171.5 241.4L167.6 243.5L163.7 245.7L159.9 247.9L156 250.2L152.2 252.5L148.5 255L148.9 254.7M-85.9 264.4L-88.5 260.7L-88.3 261M-60.6 272.5L-63.8 269.8L-66.9 267L-70 264.3L-69.4 264.9M-35.9 278.9L-40.4 275.2L-44.8 271.6L-49.3 268L-49.9 267.5M-11.8 281.6L-15.4 279.3L-19 276.9L-22.5 274.4L-26 271.9L-29.4 269.3L-28.9 269.8M13.6 281.2L9 279.5L4.4 277.5L0 275.3L-4.4 273.1L-8.7 270.7L-8.7 270.7M37.8 278.2L32.6 277.1L27.5 275.8L22.5 274.4L17.5 272.9L12.5 271.3L12.2 271.2M60.1 273L55 272.8L49.9 272.3L44.8 271.6L39.8 270.9L34.8 270L34.6 270M83 264.4L79 265.3L75 266.1L70.9 266.7L66.9 267L62.8 267.4L58.8 267.6L54.7 267.6L55.6 267.7M107 253.7L102.4 255.7L97.9 257.6L93.2 259.2L88.5 260.7L83.8 262.2L79 263.4L74.2 264.5L74.2 264.5M128.8 241.1L125.1 243.6L121.3 246L117.4 248.3L113.5 250.5L109.5 252.6L105.5 254.7L101.5 256.6L97.4 258.4L93.2 260.1L93.6 259.9M148.4 228.4L144.8 231.5L141.1 234.4L137.4 237.3L133.6 240.1L129.8 242.8L125.9 245.5L122 248.1L118.1 250.7L114 253.1L114.3 253M165.2 216.5L162.2 219.6L159 222.7L155.8 225.7L152.5 228.6L149.2 231.4L145.8 234.2L142.4 236.9L139 239.7L135.5 242.3L136 241.9M-98 239.5L-101.7 234.5L-102.4 233.5M-75.7 248.8L-79 245.5L-82.2 242L-85.4 238.6L-85.2 238.8M-53.1 255.7L-57.7 251.9L-62.1 247.9L-66.5 244L-67.2 243.4M-31.8 260.1L-35.1 257.5L-38.4 254.8L-41.6 252.2L-44.9 249.5L-48.1 246.9L-47.5 247.4M-9.8 263.6L-13.6 260.8L-17.3 257.8L-20.9 254.7L-24.5 251.7L-28.1 248.6L-27.9 248.8M13.8 263.8L10.2 262L6.7 260.1L3.3 257.9L0 255.6L-3.3 253.3L-6.5 250.8L-9.5 248.2L-8.8 248.9M35.5 260.1L30.6 258.6L25.7 256.8L20.9 254.7L16.1 252.7L11.5 250.3L11.3 250.2M59.6 255.1L55.1 254.7L50.6 254.1L46.1 253.2L41.6 252.2L37.2 251.1L32.8 249.9L28.5 248.4L28.9 248.6M83.7 246.1L79.4 246.9L75.1 247.5L70.8 247.9L66.4 248.1L62.1 247.9L57.8 247.8L53.4 247.5L49.1 246.9L44.8 246.1L45.5 246.3M103.2 235.6L99.1 237.3L95 238.7L90.8 240L86.5 241.1L82.2 242L77.8 242.9L73.5 243.6L69.1 244.1L64.7 244.3L65.3 244.3M119.2 225.1L115 227.8L110.6 230.2L106.2 232.5L101.7 234.5L97.1 236.5L92.5 238.3L87.8 239.9L87.8 239.9M134 214.7L130.8 217.6L127.5 220.3L124 222.9L120.5 225.4L117 227.9L113.3 230.2L109.6 232.4L110.2 232.1M148.2 203.7L145.2 207.6L141.9 211.3L138.5 214.8L135.1 218.3L131.5 221.7L131.5 221.6M-125.3 201.7L-127.8 198.3L-127.4 198.8M-107 213.7L-111.2 208L-112.4 206.4M-87.3 224.3L-90.6 220.4L-93.8 216.4L-97.1 212.5L-97.1 212.4M-67.5 232.2L-70.3 229.3L-73.1 226.4L-75.8 223.4L-78.6 220.4L-81.3 217.4L-80.7 218.1M-48.6 237.2L-51.5 234.5L-54.5 231.7L-57.3 228.8L-60.2 226L-63 223.1L-62.4 223.8M-29.6 241.2L-32.5 238.4L-35.5 235.6L-38.4 232.7L-41.4 229.9L-44.3 227.1L-43.6 227.7M-8.9 245.7L-12.4 242.2L-15.8 238.7L-19.3 235.1L-22.7 231.6L-26.2 228L-26.1 228M13.1 246.8L9.6 244.3L6.3 241.7L3.1 238.8L0 235.9L-3.1 233L-6.1 229.9L-9.1 226.9L-8.6 227.4M36.2 243.7L31.8 242L27.5 239.9L23.3 237.6L19.3 235.1L15.2 232.6L11.4 229.8L7.6 226.9L7.8 227M60 238.6L55.6 237.9L51.2 237L46.8 235.8L42.6 234.4L38.4 232.7L34.3 231.1L30.2 229.2L26.2 227.1L22.4 224.8L22.8 225.1M77.1 230.3L72.1 230.5L67.2 230.4L62.2 229.8L57.3 228.8L52.4 227.9L47.6 226.6L42.9 225L42.9 225M89.9 221.5L85.3 222.4L80.6 223.1L75.8 223.4L71.1 223.7L66.3 223.6L66.6 223.6M103.3 212.7L98.6 214.7L93.8 216.4L89 218.1L88.9 218.2M117.6 203.2L114.5 205.7L111.2 208L107.9 210.4L108.7 209.9M132.5 192.6L127.8 198.3L126.3 200.1M-112.5 187.9L-117.2 181.7L-118.8 179.5M-95.7 199.3L-98.8 195L-101.9 190.7L-105 186.3L-105.2 186.1M-78.5 208L-81 204.8L-83.5 201.6L-86 198.4L-88.4 195.1L-90.9 191.8L-90.3 192.6M-61.9 213.8L-65.8 209.3L-69.5 204.7L-73.2 200.1L-73.8 199.4M-45 218.3L-48.8 214.1L-52.5 209.7L-56.2 205.4L-56.7 204.8M-26.4 223L-29.4 219.8L-32.3 216.6L-35.2 213.3L-38.1 210L-41 206.7L-40.6 207.2M-6 227.9L-9 224.8L-11.9 221.7L-14.8 218.6L-17.7 215.5L-20.5 212.3L-23.4 209.2L-26.1 206L-25.7 206.5M15.5 229.8L12.3 227.3L9.1 224.6L6 221.9L3 219.1L0 216.2L-3 213.3L-5.9 210.4L-8.8 207.4L-11.6 204.4L-11 205M36.5 228L32.5 225.9L28.6 223.5L24.9 221L21.2 218.3L17.7 215.5L14.1 212.6L10.6 209.7L7.3 206.7L4 203.6L4.3 203.9M52.4 222.8L47.8 220.9L43.5 218.6L39.2 216.1L35.2 213.3L31.2 210.5L27.3 207.5L23.6 204.3L23.6 204.4M64.1 215L60.1 213.6L56.2 211.8L52.5 209.7L48.9 207.6L45.3 205.2L45.9 205.7M76.3 207L69.5 204.7L67.4 204M90.3 198.1L86 198.4L86.7 198.3M-100 173.8L-103.2 169.4L-106.5 165.1L-109.8 160.9L-110.1 160.6M-86 183.1L-89.3 178.2L-92.6 173.3L-96 168.4L-96.5 167.6M-71.9 189.7L-75.1 185L-78.2 180.3L-81.3 175.6L-81.6 175M-57.2 194.9L-60.2 190.5L-63.2 186.1L-66.1 181.6L-66.3 181.4M-41.1 200.3L-44.5 195.5L-47.7 190.6L-51 185.7L-51.5 184.9M-22.8 206.1L-26 202.1L-29.1 198L-32 193.9L-35 189.7L-37.8 185.4L-37.9 185.3M-2.7 211.2L-5.5 208.2L-8.2 205.2L-10.9 202.2L-13.5 199L-16.1 195.8L-18.6 192.6L-21 189.4L-23.4 186.1L-25.6 182.7L-25.1 183.4M16.8 212.8L13.3 209.7L9.9 206.5L6.5 203.3L3.2 199.9L0 196.5L-3.2 193.1L-6.3 189.5L-9.3 185.9L-12.1 182.2L-11.9 182.4M31.6 210L28.4 207.3L25.2 204.5L22.2 201.6L19.1 198.7L16.1 195.8L13 192.9L10 190L7 187.1L4.1 184L4.6 184.6M42.9 204.4L39.2 200.9L35.6 197.4L32 193.9L28.4 190.3L24.7 186.9L24.7 186.8M54.9 197.6L51.3 194.1L47.7 190.6L44.2 187.1L44.2 187.1M67.5 189.8L63.2 186.1L62.6 185.6M-95.5 152.8L-98.6 148.6L-101.8 144.5L-105 140.5L-105.1 140.3M-78.1 164.5L-80.7 160.2L-83.3 155.9L-86 151.7L-86 151.6M-59 173.7L-61.4 169.3L-63.6 165L-65.9 160.6L-65.9 160.6M-36.6 183.4L-38.8 179.5L-40.9 175.5L-43 171.5L-45 167.5L-47 163.5L-46.8 163.9M-9.6 193.3L-12.3 189.9L-14.8 186.4L-17.2 182.8L-19.5 179.2L-21.6 175.5L-23.8 171.7L-25.9 168L-27.8 164.1L-29.7 160.3L-29.4 160.9M17 195.2L14 192.3L11 189.4L8.1 186.4L5.3 183.3L2.6 180.1L0 176.8L-2.6 173.5L-5 170.1L-7.2 166.6L-9.3 163L-11.3 159.3L-11 160M33.6 185.7L29.6 182.3L25.6 178.9L21.6 175.5L17.7 172L13.9 168.4L13.7 168.2M49.4 176.8L46.2 174.1L43 171.5L39.7 168.9L40.4 169.4M66.6 168.1L63.6 165L64.1 165.4M-86.2 135.6L-88.3 132L-90.5 128.4L-92.6 124.8L-92.2 125.5M-70.2 146L-72.1 142.3L-74.1 138.5L-76 134.8L-75.6 135.5M-52.4 156.1L-54.5 151.3L-56.5 146.6L-58.6 141.8L-58.7 141.6M-31.7 167.1L-33.4 163.5L-35 159.8L-36.6 156.1L-38.2 152.4L-39.7 148.7L-41.3 145L-42.8 141.2L-42.4 142.1M-7.4 177.8L-9.6 174.4L-11.8 170.8L-13.8 167.1L-15.7 163.4L-17.5 159.7L-19.2 155.9L-21 152.1L-22.6 148.3L-24.3 144.5L-25.8 140.6L-27.4 136.8L-27.1 137.5M14.9 177.8L11.9 174.7L9.2 171.4L6.6 168L4.2 164.5L2 160.8L0 157.1L-2 153.4L-3.9 149.5L-5.7 145.7L-7.5 141.8L-9.1 137.8L-8.8 138.5M28.4 166.2L25.1 163L22 159.6L19.2 155.9L16.4 152.2L13.9 148.3L14.1 148.7M42.4 156.7L38.2 152.4L37.4 151.6M-75.3 119.2L-79.1 112.3L-80.5 109.8M-60.7 129.3L-62.7 125.2L-64.8 121.2L-66.8 117.2L-66.6 117.6M-44.6 139.6L-46.1 135.8L-47.8 132L-49.4 128.2L-51.1 124.4L-52.9 120.6L-52.5 121.4M-26.3 151L-28.1 146.6L-29.9 142.1L-31.6 137.7L-33.4 133.3L-35.1 128.9L-36.9 124.4L-38.8 120L-38.7 120.2M-6 161.1L-8.1 157.1L-10 153L-11.8 148.9L-13.5 144.7L-15.2 140.6L-16.8 136.4L-18.4 132.2L-20 128L-21.6 123.8L-23.1 119.5L-24.7 115.3L-24.5 115.8M10.9 159.9L8.7 156.3L6.7 152.7L4.9 148.9L3.1 145.1L1.5 141.3L0 137.4L-1.5 133.5L-2.9 129.6L-4.3 125.6L-5.6 121.7L-6.8 117.7L-6.5 118.4M22.5 148.8L20.3 144.8L18.4 140.6L16.8 136.4L15.2 132.1L13.8 127.8L13.9 128.2M34.9 138.7L33.4 133.3L33.2 132.6M-49.8 113.8L-52.6 108.8L-55.5 103.8L-58.4 98.8L-58.8 98.2M-31.1 127L-32.7 123.1L-34.3 119.2L-36 115.3L-37.8 111.5L-39.6 107.6L-41.5 103.8L-43.5 100.1L-43.1 100.7M-10.6 139.9L-12.1 136L-13.6 132L-15 128L-16.4 124.1L-17.8 120.1L-19.2 116.1L-20.6 112.2L-22 108.2L-23.4 104.2L-24.9 100.3L-26.5 96.4L-26.2 97.1M6.8 140L5.2 135.7L3.7 131.2L2.3 126.8L1.1 122.2L0 117.7L-1.1 113.2L-2.1 108.6L-2.9 104L-3.7 99.4L-3.7 99.7M20.2 128L19.4 122.1L19.2 116.1L18.9 110.2L19 109.2M36.2 117L37.8 111.5L38.1 110.7" fill="none" stroke="#fff" stroke-width="1.9" stroke-linecap="butt" stroke-linejoin="round"/>
<path d="M-290.5 441.5L-299.7 441.4L-295 439.3L-296.3 434.4ZM-271.2 453.8L-280.3 454.3L-275.8 451.9L-277.4 447ZM-251.6 464.6L-260.8 465.5L-256.3 462.9L-258.1 458.1ZM-232.9 475.5L-242 476L-237.5 473.6L-239 468.8ZM-215.3 486.2L-224.5 486L-219.7 484L-220.9 479ZM-197.9 494L-207.1 494L-202.4 491.9L-203.8 487ZM-179.5 501.3L-188.7 501.2L-184 499.1L-185.3 494.2ZM-160.1 508.8L-169.2 508.3L-164.4 506.4L-165.5 501.4ZM-140.1 516.2L-149.2 514.8L-144.2 513.4L-144.8 508.4ZM-119.7 523L-128.6 520.8L-123.6 519.9L-123.7 514.7ZM-99.6 525.8L-108.7 524.7L-103.8 523.2L-104.5 518.1ZM-81.2 524.1L-89.3 528.3L-86.1 524.3L-89.6 520.5ZM-64.7 519.3L-61.2 527.8L-64.9 524.3L-69 527.4ZM-44.4 522.3L-39.4 530L-43.7 527.2L-47.2 531.1ZM-21.4 526.9L-18.1 535.4L-21.8 531.8L-25.9 534.9ZM1 529.1L1.3 538.3L-1 533.7L-5.9 535.2ZM23.3 532.9L15.1 528.8L20.2 529L21.2 524ZM44.4 532.3L37.9 525.8L42.7 527.6L45.2 523.1ZM65.7 529.8L59.8 522.8L64.4 525L67.3 520.8ZM87.7 527.2L81.1 520.9L85.9 522.6L88.3 518.1ZM109.6 523.3L102.2 517.9L107.2 519L109 514.2ZM130.3 517.7L123 512.1L128 513.3L130 508.5ZM150.4 512.2L145.5 504.5L149.8 507.3L153.2 503.5ZM170.7 505.9L167.2 497.4L170.9 501L175 497.9ZM191.1 499.1L187.6 490.6L191.3 494.2L195.4 491ZM211 490.9L208 482.2L211.5 485.9L215.8 483ZM230.4 481.3L228.7 472.3L231.6 476.5L236.3 474.3ZM249.2 471.4L249.2 462.2L251.3 466.9L256.3 465.6ZM268.4 462.2L266.6 453.2L269.6 457.4L274.2 455.1ZM289.9 453.5L283.9 446.6L288.5 448.7L291.4 444.5ZM311.1 441.8L303.2 437.1L308.3 437.7L309.7 432.8ZM-282.9 424.5L-292 423.7L-287.2 422L-288.1 416.9ZM-265.8 436.7L-274.9 436.1L-270.1 434.3L-271.2 429.3ZM-247.4 446.6L-256.6 446.8L-252 444.6L-253.4 439.6ZM-228.8 456.3L-238 456.8L-233.5 454.4L-235 449.6ZM-210.6 465.9L-219.7 466.2L-215.1 463.9L-216.6 459ZM-192.2 474.4L-201.4 474.7L-196.8 472.4L-198.3 467.5ZM-173 482.3L-182.1 482.5L-177.5 480.3L-179 475.4ZM-153.1 489.9L-162.3 489.8L-157.6 487.7L-158.9 482.8ZM-133.1 497L-142.2 496.4L-137.4 494.6L-138.4 489.6ZM-113.5 502.6L-122.7 501.8L-117.8 500.1L-118.7 495.1ZM-95.3 504.3L-104.4 505.3L-100 502.7L-101.9 497.9ZM-78 502.1L-83.6 509.4L-82.4 504.4L-87.2 502.4ZM-57.8 498.1L-58.5 507.2L-60.2 502.4L-65.3 503.3ZM-36.1 501.9L-38.2 510.8L-39.2 505.8L-44.3 505.9ZM-16.2 505.7L-18.6 514.6L-19.4 509.5L-24.5 509.5ZM3.5 508.1L0.5 516.8L0 511.7L-5.1 511.4ZM23.7 510.7L16.3 516.2L18.8 511.7L14.7 508.5ZM44 511.5L34.9 509.9L39.9 508.6L39.4 503.5ZM64.5 509.7L55.9 506.6L61 506.2L61.4 501.1ZM85.5 507.5L77.2 503.5L82.3 503.6L83.3 498.6ZM105.8 503.9L98 499.1L103.1 499.7L104.6 494.8ZM125.2 498.7L118.6 492.4L123.4 494.1L125.9 489.5ZM144.2 493.3L141.3 484.6L144.8 488.4L149.1 485.6ZM163.9 487L162 478L165 482.1L169.6 479.8ZM183.7 480.6L181.1 471.8L184.4 475.7L188.8 473ZM202.8 473L200.7 464.1L203.8 468.1L208.3 465.7ZM221.3 464L220.7 454.9L223.1 459.4L227.9 457.7ZM239.4 454.1L240.6 445L242.1 449.9L247.2 449.3ZM258.3 444.6L257.2 435.5L259.9 439.9L264.6 437.9ZM280.5 437L273.5 431.1L278.4 432.5L280.6 427.9ZM301.6 426.5L293.3 422.7L298.4 422.7L299.2 417.6ZM-270.7 407.6L-279.9 407.7L-275.3 405.5L-276.7 400.6ZM-255.6 419.1L-264.8 418.8L-260.1 416.8L-261.3 411.8ZM-239.7 429.1L-248.9 428.8L-244.1 426.8L-245.3 421.8ZM-222.2 438.8L-231.3 438.6L-226.6 436.6L-227.8 431.6ZM-203.4 448L-212.6 448L-207.9 445.9L-209.3 441ZM-184.5 456.5L-193.7 456.6L-189.1 454.4L-190.5 449.5ZM-165.5 464.3L-174.7 464.4L-170 462.2L-171.4 457.3ZM-146.2 471.6L-155.4 471.5L-150.7 469.4L-152 464.5ZM-126.8 477.9L-136 477.8L-131.3 475.7L-132.6 470.8ZM-108.2 481.6L-117.4 482.6L-112.9 480L-114.8 475.2ZM-91.2 482.3L-99.5 486.2L-96.2 482.3L-99.5 478.4ZM-74 481.6L-79 489.3L-78.2 484.2L-83.1 482.7ZM-53.8 480.3L-56 489.2L-56.9 484.2L-62.1 484.4ZM-32.3 480.9L-34.4 489.8L-35.4 484.8L-40.5 485ZM-13.1 482.9L-15.1 491.8L-16.1 486.8L-21.2 487ZM5.6 485.6L3.1 494.4L2.3 489.3L-2.8 489.3ZM24.7 488.6L19.8 496.4L20.5 491.3L15.6 489.8ZM44.2 490.1L36.2 494.5L39.2 490.4L35.6 486.8ZM63.6 489.1L54.6 490.9L58.7 487.9L56.4 483.4ZM83 487L73.8 486.3L78.7 484.6L77.7 479.5ZM101.8 483.8L93.3 480.2L98.4 480.1L99.1 475ZM120.5 479.6L113.8 473.3L118.6 475L121 470.4ZM138.6 474.4L135.9 465.7L139.3 469.5L143.6 466.7ZM157.7 468.3L155.5 459.4L158.6 463.5L163.1 461ZM176.7 461.5L174.2 452.7L177.5 456.6L181.9 453.9ZM194.8 454.4L193.5 445.3L196.3 449.6L201 447.6ZM212.3 446.2L212.8 437L214.7 441.8L219.7 440.7ZM229.8 437L231.2 428L232.6 432.9L237.7 432.3ZM248.8 427.8L246.5 418.9L249.7 422.9L254.1 420.4ZM270.5 420.6L263.1 415.2L268.1 416.2L269.9 411.4ZM290.9 411.6L282.6 407.8L287.7 407.8L288.5 402.8ZM-259.5 391.2L-268.7 391.7L-264.1 389.3L-265.7 384.4ZM-243.3 401.9L-252.5 402.5L-247.9 400.1L-249.6 395.2ZM-227.1 412.2L-236.2 412.5L-231.7 410.2L-233.2 405.3ZM-210.5 422.4L-219.7 422.3L-215 420.2L-216.2 415.3ZM-193.2 431.1L-202.4 431.1L-197.7 429L-199.1 424.1ZM-175.5 438.9L-184.7 439L-180.1 436.8L-181.5 431.9ZM-157.6 446.3L-166.8 446.3L-162.2 444.2L-163.5 439.3ZM-139.7 453L-148.8 453L-144.2 450.9L-145.5 445.9ZM-122.2 458.1L-131.3 458.4L-126.8 456.1L-128.3 451.2ZM-105.7 460.6L-114.6 462.5L-110.5 459.5L-112.9 454.9ZM-89.6 461.3L-97.1 466.6L-94.5 462.2L-98.5 459ZM-72.7 461.4L-75.5 470.1L-76.1 465.1L-81.2 464.8ZM-53.9 462.4L-55 471.5L-56.5 466.7L-61.6 467.5ZM-34.5 463.1L-34.8 472.2L-36.7 467.5L-41.7 468.7ZM-14.4 463.3L-15.1 472.4L-16.8 467.6L-21.9 468.6ZM5.9 464.8L3.7 473.7L2.7 468.6L-2.4 468.8ZM25.4 466.9L21.5 475.2L21.6 470L16.5 469.1ZM44 468.2L38.1 475.2L39.5 470.3L34.9 468.1ZM62.1 467.9L54.8 473.4L57.2 468.9L53.2 465.7ZM80.2 466.1L71.7 469.7L75.2 465.9L72.1 461.9ZM98.3 463.1L89.3 464.7L93.5 461.8L91.4 457.2ZM117.1 459.1L107.9 459.7L112.4 457.2L110.8 452.4ZM135.5 454.3L126.4 453.5L131.3 451.8L130.4 446.8ZM152.1 449.7L147.2 441.9L151.5 444.8L155 441ZM169.5 443.1L167.2 434.2L170.4 438.2L174.9 435.7ZM186.9 435.6L186.6 426.5L188.9 431.1L193.8 429.6ZM204 427.4L205.4 418.4L206.8 423.3L211.8 422.7ZM221.1 419.1L222 410L223.7 414.8L228.7 413.9ZM239.5 410.9L235.5 402.6L239.5 405.9L243.3 402.6ZM259.4 404.1L252.3 398.3L257.2 399.6L259.3 394.9ZM278.2 396.7L270.5 391.9L275.5 392.6L277 387.7ZM-248 376L-257.2 376L-252.5 373.9L-253.9 369ZM-231.3 386.3L-240.4 386.8L-235.9 384.4L-237.5 379.5ZM-214.8 395.8L-224 396.4L-219.5 394L-221.1 389.2ZM-199 405L-208.2 405.4L-203.7 403.1L-205.3 398.2ZM-183.5 413.1L-192.7 413.5L-188.1 411.2L-189.7 406.3ZM-167.6 420.4L-176.7 420.8L-172.2 418.5L-173.7 413.6ZM-151.4 427.2L-160.6 427.5L-156 425.2L-157.5 420.3ZM-135.5 432.9L-144.7 433.2L-140.1 430.9L-141.6 426ZM-120.3 436.9L-129.5 437.7L-125 435.2L-126.8 430.4ZM-105.4 439.2L-113.9 442.8L-110.4 439L-113.6 435ZM-89.8 440.5L-92 449.4L-92.9 444.4L-98 444.5ZM-72.5 441.9L-70.8 450.9L-73.8 446.7L-78.4 448.9ZM-54 443.7L-52.3 452.7L-55.2 448.5L-59.8 450.8ZM-34.7 445.1L-34 454.2L-36.5 449.7L-41.3 451.4ZM-14.4 445.5L-15.4 454.6L-17 449.7L-22 450.5ZM6.4 446L3.2 454.6L2.9 449.5L-2.2 449ZM25.3 446.1L21.8 454.6L21.6 449.4L16.5 448.8ZM42.8 446.4L38.7 454.7L38.9 449.6L33.8 448.6ZM59.9 446.3L55 454.1L55.7 449L50.8 447.5ZM77.2 445.1L71.1 451.9L72.6 447L68.1 444.7ZM94.6 442.3L87.8 448.5L89.8 443.8L85.5 441.1ZM112.3 438L106.2 444.9L107.7 440L103.1 437.8ZM129.8 432.6L125.9 440.9L125.9 435.8L120.9 434.9ZM147.2 426.7L144.5 435.5L143.8 430.4L138.7 430.2ZM163.1 424.8L158.5 416.8L162.7 419.8L166.3 416.1ZM178.6 417.3L180.2 408.3L181.5 413.2L186.6 412.8ZM195.2 409.4L197.9 400.6L198.5 405.7L203.6 405.9ZM212.3 401.4L212.2 392.3L214.4 396.9L219.3 395.5ZM230.1 393.2L224.6 385.8L229.1 388.3L232.3 384.2ZM248 386.4L241 380.4L245.9 381.9L248.1 377.2ZM264.7 379.8L257.9 373.8L262.8 375.3L265 370.7ZM-237.3 361.3L-246.4 360.5L-241.6 358.8L-242.4 353.7ZM-221.3 370.1L-230.5 370.4L-225.9 368.1L-227.4 363.2ZM-206.1 378L-215.2 379L-210.8 376.4L-212.7 371.6ZM-191.5 386L-200.6 387.1L-196.2 384.4L-198.2 379.7ZM-177 393.7L-186.1 394.7L-181.7 392L-183.6 387.3ZM-162.2 400.7L-171.3 401.6L-166.9 399.1L-168.7 394.3ZM-147.2 406.9L-156.3 407.9L-151.9 405.3L-153.8 400.5ZM-132.2 411.8L-141.3 413.4L-137 410.5L-139.2 405.9ZM-117.4 415.1L-125.6 419.3L-122.4 415.3L-125.8 411.5ZM-102.6 417.4L-105.8 426L-106.2 420.9L-111.3 420.5ZM-87.3 419.9L-84.8 428.8L-88.1 424.9L-92.5 427.5ZM-70.5 422.6L-66.7 431L-70.5 427.6L-74.5 430.9ZM-52.4 425.3L-49.6 434L-53.1 430.2L-57.4 433ZM-33.2 427.6L-33.8 436.7L-35.6 431.9L-40.7 433ZM-12.7 428.9L-17.1 436.9L-16.7 431.8L-21.7 430.6ZM7.7 427.5L3.2 435.5L3.7 430.4L-1.3 429.2ZM24.8 424.6L22.5 433.5L21.6 428.4L16.5 428.5ZM40.4 424.4L39 433.4L37.6 428.5L32.5 429.1ZM56.9 425L54.5 433.9L53.7 428.8L48.5 428.9ZM73.9 424.4L69.9 432.6L70 427.5L65 426.5ZM90.9 421.9L86.1 429.8L86.7 424.7L81.8 423.3ZM107.5 418L103.6 426.3L103.6 421.2L98.6 420.4ZM123.8 413.3L122 422.3L120.8 417.3L115.7 417.6ZM140.2 407.6L140.4 416.8L138.1 412.2L133.2 413.6ZM156.3 401.4L158.5 410.3L155.3 406.3L150.8 408.8ZM171.2 394.9L178.1 400.9L173.2 399.4L171 404.1ZM185.8 389.9L193.9 385.7L190.8 389.7L194.2 393.5ZM203.9 384.3L200.5 375.8L204.2 379.3L208.3 376.2ZM220.6 375.4L213.4 369.7L218.4 370.9L220.4 366.2ZM236.7 368.1L229.5 362.4L234.5 363.6L236.5 358.9ZM252.1 361L245.4 354.8L250.2 356.4L252.7 351.9ZM-228 344.9L-237 343.5L-232.1 342.1L-232.6 337ZM-214.2 352.4L-223.3 352.3L-218.6 350.2L-219.9 345.3ZM-200.1 359.2L-209.2 360.5L-204.9 357.8L-206.9 353.1ZM-186.1 366.6L-195.1 368.4L-190.9 365.4L-193.2 360.8ZM-171.9 374L-180.9 375.8L-176.7 372.8L-179 368.2ZM-157.4 381L-166.4 382.6L-162.2 379.7L-164.4 375.1ZM-142.5 387L-151.5 388.9L-147.4 385.8L-149.7 381.3ZM-127.2 391.7L-135.8 395L-132.2 391.3L-135.2 387.2ZM-111.5 394.7L-118.2 401L-116.2 396.2L-120.6 393.5ZM-95.6 396.4L-99.1 404.9L-99.3 399.8L-104.3 399.1ZM-80 398.9L-81.5 408L-82.8 403L-87.9 403.5ZM-64.6 402.5L-64.9 411.6L-66.9 406.9L-71.9 408.1ZM-48.5 406L-48.8 415.2L-50.8 410.5L-55.7 411.7ZM-31.2 409.5L-34.8 417.9L-34.9 412.8L-40 412.1ZM-12.8 412.6L-20.8 417.1L-17.8 412.9L-21.4 409.3ZM5.6 411.6L-1.3 417.6L0.8 413L-3.4 410.1ZM22.5 405L21.3 414.1L19.8 409.2L14.7 409.9ZM38.3 401.8L38.6 410.9L36.3 406.3L31.5 407.9ZM54.1 403.4L53.7 412.5L51.8 407.8L46.8 408.9ZM70.4 404L68.1 412.8L67.2 407.8L62.1 407.8ZM86.8 401.9L83.3 410.4L83.1 405.3L78.1 404.7ZM102.7 398.1L100.2 407L99.5 401.9L94.3 401.8ZM118.2 393.4L117.9 402.6L116 397.9L111 399.1ZM133.4 388.5L135.6 397.4L132.4 393.4L128 395.9ZM148.6 383L152.9 391.1L148.9 388L145.1 391.5ZM163.6 376.7L169.8 383.5L165.1 381.5L162.3 385.8ZM178.4 369.9L186.1 375L181 374.2L179.4 379.1ZM195.7 366.8L189.1 360.3L193.9 362.1L196.4 357.6ZM210.7 358.3L203.4 352.8L208.4 353.9L210.2 349.2ZM225.2 350.3L218.3 344.2L223.2 345.7L225.5 341.1ZM239.5 342.9L233.3 336.2L238 338.2L240.8 333.9ZM-218.1 327L-227.2 326.1L-222.4 324.4L-223.2 319.4ZM-205.6 333.8L-214.7 334.6L-210.3 332.1L-212 327.3ZM-192.7 340.6L-201.7 342.7L-197.6 339.6L-200 335.1ZM-179.3 347.9L-188.1 350.6L-184.3 347.2L-187 342.9ZM-165.5 355.1L-174.3 357.8L-170.5 354.4L-173.2 350.1ZM-151.4 362L-160.2 364.3L-156.3 361.1L-158.8 356.6ZM-136.7 368.1L-145.6 370.3L-141.6 367.1L-144.1 362.7ZM-121.3 373.1L-129.9 376.2L-126.3 372.6L-129.2 368.4ZM-105 376.7L-112.7 381.6L-109.9 377.3L-113.7 373.9ZM-87.7 378.4L-93.8 385.3L-92.3 380.4L-96.9 378.1ZM-70.7 378.5L-74.9 386.6L-74.7 381.5L-79.7 380.4ZM-56 379.6L-58.6 388.4L-59.3 383.3L-64.4 383.1ZM-42.8 383.7L-44.7 392.7L-45.8 387.7L-50.9 387.9ZM-28.6 389L-32.2 397.5L-32.3 392.4L-37.4 391.7ZM-13.5 393L-21.6 397.3L-18.4 393.3L-21.9 389.5ZM2.3 394.6L-6.9 394.6L-2.2 392.4L-3.6 387.5ZM17.9 390.1L17 399.2L15.4 394.4L10.3 395.2ZM35 383.3L36.3 392.3L33.5 388L28.8 390.1ZM51.6 381.2L52.4 390.4L49.9 385.9L45.1 387.7ZM67.3 382.4L66.7 391.6L64.9 386.8L59.9 387.8ZM82.4 381.8L80.8 390.8L79.5 385.8L74.4 386.3ZM97.3 378.7L96.5 387.9L94.8 383L89.8 383.9ZM111.9 374L114 382.9L110.8 378.9L106.4 381.3ZM126.1 369L130.9 376.8L126.6 374L123.1 377.7ZM140.6 364.4L147.1 370.9L142.3 369L139.8 373.5ZM155.2 358.9L162.8 364L157.8 363.2L156.1 368ZM169.4 352.6L178 355.6L172.9 356.1L172.6 361.2ZM183.2 348.1L189 341L187.7 346L192.4 348ZM199.5 341.7L195.7 333.3L199.6 336.7L203.5 333.4ZM213.4 333.2L208.9 325.3L213 328.2L216.6 324.6ZM226.8 325.6L222.5 317.5L226.5 320.6L230.3 317.1ZM-197.2 315.6L-206.2 317.2L-202 314.3L-204.2 309.7ZM-170.7 329.9L-179.2 333.4L-175.7 329.7L-178.8 325.6ZM-144 343.4L-152.6 346.5L-149 342.9L-151.9 338.7ZM-115.6 355.1L-124.6 356.9L-120.4 353.9L-122.7 349.3ZM-85.5 361.5L-92.9 367L-90.4 362.5L-94.4 359.3ZM-55 358.7L-55.1 367.9L-57.2 363.2L-62.1 364.5ZM-27.9 366L-27.4 375.2L-29.8 370.6L-34.6 372.2ZM2.4 374.5L-6.6 376L-2.4 373.1L-4.5 368.5ZM31.6 368.2L33.5 377.1L30.4 373L25.9 375.4ZM63 361.3L64.5 370.4L61.7 366.1L57 368.2ZM91.1 358.8L94.4 367.4L90.7 363.8L86.6 366.8ZM118.6 350.1L125.3 356.3L120.5 354.7L118.1 359.2ZM147.5 340.8L154.9 346.1L149.9 345.1L148.1 349.9ZM173.8 328.9L182.9 327.8L178.6 330.4L180.5 335.2ZM201.4 316.4L201.7 307.2L203.7 312L208.7 310.8ZM-188.6 298.2L-197.5 300.5L-193.5 297.3L-196 292.8ZM-163.5 312.1L-171.6 316.4L-168.5 312.4L-172 308.6ZM-138.2 324.3L-145.5 329.9L-143 325.4L-147.1 322.3ZM-111.7 336.7L-120.8 335.4L-115.9 334L-116.6 328.9ZM-85.2 341.1L-84.4 350.3L-86.9 345.8L-91.7 347.6ZM-57.1 341.6L-53.8 350.2L-57.5 346.6L-61.6 349.6ZM-27.3 343.9L-25 352.8L-28.2 348.8L-32.7 351.3ZM2.3 353L-3.6 360.1L-2.2 355.2L-6.9 353ZM29.4 350.5L31.7 359.3L28.5 355.4L24.1 357.9ZM57.1 342.5L61.7 350.4L57.5 347.4L53.9 351.1ZM84 338.8L90.9 344.8L86 343.4L83.7 348ZM111.5 331.9L119.4 336.5L114.3 336L113 341ZM139.4 322.4L147 327.6L141.9 326.7L140.2 331.5ZM165.2 310.4L173.7 314L168.6 314.1L167.9 319.2ZM189.4 298.1L196.8 292.7L194.3 297.1L198.3 300.3ZM-178.7 280.8L-186.7 285.4L-183.7 281.2L-187.3 277.6ZM-156.4 292.8L-157.2 301.9L-158.9 297.1L-163.9 298ZM-133.7 304.4L-127.7 311.3L-132.3 309.2L-135.2 313.5ZM-110 316.3L-101.2 313.6L-105 317L-102.3 321.3ZM-83.7 323.8L-74.8 321.8L-78.8 324.9L-76.4 329.4ZM-56.3 324.2L-50 330.9L-54.8 329L-57.5 333.3ZM-26.1 325L-23.2 333.7L-26.7 329.9L-31 332.8ZM1.4 331.8L0.9 341L-1 336.2L-6 337.3ZM25.9 331L33.6 336L28.6 335.2L27 340.1ZM49.5 324.3L57.9 327.9L52.8 328L52.1 333.1ZM76.6 320.1L85.4 322.9L80.3 323.5L80.1 328.6ZM104.1 314.3L113.2 315.9L108.2 317.2L108.7 322.3ZM131 304.9L139.7 307.6L134.6 308.3L134.5 313.4ZM156.9 292.5L163 299.4L158.3 297.3L155.5 301.6ZM178.4 279.3L187.5 280.3L182.6 281.9L183.5 287ZM-168.9 262.6L-171.4 271.4L-172.1 266.4L-177.3 266.3ZM-147.6 275.1L-146.3 284.2L-149.1 279.9L-153.7 282ZM-124.8 286.2L-122 294.9L-125.5 291.1L-129.8 293.9ZM-102 295.6L-95.5 302.2L-100.3 300.3L-102.9 304.8ZM-78.6 304L-69.5 305L-74.3 306.6L-73.5 311.6ZM-54.3 305.5L-46.7 310.6L-51.7 309.7L-53.3 314.6ZM-28.7 307.4L-21.6 313.2L-26.6 311.9L-28.6 316.6ZM-3.5 311.3L5.2 314.3L0.1 314.8L-0.3 319.9ZM18.3 311.1L27.4 310.1L23 312.7L24.8 317.5ZM40.7 306.8L49.8 305.7L45.5 308.4L47.4 313.1ZM68.1 304L76.9 301.4L73 304.7L75.7 309.1ZM94.6 298.5L102.5 294L99.5 298.1L103.2 301.7ZM121.1 290.1L127.7 283.7L125.8 288.5L130.2 291.1ZM145 279.2L150.8 272L149.5 277L154.2 279ZM162.9 264.5L171.2 260.6L167.9 264.5L171.2 268.4ZM-159.8 245.4L-156.1 253.8L-159.9 250.4L-163.9 253.6ZM-138.3 257.8L-137.1 266.9L-139.8 262.5L-144.5 264.5ZM-116.2 268.2L-116.2 277.4L-118.3 272.7L-123.2 274.1ZM-94.3 276.9L-92.2 285.8L-95.3 281.8L-99.8 284.2ZM-73.9 283.7L-65.5 287.2L-70.6 287.4L-71.3 292.4ZM-53.8 285L-45.2 288.2L-50.4 288.5L-50.8 293.6ZM-31.1 287.9L-22.3 290.5L-27.4 291.2L-27.5 296.3ZM-9.9 290.4L-0.8 290.6L-5.5 292.6L-4.2 297.6ZM10.7 290.5L19.7 289.1L15.5 291.9L17.6 296.6ZM33.8 288.7L42.7 286.4L38.7 289.6L41.3 294.1ZM58.8 286.9L67 282.9L63.8 286.9L67.1 290.7ZM82.9 283.3L89.8 277.2L87.7 281.9L92 284.7ZM104.9 277.8L110.4 270.5L109.3 275.5L114 277.4ZM125.2 270.2L129.7 262.2L129.3 267.3L134.3 268.6ZM144.8 257.5L149.5 249.6L148.9 254.7L153.9 256ZM-150.5 229.2L-142.8 234.3L-147.9 233.5L-149.5 238.4ZM-130.2 240.3L-125 247.9L-129.4 245.2L-132.7 249.2ZM-110.1 249.6L-104.6 256.9L-109.1 254.4L-112.2 258.5ZM-91.1 256.9L-83.2 261.6L-88.3 261L-89.6 266ZM-73.1 261.5L-64.3 264.2L-69.4 264.9L-69.6 270ZM-53.8 264.4L-44.9 266.6L-49.9 267.5L-49.8 272.6ZM-32.9 266.7L-23.9 268.6L-28.9 269.8L-28.6 274.9ZM-12.9 268.1L-3.8 269.2L-8.7 270.7L-8 275.8ZM7.6 269.3L16.8 268.7L12.2 271.2L13.9 276ZM29.8 268.9L38.7 266.9L34.6 270L37 274.5ZM50.6 267.4L59.1 263.9L55.6 267.7L58.7 271.7ZM69.3 265.3L76.8 260.1L74.2 264.5L78.2 267.8ZM89 261.6L95.5 255.1L93.6 259.9L98.1 262.5ZM109.9 255.4L115.2 247.9L114.3 253L119.1 254.7ZM132 244.9L136.3 236.8L136 241.9L141 243.1ZM-140 212.8L-132 217.3L-137.1 216.8L-138.3 221.8ZM-122.5 222.2L-114.8 227.1L-119.8 226.4L-121.3 231.3ZM-105.3 229.5L-97.3 233.9L-102.4 233.5L-103.5 238.5ZM-88.5 235.1L-80 238.7L-85.2 238.8L-85.8 243.9ZM-70.9 240L-62.1 242.8L-67.2 243.4L-67.5 248.5ZM-51.3 244.1L-42.5 246.5L-47.5 247.4L-47.5 252.5ZM-31.6 245.5L-22.8 248.1L-27.9 248.8L-28 253.9ZM-12.5 245.6L-3.7 248.2L-8.8 248.9L-9 254ZM7 247.6L16.1 248.5L11.3 250.2L12.1 255.2ZM24.2 246.8L33.4 246.2L28.9 248.6L30.5 253.4ZM40.6 245.1L49.6 243.2L45.5 246.3L47.8 250.8ZM60.3 244.3L68.6 240.5L65.3 244.3L68.5 248.3ZM83 241.2L90 235.2L87.8 239.9L92 242.8ZM105.9 234.5L111.3 227.1L110.2 232.1L115 233.9ZM127.7 224.9L131.5 216.5L131.5 221.6L136.6 222.5ZM-130.4 194.8L-122.3 199.2L-127.4 198.8L-128.6 203.8ZM-115.4 202.4L-107.3 206.7L-112.4 206.4L-113.6 211.4ZM-100.2 208.5L-92 212.6L-97.1 212.4L-98.1 217.4ZM-83.9 214.3L-75.5 218L-80.7 218.1L-81.4 223.1ZM-65.8 220.2L-57.2 223.5L-62.4 223.8L-62.9 228.9ZM-47.2 224.2L-38.5 227.3L-43.6 227.7L-44 232.8ZM-29.6 224.4L-21 227.7L-26.1 228L-26.6 233.1ZM-12 223.8L-3.4 227.1L-8.6 227.4L-9.1 232.5ZM4 223.8L12.8 226.2L7.8 227L7.8 232.2ZM18.7 222.4L27.7 223.7L22.8 225.1L23.4 230.2ZM38.3 223L47.5 222.7L42.9 225L44.4 229.9ZM61.6 223.1L70.3 220L66.6 223.6L69.5 227.8ZM84.1 219.5L91.1 213.5L88.9 218.2L93.1 221.1ZM104.5 212.5L109.4 204.8L108.7 209.9L113.6 211.4ZM123.1 203.9L125.5 195L126.3 200.1L131.4 200ZM-121.8 175.6L-113.7 179.8L-118.8 179.5L-119.9 184.5ZM-108.1 182L-100.1 186.5L-105.2 186.1L-106.5 191ZM-93.2 188.5L-85.2 193L-90.3 192.6L-91.6 197.6ZM-76.9 195.5L-68.7 199.6L-73.8 199.4L-74.8 204.4ZM-59.8 201L-51.6 204.9L-56.7 204.8L-57.6 209.9ZM-43.7 203.4L-35.4 207.3L-40.6 207.2L-41.5 212.2ZM-28.9 202.7L-20.6 206.6L-25.7 206.5L-26.5 211.6ZM-14.3 201.3L-5.9 204.9L-11 205L-11.7 210.1ZM0.7 200.4L9.4 203.4L4.3 203.9L3.9 209ZM19.9 201.1L28.7 203.7L23.6 204.4L23.5 209.5ZM42 202.6L50.9 204.7L45.9 205.7L46.1 210.8ZM62.6 202.5L71.7 201.4L67.4 204L69.3 208.8ZM81.7 198.7L89.7 194.2L86.7 198.3L90.3 202ZM98.6 192.4L104.1 185.1L103 190.1L107.8 192ZM114.3 184.6L117.3 176L117.8 181.1L122.9 181.5ZM-113.3 156.8L-105 160.6L-110.1 160.6L-110.9 165.6ZM-99.4 163.5L-91.4 168.1L-96.5 167.6L-97.8 172.6ZM-84.3 170.8L-76.5 175.7L-81.6 175L-83.1 179.9ZM-68.9 177.2L-61.2 182.1L-66.3 181.4L-67.8 186.3ZM-54.1 180.7L-46.4 185.7L-51.5 184.9L-53 189.8ZM-40.5 181.1L-32.8 186.1L-37.9 185.3L-39.4 190.2ZM-27.8 179.2L-20.1 184.2L-25.1 183.4L-26.7 188.3ZM-14.8 178.3L-6.8 182.9L-11.9 182.4L-13.2 187.4ZM1.3 180.9L9.8 184.4L4.6 184.6L4 189.7ZM21 183.5L29.7 186.2L24.7 186.8L24.5 192ZM40.7 183.6L49.3 186.6L44.2 187.1L43.8 192.2ZM58.8 182.3L67.7 184.8L62.6 185.6L62.6 190.7ZM74.9 178.8L84.1 178.7L79.4 180.9L80.9 185.8ZM89.5 173.5L97.6 169.1L94.5 173.2L98 176.9ZM104.1 166.8L108.8 158.9L108.2 164L113.2 165.3ZM-108.2 136.4L-100 140.5L-105.1 140.3L-106.1 145.3ZM-88.7 147.4L-81 152.3L-86 151.6L-87.5 156.5ZM-68.2 156.2L-60.9 161.8L-65.9 160.6L-67.8 165.4ZM-48.9 159.4L-41.8 165.3L-46.8 163.9L-48.9 168.5ZM-31.5 156.3L-24.5 162.3L-29.4 160.9L-31.6 165.5ZM-13.2 155.6L-6 161.2L-11 160L-13 164.7ZM10.4 164.5L18.8 168.1L13.7 168.2L13 173.3ZM36.4 166.3L45.4 168.4L40.4 169.4L40.6 174.5ZM60.6 161.8L69.2 165.1L64.1 165.4L63.6 170.5ZM81.5 153.8L89.9 157.5L84.8 157.6L84 162.6ZM101.8 142L105.6 150.4L101.8 147L97.8 150.3ZM-94.7 121.2L-87.1 126.4L-92.2 125.5L-93.9 130.4ZM-77.9 131.1L-70.6 136.7L-75.6 135.5L-77.5 140.3ZM-60.7 137.1L-53.8 143.1L-58.7 141.6L-60.9 146.2ZM-44.3 137.5L-37.6 143.7L-42.4 142.1L-44.8 146.7ZM-28.9 132.9L-22.2 139.2L-27.1 137.5L-29.5 142.1ZM-10.6 133.9L-4 140.2L-8.8 138.5L-11.2 143ZM11.7 144.3L19.1 149.7L14.1 148.7L12.3 153.5ZM33.9 148.1L42.5 151.3L37.4 151.6L37 156.8ZM55.1 143.9L62.5 149.3L57.5 148.3L55.7 153.1ZM74 135.4L78.1 143.7L74.1 140.4L70.3 143.8ZM91.6 126.1L91.5 135.3L89.4 130.6L84.5 131.9ZM-83 105.4L-75.5 110.8L-80.5 109.8L-82.3 114.6ZM-68.9 113.2L-61.6 118.7L-66.6 117.6L-68.5 122.3ZM-54.7 116.9L-47.5 122.7L-52.5 121.4L-54.6 126.1ZM-40.7 115.7L-33.8 121.7L-38.7 120.2L-40.9 124.8ZM-26.3 111.1L-19.7 117.5L-24.5 115.8L-27 120.3ZM-7.9 113.6L-1.9 120.6L-6.5 118.4L-9.4 122.7ZM12.7 123.4L18.5 130.4L13.9 128.2L11 132.4ZM31.9 127.8L37.8 134.8L33.2 132.6L30.3 136.9ZM49.6 125.5L52.9 134.1L49.3 130.5L45.2 133.5ZM65.7 118.6L66.7 127.7L64.1 123.3L59.3 125.2ZM80.4 109.5L80.5 118.7L78.3 114L73.4 115.4ZM-61.5 94L-53.7 98.9L-58.8 98.2L-60.4 103.1ZM-45.5 96.3L-38.1 101.7L-43.1 100.7L-45 105.5ZM-28.1 92.5L-21.3 98.7L-26.2 97.1L-28.5 101.7ZM-4.4 94.8L0.7 102.4L-3.7 99.7L-7 103.6ZM19.2 104.2L22.8 112.6L19 109.2L15 112.3ZM39.4 105.9L40.9 115L38.1 110.7L33.4 112.8ZM57.3 100.4L56.8 109.5L55 104.8L49.9 105.8Z" fill="#fff"/>
<use href="#coast"/>
<path d="M-116.4 131.0L-114.3 139.1L-110.8 147.3L-107.4 154.9L-105.3 163.0L-100.9 168.0L-96.5 175.9L-90.7 181.4L-86.6 186.0L-81.9 193.9L-77.6 198.3L-76.8 205.0L-76.2 214.8L-77.4 221.1L-76.6 230.7L-75.2 239.0L-74.5 246.2L-74.8 252.9L-73.9 260.4L-73.1 266.1L-72.0 271.9L-67.1 279.3L-65.9 285.6L-64.1 293.0L-58.8 299.1L-52.2 305.9L-46.7 310.4L-38.1 315.3L-31.2 316.0L-24.3 320.4L-19.8 328.1L-17.3 334.4L-13.9 343.0L-11.8 350.3M-51.7 101.1L-52.0 109.7L-56.0 116.0L-56.4 120.9L-58.3 129.9L-59.1 136.0L-56.8 141.5L-54.4 149.4L-51.9 158.5L-51.1 165.5L-49.2 170.9L-50.1 176.9L-52.6 185.5L-52.5 192.2L-55.6 202.0L-56.0 209.7L-56.6 215.7L-52.8 221.8L-48.2 228.0L-44.5 234.1L-39.3 239.7L-36.7 245.6L-33.6 251.0L-27.2 257.7L-24.6 262.0L-21.0 269.8L-16.8 275.5L-13.2 266.5L-10.0 260.1L-6.6 252.0L-3.4 245.6L-0.8 237.2L4.4 233.2L7.7 226.1L13.1 220.7L22.6 217.6L33.0 215.7L33.0 222.8L35.2 229.2L35.1 238.9L35.5 245.6L44.0 250.6L50.0 245.4L57.9 240.7L56.8 231.4L57.8 223.0L57.2 213.4L55.5 205.8L53.4 197.4L49.0 189.3L47.6 180.0L47.0 173.7L43.5 163.6L43.0 155.9L41.5 148.0L36.8 140.3L36.5 132.8L33.0 126.0L31.9 118.3L32.7 110.0L30.5 103.6M92.8 126.0L86.6 130.1L77.7 132.5L71.8 132.6L62.9 136.0L61.8 144.4L58.9 152.1L57.9 160.9L63.2 166.9L68.9 172.8L72.9 180.9L80.9 187.1L87.5 191.1L92.8 195.8L95.1 201.8L100.0 209.2L102.8 215.7L108.1 207.8L112.7 200.8L111.4 194.2L109.8 184.9L109.1 179.4L107.8 170.9L105.8 163.6L102.2 152.7L97.8 146.0L93.9 135.3L92.8 126.0M62.9 225.7L70.2 224.4L78.8 221.6L83.9 220.8L92.8 220.7L99.3 226.8L101.5 230.7L107.2 235.1L112.7 240.7L120.5 236.5L126.7 232.6L134.0 229.6L142.6 225.7L148.8 223.4L157.2 223.5L166.0 221.6L172.5 220.7L169.0 228.6L165.9 238.0L162.6 245.6L155.0 247.3L147.7 251.2L138.8 252.9L132.7 255.6L132.8 262.7L131.4 271.5L128.2 277.9L127.7 285.5L134.4 291.7L141.1 296.0L147.1 300.7L152.6 305.4L158.5 306.8L168.4 309.0L173.7 311.6L182.5 315.4L188.4 319.0L196.2 321.5L205.5 324.0L212.4 325.4L220.8 323.9L228.2 325.4L235.5 324.1L242.3 325.4M-56.6 355.3L-59.2 361.7L-58.8 370.3L-60.1 376.2L-53.1 376.2L-43.7 375.2L-36.7 375.2L-29.1 373.7L-21.8 372.7L-10.9 371.2L-4.3 370.2L3.1 367.3L9.9 362.8L16.2 359.5L23.1 355.3L31.7 353.6L43.0 350.3L50.8 351.3L57.9 350.2L66.9 351.3L72.8 353.9L80.5 359.7L85.7 362.4L92.8 365.2L100.6 362.0L106.9 358.7L115.2 357.4L122.7 355.3L130.1 357.8L137.5 360.2L146.6 360.3L154.2 362.6L163.1 362.9L169.7 364.7L177.5 365.2L185.5 364.6L191.8 360.1L198.3 359.6L206.4 356.8L214.0 353.1L218.4 350.3L224.8 348.8L232.3 345.3L236.5 341.5L241.7 335.1L248.0 329.0L252.2 325.4M-153.3 254.1L-148.3 249.2L-141.7 245.7L-136.3 240.7L-128.7 243.4L-121.7 246.6L-112.9 249.1L-109.9 254.5L-107.9 262.9L-105.6 270.2L-101.5 275.5L-103.8 282.6L-108.1 291.3L-113.3 298.5L-116.4 305.4L-123.8 309.6L-128.2 312.6L-136.3 315.4L-141.3 309.9L-145.6 306.0L-151.1 299.4L-156.3 295.5L-159.8 288.4L-160.7 277.7L-163.7 270.6L-159.0 263.0L-153.3 254.1M-241.0 325.4L-233.6 330.0L-227.9 333.8L-221.8 340.3L-213.6 344.3L-204.1 349.3L-196.1 355.3L-186.6 352.1L-179.5 351.1L-171.2 350.3L-165.0 353.2L-157.5 357.5L-151.4 361.0L-145.3 362.3L-137.3 366.2L-139.4 374.9L-144.3 381.2L-146.3 390.2L-154.1 391.3L-163.6 389.7L-172.7 391.2L-179.3 398.3L-186.2 405.1L-180.3 408.6L-175.2 416.3L-171.2 420.1L-164.1 419.3L-156.8 419.6L-149.7 416.4L-142.2 416.0L-136.3 415.1M-41.7 436.0L-48.3 443.2L-51.1 448.6L-56.6 454.9L-62.6 462.5L-66.6 469.9L-62.8 478.0L-59.7 488.0L-56.6 494.8L-50.7 490.2L-48.1 484.4L-42.5 478.5L-36.7 474.9L-34.5 468.3L-30.5 458.2L-27.2 451.9L-24.2 444.5L-22.8 436.0L-16.5 432.1L-11.0 425.2L-6.8 420.1L-1.8 412.6L1.8 417.4L7.0 424.2L13.1 430.0L11.2 438.8L9.2 446.5L8.1 454.9L12.1 462.9L18.8 467.8L23.1 474.9L27.6 480.0L29.9 485.9L36.5 491.7L39.7 497.8L44.0 504.8L50.0 500.4L55.1 496.9L62.9 494.8L62.2 485.6L64.2 479.1L65.7 470.3L65.5 463.7L65.0 457.9L66.3 447.4L67.9 441.0L66.6 431.4L63.4 421.3L62.9 413.6L55.9 409.3L48.4 404.6L39.0 401.1L32.1 398.5L23.1 395.1M102.8 472.4L106.7 466.4L109.7 455.8L112.7 450.0L118.0 443.2L123.9 439.8L131.7 434.0L140.2 437.6L146.6 442.7L152.6 445.0L155.8 452.8L161.6 458.6L163.3 468.5L166.5 474.5L171.5 482.3L179.9 477.2L186.2 474.8L192.4 469.9L193.2 462.1L190.9 454.3L191.4 447.7L189.1 439.3L189.9 433.3L189.2 425.3L187.9 417.2L187.9 409.4L186.5 404.3L186.0 396.1L191.7 394.5L199.6 391.9L207.0 387.8L212.4 385.2L218.3 380.5L224.0 376.3L233.3 371.1L238.5 366.8L244.8 363.7L250.1 367.7L256.1 374.9L263.7 378.3L269.7 385.2L267.0 392.5L265.8 400.3L264.7 407.5L262.7 412.6L259.7 419.4L260.0 426.6L257.2 435.0L253.1 443.1L249.7 448.6L247.0 456.6L244.8 462.4L241.2 469.2L235.5 474.0L231.5 478.0L227.3 484.8M-255.9 355.3L-257.4 361.8L-260.8 370.1L-262.6 376.3L-265.9 385.2L-272.2 390.3L-275.1 394.9L-280.3 400.5L-285.8 405.1L-290.8 409.6L-299.3 413.7L-305.7 420.1L-299.4 425.8L-294.5 431.6L-290.8 435.0L-282.3 431.4L-272.7 429.6L-265.9 425.0M-6.8 265.6L-1.0 270.3L4.7 276.9L7.5 281.9L13.1 285.5L18.8 289.8L23.1 295.9L26.6 301.2L33.0 305.4L40.0 307.5L48.8 307.2L54.2 308.5L62.9 310.4L68.5 306.3L76.9 302.0L82.9 295.5L87.4 301.0L92.2 308.6L97.8 315.4L94.9 324.0L92.1 330.2L91.6 338.8L87.8 345.3M-36.7 519.7L-29.1 513.2L-24.6 509.9L-16.8 504.8L-13.2 508.8L-6.0 514.6L-0.3 520.6L3.1 524.7L10.4 519.8L19.5 517.5L28.1 514.7L31.7 520.8L37.2 529.0L43.0 534.7M277.1 355.3L279.4 362.5L285.0 370.8L289.7 378.7L292.1 385.2L290.4 393.6L287.1 401.2L284.8 406.9L282.1 415.1L287.6 423.0L293.4 428.3L297.1 435.0M-96.5 285.5L-93.5 293.8L-92.8 301.5L-91.6 308.4L-87.9 319.0L-86.5 325.4L-90.7 332.7L-93.0 340.2L-96.3 346.7L-101.5 355.3L-106.7 361.4L-110.4 366.6L-116.1 368.7L-121.4 375.2" fill="none" stroke="#111" stroke-width="1.25" stroke-dasharray="1.4 1.5"/><g font-family='"Liberation Sans", sans-serif' font-weight="bold" font-size="11.5" text-anchor="middle" fill="#000"><text transform="translate(-107.4 154.9) rotate(45)" y="3.5">3</text><text transform="translate(-77.6 198.3) rotate(-35)" y="3.5">3</text><text transform="translate(-0.8 237.2) rotate(20)" y="3.5">3</text><text transform="translate(44.0 250.6) rotate(-20)" y="3.5">3</text><text transform="translate(49.0 189.3) rotate(20)" y="3.5">3</text><text transform="translate(-73.1 266.1) rotate(-60)" y="3.5">3</text><text transform="translate(-64.1 293.0) rotate(45)" y="3.5">3</text><text transform="translate(-24.3 320.4) rotate(-20)" y="3.5">3</text><text transform="translate(-153.3 254.1) rotate(-60)" y="3.5">2</text><text transform="translate(-112.9 249.1) rotate(20)" y="3.5">2</text><text transform="translate(-213.6 344.3) rotate(-60)" y="3.5">2</text><text transform="translate(-137.3 366.2) rotate(70)" y="3.5">2</text><text transform="translate(-172.7 391.2) rotate(45)" y="3.5">2</text><text transform="translate(-60.1 376.2) rotate(-20)" y="3.5">2</text><text transform="translate(-4.3 370.2) rotate(45)" y="3.5">2</text><text transform="translate(66.9 351.3) rotate(-35)" y="3.5">2</text><text transform="translate(146.6 360.3) rotate(20)" y="3.5">2</text><text transform="translate(206.4 356.8) rotate(20)" y="3.5">2</text><text transform="translate(-41.7 436.0) rotate(-35)" y="3.5">1</text><text transform="translate(-22.8 436.0) rotate(-20)" y="3.5">1</text><text transform="translate(39.0 401.1) rotate(45)" y="3.5">1</text><text transform="translate(-1.8 412.6) rotate(45)" y="3.5">1</text><text transform="translate(62.9 413.6) rotate(20)" y="3.5">1</text><text transform="translate(67.9 441.0) rotate(-60)" y="3.5">1</text><text transform="translate(-36.7 474.9) rotate(20)" y="3.5">1</text><text transform="translate(-66.6 469.9) rotate(-35)" y="3.5">1</text><text transform="translate(102.8 472.4) rotate(-60)" y="3.5">1</text><text transform="translate(132.7 472.4) rotate(20)" y="3.5">1</text><text transform="translate(171.5 482.3) rotate(20)" y="3.5">1</text><text transform="translate(44.0 504.8) rotate(70)" y="3.5">1</text><text transform="translate(-29.2 519.7) rotate(45)" y="3.5">1</text><text transform="translate(186.0 396.1) rotate(70)" y="3.5">1</text><text transform="translate(131.7 434.0) rotate(20)" y="3.5">1</text><text transform="translate(244.8 363.7) rotate(-60)" y="3.5">1</text><text transform="translate(269.7 385.2) rotate(-35)" y="3.5">1</text><text transform="translate(257.2 435.0) rotate(45)" y="3.5">1</text><text transform="translate(244.8 462.4) rotate(20)" y="3.5">1</text></g>
</g>
<path d="M-66.5 86.4L-329.7 428.2A540.4 540.4 0 0 0 329.7 428.2L66.5 86.4A109 109 0 0 1 -66.5 86.4Z" fill="none" stroke="#111" stroke-width="1.3" stroke-linejoin="miter"/>
<g font-family='"Liberation Serif", serif' font-style="italic" font-size="29" text-anchor="middle" fill="#111">
<text transform="translate(-104.8 93.5) rotate(37.6)" y="9.5">N</text>
<text transform="translate(-138.9 132.8) rotate(37.6)" y="9.5">80</text>
<text transform="translate(-209.1 224) rotate(37.6)" y="9.5">75</text>
<text transform="translate(-280.5 316.7) rotate(37.6)" y="9.5">70</text>
<text transform="translate(-222.1 512.3) rotate(23.4)" y="9.5">110</text>
<text transform="translate(-45.6 556.5) rotate(4.7)" y="9.5">130</text>
<text transform="translate(135.7 541.7) rotate(-14.1)" y="9.5">150</text>
<text transform="translate(302.6 469.3) rotate(-32.8)" y="9.5">170 E</text>
</g>
</g>
<g transform="translate(337 1185)">
<g clip-path="url(#wc)">
<path d="M-66.5 86.4L-329.7 428.2A540.4 540.4 0 0 0 329.7 428.2L66.5 86.4A109 109 0 0 1 -66.5 86.4Z" fill="#72afbf"/>
<path d="M-345 75L345 75L345 297.9L339 303.8L327.4 324L321.2 339L317.2 354L315.5 369L315.8 384L317.6 399L324.6 438L325.4 453L324.8 468L322.1 486L317.7 504L312 520.9L299.3 552L-345 552L-345 198.4L-342 202.5L-333.8 219L-324.8 234L-313.8 249L-301.1 264L-280.4 285L-257.1 306L-242.4 318L-231 324.3L-225 325.2L-219 323.8L-213 318.9L-210 314L-201.8 285L-192 255.4L-189.8 237L-191.1 222L-195 204.2L-200.6 189L-207 177L-216 164.5L-226.9 153L-240 142.4L-251.7 135L-264 129.1L-279 124.2L-294 121.9L-306 122.4L-318 125.3L-327 129.9L-333.4 135L-345 148.1Z" fill="#77c0a2"/>
<path d="M-241.2 75L345 75L345 258.6L342 260.6L336 267.7L314.4 300L303.9 321L298.1 339L296 354L296 369L298.1 384L305 417L306.5 432L305.3 450L300.4 471L294 487.5L283.6 507L270 526.7L254.2 546L250.8 552L-345 552L-345 287L-339 290L-308.5 312L-280.1 330L-243 350.5L-228 355.7L-213 356.3L-201 353.2L-187 345L-171 331.4L-162 327.3L-156 327.4L-150 329L-123 341L-111 344L-102 343.8L-96 341.8L-92.2 339L-88.5 333L-88.2 327L-91.7 318L-124.6 276L-133.9 261L-140.2 249L-150.8 222L-164.3 174L-169.5 162L-175.9 150L-186 134.7L-201 115.8L-219 96.8L-236.5 81Z" fill="#78c47f"/>
<path d="M-190.7 75L345 75L345 221.7L342 223.7L336 230.9L303 277.8L290.1 300L281.3 321L278 336L277.6 354L279.9 372L288.3 411L289 426L286.8 438L282.1 450L276 460.6L267 472.5L255 484.7L240 496.6L190.9 525L156.8 546L149.7 552L-345 552L-345 330.2L-339 332.3L-240 381.4L-222 389.2L-175 405L-96 427.2L-87 428.3L-78 427.8L-54 421.9L-25.5 417L-17.2 414L-9 409.2L-4.6 405L-1.4 399L-0.4 390L-3.2 375L-11.1 357L-22 339L-32.6 327L-69 297.1L-88.6 279L-105 260L-118.4 240L-124.4 228L-129.9 213L-140.5 168L-147 149.8L-162 120.7L-187.8 81Z" fill="#a0d088"/>
<path d="M-158.5 75L345 75L345 183.1L342 185.3L336 193L287.5 264L272.9 288L263 309L258.9 324L258 336L259.2 351L264.8 390L265.5 405L264 414.5L259.4 423L252 429.9L237.5 438L225 442.5L195 449.3L183 453.2L165 461.8L138 477.9L126 482.3L114 482.5L102 479.6L78 470.1L63 461.7L57.5 456L54.7 450L47.8 420L39.7 396L33.5 381L21.9 360L2.3 330L-7.5 318L-17.1 309L-57 280.9L-78 263.9L-93 248.1L-105 230.8L-111 218.9L-116.2 204L-123.9 162L-129 144L-138 120.8L-156.5 81ZM-345 369L-345 366.5L-336 369.1L-306 381.5L-274.7 396L-213 430.9L-154.7 462L-114 486.4L-99 494L-90 496.9L-81 497.4L-75 495.8L-63 489.7L-57 487.7L-48 487.6L-42 489.8L-35.1 495L-30.4 501L-27.4 507L-26 513L-26.7 522L-35.2 543L-37.2 552L-345 552Z" fill="#c9de8a"/>
<path d="M-133.1 75L345 75L345 139.1L339 145.7L308.5 195L263.3 264L244 297L238.9 309L235.5 321L234.3 330L233.4 360L231 368.5L228 373.5L219 380.8L201 389.9L168 409.9L153 417.5L141 422.2L126 426.7L114 428.6L105 428.1L96 425.5L90 422.3L81 415.2L75 408.3L69 398.6L57.9 375L51.2 363L25.3 324L13.1 309L3 299.4L-11.2 288L-57 257.4L-72 246.2L-84 234.8L-93 223.3L-100.4 210L-105.6 195L-114.8 138L-121.1 114ZM-345 405L-345 403.6L-339 404.8L-313.4 414L-297 422.7L-284.5 432L-268.4 447L-199.6 516L-183.1 537L-177.4 546L-175.1 552L-345 552Z" fill="#f9e88d"/>
<path d="M-110.6 75L345 75L345 83.4L339 91.8L304.2 159L274 210L246 252.8L207.2 306L179.2 348L160.9 372L150 382.7L138 389.2L132 390.8L123 391.4L111 389L105 385.7L99 380.4L53 318L32.5 297L-11.8 264L-66 228.4L-75 220.9L-84 210.8L-91.4 198L-96.2 183L-98.4 168L-103 117ZM-345 459L-345 456.5L-339 458.6L-333 462.1L-321.7 471L-312 481.3L-301.6 495L-287.7 516L-271.6 543L-267.9 552L-345 552Z" fill="#f8c37a"/>
<path d="M-88.7 75L315.1 75L312.4 84L301 111L276.3 162L250.8 207L225 245.8L206.8 267L171 297.6L150 311.9L141 315.8L135 316.6L129 315.6L108 307.4L78 298L60 289.3L12 259.3L-54.3 213L-69 200.7L-78 188.1L-81.2 180L-83.2 171L-84.6 156L-85.2 108Z" fill="#f4a56e"/>
<path d="M-65.9 75L284.3 75L282 84L270.9 114L249.7 162L228 201.5L216.7 219L205.6 234L197.9 243L188.5 252L177 260.7L165 268.2L156 272.4L144 276.4L132 278.7L120 279.6L105 278.8L90 275.8L72 269.5L54 260.9L24 244.4L2.8 231L-12.6 219L-31 201L-47.7 180L-52.6 171L-56.8 159L-60.7 135Z" fill="#f38e69"/>
<path d="M-41.7 75L252 75L249.3 87L241.9 111L226.9 150L210.4 183L192.4 210L177 226.8L168 234.3L159 240.1L150 244.4L138 248.2L126 250.4L114 251.2L102 250.5L87 247.8L72 243.1L57 236.9L33 225.1L15 214.9L4 207L-5 198L-13.7 186L-20.2 174L-28 156L-33.1 141L-36.8 126L-39.2 111Z" fill="#ee7b68"/>
<path d="M-13.7 75L215.8 75L209.8 105L199.6 138L187.8 165L174.7 186L162 200.2L147 211L129 217.9L120 219.6L108 220.4L96 219.7L84 217.6L59.8 210L33 197.1L21 189L14.8 183L9 175L3 163L-6 141.1L-10.8 126L-14.3 105Z" fill="#e6696a"/>
<path d="M29.3 75L168.6 75L166.4 102L160.5 129L152.6 150L147 160.1L141 168.4L132.2 177L126 180.9L117 183.9L108 184.8L96 183.6L83 180L69.8 174L60 167.5L51.1 159L44.3 150L37.8 138L33.1 126L30 114L28.3 102L28.1 90Z" fill="#d4626a"/>
<use href="#grat"/>
<path d="M-314.2 432.2L-310.1 433.2L-306 434.5L-301.9 435.7L-302.6 435.5M-295.3 442.7L-291.6 444.6L-288 446.6L-284.3 448.6L-285 448.2M-276.1 454L-269.5 458L-267 459.5M-256.6 465.2L-250.5 468.7L-248.7 469.7M-236.7 475.7L-231.1 478.5L-230 479.1M-216.5 485.2L-211.4 487.6L-210.8 487.8M-196 493.6L-191.2 495.8L-191 495.9M-175.2 500.8L-170.8 503.2L-170.8 503.2M-154.1 507.3L-150.1 509.8L-150.3 509.6M-132.7 513.1L-129.1 515.5L-129.7 515.1M112.3 519.2L107.9 520.3L108.4 520.2M134 513L129.1 515.5L128.7 515.7M154.3 505.8L150.1 509.8L149.5 510.3M174.6 499L170.8 503.2L170.3 503.7M195.5 492L191.2 495.8L190.7 496.3M216.3 483.9L211.4 487.6L210.4 488.3M236.4 473.6L231.1 478.5L229.5 480M255.6 461.4L253.1 465L250.5 468.7L247.9 472.3L248.2 471.8M273.5 446.8L271.6 452.5L269.5 458L267.3 463.6L267 464.4M287.5 429.8L287.9 434L288.1 438.2L288.1 442.4L288 446.6L287.8 450.8L287.6 455L287.2 459.2L287.3 458.5M298.3 413.6L300.1 417.7L301.8 421.8L303.3 426L304.7 430.2L306 434.5L307.3 438.7L308.4 443L309.5 447.4L310.4 451.7L310.3 451.2M-305 415.9L-299.8 417L-294.6 418.4L-289.5 419.7L-289.2 419.8M-286.2 426.5L-281.8 428.3L-277.3 430.1L-272.8 431.9L-273 431.8M-267.3 437.6L-263.4 439.3L-259.5 441L-255.6 442.8L-256.2 442.5M-248.2 448.4L-241.2 451.3L-238.8 452.3M-229 458.4L-222.6 460.8L-220.8 461.4M-209.6 467.4L-203.5 469.5L-202.2 469.9M-189.8 475.4L-184.2 477.4L-183.2 477.8M-169.8 482.5L-164.5 484.5L-163.8 484.8M-149.4 488.8L-144.5 490.9L-144.2 491M-128.7 494.5L-124.3 496.4L-124.5 496.3M87.6 504L83.4 504.9L84 504.7M109.5 500.6L103.9 501L103.3 501.1M129.8 494.2L124.3 496.4L123.4 496.7M148.9 486.6L144.5 490.9L143.8 491.6M168.5 480.1L164.5 484.5L163.8 485.3M188.6 473.6L184.2 477.4L183.5 478M208.6 466.3L203.5 469.5L202.7 470M227.9 457.1L222.6 460.8L221.3 461.6M246.5 446.1L241.2 451.3L239.5 453M263.7 432.7L261.7 436.9L259.5 441L257.2 445.1L257.4 444.9M276.1 415.5L276.9 420.3L277.3 425.2L277.3 430.1L277.2 434.9L276.8 439.8L276.8 439.7M284.7 397.2L286.8 401.3L289 405.5L291 409.7L292.9 414L294.6 418.4L296.4 422.7L298 427.1L299.3 431.6L300.5 436.1L300.5 435.9M-295.3 400L-291.3 400.7L-287.3 401.5L-283.3 402.3L-279.3 403L-275.3 403.9L-276.2 403.7M-277.4 410.6L-272 412L-266.6 413.5L-261.2 415L-260.6 415.1M-259.2 421.1L-254.4 422.6L-249.5 424.1L-244.6 425.5L-244.5 425.5M-240.8 431.3L-236.4 432.6L-231.9 433.9L-227.5 435.2L-227.8 435.1M-222.3 440.8L-218.1 441.9L-214 443L-209.9 444.1L-210.5 443.9M-203.5 449.5L-195.7 451.4L-192.8 452.1M-184.4 457.3L-177.1 459L-174.6 459.6M-165 464.2L-158.1 465.9L-156.2 466.4M-145.3 470.3L-139 472L-137.4 472.4M-125.4 476.1L-119.5 477.3L-118.5 477.5M-104.9 482L-99.9 481.7L-99.9 481.7M85.3 485.3L80.1 485.4L79.9 485.4M106.4 481.8L99.9 481.7L98.4 481.7M125.6 475.2L119.5 477.3L118.2 477.7M143.9 467.4L139 472L137.7 473.1M162.9 460.8L158.1 465.9L156.8 467.4M182.2 454.6L177.1 459L175.7 460.2M201.3 447.8L195.7 451.4L194.3 452.3M219.8 439.6L214 443L212.5 443.9M237.4 429.6L231.9 433.9L230.4 435.1M253.5 417.9L249.5 424.1L248.2 426M264.8 402.2L266 407.8L266.6 413.5L267.2 419.2L267.2 420M272.9 382.4L275 386.4L277.1 390.3L279.2 394.3L281.3 398.3L283.3 402.3L285.3 406.2L287.3 410.3L289.1 414.4L290.8 418.5L290.6 418M-285.4 384L-280.9 384.7L-276.4 385.4L-272 386.1L-267.5 386.9L-263 387.7L-263.4 387.6M-268.8 394.3L-264.5 395.1L-260.2 396L-255.9 396.9L-251.7 397.9L-247.4 398.8L-248 398.6M-251.6 404.4L-247.6 405.3L-243.5 406.2L-239.5 407.1L-235.5 407.9L-231.4 408.7L-232.3 408.6M-233.9 414.3L-228.3 415.5L-222.6 416.5L-217 417.6L-216.3 417.7M-215.9 423.4L-210.7 424.4L-205.4 425.3L-200.2 426.2L-199.8 426.3M-197.6 431.8L-192.7 432.6L-187.9 433.3L-183 434.1L-183 434.1M-179 439.4L-174.5 440L-170 440.7L-165.5 441.3L-165.9 441.2M-160.1 446.1L-155.9 446.7L-151.8 447.2L-147.7 447.8L-148.5 447.7M-141 451.9L-133.4 453.1L-130.7 453.5M-121.9 457.4L-114.8 458.1L-112.5 458.4M-102.8 463.4L-95.9 462.5L-94 462.2M-83.4 469.1L-76.9 466L-75 465M-64 471.3L-57.8 468.7L-56.2 468.1M-44.5 471.3L-38.6 470.7L-37.6 470.6M-23.9 472.4L-19.3 471.9L-19.7 471.9M83.2 467.2L76.9 466L75.6 465.7M104 462.7L99.9 462.7L95.9 462.5L91.9 462.2L92.9 462.3M122.1 455.8L114.8 458.1L112.1 459M139.7 448.2L133.4 453.1L131.1 454.9M157.9 441.3L154.9 444.3L151.8 447.2L148.8 450.2L149.3 449.7M176.3 435L173.1 437.8L170 440.7L166.8 443.5L167.4 443M194.2 428.6L187.9 433.3L185.5 435.1M211.6 421.4L205.4 425.3L203.4 426.6M228.3 412.4L222.6 416.5L221 417.7M243.4 401.1L239.5 407.1L238.3 408.9M254.1 386.4L255.2 391.6L255.9 396.9L256.7 402.2L256.7 402.6M262.9 367.7L264.7 371.4L266.4 375.1L268.3 378.8L270.1 382.5L272 386.1L273.8 389.8L275.7 393.5L277.6 397.1L279.4 400.8L279 400M-275 367.7L-270.2 368.5L-265.4 369.3L-260.6 370L-255.8 370.8L-251 371.6L-251.2 371.6M-259.1 378L-254.5 378.8L-249.9 379.6L-245.3 380.4L-240.6 381.1L-236 381.8L-236.3 381.8M-242.2 388.3L-238 389L-233.7 389.6L-229.5 390.1L-225.3 390.6L-221 391L-221.7 391M-224.7 398L-219.1 398.6L-213.4 399.2L-207.7 399.7L-206.9 399.7M-207.1 406.6L-202 407.1L-196.9 407.5L-191.7 408L-191.5 408M-189.5 414.6L-184.8 415L-180 415.3L-175.3 415.6L-175.5 415.6M-171.7 421.9L-167.3 422.1L-162.9 422.3L-158.5 422.5L-159.1 422.4M-153.6 428.2L-149.5 428.4L-145.5 428.6L-141.4 428.8L-142.4 428.7M-135.2 433.6L-127.8 434.2L-125.4 434.3M-116.8 438.7L-110 439L-108.1 439.1M-98.3 444L-91.9 443.2L-90.5 443M-80.3 449.5L-73.7 446.6L-71.7 445.7M-62.5 452L-55.4 449.2L-52.9 448.2M-43.8 453L-37 451.1L-34.9 450.5M-23.9 454.7L-18.5 452.2L-17.6 451.8M-3.8 456.3L0 452.6L0.2 452.4M16.1 456.4L18.5 452.2L18.4 452.3M58.7 453.5L55.4 449.2L55.1 448.8M81.4 450.2L77.5 448.6L73.7 446.6L69.9 444.5L70.5 444.9M100.6 444.4L96.3 444L91.9 443.2L87.6 442.4L88.2 442.5M117.3 437.2L110 439L107.5 439.7M134.5 429.7L131.2 432L127.8 434.2L124.4 436.3L125.3 435.9M152.6 422.6L149.1 425.6L145.5 428.6L141.9 431.5L142.2 431.3M170 415.6L166.5 418.9L162.9 422.3L159.3 425.6L159.4 425.5M186.6 409.1L183.3 412.2L180 415.3L176.7 418.3L177.1 418M202.7 402.7L196.9 407.5L194.8 409.2M218.5 395.1L213.4 399.2L212.1 400.1M233 384.8L229.5 390.1L228.7 391.3M243.7 370.2L244.6 375.3L245.3 380.4L245.9 385.5L245.9 385.7M253.2 352.8L255 357.1L256.8 361.5L258.7 365.8L260.6 370L262.5 374.3L264.5 378.6L266.4 382.9L266.3 382.6M-264.2 351.3L-259.2 352.2L-254.3 353.1L-249.3 353.9L-244.3 354.8L-239.3 355.4L-239.2 355.4M-248.8 362.7L-244.1 363.2L-239.3 363.7L-234.6 363.8L-229.8 364L-225.1 363.9L-225.3 363.9M-231.4 373.7L-225.4 373.6L-219.5 373.1L-213.6 372.6L-212.7 372.5M-213.5 382.8L-208.8 382.4L-204.1 381.8L-199.4 381.2L-199.6 381.2M-196 390.5L-188.3 389.8L-185.5 389.6M-179.1 397.5L-172.2 397.2L-170.2 397.1M-162.5 404.1L-155.8 403.9L-154.1 403.8M-145.7 410.1L-139.2 409.9L-137.6 409.9M-128.6 415.4L-122.3 415.3L-120.9 415.2M-110.7 420.4L-105.2 419.9L-104.6 419.9M-92.2 425.2L-87.9 423.9L-88.4 424M-57 431.5L-53 429.6L-53.5 429.9M-39.6 433.3L-35.4 431.5L-35.7 431.6M-21.8 435.4L-17.7 432.5L-17.7 432.5M-3.8 437.2L0 432.9L0.5 432.4M15 438.2L17.7 432.5L18.3 431.4M36.1 438.6L35.4 431.5L35.2 429.3M58.9 438L55.9 433.9L53 429.6L50.1 425.4L50.1 425.3M79.6 433.7L74.9 430.6L70.5 427.1L66.1 423.6L65.7 423.2M96.4 426.3L92.1 425.3L87.9 423.9L83.7 422.4L84.2 422.7M113.4 418.8L109.3 419.5L105.2 419.9L101 420.3L101.9 420.3M131.7 411.4L127 413.5L122.3 415.3L117.5 417.1L117.4 417.1M149.1 403.4L144.2 406.8L139.2 409.9L134.1 413L133.2 413.5M164.3 395L161.6 398.1L158.8 401.1L155.8 403.9L152.8 406.7L149.7 409.4L150.4 408.9M178.8 388.3L175.6 392.8L172.2 397.2L168.8 401.6L168.4 402M193.6 382.6L191 386.2L188.3 389.8L185.6 393.4L185.9 393M208.6 376.5L204.1 381.8L202.8 383.3M222.5 368.1L219.5 373.1L219.1 373.9M233.4 355.1L234.1 359.5L234.6 363.8L235.1 368.2L235.1 367.6M243.4 338.6L244.8 342.5L246.2 346.3L247.7 350.1L249.3 353.9L250.8 357.7L252.3 361.6L253.8 365.4L253.5 364.6M-251.6 335.4L-247.1 336.5L-242.5 337.3L-237.9 337.8L-233.3 338.4L-228.7 338.4L-229 338.5M-237.5 348.9L-232.9 348.8L-228.4 348.3L-223.9 347.3L-219.5 346.3L-215.2 344.7L-215.5 344.9M-220.3 360.6L-214.7 358.7L-209.5 356.1L-204.3 353.6L-203.6 353.1M-202.3 368.2L-198.5 366.4L-194.8 364.4L-191.1 362.4L-191.7 362.8M-185.5 374.2L-179.7 372.1L-178.6 371.7M-169.5 380L-164.3 379.1L-164.1 379.1M-153.8 385.8L-148.7 385.5L-148.6 385.5M-138.1 391.4L-132.8 391.3L-132.5 391.3M-122 396.9L-116.7 396.4L-116.3 396.3M-105.2 402.4L-100.4 400.8L-100.4 400.8M-87.7 407.2L-83.9 404.6L-84.2 404.8M17.6 419.6L16.9 412.9L16.7 411M38.7 421.8L36.3 416.8L33.8 411.8L31.2 406.9L31 406.4M59.3 421.2L56.3 417.5L53.4 413.8L50.6 410.1L47.7 406.4L44.9 402.6L45.1 402.8M77.2 416.2L73.7 413.6L70.4 410.7L67.3 407.7L64.2 404.7L61.2 401.5L61.6 402M93.5 408.9L88.6 407L83.9 404.6L79.3 402.1L79 402M111 401.8L105.7 401.6L100.4 400.8L95.1 400L94.7 399.9M128 394L122.4 395.5L116.7 396.4L111 397.2L110.2 397.3M142.6 385.2L137.9 388.6L132.8 391.3L127.7 394L127 394.3M155.6 376.7L152.4 381.3L148.7 385.5L145 389.8L144.6 390.2M169.4 369.2L167 374.2L164.3 379.1L161.7 384L161.4 384.5M184.2 362.9L182 367.5L179.7 372.1L177.5 376.7L177.4 376.8M198.7 356.8L196.8 360.6L194.8 364.4L192.8 368.2L193.1 367.6M212.1 349.5L209.5 356.1L208.8 358.1M223.3 338.9L223.6 343.1L223.9 347.3L224.2 351.4L224.2 350.6M234.7 324.6L235.6 329L236.7 333.5L237.9 337.8L239.2 342.2L240.6 346.5L240.5 346.1M-233.6 323.7L-226.6 321.7L-224.4 321.1M-221.3 337.3L-216.9 334.4L-213.2 330.7L-209.6 327L-209.5 326.8M-206.8 347.8L-202.8 343.7L-199.5 339.2L-196.2 334.6L-195.9 334M-190.6 353L-185.5 347L-183.6 344.8M-175.6 357.1L-171.1 354.3L-170.9 354.2M-161.1 361.9L-156.5 361L-156.8 361.1M-146.4 367.2L-141.6 367.1L-141.8 367.1M-131.5 372.6L-126.5 372.6L-126.5 372.6M-116 378.3L-111.1 377.5L-111.2 377.5M-99.9 383.9L-95.6 381.7L-95.7 381.8M-83.7 388.7L-79.9 385.3L-79.8 385.2M-67.5 391.7L-64.1 388.2L-64.2 388.3M1.3 397.8L0 393.5L0.2 394M21.1 401.7L18.7 397.4L16.1 393.2L13.5 389L13.5 389M40.7 403.8L37.9 399.9L35.1 396L32.2 392.2L29.3 388.3L26.3 384.6L26.4 384.7M58.1 402.7L54.8 398.6L51.5 394.6L48.2 390.5L44.8 386.5L41.5 382.5L41.3 382.3M73.8 398.4L70.5 395.1L67.2 391.7L64.1 388.2L61 384.8L57.8 381.3L58 381.5M89.3 392.6L84.5 389.1L79.9 385.3L75.4 381.5L74.7 380.8M105 386.4L100.2 384.3L95.6 381.7L91.1 379.1L90.8 378.9M120.2 379.2L115.6 378.7L111.1 377.5L106.7 376.3L107 376.4M133.7 370.2L126.5 372.6L124.1 373.4M146.3 360L144.1 363.7L141.6 367.1L139.2 370.6L139.6 370M160.3 352L158.5 356.5L156.5 361L154.6 365.5L154.6 365.5M174.6 344.9L172.9 349.6L171.1 354.3L169.4 359L169.4 359.1M188.6 338.1L187.1 342.6L185.5 347L183.9 351.5L184 351.3M201.7 330.7L200.7 334.9L199.5 339.2L198.4 343.4L198.6 342.8M214.1 321.4L213.7 326.1L213.2 330.7L212.8 335.4L212.8 335.1M226.9 309.5L226.6 313.6L226.5 317.7L226.6 321.7L226.7 325.8L226.9 329.8L226.8 328.9M-204.4 323.8L-203.2 319L-202.6 314.2L-201.9 309.3L-201.9 309.4M-179 335.3L-176.2 329.7L-175.6 328.5M-124.8 354.1L-120.2 354L-120.5 354M-94.6 365.4L-90.8 362.6L-91 362.8M-63.4 372.7L-60.9 368.8L-61.1 369.1M5.4 380.6L2.8 377.2L0 373.8L-2.8 370.4L-2.4 370.9M41.9 384.6L39.1 381.5L36.3 378.5L33.5 375.5L30.5 372.5L27.6 369.6L24.7 366.7L21.7 363.9L22.3 364.5M71.3 379L67.9 375.5L64.4 372.2L60.9 368.8L57.4 365.5L53.8 362.2L53.9 362.3M99.4 368.9L95.1 365.8L90.8 362.6L86.6 359.4L86.3 359.2M125 354.9L120.2 354L120.2 354M152 336.2L148.7 343L147.6 345.2M179.8 319.7L178 324.7L176.2 329.7L174.4 334.6L174.3 334.9M205.9 303.3L204.1 308.7L202.6 314.2L201 319.6L200.8 320.3M-192.4 307L-192.1 302.3L-191.9 297.6L-191.6 292.9L-191.6 293.2M-57.2 353.9L-57.7 349.4L-57.6 349.8M-25.3 357.8L-28.9 352.9L-29.6 352.1M10.5 363.8L7 360.5L3.5 357.3L0 354.1L-3.5 350.9L-7.1 347.7L-6.9 347.9M42 364.4L38.8 361.5L35.5 358.6L32.2 355.8L28.9 352.9L25.6 350.1L22.3 347.3L19 344.4L19.5 344.9M69 358.6L65.3 355.5L61.5 352.4L57.7 349.4L53.9 346.3L50.1 343.2L50.2 343.3M93.1 349.3L89.6 346.4L86 343.5L82.5 340.6L82.8 340.8M116.7 338.6L113.8 335.3L114.2 335.8M171.2 304.4L169 308.3L166.9 312.3L164.8 316.2L165.1 315.8M197.8 286L195.7 289.9L193.8 293.7L191.9 297.6L190 301.5L188.3 305.5L188.5 304.8M-183 288.3L-181.2 281L-180.6 278.6M-76.8 329.4L-81.3 324.4L-82.4 323.1M-47.5 335.4L-50.9 332.6L-54.5 329.9L-58 327.2L-57.6 327.6M-17.4 339.9L-22.3 336.5L-27.3 333.3L-32.4 330.1L-33.2 329.6M13.6 345.4L10.2 342.6L6.9 339.8L3.5 337.1L0 334.4L-3.5 331.7L-7 329.1L-10.6 326.6L-10.1 326.9M40.3 344L37.1 341.3L33.8 338.6L30.6 335.9L27.3 333.3L24.1 330.6L20.8 328L17.5 325.4L18.1 325.9M65.3 338.4L61.7 335.6L58.1 332.8L54.5 329.9L50.9 327.1L47.2 324.3L47.6 324.6M87.9 328L81.3 324.4L79 323.1M114.2 318.8L107.5 316.7L105.5 316M140.1 304.5L133 306.8L130.6 307.6M165.8 287.4L161.8 291.2L157.6 294.9L153.5 298.6L153.1 298.9M189.9 269L187 273.1L184.1 277.1L181.2 281L178.3 285L175.3 289L175.3 289M-170.6 270.6L-170.5 264.5L-170.5 263.3M-121 292.3L-125.2 288.7L-125.5 288.5M-92.3 303.4L-96.7 300.7L-101.2 298L-105.6 295.3L-105.8 295.1M-63.6 312L-67.9 309.8L-72.2 307.5L-76.5 305.3L-80.7 303L-85 300.7L-84.9 300.8M-36.7 316.3L-41.6 314.4L-46.4 312.5L-51.3 310.5L-56.1 308.5L-60.9 306.5L-61.1 306.4M-9.9 321.1L-13.8 319L-17.7 317.1L-21.7 315.3L-25.7 313.6L-29.8 312L-33.8 310.4L-37.9 308.9L-37.4 309.2M15.7 324.9L11.9 322.2L8 319.5L4 317.1L0 314.7L-4 312.3L-8.2 310.1L-12.4 308L-12.1 308.2M39.7 323.2L36.3 320.7L32.8 318.3L29.3 315.9L25.7 313.6L22.2 311.4L18.5 309.1L14.9 307L15.5 307.4M64.3 317.5L59.9 315.2L55.6 312.8L51.3 310.5L46.9 308.1L42.6 305.8L42.6 305.8M88.5 306.7L84.5 306.3L80.5 305.9L76.5 305.3L72.5 304.7L68.5 303.9L69.4 304.1M114.7 296.7L110.2 297.3L105.7 297.7L101.2 298L96.6 298.3L92.1 298.5L92.5 298.5M138 283.7L133.8 285.6L129.5 287.3L125.2 288.7L120.8 290.2L116.4 291.4L116.7 291.3M159.9 269L156.2 272L152.3 274.9L148.3 277.5L144.4 280.2L140.3 282.7L140.4 282.6M180.5 252.5L177.3 256.6L174 260.6L170.5 264.5L167.1 268.4L163.5 272.1L163.3 272.2M-156.1 255.3L-158 251.6L-159.9 247.9L-161.7 244.3L-161.3 245M-132.5 267.2L-135.9 263.7L-139.1 260.2L-142.3 256.6L-142.1 256.7M-106 278.8L-109.9 276.2L-113.6 273.5L-117.3 270.7L-121 267.9L-124.7 265L-124.4 265.2M-78.7 288.2L-82.8 286.1L-86.9 283.9L-90.9 281.7L-94.8 279.3L-98.8 277L-102.7 274.6L-106.5 272.1L-106.2 272.3M-53.5 293.6L-58.1 291.9L-62.6 290.1L-67.2 288.2L-71.7 286.2L-76.2 284.2L-80.6 282.1L-85.1 279.9L-85 279.9M-29.7 297L-34.3 295.6L-38.9 294.1L-43.5 292.6L-48.1 291.1L-52.6 289.5L-57.2 287.9L-61.7 286.2L-61.6 286.3M-5.8 300.8L-10.3 298.9L-14.9 297.2L-19.5 295.6L-24.1 294L-28.7 292.5L-33.4 291L-38 289.5L-37.9 289.6M17.8 303L13.4 300.9L9 298.9L4.5 296.9L0 295L-4.5 293.1L-9 291.3L-13.6 289.6L-13.5 289.6M41.5 301.8L37.2 299.7L32.9 297.8L28.5 295.9L24.1 294L19.7 292.2L15.3 290.4L10.9 288.6L11.1 288.7M64.7 296.3L60.5 295.1L56.3 293.8L52.2 292.5L48.1 291.1L43.9 289.6L39.8 288.2L35.7 286.8L36.2 287M87.9 287.3L83.8 287.2L79.8 287L75.7 286.7L71.7 286.2L67.6 285.7L63.6 285L59.6 284.3L60.5 284.5M110.5 277.5L105.3 278.4L100.1 279L94.8 279.3L89.6 279.7L84.3 279.8L84 279.8M130.8 265.9L126.4 267.7L121.9 269.3L117.3 270.7L112.8 272L108.2 273.2L108.4 273.2M150.5 252.9L146.8 255.5L143 257.9L139.1 260.2L135.1 262.4L131.1 264.5L131.5 264.3M169.2 237.9L166.2 241.4L163.1 244.7L159.9 247.9L156.6 251.1L153.2 254.2L153.5 253.9M-141.2 241.8L-144 238.4L-146.6 234.9L-149.2 231.4L-151.8 227.8L-154.2 224.2L-153.9 224.7M-117.4 254.5L-120.6 251.7L-123.8 248.8L-126.8 245.8L-129.8 242.8L-132.7 239.7L-135.6 236.6L-138.4 233.4L-137.9 234M-92.2 265L-95.8 262.7L-99.3 260.3L-102.7 257.8L-106.2 255.2L-109.5 252.6L-112.8 249.9L-116.1 247.2L-119.3 244.4L-122.5 241.5L-121.9 242M-68 271L-72.2 269.2L-76.4 267.3L-80.5 265.2L-84.5 263L-88.5 260.7L-92.5 258.4L-96.3 255.9L-100.2 253.4L-103.9 250.7L-103.6 250.9M-46.6 274.4L-50.7 273L-54.8 271.6L-58.9 270.2L-62.9 268.7L-66.9 267L-70.9 265.4L-74.9 263.8L-78.8 262L-82.7 260.1L-82.1 260.4M-25.5 277.4L-29.4 276.3L-33.3 275.1L-37.1 274L-41 272.8L-44.8 271.6L-48.7 270.4L-52.5 269.2L-56.4 268L-60.2 266.7L-59.3 267M-3.3 280.7L-7.1 279.3L-11 278.1L-14.8 276.8L-18.6 275.6L-22.5 274.4L-26.4 273.2L-30.2 272L-34.1 270.9L-38 269.7L-37.1 270M20.2 282.4L16.2 281L12.1 279.6L8.1 278.1L4 276.7L0 275.3L-4 273.9L-8.1 272.5L-12.1 271.1L-16.2 269.8L-15.5 270M42.7 280.4L38.6 279.2L34.6 278L30.6 276.8L26.5 275.6L22.5 274.4L18.5 273.1L14.5 271.9L10.5 270.6L6.5 269.3L7.2 269.5M63.5 275.7L58.8 274.8L54.1 273.8L49.5 272.7L44.8 271.6L40.2 270.5L35.6 269.4L30.9 268.2L31.1 268.2M84 268.6L79.7 268.4L75.4 268.1L71.2 267.6L66.9 267L62.6 266.5L58.4 265.8L54.2 265.1L54.8 265.2M103.5 259.5L98.5 260.1L93.5 260.5L88.5 260.7L83.5 260.9L78.5 260.8L78.4 260.8M122.4 248.7L118.1 250.2L113.8 251.5L109.5 252.6L105.2 253.7L100.8 254.6L101.3 254.5M140.9 236.5L137.3 238.8L133.6 240.9L129.8 242.8L126 244.7L122.1 246.5L122.8 246.2M158.4 222.6L155.5 225.7L152.4 228.6L149.2 231.4L146 234.2L142.6 236.8L143.2 236.4M-127.7 229.7L-130.5 226.1L-133.3 222.4L-135.9 218.6L-138.5 214.8L-141.1 211L-143.5 207.1L-146 203.2L-145.8 203.5M-104.1 242.1L-107.6 239L-111 235.8L-114.3 232.4L-117.5 229L-120.5 225.4L-123.5 221.9L-126.4 218.2L-129.2 214.4L-131.8 210.6L-131.7 210.8M-80.3 249.6L-84.1 247.4L-87.8 245.1L-91.4 242.6L-94.9 240.1L-98.3 237.3L-101.7 234.5L-105 231.7L-108.2 228.7L-111.3 225.6L-114.3 222.5L-117.1 219.1L-116.7 219.6M-59.9 252.1L-63.8 250.7L-67.5 249.2L-71.3 247.6L-75 245.9L-78.6 244L-82.2 242L-85.7 240L-89.2 237.9L-92.6 235.6L-95.9 233.2L-99.1 230.7L-98.4 231.3M-41.5 254.5L-45.6 253.3L-49.8 252L-53.9 250.7L-58 249.4L-62.1 247.9L-66.2 246.5L-70.2 244.9L-74.2 243.3L-78.2 241.4L-77.6 241.7M-21.7 257.9L-25.7 256.8L-29.7 255.6L-33.7 254.5L-37.7 253.3L-41.6 252.2L-45.6 251L-49.6 249.9L-53.6 248.7L-57.5 247.5L-56.7 247.7M-0.3 261.4L-4.4 260L-8.5 258.6L-12.6 257.3L-16.8 256L-20.9 254.7L-25 253.5L-29.2 252.2L-33.3 251L-37.5 249.8L-36.9 250M21.5 262.4L17.2 261.1L12.9 259.8L8.6 258.4L4.3 257L0 255.6L-4.3 254.2L-8.6 252.8L-12.8 251.4L-17.1 250L-16.7 250.1M41 259.8L37 258.8L32.9 257.9L28.9 256.9L24.9 255.8L20.9 254.7L16.9 253.7L12.9 252.5L8.9 251.3L5 250.1L5.7 250.3M60 255.7L55.4 254.9L50.8 254L46.2 253.1L41.6 252.2L37.1 251.2L32.5 250.3L28 249.2L28.3 249.3M78.6 249.5L74.5 249.3L70.3 248.9L66.2 248.5L62.1 247.9L58 247.4L53.9 246.8L49.8 246.2L50.6 246.3M96.6 241.2L91.8 241.7L87 242L82.2 242L77.3 242.1L72.5 242L72.7 242M114.4 231.3L110.2 232.6L106 233.6L101.7 234.5L97.4 235.4L93 236.1L93.6 236M131.6 219.8L128 221.9L124.3 223.7L120.5 225.4L116.7 227.1L112.8 228.6L113.6 228.4M147.6 206.9L144.7 209.7L141.7 212.3L138.5 214.8L135.3 217.3L132 219.6L132.9 219.1M-114.7 218.5L-117.1 215.3L-119.4 212L-121.7 208.6L-123.8 205.2L-125.8 201.8L-127.8 198.3L-129.8 194.8L-131.8 191.2L-133.7 187.7L-135.6 184.1L-137.5 180.6L-137 181.4M-91.5 229.2L-94.7 226.5L-97.8 223.8L-100.7 220.9L-103.5 217.8L-106.2 214.7L-108.8 211.4L-111.2 208L-113.6 204.7L-115.9 201.2L-118.1 197.7L-120.2 194.1L-122.2 190.5L-124.1 186.8L-123.7 187.6M-70.6 232.1L-74.2 230.3L-77.8 228.4L-81.2 226.3L-84.5 224.1L-87.8 221.7L-90.9 219.1L-93.8 216.4L-96.8 213.7L-99.6 210.9L-102.3 207.9L-104.8 204.8L-107.2 201.5L-109.5 198.2L-109 199M-54.1 232.5L-58.6 231L-63 229.4L-67.4 227.6L-71.7 225.6L-75.8 223.4L-80 221.2L-84 218.7L-87.9 216L-91.6 213.1L-91.4 213.2M-37.2 235.1L-41.2 233.9L-45.3 232.7L-49.3 231.4L-53.3 230.2L-57.3 228.8L-61.3 227.5L-65.3 226.1L-69.2 224.5L-73.1 222.8L-72.4 223.2M-18.6 239L-22.6 237.7L-26.5 236.4L-30.5 235.2L-34.5 234L-38.4 232.7L-42.4 231.5L-46.4 230.3L-50.4 229.1L-54.3 227.9L-53.5 228.2M1.3 242.1L-2.8 240.7L-6.9 239.3L-11.1 237.9L-15.2 236.5L-19.3 235.1L-23.4 233.7L-27.5 232.3L-31.6 230.9L-35.8 229.6L-35.2 229.8M20.7 242.1L16.5 241L12.3 239.8L8.2 238.6L4.1 237.3L0 235.9L-4.1 234.5L-8.2 233.1L-12.3 231.7L-16.3 230.2L-15.7 230.4M38.3 239.5L33.6 238.5L28.8 237.5L24 236.3L19.3 235.1L14.5 233.9L9.8 232.6L5.1 231.2L5.2 231.2M55.9 235.7L51.5 235.1L47.1 234.3L42.8 233.6L38.4 232.7L34.1 231.9L29.7 231.1L25.4 230.1L26 230.2M73.1 230.2L67.8 229.9L62.6 229.4L57.3 228.8L52.1 228.2L46.9 227.5L46.6 227.5M89.8 222.9L85.2 223.2L80.5 223.4L75.8 223.4L71.2 223.4L66.5 223.2L66.8 223.3M106.3 214L102.2 215L98 215.8L93.8 216.4L89.7 217.1L85.5 217.6L86.2 217.5M122.2 203.6L116.8 206L111.2 208L105.6 210L104.7 210.3M136.6 191.4L132.4 195L127.8 198.3L123.3 201.5L122.8 201.8M-102.7 206.8L-105.1 203.4L-107.4 200L-109.5 196.4L-111.6 192.8L-113.5 189.1L-115.4 185.4L-117.2 181.7L-119 178L-120.7 174.2L-122.5 170.5L-124.4 166.8L-126.3 163.1L-128.3 159.5L-127.9 160.2M-83.4 212.7L-86.6 210.1L-89.6 207.2L-92.4 204.2L-95 201L-97.5 197.7L-99.8 194.2L-101.9 190.7L-104.1 187.1L-106.1 183.5L-107.9 179.8L-109.7 176.1L-111.5 172.3L-113.2 168.5L-112.8 169.3M-65.6 213.2L-69.4 211.3L-73 209.2L-76.5 206.8L-79.9 204.2L-83 201.4L-86 198.4L-88.9 195.3L-91.7 192.1L-94.2 188.7L-96.5 185.1L-98.6 181.5L-98.3 182.1M-51.9 213L-56.5 211.2L-60.9 209.3L-65.3 207.1L-69.5 204.7L-73.7 202.3L-77.7 199.6L-81.5 196.6L-81.4 196.6M-36.3 216L-40.4 214.4L-44.4 212.9L-48.5 211.3L-52.5 209.7L-56.6 208.1L-60.6 206.5L-64.5 204.7L-64 205M-18.8 220.3L-22.9 218.6L-27 216.8L-31.1 215L-35.2 213.3L-39.3 211.6L-43.5 209.9L-47.6 208.2L-47.2 208.4M0.3 223.3L-4.3 221.5L-8.8 219.6L-13.2 217.6L-17.7 215.5L-22.1 213.4L-26.5 211.3L-30.9 209.1L-30.9 209.1M18.6 222.6L13.9 221.2L9.2 219.7L4.6 218.1L0 216.2L-4.6 214.3L-9.1 212.3L-13.5 210.2L-13.5 210.2M35.2 219.6L30.8 218.7L26.4 217.8L22 216.7L17.7 215.5L13.3 214.3L9 212.9L4.7 211.4L5.2 211.6M51.2 216L47.2 215.4L43.2 214.8L39.2 214.1L35.2 213.3L31.2 212.6L27.3 211.7L23.3 210.8L24.2 211.1M66.8 211.2L62 210.8L57.3 210.3L52.5 209.7L47.8 209.1L43.1 208.5L43.3 208.5M82 204.9L77.8 205L73.7 204.9L69.5 204.7L65.3 204.6L61.2 204.3L62 204.4M96.9 197.4L91.5 198L86 198.4L80.5 198.7L80 198.7M111.1 188.4L106.5 189.7L101.9 190.7L97.3 191.7L97.6 191.6M123.8 177.9L117.2 181.7L114.8 183M-93.6 191.1L-95.8 187.6L-97.8 184L-99.7 180.3L-101.5 176.5L-103.2 172.7L-104.8 169L-106.5 165.1L-108.1 161.3L-109.8 157.6L-111.5 153.8L-113.3 150L-115.1 146.3L-117.1 142.7L-116.7 143.4M-77.1 196.3L-80.4 193L-83.3 189.4L-86 185.6L-88.4 181.6L-90.6 177.5L-92.6 173.3L-94.6 169.1L-96.5 164.8L-98.3 160.5L-100 156.2L-101.8 151.9L-101.6 152.2M-65.5 193.8L-69.1 190.9L-72.4 187.6L-75.5 184.1L-78.2 180.3L-80.9 176.5L-83.3 172.5L-85.4 168.4L-85.3 168.7M-52.2 193.9L-56 191.5L-59.7 188.9L-63.2 186.1L-66.6 183.2L-69.8 180.1L-69.5 180.5M-36.5 197.6L-40.3 195.3L-44 193L-47.7 190.6L-51.5 188.2L-55.1 185.7L-54.6 186.1M-19 202.6L-23.4 199.8L-27.7 196.9L-32 193.9L-36.3 190.9L-40.6 187.9L-40.8 187.7M-0.8 205.5L-4.8 203.3L-8.6 201L-12.4 198.5L-16.1 195.8L-19.7 193.2L-23.4 190.5L-26.9 187.7L-26.5 188M15.8 204.2L11.7 202.6L7.7 200.8L3.8 198.8L0 196.5L-3.8 194.2L-7.5 191.8L-11 189.2L-10.6 189.5M30.4 200.8L25.5 199.4L20.7 197.7L16.1 195.8L11.4 193.9L6.9 191.7L6.8 191.7M44.6 197.1L40.4 196.1L36.2 195.1L32 193.9L27.9 192.7L23.7 191.3L24.4 191.6M58.8 192.9L53.3 191.8L47.7 190.6L42.2 189.4L41.6 189.2M72.9 187.5L68 186.9L63.2 186.1L58.3 185.3L58.4 185.3M86.4 180.9L82.3 180.7L78.2 180.3L74 179.9L74.9 180M99.1 173.1L92.6 173.3L91.1 173.3M110.9 163.5L106.5 165.1L106.8 165M-91.1 171.2L-92.7 167.4L-94.3 163.6L-95.8 159.8L-97.2 156L-98.7 152.1L-100.2 148.3L-101.8 144.5L-103.4 140.8L-105 137L-106.7 133.3L-108.4 129.5L-110.2 125.9L-112.1 122.2L-111.7 123M-74.9 175L-76.9 171.3L-78.7 167.5L-80.4 163.7L-81.9 159.8L-83.3 155.9L-84.8 152L-86.1 148.1L-87.5 144.1L-88.8 140.1L-88.5 140.9M-56.5 175.1L-59.1 171.9L-61.5 168.5L-63.6 165L-65.8 161.4L-67.7 157.7L-67.3 158.5M-33.7 180.9L-36.9 177.8L-40 174.7L-43 171.5L-45.9 168.3L-48.8 164.9L-48.5 165.4M-9.8 186.9L-12.9 184.2L-15.9 181.3L-18.8 178.4L-21.6 175.5L-24.5 172.5L-27.3 169.5L-30 166.4L-29.5 167.1M11.4 186.3L7.4 183.4L3.6 180.2L0 176.8L-3.6 173.4L-7 169.8L-7 169.8M30.9 181.1L26.2 178.5L21.6 175.5L17.1 172.5L16.8 172.2M50.8 175L46.8 173.4L43 171.5L39.1 169.6L39.7 170M69.9 167.4L63.6 165L62 164.3M87.7 157L83.3 155.9L83.8 156M-83.4 149.7L-84.8 145.5L-86.2 141.2L-87.6 136.9L-89 132.7L-90.5 128.4L-91.9 124.2L-93.5 120L-95.1 115.8L-96.7 111.6L-96.5 112.1M-68.4 154.4L-70 150.4L-71.4 146.5L-72.7 142.5L-74.1 138.5L-75.4 134.6L-76.6 130.6L-77.9 126.6L-77.7 127.3M-49.9 158.5L-52.3 154.6L-54.5 150.6L-56.5 146.6L-58.6 142.5L-60.5 138.4L-60.4 138.8M-29.1 164.4L-32.2 160.5L-35.3 156.5L-38.2 152.4L-41.1 148.3L-43.8 144.1L-43.9 144M-9.3 168.1L-12.7 164.1L-16 160L-19.2 155.9L-22.5 151.8L-25.7 147.6L-25.8 147.4M8.7 167.1L5.8 163.8L2.8 160.5L0 157.1L-2.8 153.7L-5.6 150.3L-5.3 150.7M26.2 162.8L22.7 159.4L19.2 155.9L15.8 152.4L15.9 152.5M43.7 157.2L38.2 152.4L36.4 150.9M60.9 150L56.5 146.6L56.1 146.2M-73.1 129.9L-74.5 125.5L-76 121.1L-77.5 116.7L-79.1 112.3L-80.7 108L-82.3 103.6L-84 99.3L-83.9 99.6M-58.7 136.5L-60.3 132.7L-61.8 128.9L-63.3 125L-64.8 121.2L-66.2 117.3L-67.7 113.5L-69.1 109.6L-68.8 110.4M-42 142.3L-44.7 137.7L-47.1 133L-49.4 128.2L-51.8 123.4L-54 118.6L-54.1 118.3M-24.6 146.9L-26.9 143.6L-29.2 140.2L-31.3 136.8L-33.4 133.3L-35.5 129.8L-37.4 126.2L-39.3 122.7L-38.9 123.5M-8.2 148.6L-11.1 144.6L-14 140.5L-16.8 136.4L-19.6 132.2L-22.3 128L-22.3 128M7.2 147L3.5 142.2L0 137.4L-3.5 132.6L-4.1 131.7M22.4 143.4L19.5 139.9L16.8 136.4L14.1 132.8L14.4 133.2M37.6 138.6L33.4 133.3L32.3 131.8M52.7 132.3L49.4 128.2L49.3 128M-48.9 119.5L-50.6 115.6L-52.2 111.7L-53.9 107.7L-55.5 103.8L-57.1 99.9L-58.7 95.9L-60.3 92L-60 92.6M-30.6 126.4L-32.5 122.7L-34.4 119L-36.1 115.3L-37.8 111.5L-39.5 107.7L-41.2 103.8L-42.8 100L-42.5 100.7M-12.3 129L-14.7 124.8L-17 120.5L-19.2 116.1L-21.3 111.8L-23.3 107.3L-23.3 107.5M5.2 127.1L2.5 122.5L0 117.7L-2.5 112.9L-2.7 112.6M22.8 122.9L19.2 116.1L17.9 113.7M40.5 116.6L37.8 111.5L37.5 110.8" fill="none" stroke="#fff" stroke-width="1.9" stroke-linecap="butt" stroke-linejoin="round"/>
<path d="M-297.9 437.1L-307 438L-302.6 435.5L-304.4 430.7ZM-280.7 450.7L-289.9 450L-285 448.2L-286 443.2ZM-262.8 462L-271.9 461.1L-267 459.5L-267.9 454.4ZM-244.4 472.1L-253.5 471.4L-248.7 469.7L-249.7 464.6ZM-225.6 481.3L-234.7 481.1L-230 479.1L-231.2 474.1ZM-206.2 489.9L-215.4 490L-210.8 487.8L-212.2 482.9ZM-186.5 498L-195.7 498L-191 495.9L-192.3 491ZM-166.4 505.5L-175.6 505.1L-170.8 503.2L-171.9 498.2ZM-146.1 512.2L-155.2 511.2L-150.3 509.6L-151.1 504.5ZM-125.5 517.9L-134.6 516.5L-129.7 515.1L-130.3 510ZM-105 522.3L-114 521L-109.1 519.5L-109.8 514.5ZM-84.4 525.6L-93.5 524.7L-88.7 523L-89.5 518ZM-63 528.9L-72 527.1L-67 525.9L-67.4 520.8ZM-43.5 532.1L-47.1 523.7L-43.3 527.1L-39.3 524ZM-21.8 533.5L-25.4 525L-21.6 528.5L-17.6 525.3ZM-0.1 534.2L-3.8 525.8L0 529.2L4 526ZM21.6 534.1L18.1 525.6L21.8 529.2L25.9 526ZM42.7 532.3L41.1 523.3L44 527.5L48.6 525.3ZM63.3 529.4L65.8 520.5L66.6 525.6L71.7 525.6ZM83.7 525.5L89.7 518.7L88.2 523.6L92.8 525.9ZM103.6 521.4L110.7 515.6L108.4 520.2L112.6 523.2ZM124.3 517.9L129.9 510.7L128.7 515.7L133.4 517.7ZM145.9 513.7L149.3 505.2L149.5 510.3L154.6 510.9ZM167 507.4L169.6 498.7L170.3 503.7L175.4 503.9ZM187 499.6L190.6 491.1L190.7 496.3L195.8 496.9ZM206.4 491.3L210.7 483.2L210.4 488.3L215.4 489.4ZM225.9 483.4L229.3 474.9L229.5 480L234.6 480.6ZM245.2 475.8L247.1 466.8L248.2 471.8L253.3 471.5ZM265 469L264.7 459.9L267 464.4L271.8 462.9ZM286.7 463.4L283.8 454.7L287.3 458.5L291.5 455.6ZM311.2 456.1L305.8 448.7L310.3 451.2L313.5 447.2ZM-284.4 421.2L-293.4 422.6L-289.2 419.8L-291.3 415.1ZM-268.4 433.7L-277.5 434.1L-273 431.8L-274.6 426.9ZM-251.6 444.4L-260.8 444.7L-256.2 442.5L-257.7 437.6ZM-234.2 454.2L-243.4 454.6L-238.8 452.3L-240.4 447.4ZM-216.1 463.2L-225.3 463.9L-220.8 461.4L-222.5 456.6ZM-197.5 471.6L-206.6 472.5L-202.2 469.9L-204.1 465.2ZM-178.5 479.4L-187.6 480.3L-183.2 477.8L-185 473ZM-159.2 486.6L-168.3 487.3L-163.8 484.8L-165.5 480ZM-139.7 492.9L-148.8 493.3L-144.2 491L-145.8 486.1ZM-120 498.2L-129.1 498.6L-124.5 496.3L-126.1 491.4ZM-100.4 502.1L-109.5 503.4L-105.2 500.6L-107.3 496ZM-80.9 504.8L-89 509L-85.8 505L-89.3 501.2ZM-60.8 506.2L-64.4 514.6L-64.5 509.5L-69.6 508.8ZM-40.6 512.2L-48 506.8L-43 507.8L-41.2 503ZM-19.6 513.4L-27.3 508.3L-22.2 509.2L-20.6 504.3ZM0.9 514L-5.7 507.7L-0.9 509.4L1.6 504.9ZM20.7 513.9L17.5 505.3L21.1 508.9L25.3 505.9ZM40.3 512.3L41.6 503.2L43.1 508.1L48.1 507.5ZM59.9 509.5L65.1 501.9L64.2 507L69 508.7ZM79.2 505.7L86.5 500.3L84 504.7L88.1 507.9ZM98.3 501.5L106.3 496.9L103.3 501.1L106.9 504.7ZM118.8 498.6L125.1 491.9L123.4 496.7L128 499.1ZM140.2 495.1L143.4 486.5L143.8 491.6L148.8 492.1ZM160.5 489L163.1 480.2L163.8 485.3L168.9 485.4ZM179.7 481.2L183.5 472.9L183.5 478L188.6 478.8ZM198.5 472.7L203.4 465L202.7 470L207.6 471.5ZM217.2 464.4L221.8 456.5L221.3 461.6L226.2 463ZM235.9 456.5L239.1 447.9L239.5 453L244.6 453.5ZM254.8 449.1L255.8 440L257.4 444.9L262.4 444.1ZM276.1 444.6L273.5 435.8L276.8 439.7L281.2 437ZM301.6 440.7L295.9 433.5L300.5 435.9L303.5 431.8ZM-271.3 404.7L-280.3 406.8L-276.2 403.7L-278.6 399.2ZM-255.8 416.5L-264.9 418L-260.6 415.1L-262.8 410.5ZM-239.7 426.9L-248.8 428.4L-244.5 425.5L-246.6 420.9ZM-223 436.4L-232 438L-227.8 435.1L-230 430.4ZM-205.7 445.2L-214.7 446.9L-210.5 443.9L-212.8 439.3ZM-187.9 453.3L-196.9 455.1L-192.8 452.1L-195.1 447.5ZM-169.8 460.7L-178.7 462.6L-174.6 459.6L-177 455.1ZM-151.3 467.5L-160.3 469.4L-156.2 466.4L-158.5 461.8ZM-132.6 473.6L-141.6 475.3L-137.4 472.4L-139.7 467.8ZM-113.7 478.5L-122.6 480.6L-118.5 477.5L-121 473ZM-94.9 481.5L-103 485.8L-99.9 481.7L-103.4 478ZM-76.6 483.6L-82.2 490.9L-81 485.9L-85.8 484ZM-57.7 486.9L-63 494.4L-62 489.3L-66.8 487.6ZM-37.4 490.9L-46.3 493.2L-42.3 490L-44.8 485.5ZM-17.3 492.8L-26.5 493.1L-21.9 490.8L-23.4 485.9ZM2.3 492.9L-6.8 493.5L-2.3 491.1L-3.9 486.2ZM19.1 493.9L18.8 484.7L21.1 489.3L26 487.8ZM38 491.6L43.2 484.1L42.3 489.1L47.1 490.8ZM56.7 489.3L63.7 483.3L61.5 488L65.7 490.9ZM75 485.6L83.1 481.4L79.9 485.4L83.4 489.2ZM93.4 481.7L101.7 477.8L98.4 481.7L101.7 485.6ZM113.5 479.3L120.1 472.9L118.2 477.7L122.6 480.3ZM134 476.5L137.5 468L137.7 473.1L142.8 473.8ZM153.4 471L156.2 462.3L156.8 467.4L161.9 467.6ZM171.9 463.5L175.6 455.1L175.7 460.2L180.8 461ZM190.1 455L195 447.2L194.3 452.3L199.2 453.8ZM208.2 446.4L213.4 438.9L212.5 443.9L217.3 445.6ZM226.5 438.2L230.6 430L230.4 435.1L235.4 436.1ZM245.4 430.2L246.8 421.1L248.2 426L253.3 425.4ZM267.2 425L263.3 416.7L267.2 420L271.1 416.7ZM292.4 422.7L285.8 416.2L290.6 418L293.2 413.5ZM-258.5 388.5L-267.4 390.8L-263.4 387.6L-266 383.2ZM-243.1 399.7L-252 401.8L-248 398.6L-250.4 394.1ZM-227.4 409.5L-236.2 411.8L-232.3 408.6L-234.8 404.1ZM-211.4 418.6L-220.2 421L-216.3 417.7L-218.8 413.3ZM-194.9 427.1L-203.7 429.6L-199.8 426.3L-202.5 421.9ZM-178.1 434.8L-186.9 437.5L-183 434.1L-185.8 429.7ZM-161 441.8L-169.7 444.7L-165.9 441.2L-168.7 436.9ZM-143.6 448.4L-152.3 451.1L-148.5 447.7L-151.2 443.4ZM-125.8 454.2L-134.6 456.8L-130.7 453.5L-133.4 449.1ZM-107.6 458.9L-116.2 461.9L-112.5 458.4L-115.5 454.2ZM-89 461.5L-96.7 466.5L-94 462.2L-97.8 458.8ZM-70.5 462.9L-76.2 470L-75 465L-79.7 463ZM-51.6 466.2L-57.8 473L-56.2 468.1L-60.8 465.8ZM-32.6 470.2L-40.5 474.8L-37.6 470.6L-41.3 467.1ZM-14.8 471.4L-22.5 476.2L-19.7 471.9L-23.4 468.5ZM2.4 470.8L-2.6 478.5L-1.8 473.4L-6.7 471.8ZM19.8 469.4L22.1 478.3L18.9 474.3L14.4 476.9ZM36.4 469.6L45.5 469.9L40.8 471.9L41.9 476.9ZM54.4 468.1L63.3 465.9L59.3 469L61.8 473.5ZM70.7 464.8L79.6 462.5L75.6 465.7L78.1 470.2ZM87.9 461.8L96.6 458.8L92.9 462.3L95.7 466.6ZM107.4 460.4L114.2 454.2L112.1 459L116.5 461.7ZM127.1 458L131.3 449.8L131.1 454.9L136.1 455.9ZM145.7 453.1L149 444.6L149.3 449.7L154.4 450.2ZM163.8 446.3L167.2 437.8L167.4 443L172.5 443.6ZM181.5 438L185.8 430L185.5 435.1L190.5 436.3ZM199.2 429.2L204.1 421.5L203.4 426.6L208.3 428.1ZM217 420.7L221.3 412.6L221 417.7L226 418.9ZM235.6 413L236.9 403.9L238.3 408.9L243.4 408.2ZM257.1 407.6L252.6 399.6L256.7 402.6L260.4 399ZM281.2 404.5L274.1 398.8L279 400L281.1 395.3ZM-246.3 372.4L-255.1 374.9L-251.2 371.6L-253.8 367.2ZM-231.4 382.4L-240.1 385.2L-236.3 381.8L-239.1 377.5ZM-216.8 391.4L-225.3 394.6L-221.7 391L-224.7 386.8ZM-202 400.1L-210.5 403.4L-206.9 399.7L-209.9 395.6ZM-186.6 408.3L-195.1 411.7L-191.5 408L-194.6 403.9ZM-170.5 415.8L-179 419.3L-175.5 415.6L-178.6 411.5ZM-154.1 422.6L-162.5 426.2L-159.1 422.4L-162.3 418.4ZM-137.4 428.9L-145.9 432.5L-142.4 428.7L-145.5 424.7ZM-120.4 434.7L-129 438L-125.4 434.3L-128.4 430.2ZM-103.2 439.4L-111.7 442.8L-108.1 439.1L-111.2 435.1ZM-85.5 442.3L-93.3 447.3L-90.5 443L-94.3 439.5ZM-67.2 443.7L-73.2 450.6L-71.7 445.7L-76.3 443.5ZM-48.3 446.3L-54.5 453.1L-52.9 448.2L-57.5 445.8ZM-30.1 449.1L-37 455.2L-34.9 450.5L-39.2 447.7ZM-13.1 449.7L-19 456.7L-17.6 451.8L-22.2 449.6ZM3.8 448.9L0.6 457.5L0.2 452.4L-4.9 451.9ZM20.9 448L20.2 457.2L18.4 452.3L13.4 453.2ZM37.7 447.2L40.1 456L36.8 452.1L32.4 454.7ZM52.1 444.9L60.2 449.1L55.1 448.8L54 453.8ZM66.4 442.2L75.5 443.5L70.5 444.9L71.1 450ZM83.4 441.2L92.4 439.7L88.2 442.5L90.3 447.2ZM102.6 440.8L109.8 435.1L107.5 439.7L111.6 442.6ZM121 438.4L126.2 430.8L125.3 435.9L130.1 437.5ZM138.3 434.5L142.3 426.2L142.2 431.3L147.2 432.2ZM155.7 428.9L159.2 420.4L159.4 425.5L164.4 426.2ZM173.4 421.4L176.9 412.9L177.1 418L182.2 418.6ZM191 412.4L194.9 404.1L194.8 409.2L199.9 410.1ZM208.2 403.2L212.3 395L212.1 400.1L217.1 401.1ZM226 395.4L227.3 386.4L228.7 391.3L233.8 390.6ZM246.2 390.6L241.8 382.6L245.9 385.7L249.6 382.1ZM268.4 387.1L261.4 381.2L266.3 382.6L268.4 377.9ZM-234.2 355.8L-242.8 359L-239.2 355.4L-242.2 351.3ZM-220.4 363.5L-228.3 368.1L-225.3 363.9L-229 360.3ZM-207.7 371.7L-215.3 376.8L-212.7 372.5L-216.6 369.1ZM-194.7 380.4L-202.3 385.6L-199.6 381.2L-203.6 377.9ZM-180.6 389.1L-188.5 393.7L-185.5 389.6L-189.2 386ZM-165.3 396.8L-173.4 401.1L-170.2 397.1L-173.8 393.4ZM-149.1 403.7L-157.3 407.8L-154.1 403.8L-157.6 400.1ZM-132.6 409.8L-140.8 413.9L-137.6 409.9L-141 406.1ZM-116 415.2L-124.2 419.2L-120.9 415.2L-124.3 411.4ZM-99.6 419.5L-107.6 424L-104.6 419.9L-108.2 416.3ZM-83.6 422.6L-90.4 428.7L-88.4 424L-92.7 421.3ZM-66.9 425.1L-72.3 432.5L-71.3 427.5L-76 425.7ZM-49 427.8L-54.9 434.8L-53.5 429.9L-58.2 427.7ZM-31.1 429.6L-37.2 436.5L-35.7 431.6L-40.3 429.3ZM-13.6 429.6L-18.1 437.6L-17.7 432.5L-22.6 431.2ZM3.8 428.6L1.2 437.4L0.5 432.4L-4.6 432.3ZM20.4 426.9L20.3 436.1L18.3 431.4L13.3 432.7ZM34.7 424.3L39.4 432.2L35.2 429.3L31.6 432.9ZM47.4 421.1L55.1 425.9L50.1 425.3L48.6 430.2ZM62 419.8L70.8 422.6L65.7 423.2L65.4 428.3ZM79.7 420.6L88.9 420.5L84.2 422.7L85.6 427.6ZM96.9 420.3L105.2 416.4L101.9 420.3L105.2 424.2ZM112.7 418.6L119.4 412.4L117.4 417.1L121.8 419.8ZM128.8 415.9L134.3 408.5L133.2 413.5L138 415.3ZM146.5 412L150.6 403.8L150.4 408.9L155.5 409.8ZM165.2 405.8L167.6 397L168.4 402L173.5 402ZM182.9 396.9L184.9 388L185.9 393L191 392.7ZM199.5 387L202 378.2L202.8 383.3L207.9 383.3ZM216.5 378.2L217.4 369L219.1 373.9L224.1 373ZM235.3 372.6L231 364.5L235.1 367.6L238.8 364.1ZM255.4 369.2L248.7 362.9L253.5 364.6L255.9 360ZM-224.1 337.9L-231.9 342.7L-229 338.5L-232.7 335ZM-211.1 342.5L-216.6 349.9L-215.5 344.9L-220.3 343ZM-199.5 350.3L-204.2 358.2L-203.6 353.1L-208.5 351.7ZM-187.5 360.2L-192.5 367.9L-191.7 362.8L-196.6 361.2ZM-174 369.9L-180.4 376.5L-178.6 371.7L-183.1 369.2ZM-159.2 378.2L-166.7 383.5L-164.1 379.1L-168.1 375.8ZM-143.6 385.2L-151.7 389.6L-148.6 385.5L-152.1 381.8ZM-127.5 391.2L-135.7 395.2L-132.5 391.3L-135.9 387.4ZM-111.4 395.9L-119.3 400.5L-116.3 396.3L-120 392.8ZM-95.6 399.3L-102.3 405.5L-100.4 400.8L-104.7 398.1ZM-80.1 402L-84.7 409.9L-84.2 404.8L-89.2 403.5ZM-64.5 405.1L-68 413.6L-68.2 408.5L-73.3 407.8ZM-48.4 408.5L-52.9 416.5L-52.4 411.4L-57.4 410.2ZM-31.6 410.6L-36.9 418.1L-35.9 413L-40.7 411.3ZM-14.9 411L-18.3 419.5L-18.5 414.4L-23.6 413.8ZM1.6 409.5L1.9 418.6L-0.4 414L-5.3 415.6ZM16.2 406.1L20.9 413.9L16.7 411L13.2 414.7ZM28.6 402L36 407.4L31 406.4L29.1 411.2ZM42.1 398.8L50.2 403.2L45.1 402.8L43.9 407.8ZM58.3 398.2L66.7 401.9L61.6 402L60.9 407ZM74.9 399.1L84 400.6L79 402L79.5 407.1ZM90 398.5L99 397.1L94.7 399.9L96.9 404.6ZM105.3 397.4L113.4 393.3L110.2 397.3L113.7 401ZM122.3 396.1L128.6 389.4L127 394.3L131.5 396.7ZM140.9 393.5L144.4 385.1L144.6 390.2L149.7 390.8ZM158.8 388.7L159.8 379.6L161.4 384.5L166.5 383.8ZM175.1 381.2L175.5 372L177.4 376.8L182.4 375.6ZM190.7 371.9L191.3 362.8L193.1 367.6L198.1 366.6ZM207 362.8L206.3 353.6L208.8 358.1L213.6 356.4ZM224.3 355.6L220.2 347.4L224.2 350.6L228 347.2ZM242.1 350.8L235.7 344.3L240.5 346.1L243.1 341.7ZM-219.6 319.7L-226.5 325.7L-224.4 321.1L-228.6 318.3ZM-206.8 322.6L-208 331.7L-209.5 326.8L-214.5 327.5ZM-193.6 329.6L-194 338.8L-195.9 334L-200.9 335.1ZM-180.4 341L-182.8 349.9L-183.6 344.8L-188.8 344.9ZM-166.7 351.6L-171.7 359.3L-170.9 354.2L-175.8 352.6ZM-152 360.2L-159.4 365.5L-156.8 361.1L-160.8 357.9ZM-136.8 367.1L-145.1 371.1L-141.8 367.1L-145.1 363.3ZM-121.5 372.7L-129.8 376.5L-126.5 372.6L-129.8 368.7ZM-106.3 376.7L-113.9 381.9L-111.2 377.5L-115.2 374.2ZM-91.3 379.5L-96.9 386.7L-95.7 381.8L-100.4 379.8ZM-76.1 381.9L-79.7 390.3L-79.8 385.2L-84.9 384.5ZM-60.7 384.8L-63.7 393.4L-64.2 388.3L-69.3 388ZM-45.2 387.9L-48.8 396.3L-48.9 391.2L-54 390.5ZM-30 390.3L-33.8 398.7L-33.8 393.5L-38.8 392.7ZM-15 390.9L-15.1 400.1L-17.2 395.4L-22.1 396.7ZM-1.3 389.2L4.8 396.1L0.2 394L-2.7 398.3ZM10.7 384.9L18.6 389.6L13.5 389L12.1 393.9ZM23.2 380.9L31.5 384.8L26.4 384.7L25.5 389.7ZM38 378.6L46.4 382.2L41.3 382.3L40.6 387.4ZM54.7 377.8L63.1 381.3L58 381.5L57.4 386.6ZM71 377.4L79.7 380.2L74.7 380.8L74.4 385.9ZM86.7 376.1L95.8 377.6L90.8 378.9L91.3 384ZM102.4 374.5L111.6 374.1L107 376.4L108.6 381.3ZM119.3 375L126 368.7L124.1 373.4L128.4 376.1ZM136.4 373.8L138.8 365L139.6 370L144.8 370.1ZM152.5 370L152.5 360.8L154.6 365.5L159.5 364.1ZM167.6 363.7L166.9 354.6L169.4 359.1L174.2 357.4ZM182.2 355.9L181.5 346.8L184 351.3L188.8 349.5ZM197.1 347.6L195.8 338.5L198.6 342.8L203.3 340.8ZM212.4 340L209.3 331.4L212.8 335.1L217 332.1ZM227.4 333.9L222.6 326.1L226.8 328.9L230.4 325.2ZM-201.6 304.4L-198.2 312.9L-201.9 309.4L-206 312.4ZM-173.4 324L-173.6 333.2L-175.6 328.5L-180.6 329.7ZM-144.5 342.8L-152.7 347L-149.5 343L-152.9 339.2ZM-115.5 353.9L-123.7 357.9L-120.5 354L-123.9 350.1ZM-87.1 359.8L-91.3 367.9L-91 362.8L-96 361.7ZM-58.3 365L-59.7 374L-61.1 369.1L-66.2 369.7ZM-29.6 369.3L-28.2 378.4L-31 374.1L-35.7 376.2ZM-5.5 367L2.8 370.9L-2.4 370.9L-3.2 375.9ZM18.7 361.1L27.4 363.9L22.3 364.5L22.1 369.6ZM50.2 358.9L59 361.6L53.9 362.3L53.8 367.4ZM82.4 356.2L91.3 358.1L86.3 359.2L86.6 364.3ZM115.3 353.1L124.1 350.7L120.2 354L122.7 358.4ZM145.4 349.7L145.5 340.5L147.6 345.2L152.5 344ZM172.6 339.6L171.8 330.5L174.3 334.9L179.1 333.1ZM199.5 325.1L197.9 316.1L200.8 320.3L205.4 318.1ZM-191.3 288.2L-188 296.8L-191.6 293.2L-195.8 296.2ZM-164.3 309L-166.4 317.9L-167.4 312.9L-172.5 313.1ZM-137.4 325.3L-146.1 328.2L-142.4 324.7L-145.2 320.5ZM-110.9 334.7L-118.2 340.2L-115.8 335.7L-119.8 332.6ZM-84.6 339.8L-84.1 349L-86.4 344.4L-91.3 346.1ZM-58.2 344.8L-53.4 352.7L-57.6 349.8L-61.2 353.5ZM-32.5 348.1L-24.5 352.4L-29.6 352.1L-30.7 357ZM-10.7 344.6L-1.8 347.1L-6.9 347.9L-7 353ZM15.7 341.6L24.6 344L19.5 344.9L19.5 350ZM46.3 340.2L55.2 342.4L50.2 343.3L50.3 348.4ZM79 337.7L87.9 339.9L82.8 340.8L82.9 345.9ZM110.9 332L119.3 335.7L114.2 335.8L113.5 340.8ZM138 327.5L141.5 319L141.7 324.1L146.8 324.7ZM162.8 320.2L163.1 311L165.1 315.8L170.1 314.6ZM186.6 309.4L186.2 300.3L188.5 304.8L193.4 303.3ZM-179.4 273.8L-177.6 282.8L-180.6 278.6L-185.2 280.9ZM-155.1 292.7L-158.8 301.1L-158.9 296L-164 295.3ZM-130.8 305.6L-136.2 313L-135.2 308L-140 306.2ZM-108.9 314.5L-101 319.2L-106.1 318.7L-107.5 323.6ZM-85.7 319.4L-77.3 323L-82.4 323.1L-83.1 328.2ZM-61.6 324.6L-52.6 326.4L-57.6 327.6L-57.2 332.7ZM-37.6 327.2L-28.4 327.8L-33.2 329.6L-32.2 334.6ZM-14.2 324.2L-5.1 325.5L-10.1 326.9L-9.4 332ZM14.1 322.9L23.1 324.8L18.1 325.9L18.4 331ZM43.6 321.6L52.5 323.4L47.6 324.6L47.9 329.7ZM74.6 320.7L83.7 321.3L79 323.1L80 328.1ZM100.8 314.5L109.9 313.3L105.5 316L107.5 320.7ZM125.9 309.1L132.6 302.8L130.6 307.6L135 310.3ZM149.2 302.1L153.2 293.8L153.1 298.9L158.1 299.9ZM172.4 293L174.2 284L175.3 289L180.5 288.6ZM-170.4 258.3L-166.7 266.7L-170.5 263.3L-174.5 266.6ZM-149.2 273.9L-143.6 281.1L-148.1 278.7L-151.2 282.8ZM-129.3 285.2L-120.4 287.6L-125.5 288.5L-125.5 293.6ZM-110 292.5L-100.9 293.6L-105.8 295.1L-105.1 300.2ZM-89.2 298.4L-80.1 298.9L-84.9 300.8L-83.8 305.8ZM-65.7 304.3L-56.5 304.2L-61.1 306.4L-59.7 311.3ZM-42.1 307.5L-32.9 306.6L-37.4 309.2L-35.5 313.9ZM-16.6 306.1L-7.5 306L-12.1 308.2L-10.7 313.1ZM11.2 305L20.3 305.5L15.5 307.4L16.5 312.4ZM38.2 303.5L47.4 303.9L42.6 305.8L43.8 310.8ZM64.5 302.9L73.5 301.1L69.4 304.1L71.7 308.7ZM87.6 298.5L95.8 294.5L92.5 298.5L95.9 302.3ZM111.9 292.4L119.1 286.8L116.7 291.3L120.8 294.4ZM136.1 285L141.5 277.6L140.4 282.6L145.2 284.4ZM159.7 275.7L163 267.1L163.3 272.2L168.4 272.8ZM-163.6 240.6L-156.4 246.2L-161.3 245L-163.3 249.8ZM-145.3 252.9L-137 256.8L-142.1 256.7L-143 261.8ZM-128.2 262L-119.4 264.4L-124.4 265.2L-124.4 270.3ZM-110.3 269.5L-101.3 271L-106.2 272.3L-105.7 277.4ZM-89.4 277.6L-80.3 278L-85 279.9L-83.9 284.9ZM-66.2 284.5L-57.1 283.9L-61.6 286.3L-59.9 291.1ZM-42.7 288.1L-33.6 286.8L-37.9 289.6L-35.9 294.3ZM-18.2 287.9L-9.1 287L-13.5 289.6L-11.7 294.4ZM6.4 286.9L15.6 286.2L11.1 288.7L12.8 293.5ZM31.5 285.4L40.6 284.4L36.2 287L38.1 291.7ZM55.7 283.4L64.6 281.4L60.5 284.5L62.9 289ZM79 279.8L87.4 276L84 279.8L87.3 283.8ZM103.5 274.1L110.9 268.7L108.4 273.2L112.4 276.3ZM127 266.4L132.9 259.4L131.5 264.3L136.2 266.5ZM149.6 257.1L153.6 248.8L153.5 253.9L158.5 254.9ZM-156.7 220.6L-148.8 225.3L-153.9 224.7L-155.3 229.7ZM-141.1 230.1L-132.8 234.1L-137.9 234L-138.9 239ZM-125.5 238.5L-116.8 241.5L-121.9 242L-122.3 247.1ZM-107.5 247.9L-98.6 249.8L-103.6 250.9L-103.3 256.1ZM-86.5 258L-77.3 258.5L-82.1 260.4L-81 265.4ZM-64 265.3L-54.9 264.4L-59.3 267L-57.5 271.8ZM-41.8 268.6L-32.8 267.2L-37.1 270L-35 274.7ZM-20.3 268.5L-11.2 267.3L-15.5 270L-13.6 274.7ZM2.5 267.9L11.6 266.9L7.2 269.5L9.1 274.3ZM26.3 267L35.4 265.3L31.1 268.2L33.4 272.8ZM49.9 264.2L58.8 262L54.8 265.2L57.3 269.6ZM73.5 260.6L81.9 257.1L78.4 260.8L81.6 264.9ZM96.4 255.3L103.9 250.1L101.3 254.5L105.2 257.8ZM118.1 248.1L124.4 241.4L122.8 246.2L127.3 248.6ZM139.2 239.3L143.7 231.3L143.2 236.4L148.2 237.6ZM-148.3 199.2L-140.7 204.4L-145.8 203.5L-147.4 208.4ZM-134.4 206.6L-126.6 211.5L-131.7 210.8L-133.1 215.7ZM-119.8 215.7L-111.6 219.8L-116.7 219.6L-117.7 224.7ZM-102.1 228.1L-93.3 230.5L-98.4 231.3L-98.4 236.4ZM-82 239.5L-72.9 239.8L-77.6 241.7L-76.4 246.7ZM-61.5 246.2L-52.4 245.1L-56.7 247.7L-54.8 252.5ZM-41.6 248.7L-32.6 247.2L-36.9 250L-34.7 254.7ZM-21.4 248.6L-12.3 247.4L-16.7 250.1L-14.7 254.8ZM1 248.8L10.1 247.6L5.7 250.3L7.7 255.1ZM23.4 248.1L32.4 246.3L28.3 249.3L30.6 253.9ZM45.7 245.4L54.6 243L50.6 246.3L53.2 250.7ZM67.7 241.7L76.2 238.3L72.7 242L75.8 246.1ZM88.7 236.6L96.5 231.8L93.6 236L97.4 239.5ZM108.9 230L115.5 223.6L113.6 228.4L118 231ZM128.6 221.8L133.6 214L132.9 219.1L137.7 220.6ZM-139.4 177.1L-132 182.4L-137 181.4L-138.8 186.2ZM-126 183.1L-118.7 188.7L-123.7 187.6L-125.7 192.3ZM-111.6 194.8L-103.9 199.8L-109 199L-110.5 203.9ZM-95.1 209.9L-86.3 212.6L-91.4 213.2L-91.6 218.4ZM-76.8 221L-67.7 221.2L-72.4 223.2L-71.1 228.2ZM-58.3 226.6L-49.2 225.5L-53.5 228.2L-51.6 232.9ZM-39.9 228.3L-30.8 227.1L-35.2 229.8L-33.2 234.5ZM-20.4 228.7L-11.2 227.9L-15.7 230.4L-13.9 235.2ZM0.5 229.7L9.6 228.5L5.2 231.2L7.2 236ZM21.1 229.1L30.1 227.2L26 230.2L28.3 234.8ZM41.7 226.7L50.5 224.1L46.6 227.5L49.3 231.8ZM61.8 223L70.3 219.6L66.8 223.3L69.9 227.4ZM81.2 217.9L89.2 213.3L86.2 217.5L89.8 221.1ZM99.9 211.7L106.8 205.6L104.7 210.3L109 213.2ZM118.5 204.3L123.7 196.8L122.8 201.8L127.6 203.5ZM-130.4 155.9L-122.8 161.1L-127.9 160.2L-129.5 165.1ZM-114.9 164.8L-107.9 170.7L-112.8 169.3L-115 173.9ZM-100.6 177.7L-93.3 183.2L-98.3 182.1L-100.2 186.9ZM-85 193.2L-76.3 196.1L-81.4 196.6L-81.7 201.8ZM-68.4 202.7L-59.2 203L-64 205L-62.8 209.9ZM-51.8 206.5L-42.6 206L-47.2 208.4L-45.6 213.3ZM-35.3 207L-26.2 207.1L-30.9 209.1L-29.6 214.1ZM-17.9 207.9L-8.7 208.3L-13.5 210.2L-12.3 215.2ZM0.5 209.8L9.7 209.2L5.2 211.6L6.8 216.5ZM19.4 209.9L28.4 208.1L24.2 211.1L26.5 215.7ZM38.4 207.7L47.2 205.2L43.3 208.5L45.9 212.9ZM57 203.9L65.7 200.8L62 204.4L65 208.5ZM75 198.8L83.2 194.7L80 198.7L83.4 202.5ZM92.6 192.4L100.2 187.3L97.6 191.6L101.4 195ZM110.5 185.5L115.8 178L114.8 183L119.7 184.8ZM-119.2 139.1L-111.7 144.4L-116.7 143.4L-118.4 148.2ZM-103.5 147.6L-96.8 153.8L-101.6 152.2L-104 156.7ZM-87.3 164.1L-80.3 170.1L-85.3 168.7L-87.4 173.3ZM-72.8 176.7L-64.4 180.5L-69.5 180.5L-70.3 185.5ZM-58.6 183.1L-49.6 185L-54.6 186.1L-54.3 191.2ZM-44.8 184.8L-35.8 186.5L-40.8 187.7L-40.4 192.8ZM-30.4 184.8L-21.5 187.1L-26.5 188L-26.5 193.1ZM-14.5 186.4L-5.5 188.6L-10.6 189.5L-10.4 194.6ZM2.5 189.2L11.6 190L6.8 191.7L7.7 196.7ZM19.7 189.8L28.8 189.1L24.4 191.6L26.1 196.4ZM36.8 187.9L45.8 186.3L41.6 189.2L43.8 193.8ZM53.5 184.3L62.4 182.1L58.4 185.3L60.9 189.8ZM69.9 179.4L78.7 176.6L74.9 180L77.7 184.3ZM86.2 173.5L94.3 169.3L91.1 173.3L94.6 177.1ZM102.1 166.8L108.5 160.2L106.8 165L111.2 167.6ZM-114.1 118.6L-106.7 124.1L-111.7 123L-113.5 127.8ZM-90.1 136.2L-83.8 142.8L-88.5 140.9L-91.2 145.3ZM-69.4 154L-62.4 159.9L-67.3 158.5L-69.5 163.2ZM-51.5 161.5L-43.3 165.6L-48.5 165.4L-49.5 170.4ZM-32.7 163.3L-24.4 167L-29.5 167.1L-30.3 172.1ZM-10.3 166.1L-1.9 169.7L-7 169.8L-7.7 174.9ZM12.9 169.1L21.8 171.2L16.8 172.2L17 177.3ZM35.3 167.6L44.5 168.1L39.7 170L40.7 175ZM57.4 162.5L66.5 161.9L62 164.3L63.7 169.2ZM79 154.8L88 153.1L83.8 156L86.1 160.6ZM99.4 145.2L106.3 139.2L104.2 143.9L108.4 146.8ZM-98.5 107.5L-91.7 113.6L-96.5 112.1L-98.8 116.7ZM-79.2 122.6L-73 129.3L-77.7 127.3L-80.4 131.7ZM-62.3 134.2L-55.5 140.3L-60.4 138.8L-62.6 143.4ZM-46.5 139.8L-38.8 144.8L-43.9 144L-45.5 148.9ZM-28.7 143.3L-20.7 147.8L-25.8 147.4L-27 152.4ZM-8.4 146.8L-0.2 150.9L-5.3 150.7L-6.3 155.7ZM12.5 148.8L21 152.3L15.9 152.5L15.2 157.6ZM32.6 147.6L41.5 150.1L36.4 150.9L36.4 156ZM52.2 143.1L61.1 145.2L56.1 146.2L56.3 151.3ZM71.1 136.4L80.1 138L75.1 139.3L75.6 144.4ZM88.2 127.4L97.4 127.3L92.7 129.5L94.1 134.4ZM-85.8 94.9L-79 101.2L-83.9 99.6L-86.2 104.1ZM-70.6 105.8L-64 112.2L-68.8 110.4L-71.3 114.9ZM-56.1 113.7L-49.2 119.7L-54.1 118.3L-56.4 122.9ZM-41.2 119L-34 124.7L-38.9 123.5L-40.9 128.2ZM-24.8 123.7L-17.2 128.9L-22.3 128L-23.9 132.9ZM-6.9 127.6L1 132.3L-4.1 131.7L-5.5 136.7ZM11.5 129.1L19.5 133.6L14.4 133.2L13.1 138.2ZM29.2 127.9L37.4 132L32.3 131.8L31.2 136.9ZM46.2 124.1L54.4 128.2L49.3 128L48.3 133ZM62.6 118.2L70.7 122.5L65.6 122.2L64.4 127.2ZM77.7 110.3L85.6 115L80.5 114.4L79.1 119.3ZM-61.8 88L-55.1 94.3L-60 92.6L-62.4 97.2ZM-44.3 96.1L-37.6 102.4L-42.5 100.7L-44.8 105.3ZM-25.2 102.9L-18.4 109L-23.3 107.5L-25.6 112ZM-4.8 108.1L2.3 113.9L-2.7 112.6L-4.8 117.3ZM15.5 109.3L22.9 114.8L17.9 113.7L16 118.5ZM35.2 106.4L42.5 111.9L37.5 110.8L35.5 115.5ZM53.9 100.1L60.7 106.1L55.8 104.6L53.6 109.2Z" fill="#fff"/>
<use href="#coast"/>
</g>
<path d="M-66.5 86.4L-329.7 428.2A540.4 540.4 0 0 0 329.7 428.2L66.5 86.4A109 109 0 0 1 -66.5 86.4Z" fill="none" stroke="#111" stroke-width="1.3" stroke-linejoin="miter"/>
<g font-family='"Liberation Serif", serif' font-style="italic" font-size="29" text-anchor="middle" fill="#111">
<text transform="translate(-104.8 93.5) rotate(37.6)" y="9.5">N</text>
<text transform="translate(-138.9 132.8) rotate(37.6)" y="9.5">80</text>
<text transform="translate(-209.1 224) rotate(37.6)" y="9.5">75</text>
<text transform="translate(-280.5 316.7) rotate(37.6)" y="9.5">70</text>
<text transform="translate(-222.1 512.3) rotate(23.4)" y="9.5">110</text>
<text transform="translate(-45.6 556.5) rotate(4.7)" y="9.5">130</text>
<text transform="translate(135.7 541.7) rotate(-14.1)" y="9.5">150</text>
<text transform="translate(302.6 469.3) rotate(-32.8)" y="9.5">170 E</text>
</g>
</g>
<g transform="translate(1017 1187.1)">
<g clip-path="url(#wc)">
<path d="M-66.5 86.4L-329.7 428.2A540.4 540.4 0 0 0 329.7 428.2L66.5 86.4A109 109 0 0 1 -66.5 86.4Z" fill="#c9de8a"/>
<path d="M-345 75L337.7 75L332.6 84L300 125.6L232.2 204L224.4 216L221.9 225L223.5 234L229 243L276 290.5L288 304.5L297.9 318L309.3 339L333.6 396L339 405.3L345 410.9L345 552L-345 552ZM-6 200.8L-21.5 204L-36.3 210L-49.6 219L-58.6 228L-64 237L-65.1 246L-61.9 255L-53.8 264L-39 272.6L-21.1 279L-3 283.1L12 283.8L27 281.8L45 275.6L59.3 267L68.6 258L72.6 252L75.2 246L76.2 237L72.5 228L63.2 219L48 209.9L30 203.3L12 200.3Z" fill="#f9e88d"/>
<path d="M-209.3 75L273.5 75L270.7 81L261.8 93L230 132L205.3 159L183 179.7L171 188.7L159 195.2L135 203.1L117 205.7L105 204.8L90 201.5L39 183.2L27 179.9L15 178L0 177.8L-18 179.9L-69 191.8L-81 192.2L-90 190.1L-96 186.8L-102 181L-120 150L-138 129.8L-162 109.4L-203.2 81ZM-199.7 204L-192 202.3L-186 202.1L-180 202.9L-171 205.6L-159 211.7L-129 229.8L-120 236.9L-114.3 243L-99 265.4L-92.7 273L-84 280.8L-72.5 288L-60 293.3L-48 296.9L-3 306.6L9 307L24 304.6L39 299.6L54 292.8L72 281.1L96 258.2L105 250.8L114 245.3L123 241.9L135 240.2L150 241.4L162 244.8L177 252.1L187.9 261L207 282.2L234.7 309L250.5 327L270.2 354L313.3 426L336 450.8L342 456.1L345 457.6L345 552L-345 552L-345 295.7L-339 297.7L-289.7 321L-270 328.8L-258 332.2L-246 333.1L-234 331.2L-222.4 327L-211.6 321L-195.5 309L-190.5 303L-189.7 300L-191.6 294L-207 275.5L-214.8 264L-220 252L-221.9 243L-221.7 231L-217.6 219L-210 209.8Z" fill="#f8c37a"/>
<path d="M-121.7 75L216.7 75L212 84L192.3 111L168.9 141L153.2 159L141 170.4L132 176.3L123 179.6L114 180.6L105 179.8L96 177.8L51 162.8L24 157.5L9 156.6L-6 157.1L-54 162L-63 161.2L-69 159.2L-75 155.2L-81.9 147L-98.9 108L-106.8 96L-118.4 81ZM-177.7 234L-168 232.3L-159 233.7L-147 238.3L-135 246L-126 255L-109.9 279L-99 293.1L-81 311L-72 317.7L-60 322.2L-3 332.8L15 332.7L30.5 330L47.6 324L78 310.8L85.5 306L93 299.4L97.2 294L108 276L113.1 270L120 264.4L126.5 261L138 258.1L147 257.9L156 259.5L165 263.3L169.9 267L174.3 273L176.5 282L176.6 294L178.9 300L181.1 303L204 325L216.9 339L277.9 420L339 494.5L345 499.7L345 552L-345 552L-345 348.5L-279 354.8L-258 355.6L-243 354.5L-231 351.6L-219 346.7L-189 330L-165 318.8L-159 315.1L-156 311.9L-154.1 306L-154.5 300L-156.5 294L-162 286.1L-181.7 267L-185.6 261L-187.8 255L-188.3 249L-187 243L-183 237.4Z" fill="#f4a56e"/>
<path d="M-73 75L159.6 75L154.4 84L141 99.1L129 109.9L117 117.7L108 121.6L69 134.8L54 137.3L39 137.9L15 137.2L-6 135.2L-21 132L-33 127.2L-42 120.8L-48.3 114L-70.3 81ZM113.7 327L120 325L129 324.4L141 325.6L150 327.6L168 336.1L177 342.2L183.5 348L198 364.9L234.6 414L246.3 426L273 449.3L291.5 471L304 489L316.6 510L332 540L336.5 552L-345 552L-345 402.5L-312 396.7L-297 395.2L-282 395.8L-255 399.7L-243 398.1L-234 393.5L-228 388.5L-204.7 363L-189 350L-180.8 345L-171 340.6L-150 335L-129 333L-108 334L-99 336.1L-72.9 345L-30 353.9L-9 356.7L27 359.4L48 357L66 351.8L84 344Z" fill="#f38e69"/>
<path d="M-35.6 75L91.5 75L87.2 81L80.5 87L63 101.3L53.1 108L39 114L30 115.8L21 116.3L12 115.8L2.3 114L-6.2 111L-15 105.9L-21 100.4L-26.7 93L-33.6 81ZM-138.9 357L-123 356.5L-111 358.2L-96 363L-78 370.8L-39 380.2L-30 381L-12 380.2L0 381L36 390.4L57 393.8L75 394.5L87 393.2L98.8 390L123 381.4L135 378.6L147 378.7L162 383.6L177 393.1L207.3 423L246 452.1L262.3 468L272.9 483L283.7 504L293.8 531L299.4 552L-40.5 552L-40.7 540L-42 533.2L-56.1 501L-60.5 486L-62.6 471L-63 441L-66 433.6L-72 429.6L-75 428.9L-81 429.3L-87 432.2L-101 444L-108 448.4L-117 451.2L-129 450.5L-141 444.9L-150 437.3L-159 426.4L-168.6 411L-173.7 399L-175.5 390L-174.9 381L-172.8 375L-168 368.5L-160.3 363L-150 359.1Z" fill="#ee7b68"/>
<path d="M-17.4 411L-12 410.5L-6 411.6L15 420.4L30 423.9L48 425.7L72 425.1L81 427.4L88.3 432L92.7 438L94.2 444L94.2 453L95.5 456L99 458L132 457.7L141 456.8L150 454.7L171 447.7L183 445.5L198 446.5L210 450.8L219 456.7L232 468L240.1 477L246 486.6L250.3 498L253.8 513L255.9 531L256.6 552L4.2 552L-1.6 513L-5.3 498L-10.9 489L-21 478.9L-27 471.3L-31.7 462L-34.1 453L-33.8 441L-27 420L-22.9 414Z" fill="#e6696a"/>
<path d="M44.5 495L48 493.8L54 494.2L63 497.8L72 504.1L80 513L84.8 522L87.6 534L87 542.9L84 552L60.1 552L48 537.2L41.7 525L38.4 510L39.5 501L42 496.9Z" fill="#d4626a"/>
<use href="#grat"/>
<path d="M2.1 535.7L0 531.4L0.1 531.6M23.9 534.8L21.7 531L22 531.4M227.1 475.5L231.1 478.5L231.2 478.5M243.6 464.6L247.1 466.5L250.5 468.7L253.9 470.8L253.1 470.2M262 453.8L265.8 455.8L269.5 458L273.2 460.2L272.6 459.8M281.1 442.3L284.5 444.4L288 446.6L291.4 448.8L290.6 448.3M299.9 430.2L306 434.5L308 435.9M2.1 515.7L0 511.7L0.2 512.1M22.6 515.4L20.9 511.3L21.1 511.7M216 458L222.6 460.8L224.5 461.6M232.9 447.9L237.1 449.6L241.2 451.3L245.4 453L244.9 452.8M251.9 437.7L255.7 439.3L259.5 441L263.2 442.7L262.5 442.4M271 426.2L277.3 430.1L279.3 431.3M289.3 414L294.6 418.4L296.1 419.5M-37.2 493.6L-40.2 490.4L-39.8 490.8M190.4 452.3L195.7 451.4L196 451.4M206 441.2L210 442L214 443L218 444L217.2 443.8M224 430.8L228 432.3L231.9 433.9L235.9 435.5L235.2 435.2M243.2 420.9L249.5 424.1L251.3 425M261.2 409.9L266.6 413.5L267.9 414.3M277.3 397.3L283.3 402.3L285.4 404M-277 387.3L-272 386.1L-271.7 386.1M-35.3 475.3L-38.6 470.7L-39 470.2M-15.8 474.4L-19.3 471.9L-18.7 472.3M182.8 433.2L187.9 433.3L187.9 433.3M199.1 422.9L205.4 425.3L207.1 425.9M216.6 413.1L222.6 416.5L224.3 417.5M233.6 403.1L239.5 407.1L241.2 408.3M249.7 392.4L255.9 396.9L258.1 398.6M265 380.5L268.5 383.3L272 386.1L275.4 389L275 388.6M-269 372.8L-264.8 371.5L-260.6 370L-256.4 368.6L-257 368.8M-250.3 383.4L-245.3 380.4L-244.5 379.9M-232 394L-229.5 390.1L-229.7 390.4M-54 454L-55.4 449.2L-55.4 449.2M-34.9 457L-37 451.1L-37.4 449.9M191.4 404.3L196.9 407.5L198 408.3M206.8 394.3L210.1 396.7L213.4 399.2L216.6 401.6L215.9 401M222.7 384.9L226.1 387.5L229.5 390.1L232.9 392.7L232.3 392.3M237.9 374.7L241.6 377.6L245.3 380.4L248.9 383.2L248.6 383M252.7 363.7L256.7 366.9L260.6 370L264.6 373.2L264.6 373.3M-263.9 359.1L-259 357.6L-254.1 355.9L-249.3 353.9L-244.5 352L-239.7 349.8L-239.6 349.7M-244.1 370.6L-239.3 367.3L-234.6 363.8L-229.9 360.3L-229.2 359.8M-224.3 380.9L-221.9 377L-219.5 373.1L-217.1 369.2L-217.3 369.6M-205.6 389L-204.1 381.8L-203.6 379.4M-187.6 395L-188.3 389.8L-188.3 389.6M-51.2 433.6L-53 429.6L-52.7 430.3M-34.9 437.2L-35.4 431.5L-35.4 430.6M168 396.1L172.2 397.2L171.5 397M181.9 385.9L188.3 389.8L190.4 391.1M196.2 376L200.2 378.9L204.1 381.8L208 384.7L207.9 384.6M211.3 366.9L215.4 370L219.5 373.1L223.6 376.3L223.8 376.4M225.8 357.2L230.2 360.5L234.6 363.8L239 367.1L239.4 367.4M240.1 347L244.7 350.5L249.3 353.9L253.8 357.4L254.4 357.9M-254.1 344.8L-249.9 343.4L-245.8 341.8L-241.8 339.9L-237.9 337.8L-234 335.7L-230.3 333.5L-226.6 330.9L-227.1 331.3M-239.5 358.8L-235.4 356.1L-231.5 353.3L-227.6 350.4L-223.9 347.3L-220.2 344.2L-216.5 341L-213 337.6L-213.1 337.7M-219.6 369.7L-217.1 366.3L-214.7 362.9L-212.1 359.5L-209.5 356.1L-206.9 352.8L-204.3 349.5L-201.6 346.2L-202.1 346.8M-199.7 376.1L-198.3 372.1L-196.7 368.2L-194.8 364.4L-192.9 360.6L-190.7 357L-191.1 357.6M-181.7 380.1L-181 376L-179.7 372.1L-178.5 368.1L-178.8 368.9M-164.9 383.6L-164.3 379.1L-164.4 379.5M-4.4 413.1L0 413.2L-0.6 413.2M11.8 412.6L16.9 412.9L17 412.9M28.3 412.6L33.8 411.8L34.3 411.7M44.7 411.9L50.6 410.1L51.7 409.7M60.4 409.6L67.3 407.7L69.4 407.1M77.1 406.4L83.9 404.6L85.9 404.1M95.2 402.6L100.4 400.8L100.9 400.6M159.3 377.9L164.3 379.1L164.6 379.2M171.8 368.2L175.8 370L179.7 372.1L183.6 374.1L183.2 373.8M185.4 358.3L190.1 361.3L194.8 364.4L199.4 367.5L199.9 367.9M199.6 349.2L202.9 351.5L206.2 353.8L209.5 356.1L212.8 358.5L216.1 360.9L215.3 360.3M213.6 340.2L217.1 342.5L220.5 344.9L223.9 347.3L227.3 349.7L230.7 352.1L230 351.6M228.2 331.2L233.1 334.5L237.9 337.8L242.8 341.2L243.5 341.7M-236.7 329.3L-233.1 327L-229.8 324.5L-226.6 321.7L-223.4 319L-220.4 316L-220.9 316.6M-227.8 343.8L-224 340.7L-220.3 337.5L-216.7 334.2L-213.2 330.7L-209.8 327.3L-206.4 323.7L-203.2 320L-203.2 320.1M-214.4 356L-211.5 352.6L-208.5 349.2L-205.6 345.8L-202.6 342.5L-199.5 339.2L-196.5 335.8L-193.4 332.6L-190.3 329.3L-187.2 326.1L-187.5 326.5M-197.5 363L-195.4 359.6L-193.2 356.3L-190.8 353.1L-188.2 350L-185.5 347L-182.8 344.1L-180 341.2L-177.1 338.5L-174 335.8L-174.8 336.4M-180.6 365.8L-177.8 361.6L-174.7 357.8L-171.1 354.3L-167.6 350.8L-163.8 347.6L-163.8 347.6M-163.9 367.9L-160.4 364.2L-156.5 361L-152.6 357.8L-152.5 357.8M-147.2 370.6L-141.6 367.1L-140.2 366.3M-53.2 391.7L-48.2 390.5L-48 390.5M-38.9 395.3L-32.2 392.2L-29.9 391.2M-24.2 396.2L-20.2 394.6L-16.1 393.2L-12 391.8L-12.6 391.9M-8.4 394.6L-4.2 393.9L0 393.5L4.2 393.1L3.5 393.1M7.9 393.1L12 393.1L16.1 393.2L20.2 393.2L19.3 393.2M24.1 392.6L28.1 392.4L32.2 392.2L36.2 391.9L35.2 392M40.2 391.8L44.2 391.2L48.2 390.5L52.1 389.9L51.2 390.1M56.9 390.3L64.1 388.2L66.5 387.5M74.2 388.3L79.9 385.3L81.2 384.6M91.3 385.3L95.6 381.7L96.1 381.3M107.4 380.7L111.1 377.5L111.1 377.5M122.4 375L126.5 372.6L126.3 372.7M135.9 368.5L141.6 367.1L142.5 366.9M148.5 360.9L152.5 360.8L156.5 361L160.5 361.2L159.6 361.1M161.4 351.8L166.4 352.9L171.1 354.3L175.9 355.8L176 355.8M174.6 341.9L178.3 343.4L181.9 345.2L185.5 347L189 348.9L192.5 350.9L191.7 350.4M188.3 332.8L192.1 334.8L195.8 337L199.5 339.2L203.2 341.4L206.9 343.7L206.3 343.3M202.3 324.4L206 326.4L209.6 328.6L213.2 330.7L216.8 332.9L220.4 335.1L219.8 334.7M216.4 315.7L221.5 318.7L226.6 321.7L231.6 324.8L232.4 325.3M-210.8 324.6L-207.9 321.2L-205.1 317.8L-202.6 314.2L-200 310.5L-197.7 306.7L-197.9 307.2M-192.2 344.8L-189.2 341.6L-186.1 338.5L-182.8 335.5L-179.6 332.5L-176.2 329.7L-172.9 326.8L-169.5 323.9L-166.2 321L-163 318L-163.3 318.4M-163.9 351.8L-160.3 349.3L-156.5 347L-152.6 344.9L-148.7 343L-144.7 341L-140.7 339.2L-136.7 337.5L-137.2 337.7M-133.2 357.3L-128.9 356L-124.6 354.9L-120.2 354L-115.7 353.1L-111.3 352.4L-111.8 352.4M-101.6 361.8L-96.2 362.2L-90.8 362.6L-85.4 363L-85 363M-71.2 369.5L-66 369.1L-60.9 368.8L-55.7 368.5L-55.6 368.5M-41.4 374.4L-36 373.6L-30.5 372.5L-25.1 371.5L-24.6 371.3M-12.2 376.3L-8.2 375.3L-4.1 374.5L0 373.8L4.1 373.1L8.2 372.6L7.4 372.7M19.8 374.2L25.2 373.5L30.5 372.5L35.9 371.6L36.3 371.5M53.8 372.3L60.9 368.8L63.5 367.5M85.5 367.6L90.8 362.6L92.5 361M113.2 358L116.6 355.9L120.2 354L123.7 352L122.9 352.4M140.1 344.1L144.4 343.4L148.7 343L153 342.5L152.3 342.6M165.1 325.7L170.7 327.6L176.2 329.7L181.7 331.8L182.6 332.1M191.7 308.3L195.3 310.3L198.9 312.2L202.6 314.2L206.2 316.1L209.8 318L209.1 317.6M-188.7 304.6L-191.9 297.6L-193 295.2M-176.4 323.9L-172.8 320.4L-169.5 316.6L-166.9 312.3L-164.4 308L-163.3 303L-163.3 303M-151.9 331.8L-148.2 329.6L-144.5 327.3L-140.8 324.9L-137.2 322.5L-133.7 320L-134.1 320.4M-128.5 338.7L-123.6 337.4L-118.8 336.2L-113.8 335.3L-108.9 334.4L-103.9 333.8L-103.9 333.8M-103.3 343L-99 343L-94.7 343.1L-90.3 343.3L-86 343.5L-81.7 343.7L-77.4 343.8L-73.1 343.8L-73.8 343.9M-75.4 350.6L-71 350.4L-66.5 350.1L-62.1 349.7L-57.7 349.4L-53.3 349L-48.8 348.6L-44.4 348.2L-44.9 348.3M-45.9 354.6L-41.7 354.3L-37.4 353.9L-33.2 353.4L-28.9 352.9L-24.7 352.4L-20.5 351.8L-16.3 351.2L-17 351.3M-17.4 357.6L-13 356.8L-8.7 355.9L-4.3 355L0 354.1L4.3 353.2L8.7 352.2L13 351.2L12.5 351.4M14.7 357.5L19.5 356.2L24.3 354.7L28.9 352.9L33.6 351.1L38.1 349.1L38.1 349.1M46.6 356.4L50.4 354.2L54.1 351.8L57.7 349.4L61.3 346.9L64.8 344.3L64.3 344.7M77.8 351.3L82 347.5L86 343.5L90.1 339.5L90.6 339M107.4 339.7L113.8 335.3L116.1 333.7M134.4 325.6L140.8 324.9L142.3 324.7M156.6 308.1L161.8 310.3L166.9 312.3L172.1 314.3L172.6 314.5M183.1 289.9L187.2 294L191.9 297.6L196.5 301.2L197.3 301.6M-166.9 289L-170.4 286.9L-174 284.9L-177.6 283L-181.2 281L-184.8 279.1L-188.4 277.1L-192 275L-191.2 275.5M-149.7 309.4L-151 305.4L-152.8 301.6L-155 298.1L-157.6 294.9L-160.3 291.7L-163.3 288.8L-166.6 286.3L-165.9 286.7M-128.9 309.9L-133 306.8L-133.2 306.7M-113.9 315.1L-107.5 316.7L-105.9 317M-94.1 320.5L-89.9 322L-85.6 323.3L-81.3 324.4L-76.9 325.5L-72.5 326.3L-73 326.3M-68 330.8L-63.5 330.7L-59 330.3L-54.5 329.9L-50 329.5L-45.5 329.1L-45.9 329.1M-40.4 334.6L-36.1 334.1L-31.7 333.7L-27.3 333.3L-23 332.8L-18.6 332.4L-19.2 332.5M-12.6 336.9L-8.4 336.2L-4.2 335.4L0 334.4L4.2 333.4L8.3 332.3L7.7 332.5M17 338.2L22.2 335.9L27.3 333.3L32.4 330.6L33.1 330.3M45.8 336.4L50.2 333.3L54.5 329.9L58.7 326.6L59.1 326.3M72.4 333.3L75.4 330.4L78.4 327.4L81.3 324.4L84.1 321.3L86.9 318.2L86.4 318.8M100.1 325.9L103.8 321.3L107.5 316.7L111.2 312L111.7 311.3M127.6 308.8L133 306.8L133.8 306.5M154.7 289.3L157.6 294.9L158.3 296.1M171.3 269.9L174.9 273.3L178.2 277.1L181.2 281L184.2 285L187.3 288.9L187.3 288.9M-159.2 272.4L-163.2 270L-167 267.4L-170.5 264.5L-174.1 261.6L-177.3 258.2L-177.1 258.5M-140.8 283.1L-144.5 280.2L-148.3 277.5L-152.2 274.8L-152 275M-128.9 283.3L-125.2 288.7L-124.3 290.1M-112.9 288.8L-109.1 292.1L-105.2 295.1L-101.2 298L-97.1 300.9L-92.9 303.5L-92.9 303.5M-90.2 300.5L-85.7 302.4L-81.1 304L-76.5 305.3L-71.8 306.5L-67 307.4L-67.1 307.4M-65.8 310.7L-61 310.8L-56.1 310.7L-51.3 310.5L-46.4 310.3L-41.6 310L-41.7 310M-41.7 315L-37.7 314.6L-33.7 314.3L-29.7 314L-25.7 313.6L-21.7 313.3L-17.7 313L-13.7 312.6L-14.7 312.7M-16.8 317.5L-12.6 317L-8.4 316.4L-4.2 315.7L0 314.7L4.2 313.7L8.3 312.6L12.3 311.2L11.6 311.5M10.9 321.5L14.7 319.8L18.5 317.9L22.1 315.9L25.7 313.6L29.3 311.4L32.8 309.1L36.2 306.6L35.6 307.1M40.4 319.5L44 316.5L47.7 313.5L51.3 310.5L54.9 307.4L58.4 304.3L58.2 304.5M69.3 312.9L73 309.2L76.5 305.3L79.9 301.3L80.1 301.1M96.9 306.8L99.2 302.5L101.2 298L103.1 293.5L103.1 293.6M123.6 294.6L125.2 288.7L125.5 287.7M150.4 260.4L154.5 260.4L158.7 260.7L162.8 261.5L166.7 262.8L170.5 264.5L174.3 266.2L178 268.3L181.4 270.6L184.6 273.2L184 272.7M-168.6 253.5L-165 249.6L-159.9 247.9L-154.8 246.3L-154.4 246.3M-151.1 255.3L-146.9 256.4L-142.9 258.1L-139.1 260.2L-135.2 262.2L-131.6 264.6L-132.1 264.2M-134.6 257.3L-130.9 259.7L-127.4 262.3L-124 265L-120.7 267.8L-117.3 270.7L-114 273.5L-110.7 276.3L-107.3 279L-103.8 281.6L-104.3 281.3M-111.8 267.6L-108.6 270.2L-105.3 272.7L-101.9 275L-98.4 277.3L-94.8 279.3L-91.2 281.4L-87.6 283.3L-83.8 285L-79.9 286.4L-80.7 286.2M-88 281.3L-84 282.9L-80 284.2L-75.8 285.3L-71.7 286.2L-67.5 287L-63.3 287.7L-59.1 288.2L-59.8 288.1M-65 290.4L-60.8 290.7L-56.6 290.9L-52.3 291L-48.1 291.1L-43.8 291.1L-39.5 291L-35.3 291L-36 291M-41.7 294.9L-37.3 294.7L-32.9 294.5L-28.5 294.3L-24.1 294L-19.7 293.8L-15.3 293.4L-11 293.1L-11.6 293.1M-16.7 297.6L-12.5 297.2L-8.3 296.6L-4.1 295.9L0 295L4.1 294.1L8.2 293L12.2 291.7L11.5 291.9M7.7 302L11.9 300.3L16.1 298.4L20.1 296.3L24.1 294L28.1 291.7L32 289.3L35.7 286.8L35.4 287M31.8 304.2L35.2 301.8L38.5 299.2L41.8 296.6L44.9 293.9L48.1 291.1L51.2 288.3L54.2 285.4L57.1 282.4L59.9 279.3L59.4 279.9M59 301.2L62.5 297.6L65.7 294L68.8 290.1L71.7 286.2L74.6 282.2L77.3 278.1L79.9 273.9L79.8 274M88.2 293.2L90.4 288.6L92.6 284L94.8 279.3L97 274.7L99.3 270.1L99.4 270M111.6 283.2L113 278.8L114.9 274.6L117.3 270.7L119.7 266.7L122.6 263.1L122.3 263.3M124 270L127.3 266.9L130.9 264.1L134.9 261.9L139.1 260.2L143.3 258.4L147.6 257.1L152.1 256.3L151.6 256.4M139.6 249.8L143.6 248.9L147.6 248.3L151.7 247.9L155.8 247.8L159.9 247.9L163.9 248.1L168 248.5L172.1 249.1L176.1 250L175.2 249.8M-171 231.5L-166.7 230.6L-162.3 230.3L-157.9 230.3L-153.5 230.7L-149.2 231.4L-144.8 232L-140.5 232.9L-136.3 233.9L-132.1 235.2L-132.6 235M-151.7 236.1L-147.1 236.9L-142.7 238L-138.3 239.3L-134 240.9L-129.8 242.8L-125.6 244.7L-121.5 246.8L-117.6 249.2L-113.8 251.8L-114.1 251.5M-126 241.3L-122.5 243.3L-119.1 245.4L-115.8 247.7L-112.6 250.1L-109.5 252.6L-106.4 255.1L-103.3 257.6L-100.2 260.2L-97.1 262.7L-97.9 262.1M-99.1 252.5L-95.7 255.3L-92.1 258.1L-88.5 260.7L-84.8 263.3L-81.1 265.7L-81.5 265.4M-76.5 262.9L-71.8 265.2L-66.9 267L-62 268.9L-61.7 269M-55.3 269.6L-50.1 270.7L-44.8 271.6L-39.6 272.5L-39.2 272.6M-33.2 273.9L-27.9 274.2L-22.5 274.4L-17.1 274.5L-16.7 274.5M-9.7 276.7L-4.8 276.1L0 275.3L4.8 274.5L4.8 274.5M13.2 278.7L17.9 276.7L22.5 274.4L27.1 272.1L27.2 272M34.8 280.1L38.3 277.5L41.6 274.6L44.8 271.6L48.1 268.6L51.1 265.4L50.7 265.9M56.4 281.8L59.3 278.3L62 274.7L64.6 270.9L66.9 267L69.2 263.2L71.3 259.2L73.1 255L72.9 255.4M79.3 278.2L81.7 273.9L84.1 269.5L86.3 265.1L88.5 260.7L90.7 256.2L92.8 251.8L94.9 247.3L94.9 247.3M98.9 267.5L101.2 263.6L103.8 259.8L106.5 256.1L109.5 252.6L112.5 249.1L115.6 245.8L119 242.7L118.7 242.9M116.2 251.4L119.3 248.9L122.7 246.6L126.1 244.5L129.8 242.8L133.4 241L137.2 239.6L141 238.4L140.1 238.6M141.6 231.2L149.2 231.4L151.7 231.4M-149.6 212L-144.1 213.4L-138.5 214.8L-133 216.2L-132.2 216.4M-130.5 221.8L-125.4 223.4L-120.5 225.4L-115.6 227.4L-115.3 227.6M-107.4 228.6L-104.5 231.5L-101.7 234.5L-98.9 237.5L-99.5 236.9M-85 236.6L-82.2 242L-81.6 243M-64.9 243.3L-62.1 247.9L-61.9 248.3M-45.4 248.6L-41.6 252.2L-41.5 252.3M-24.9 253.1L-20.9 254.7L-21.5 254.5M60.8 255.9L61.8 252L62.1 247.9L62.4 243.9L62.5 244.8M81 252.8L82.1 247.5L82.2 242L82.2 236.6L82.1 236.1M100.3 241.9L101.7 234.5L102.1 232M142.6 212L138.5 214.8L138.5 214.8M-90 213.7L-93.8 216.4L-93.6 216.3M-71.9 218.2L-75.8 223.4L-76.7 224.6M-54.9 222.7L-57.3 228.8L-57.9 230.4M-37.2 227.6L-38.4 232.7L-38.5 233.1M63.9 233.4L60.7 230.9L57.3 228.8L53.9 226.7L54.8 227.2M84.6 229L80.4 225.9L75.8 223.4L71.2 220.9L71 220.8M103.5 218.5L98.6 217.5L93.8 216.4L89 215.4L89.1 215.4M122.3 205.5L116.8 207L111.2 208L105.6 209.1L104.9 209.1M139.7 190.9L135.9 193.6L132 196.1L127.8 198.3L123.7 200.5L119.4 202.4L119.7 202.3M-111.8 186.1L-117.2 181.7L-118.6 180.5M-94.3 193.1L-98.2 192.1L-101.9 190.7L-105.7 189.2L-104.8 189.6M-76.8 196.2L-81.4 197.5L-86 198.4L-90.6 199.2L-90.4 199.2M-60.1 198.5L-64.8 201.7L-69.5 204.7L-74.2 207.8L-74.8 208.1M-44 201.7L-48.4 205.6L-52.5 209.7L-56.7 213.8L-57.3 214.5M-27.9 206.4L-31.7 209.7L-35.2 213.3L-38.7 216.9L-38.8 217M-11.4 210.6L-17.7 215.5L-20 217.3M6.3 213.4L0 216.2L-1.8 217M25.3 214.3L17.7 215.5L15 215.9M45.7 214.2L40.5 213.6L35.2 213.3L30 213L29.7 213M66.9 212.6L62.1 211.5L57.3 210.6L52.5 209.7L47.7 208.9L42.9 208.2L43 208.2M85.6 206.7L81.6 206.3L77.5 205.8L73.5 205.3L69.5 204.7L65.5 204.2L61.5 203.6L57.5 203L58.4 203.1M101.9 197.9L96.6 198.3L91.3 198.4L86 198.4L80.7 198.3L75.4 198.1L75 198.1M117.5 187.5L112.4 189L107.2 190L101.9 190.7L96.7 191.4L91.4 191.8L91 191.8M129.3 175.4L125.5 177.9L121.4 180L117.2 181.7L112.9 183.4L108.5 184.7L108.9 184.6M-98.9 172.1L-102.8 168.7L-106.5 165.1L-110.2 161.6L-110.3 161.5M-83.1 177.5L-88 175.8L-92.6 173.3L-97.2 170.8L-97.4 170.7M-66.9 179.1L-72.5 180.1L-78.2 180.3L-83.8 180.5L-84.5 180.4M-50.4 179.9L-54.6 182.1L-58.9 184.1L-63.2 186.1L-67.5 188L-71.8 189.8L-71.6 189.7M-33.9 182L-37.4 184L-40.9 186.2L-44.3 188.4L-47.7 190.6L-51.2 192.9L-54.6 195.1L-57.9 197.4L-57.2 196.9M-17.6 185.4L-21.3 187.4L-24.9 189.4L-28.5 191.6L-32 193.9L-35.5 196.2L-38.9 198.5L-42.3 201L-41.6 200.5M-1.7 189.1L-6.6 191.1L-11.4 193.4L-16.1 195.8L-20.7 198.3L-25.3 201L-25.5 201.2M14.5 192L9.6 193.3L4.8 194.8L0 196.5L-4.8 198.2L-9.5 200.2L-9.5 200.2M31.7 193.9L26.4 194.3L21.2 194.9L16.1 195.8L10.9 196.8L5.8 198L5.5 198.1M49.5 194.3L45.2 194L40.8 193.8L36.4 193.8L32 193.9L27.6 194L23.2 194.2L18.9 194.7L19.5 194.6M66.1 192.1L61.5 191.7L56.9 191.3L52.3 190.9L47.7 190.6L43.1 190.3L38.5 190.1L33.9 190L34.3 190M80.5 187.1L76.1 186.9L71.8 186.7L67.5 186.4L63.2 186.1L58.8 185.8L54.5 185.4L50.2 185.1L50.8 185.2M93.7 180.6L88.5 180.6L83.3 180.5L78.2 180.3L73 180.1L67.8 179.8L67.6 179.8M105.2 172.5L101 173L96.8 173.2L92.6 173.3L88.4 173.4L84.2 173.4L85 173.4M114.8 162.8L110.7 164.2L106.5 165.1L102.3 166.1L103 166M-93.7 152.9L-97.7 148.7L-101.8 144.5L-105.9 140.4L-106.5 139.8M-74.1 161L-78.9 158.8L-83.3 155.9L-87.8 153L-88 152.8M-52.5 162.9L-58 164.3L-63.6 165L-69.3 165.6L-69.9 165.6M-28.5 164.4L-32.1 166.1L-35.7 167.9L-39.3 169.7L-43 171.5L-46.6 173.3L-50.2 175.1L-53.8 176.8L-53 176.4M-4.7 167.7L-9 169.5L-13.3 171.4L-17.5 173.4L-21.6 175.5L-25.8 177.5L-29.9 179.7L-34 182L-33.8 181.8M18.1 171.5L13.5 172.5L9 173.8L4.5 175.2L0 176.8L-4.5 178.4L-8.9 180.1L-13.2 182L-13 181.9M40.1 173.8L35.5 174L30.9 174.3L26.2 174.8L21.6 175.5L17 176.1L12.5 177L8 178.1L8.3 178M60.3 171.7L56 171.6L51.6 171.5L47.3 171.5L43 171.5L38.6 171.5L34.3 171.7L30 171.9L30.6 171.9M78.1 165.1L73.2 165L68.4 165L63.6 165L58.8 164.9L54 164.9L54.2 164.9M92.8 155L88.1 155.5L83.3 155.9L78.6 156.3L78.9 156.3M107 142.5L101.8 144.5L101.2 144.8M-84.4 135.8L-87.5 132.1L-90.5 128.4L-93.5 124.7L-93.3 124.9M-67.8 143.5L-71.1 141.2L-74.1 138.5L-77.1 135.9L-76.4 136.6M-48.4 147.1L-52.5 147L-56.5 146.6L-60.6 146.1L-59.7 146.3M-26.5 148.9L-30.4 150.1L-34.3 151.2L-38.2 152.4L-42.1 153.6L-46 154.7L-45.1 154.5M-3.8 150.5L-7.7 151.8L-11.5 153.1L-15.4 154.5L-19.2 155.9L-23.1 157.4L-26.9 158.9L-30.6 160.5L-29.8 160.1M18 151.9L13.4 153.1L8.9 154.3L4.4 155.7L0 157.1L-4.4 158.5L-8.9 160.1L-13.2 161.8L-12.9 161.7M38.1 152.3L33.4 153.1L28.6 154L23.9 154.9L19.2 155.9L14.5 156.9L9.9 158.1L5.2 159.4L5.4 159.3M55.9 149.4L51.5 150.2L47 150.9L42.6 151.7L38.2 152.4L33.7 153.1L29.3 153.9L24.9 154.7L25.4 154.6M70.4 142.8L65.8 144.2L61.2 145.5L56.5 146.6L51.9 147.7L47.2 148.7L47.4 148.7M82.9 134L78.6 136.4L74.1 138.5L69.6 140.7L69.5 140.7M96.5 124.1L90.5 128.4L88.4 129.9M-73.1 118.9L-76.1 115.6L-79.1 112.3L-82.2 109.1L-81.8 109.5M-58.3 127.1L-61.6 124.3L-64.8 121.2L-67.9 118.1L-67.5 118.5M-40.8 131.6L-45.2 130.1L-49.4 128.2L-53.7 126.3L-53.4 126.4M-21.5 133.8L-27.4 133.7L-33.4 133.3L-39.3 132.8L-40.3 132.7M-1.2 134.4L-6.4 135.2L-11.6 135.8L-16.8 136.4L-22 136.9L-27.3 137.4L-27.5 137.4M18.5 133.5L13.9 134.6L9.3 135.6L4.6 136.5L0 137.4L-4.6 138.3L-9.3 139.2L-13.9 140L-13.7 139.9M36 131.1L31.3 132.6L26.5 134L21.7 135.2L16.8 136.4L12 137.5L7.1 138.6L2.3 139.7L2.3 139.7M50.5 126.5L46.3 128.5L42.1 130.3L37.8 131.9L33.4 133.3L29 134.7L24.6 136L20.1 137.2L20.5 137.1M62.3 120.1L58.3 123.1L53.9 125.8L49.4 128.2L45 130.6L40.3 132.6L40.2 132.6M73.8 112.5L71 115.5L67.9 118.4L64.8 121.2L61.6 123.9L58.3 126.5L58.9 126.1M86.5 104.1L82.8 108.2L79.1 112.3L75.4 116.4L75 116.9M-45.9 111.5L-49.2 109L-52.4 106.5L-55.5 103.8L-58.6 101.2L-61.7 98.5L-61.1 99M-25.9 117.1L-30 115.5L-34 113.6L-37.8 111.5L-41.7 109.3L-45.3 106.9L-44.9 107.2M-4.6 118.3L-9.5 117.9L-14.4 117.2L-19.2 116.1L-24 115L-28.7 113.6L-28.6 113.6M15.7 116.2L10.5 117L5.2 117.5L0 117.7L-5.2 117.9L-10.5 117.7L-10.8 117.7M33.3 111.3L28.7 113.2L24 114.8L19.2 116.1L14.4 117.4L9.5 118.5L9.5 118.5M48.2 103.9L44.9 106.7L41.5 109.2L37.8 111.5L34.2 113.7L30.4 115.7L31 115.4M62.8 94.9L59.3 99.5L55.5 103.8L51.7 108.1L51.1 108.7" fill="none" stroke="#fff" stroke-width="1.9" stroke-linecap="butt" stroke-linejoin="round"/>
<path d="M-303.6 433.6L-310.1 440.1L-308.3 435.3L-312.8 432.8ZM-285.5 446.4L-293.5 450.9L-290.4 446.8L-294 443.1ZM-267 458.2L-275.5 461.5L-271.9 457.9L-275 453.8ZM-248 468.8L-256.5 472.3L-253 468.5L-256.1 464.5ZM-228.6 478.4L-236.7 482.7L-233.6 478.6L-237.1 474.9ZM-213.8 487.9L-206.2 482.9L-208.9 487.2L-205.1 490.6ZM-193.7 496.3L-186.3 490.8L-188.8 495.3L-184.8 498.5ZM-173.3 503.6L-165.7 498.4L-168.4 502.8L-164.5 506.2ZM-152.6 509.9L-144.5 505.6L-147.6 509.7L-144.1 513.4ZM-131.6 515.4L-123.2 511.8L-126.6 515.6L-123.5 519.6ZM-110.2 519.3L-101 519.2L-105.7 521.4L-104.3 526.3ZM-88.2 522.4L-79.8 526.1L-84.9 526.2L-85.6 531.2ZM-66.5 525.4L-58.5 529.8L-63.6 529.4L-64.8 534.4ZM-45.1 527.2L-37.2 531.8L-42.3 531.3L-43.6 536.3ZM-23.7 527.3L-16.3 532.8L-21.3 531.7L-23.2 536.5ZM-2.1 527.1L5.1 532.9L0.1 531.6L-2 536.3ZM19.5 527.1L27 532.4L22 531.4L20.2 536.2ZM41.7 527.5L50 531.4L44.9 531.3L44 536.4ZM63.2 529L66.9 520.7L66.9 525.8L72 526.6ZM88.1 526.3L79.9 522.1L85 522.3L86.1 517.3ZM109.9 521.8L100.9 520L105.9 518.8L105.6 513.7ZM131.5 516.2L122.4 517.4L126.8 514.7L124.8 510ZM152.5 509L145.8 515.2L147.7 510.5L143.4 507.8ZM170.8 500.7L174.8 508.9L170.9 505.7L167 509.1ZM190.7 493.4L196.4 500.5L191.8 498.2L188.8 502.3ZM213.2 489.3L204.5 486.3L209.6 485.8L209.9 480.7ZM235.2 481.5L226.2 479.7L231.2 478.5L230.8 473.4ZM257.3 473L248.2 471.6L253.1 470.2L252.5 465.1ZM276.8 462.5L267.7 461.4L272.6 459.8L271.8 454.8ZM294.8 451L285.7 449.8L290.6 448.3L289.9 443.2ZM312.1 438.7L303 437.2L308 435.9L307.5 430.8ZM-292.2 417.7L-299.3 423.6L-297 419L-301.2 416ZM-274.8 429.9L-282.8 434.3L-279.8 430.2L-283.3 426.5ZM-257 440.7L-264.6 445.7L-261.9 441.4L-265.8 438ZM-239 450.1L-244.4 457.5L-243.4 452.5L-248.2 450.7ZM-222 458.3L-220 467.3L-223.1 463.2L-227.6 465.6ZM-205.4 467.8L-196.6 470.4L-201.7 471.1L-201.8 476.3ZM-186.6 476.8L-177.5 475.2L-181.8 478.1L-179.6 482.7ZM-167 484.3L-158.3 481.2L-162 484.8L-159.1 489ZM-147 490.8L-138.7 487L-142 490.9L-138.8 494.8ZM-126.8 496.6L-118.9 492L-121.9 496.2L-118.2 499.8ZM-106.4 500.6L-97.6 498.2L-101.5 501.5L-98.9 505.9ZM-85.2 503.1L-76.5 506L-81.6 506.6L-81.8 511.7ZM-64.2 505.9L-56 509.9L-61.1 509.8L-62.1 514.8ZM-44.2 507.4L-35.7 510.8L-40.8 511.1L-41.4 516.1ZM-23.5 508.1L-15.2 512.1L-20.4 512L-21.3 517ZM-2.1 507.7L5.2 513.3L0.2 512.1L-1.7 516.9ZM19.2 507.1L26 513.3L21.1 511.7L18.7 516.3ZM41.3 507.6L46.9 514.8L42.4 512.4L39.3 516.5ZM65.1 508.4L56.2 510.5L60.2 507.3L57.8 502.8ZM86.2 506.4L77 505.9L81.8 504L80.7 499ZM106.6 502L97.4 502.9L101.9 500.3L100 495.5ZM126.8 496.3L118.7 500.4L121.9 496.4L118.4 492.6ZM146.6 489.5L141.8 497.3L142.5 492.2L137.5 490.8ZM165.5 482.3L165.6 491.4L163.4 486.8L158.5 488.2ZM185 475L186 484.2L183.4 479.8L178.6 481.6ZM206 469.7L197.4 472.9L201.1 469.3L198.1 465.1ZM229.1 463.5L219.9 463.9L224.5 461.6L222.9 456.7ZM249.5 454.8L240.3 455L244.9 452.8L243.4 447.9ZM267 444.5L257.8 444.5L262.5 442.4L261.2 437.4ZM283.5 433.9L274.4 432.9L279.3 431.3L278.5 426.2ZM299.9 422.7L291.1 420.5L296.1 419.5L296 414.4ZM-280.3 401.7L-287.8 407L-285.2 402.6L-289.2 399.4ZM-264.1 413.2L-271.9 418L-269.1 413.8L-272.8 410.3ZM-247.2 423.1L-253.3 429.9L-251.8 425L-256.3 422.8ZM-230.4 431.9L-232.2 440.9L-233.4 435.9L-238.5 436.2ZM-214 440.5L-210 448.8L-213.9 445.5L-217.8 448.9ZM-197.2 449.4L-189.1 453.8L-194.2 453.4L-195.4 458.4ZM-179.2 457.8L-170.1 458.6L-174.9 460.3L-174.1 465.3ZM-160.6 465.2L-151.5 463.7L-155.8 466.6L-153.6 471.2ZM-141.5 471.9L-133.1 468.2L-136.5 472L-133.3 476ZM-122 477.8L-114.8 472.2L-117.1 476.7L-113 479.8ZM-102.4 482.1L-94.7 477.1L-97.5 481.4L-93.6 484.8ZM-81.9 483.6L-73.3 486.9L-78.4 487.2L-79 492.3ZM-61.9 485.6L-54.2 490.6L-59.3 489.8L-60.9 494.7ZM-43.2 487.1L-34.7 490.6L-39.8 490.8L-40.4 495.9ZM-23.5 489L-14.5 491L-19.5 492.1L-19.2 497.2ZM-2.5 489.2L5.9 492.8L0.8 492.9L0.1 498ZM19 488.1L25.2 494.9L20.5 492.9L17.8 497.2ZM41.5 488.2L40.5 497.3L38.9 492.5L33.8 493.2ZM63.2 488.8L54.4 491.2L58.3 488L55.7 483.6ZM83.9 486.7L74.8 487.7L79.2 485.1L77.3 480.3ZM102.9 482.1L94.3 485L98 481.5L95.1 477.3ZM122 476.6L114.9 482.5L117.1 477.9L113 474.9ZM141.1 470.7L136.1 478.3L136.9 473.3L132 471.7ZM159.9 464.1L157 472.8L156.5 467.7L151.3 467.4ZM179.5 456.8L176 465.3L175.8 460.2L170.7 459.6ZM201 450.6L193.4 455.7L196 451.4L192.1 448ZM222 445.2L212.9 446.6L217.2 443.8L215.1 439.1ZM239.8 437L230.7 437.6L235.2 435.2L233.5 430.3ZM255.8 427.2L246.6 427L251.3 425L250.1 420ZM272.1 417.1L263 415.8L267.9 414.3L267.3 409.3ZM289.2 407.2L280.4 404.9L285.4 404L285.4 398.9ZM-266.9 385L-274.1 390.6L-271.7 386.1L-275.8 383ZM-252.7 395.9L-259.5 402.1L-257.5 397.4L-261.8 394.7ZM-237.6 405.4L-241.2 413.8L-241.3 408.7L-246.4 408ZM-221.8 414.2L-220.9 423.3L-223.5 418.9L-228.2 420.7ZM-205.8 422.8L-200.7 430.5L-205.1 427.7L-208.5 431.6ZM-189.2 431.2L-181.4 436.1L-186.5 435.4L-188 440.3ZM-171.9 439.1L-163 441.3L-168.1 442.2L-168 447.3ZM-154.1 446.2L-144.9 446.1L-149.6 448.3L-148.2 453.2ZM-135.9 453L-127.4 449.4L-130.9 453.2L-127.8 457.2ZM-117 459.2L-111.1 452.2L-112.5 457.1L-107.9 459.3ZM-98 463.8L-93.3 456L-93.9 461.1L-88.9 462.5ZM-78.5 464.1L-70.2 468L-75.4 467.9L-76.3 473ZM-59.4 464.9L-52.6 471L-57.5 469.5L-59.8 474.1ZM-41.9 466.2L-33.9 470.6L-39 470.2L-40.2 475.2ZM-22.8 469.4L-13.8 471.1L-18.7 472.3L-18.3 477.4ZM-2.4 471L6.8 471.6L2 473.4L3 478.4ZM18.6 469.5L24.7 476.4L20 474.3L17.2 478.6ZM40.9 469.8L34.6 476.5L36.3 471.6L31.8 469.2ZM60.7 469.7L51.6 470.9L56 468.2L54 463.5ZM79.8 467.6L70.7 467L75.5 465.2L74.5 460.2ZM98.4 463L89.4 464.9L93.5 461.9L91.2 457.3ZM117.2 457.6L110 463.3L112.3 458.7L108.2 455.7ZM135.8 452.4L128.9 458.5L131 453.8L126.7 451ZM154 446.1L148.4 453.3L149.6 448.4L144.9 446.4ZM173.1 439.4L166.8 446.1L168.4 441.3L163.9 438.8ZM192.9 433.5L184.5 437.1L187.9 433.3L184.7 429.3ZM211.7 427.7L202.6 428.4L207.1 425.9L205.4 421.1ZM228.7 419.9L219.5 419.2L224.3 417.5L223.4 412.5ZM245.3 411L236.3 409.6L241.2 408.3L240.7 403.2ZM262.1 401.5L253.1 399.7L258.1 398.6L257.8 393.5ZM278.8 391.8L270 389.5L275 388.6L274.9 383.5ZM-252.3 367.1L-258.7 373.6L-257 368.8L-261.5 366.3ZM-240.2 377.3L-245.3 385L-244.5 379.9L-249.3 378.3ZM-227 386.2L-228.2 395.3L-229.7 390.4L-234.7 391ZM-212.7 395.1L-210.2 403.9L-213.5 400L-217.9 402.7ZM-197.5 404.5L-191.9 411.8L-196.4 409.4L-199.5 413.5ZM-181.4 413.2L-173.5 417.9L-178.6 417.3L-180 422.2ZM-164.8 420.7L-155.9 423L-161 423.9L-161 429ZM-147.8 427.5L-138.6 427.5L-143.2 429.6L-141.8 434.5ZM-130.3 434.4L-122.4 429.8L-125.4 434L-121.7 437.6ZM-111.9 440.7L-108.1 432.3L-108.1 437.4L-103 438.2ZM-93.5 445.1L-91.3 436.2L-90.4 441.2L-85.2 441.1ZM-75.7 445L-66.8 447.1L-71.8 448.1L-71.6 453.2ZM-56.8 444.4L-50.7 451.3L-55.4 449.2L-58.2 453.5ZM-39.1 445.2L-32.6 451.7L-37.4 449.9L-40 454.3ZM-19.7 449.6L-12.6 455.5L-17.6 454.1L-19.7 458.8ZM0.4 450.1L2.9 458.9L-0.4 455L-4.8 457.7ZM20.9 451.5L14.2 457.7L16.1 453L11.8 450.3ZM39.5 451L31.3 455.1L34.5 451.1L31.1 447.3ZM57.9 449.8L48.9 451.6L53.1 448.6L50.8 444.1ZM75.7 448.1L66.7 446.2L71.7 445.1L71.4 440ZM93.7 445L85.1 441.7L90.2 441.4L90.7 436.3ZM112.4 439.6L103.4 441.5L107.6 438.5L105.2 433.9ZM130.3 434.1L122.1 438.2L125.4 434.2L121.9 430.4ZM148 428.1L140.6 433.6L143.1 429.1L139 425.9ZM165.8 421.9L158.2 426.9L160.9 422.6L157.1 419.2ZM183.8 416.2L174.9 418.1L179 415L176.6 410.5ZM202.3 410.8L193.2 409.9L198 408.3L197.2 403.2ZM219.9 404L210.9 402.2L215.9 401L215.5 395.9ZM236.3 395.3L227.3 393.4L232.3 392.3L232.1 387.2ZM252.6 386L243.6 384.1L248.6 383L248.4 377.9ZM268.5 376.4L259.6 374.2L264.6 373.3L264.5 368.2ZM-235.2 347.4L-240.7 354.7L-239.6 349.7L-244.3 347.9ZM-225.4 356.6L-229.3 364.9L-229.2 359.8L-234.3 358.9ZM-214.6 365.4L-215.8 374.5L-217.3 369.6L-222.4 370.3ZM-202.6 374.5L-200.4 383.4L-203.6 379.4L-208.1 381.9ZM-188.9 384.6L-184 392.4L-188.3 389.6L-191.8 393.4ZM-173.9 394.1L-166.5 399.4L-171.5 398.4L-173.2 403.2ZM-157.8 402.2L-149 404.7L-154 405.4L-154.1 410.6ZM-141.5 409.1L-132.4 408.1L-136.8 410.7L-134.9 415.5ZM-124.6 416.1L-118.1 409.7L-119.9 414.5L-115.5 417ZM-106.9 421.7L-103.9 413L-103.5 418.1L-98.3 418.5ZM-89.9 425.4L-85.6 417.3L-85.9 422.4L-80.9 423.6ZM-73 426.6L-64 424.6L-68.1 427.7L-65.7 432.2ZM-54.8 425.7L-47.8 431.6L-52.7 430.3L-54.9 434.9ZM-35.9 425.7L-31.3 433.6L-35.4 430.6L-39.1 434.3ZM-16.6 430L-16.3 439.1L-18.6 434.5L-23.5 436ZM2.6 432.5L-5 437.7L-2.4 433.3L-6.3 430ZM21.3 432.3L13.2 436.7L16.3 432.6L12.7 428.9ZM39.2 431L31.5 435.9L34.3 431.6L30.5 428.1ZM56.3 428.9L49 434.5L51.4 430L47.4 426.9ZM73.4 426.7L65.7 431.7L68.4 427.4L64.6 424ZM91.2 424L82.7 427.5L86.3 423.8L83.1 419.7ZM108.7 420L100.4 423.8L103.7 419.9L100.4 416ZM125.4 414.9L117.6 419.7L120.5 415.5L116.8 411.9ZM142.2 409.3L134.8 414.8L137.3 410.3L133.3 407.1ZM159 403.5L151.3 408.4L154.1 404.1L150.3 400.7ZM176.3 398.3L167.3 399.9L171.5 397L169.3 392.4ZM194.7 393.8L185.6 392.7L190.4 391.1L189.7 386.1ZM211.9 387.6L202.9 385.7L207.9 384.6L207.6 379.5ZM227.7 379.4L218.7 377.4L223.8 376.4L223.5 371.3ZM243.3 370.5L234.3 368.5L239.4 367.4L239.1 362.3ZM258.3 360.9L249.4 358.9L254.4 357.9L254.2 352.8ZM-223.1 328.3L-227.3 336.4L-227.1 331.3L-232.1 330.2ZM-209.6 334.2L-212.7 342.8L-213.1 337.7L-218.2 337.3ZM-198.8 343L-201.3 351.9L-202.1 346.8L-207.2 346.8ZM-188.4 353.5L-189.8 362.5L-191.1 357.6L-196.2 358.2ZM-176.8 364.4L-176.6 373.5L-178.8 368.9L-183.7 370.3ZM-163.8 374.6L-160.9 383.3L-164.4 379.5L-168.7 382.4ZM-149.1 383L-144 390.6L-148.3 388L-151.7 391.8ZM-134.8 389.7L-125.9 391.9L-130.9 392.8L-130.7 397.9ZM-118.3 398.3L-116.2 389.4L-115.2 394.4L-110 394.3ZM-101.6 403L-101 393.9L-99.2 398.7L-94.2 397.7ZM-86.4 404.9L-78.6 400L-81.5 404.3L-77.7 407.8ZM-69.6 406.6L-60.4 406.7L-65.1 408.8L-63.8 413.7ZM-51.9 407.9L-44.3 413.1L-49.3 412.2L-51 417.1ZM-32.8 407.7L-30.9 416.7L-33.9 412.5L-38.5 414.9ZM-13.7 410.8L-18.5 418.6L-17.9 413.5L-22.8 412ZM4.4 413.3L-4 417L-0.6 413.2L-3.8 409.2ZM22 413.1L13.6 416.6L17 412.9L13.9 408.8ZM39.2 411L31.6 416.1L34.3 411.7L30.4 408.4ZM56.5 408.3L49.7 414.4L51.7 409.7L47.4 407ZM74.2 405.8L67.3 411.7L69.4 407.1L65.2 404.2ZM90.7 402.8L83.7 408.7L85.9 404.1L81.7 401.1ZM105.6 399L99.1 405.4L100.9 400.6L96.5 398ZM120.6 394.9L114.2 401.5L115.9 396.7L111.4 394.2ZM135.9 390.2L129.3 396.6L131.2 391.8L126.8 389.2ZM151.9 385.1L144.2 390L147 385.7L143.2 382.3ZM169.4 380.4L160.4 382.2L164.6 379.2L162.3 374.6ZM187.5 376.3L178.3 375.6L183.2 373.8L182.2 368.8ZM204 370.8L195 369.2L199.9 367.9L199.5 362.8ZM219.3 363.3L210.3 361.5L215.3 360.3L215 355.2ZM234.1 354.5L225.1 352.8L230 351.6L229.7 346.5ZM247.6 344.6L238.5 343L243.5 341.7L243.1 336.6ZM-217.7 312.8L-220.1 321.6L-220.9 316.6L-226 316.6ZM-200 316.3L-202.4 325.1L-203.2 320.1L-208.4 320.1ZM-184 323L-187.1 331.6L-187.5 326.5L-192.6 326ZM-170.9 333.3L-174.9 341.5L-174.8 336.4L-179.8 335.5ZM-159.8 344.7L-164.2 352.7L-163.8 347.6L-168.8 346.5ZM-148.4 355.1L-153.2 362.9L-152.5 357.8L-157.5 356.4ZM-136 363.7L-141 371.3L-140.2 366.3L-145.1 364.7ZM-122.5 371.5L-129.4 377.5L-127.3 372.8L-131.5 370ZM-108.1 378.2L-117 380.2L-112.9 377.1L-115.3 372.5ZM-93 383L-102.1 382.9L-97.5 380.8L-98.8 375.9ZM-77.2 385.1L-85.2 389.6L-82.1 385.5L-85.7 381.8ZM-60.4 386.8L-66.8 393.4L-65.1 388.6L-69.6 386.2ZM-43.1 389.4L-50.3 395L-48 390.5L-52.1 387.4ZM-25.4 389.1L-31.3 396.1L-29.9 391.2L-34.5 389ZM-7.8 390.6L-14.7 396.6L-12.6 391.9L-16.9 389.1ZM8.4 392.8L0.4 397.2L3.5 393.1L-0.1 389.4ZM24.3 393.3L16 397.1L19.3 393.2L16 389.3ZM40.2 391.6L32.3 396.2L35.2 392L31.6 388.4ZM56.1 389.1L48.7 394.5L51.2 390.1L47.2 386.9ZM71.3 386.1L64.4 392.2L66.5 387.5L62.3 384.7ZM85.6 382.3L80.1 389.6L81.2 384.6L76.5 382.7ZM100 378.1L96 386.4L96.1 381.3L91.1 380.4ZM114.9 374.3L111.1 382.6L111.1 377.5L106.1 376.7ZM130.6 370.2L125.4 377.8L126.3 372.7L121.5 371ZM147.4 365.8L140.2 371.5L142.5 366.9L138.4 363.9ZM164.5 361.7L155.8 364.6L159.6 361.1L156.8 356.8ZM180.6 357.7L171.4 358.2L176 355.8L174.4 351ZM196 353L186.8 352L191.7 350.4L190.9 345.4ZM210.5 346L201.4 344.7L206.3 343.3L205.7 338.2ZM224 337.4L214.9 336.2L219.8 334.7L219.1 329.6ZM236.7 327.9L227.5 326.8L232.4 325.3L231.7 320.2ZM-196.1 302.6L-195.5 311.8L-197.9 307.2L-202.8 308.9ZM-160.1 314.7L-162.6 323.5L-163.3 318.4L-168.5 318.4ZM-132.5 335.9L-138.9 342.5L-137.2 337.7L-141.7 335.2ZM-106.8 351.9L-114.7 356.7L-111.8 352.4L-115.5 348.9ZM-80 363.3L-88.5 366.7L-85 363L-88.1 358.9ZM-50.6 368.2L-58.6 372.5L-55.6 368.5L-59.1 364.8ZM-19.7 370.2L-26.9 375.9L-24.6 371.3L-28.7 368.3ZM12.3 372.1L4.5 376.9L7.4 372.7L3.6 369.2ZM41.2 370.4L34 376L36.3 371.5L32.2 368.4ZM68 365.3L62.2 372.5L63.5 367.5L58.8 365.5ZM96.1 357.6L92.8 366.1L92.5 361L87.4 360.5ZM127.4 350.3L121.5 357.4L122.9 352.4L118.2 350.3ZM157.3 342.4L149.1 346.6L152.3 342.6L148.9 338.8ZM187.2 334.1L178 334.4L182.6 332.1L181.1 327.2ZM213.4 320L204.3 319.5L209.1 317.6L208 312.6ZM-195 290.6L-188.1 296.6L-193 295.2L-195.2 299.8ZM-164.2 298.1L-158.9 305.5L-163.3 303L-166.5 307ZM-130.3 317.2L-134.2 325.5L-134.1 320.4L-139.2 319.5ZM-98.9 333.5L-107 337.8L-103.9 333.8L-107.4 330ZM-68.8 343.8L-77 347.8L-73.8 343.9L-77.2 340ZM-40 347.8L-47.9 352.4L-44.9 348.3L-48.6 344.7ZM-12 350.5L-19.6 355.7L-17 351.3L-20.9 348ZM17.3 350.1L10.2 356L12.5 351.4L8.3 348.4ZM42.6 346.9L36.9 354.1L38.1 349.1L33.4 347.1ZM68.2 341.6L64.1 349.8L64.3 344.7L59.3 343.7ZM94.1 335.4L91.1 344.1L90.6 339L85.5 338.7ZM120.2 330.9L115.6 338.8L116.1 333.7L111.2 332.4ZM147.3 324.2L139.4 329L142.3 324.7L138.6 321.2ZM177.3 316.3L168.1 317L172.6 314.5L170.9 309.7ZM201.4 304.3L192.3 303.1L197.3 301.6L196.6 296.6ZM-195.4 272.8L-186.3 274.1L-191.2 275.5L-190.5 280.6ZM-170.1 284L-161 285.2L-165.9 286.7L-165.2 291.8ZM-137.1 303.7L-128.2 305.6L-133.2 306.7L-132.8 311.8ZM-101.1 318.2L-110.1 320L-105.9 317L-108.2 312.5ZM-68.1 326.8L-76.8 329.8L-73 326.3L-75.9 322ZM-40.9 328.6L-48.8 333.3L-45.9 329.1L-49.6 325.6ZM-14.3 331.9L-22 336.7L-19.2 332.5L-23 329ZM12.4 331L5.7 337.2L7.7 332.5L3.3 329.8ZM37.3 327.7L32.2 335.3L33.1 330.3L28.2 328.6ZM62.9 323.2L59 331.5L59.1 326.3L54 325.4ZM89.6 315L87.3 323.8L86.4 318.8L81.3 318.8ZM114.8 307.4L112.8 316.3L111.7 311.3L106.6 311.5ZM138.4 304.8L132 311.3L133.8 306.5L129.3 304ZM160.5 300.5L153.3 295L158.3 296.1L160.2 291.4ZM190.7 292.6L182.2 289.1L187.3 288.9L188 283.9ZM-179.9 254.4L-172 259L-177.1 258.5L-178.4 263.5ZM-156.1 272.3L-147.1 273.5L-152 275L-151.3 280.1ZM-121.5 294.2L-129.3 289.5L-124.3 290.1L-122.9 285.1ZM-88.5 305.9L-97.7 305.3L-92.9 303.5L-93.9 298.5ZM-62.2 307.9L-70.9 310.9L-67.1 307.4L-70 303.2ZM-36.7 309.6L-44.7 314.1L-41.7 310L-45.3 306.3ZM-9.8 312.1L-17.6 316.9L-14.7 312.7L-18.4 309.2ZM16.2 309.6L10 316.3L11.6 311.5L7.1 309.1ZM39.6 304.1L35.3 312.2L35.6 307.1L30.6 306ZM61.9 301.2L58.4 309.6L58.2 304.5L53.1 303.9ZM83.1 297.2L81.1 306.2L80.1 301.1L75 301.4ZM104.7 288.8L105.7 298L103.1 293.6L98.3 295.5ZM126.8 282.9L128.3 291.9L125.5 287.7L120.8 289.9ZM151.2 278.8L142 279L146.6 276.8L145.1 271.9ZM187.8 276L178.9 273.4L184 272.7L184.1 267.6ZM-149.4 246.2L-157.6 250.3L-154.4 246.3L-157.8 242.5ZM-128.1 267.1L-137.1 265.4L-132.1 264.2L-132.5 259.1ZM-100.2 284.2L-109.3 282.6L-104.3 281.3L-104.8 276.2ZM-76 287.7L-85.1 288.9L-80.7 286.2L-82.7 281.5ZM-54.8 288.5L-63.4 291.8L-59.8 288.1L-62.8 284ZM-31 290.8L-39.2 295L-36 291L-39.5 287.2ZM-6.6 292.6L-14.4 297.4L-11.6 293.1L-15.3 289.6ZM16.2 290.2L9.8 296.8L11.5 291.9L7 289.5ZM39.4 284.1L35 292.1L35.4 287L30.4 285.8ZM62.6 276.1L60.3 285L59.4 279.9L54.3 280ZM82.3 269.6L81.6 278.8L79.8 274L74.8 274.9ZM101.7 265.6L101.2 274.8L99.4 270L94.4 271.1ZM125.9 259.8L122.7 268.4L122.3 263.3L117.2 262.9ZM156.6 255.9L148.7 260.5L151.6 256.4L148 252.8ZM180 251.1L170.9 252.6L175.2 249.8L173.1 245.1ZM-127.9 236.6L-137 237.6L-132.6 235L-134.5 230.2ZM-110.1 254.5L-119.1 252.6L-114.1 251.5L-114.4 246.4ZM-93.9 265.1L-102.9 263.2L-97.9 262.1L-98.2 257ZM-77.1 267.8L-86.3 267.3L-81.5 265.4L-82.6 260.4ZM-57 270.5L-66.1 271.7L-61.7 269L-63.7 264.3ZM-34.3 273.2L-43 276L-39.2 272.6L-42 268.3ZM-11.8 274.5L-20 278.4L-16.7 274.5L-20.1 270.6ZM9.6 273.3L2.5 279L4.8 274.5L0.7 271.4ZM31.5 269.5L26.3 277L27.2 272L22.3 270.3ZM53.9 262.1L51.6 270.9L50.7 265.9L45.6 266ZM74.5 250.7L75.6 259.8L72.9 255.4L68.2 257.4ZM96.9 242.8L97.1 251.9L94.9 247.3L90 248.8ZM122.6 239.8L118.5 248L118.7 242.9L113.7 241.9ZM145 237.5L137.7 243.1L140.1 238.6L136 235.5ZM156.7 231.6L148.3 235.3L151.7 231.4L148.5 227.5ZM-127.4 217.5L-136.4 219.4L-132.2 216.4L-134.6 211.8ZM-110.8 229.9L-120 229.5L-115.3 227.6L-116.4 222.6ZM-96.2 240.6L-104.6 236.9L-99.5 236.9L-98.7 231.8ZM-79.4 247.5L-86.6 241.9L-81.6 243L-79.7 238.3ZM-59.3 252.6L-66.9 247.5L-61.9 248.3L-60.2 243.5ZM-37.8 255.8L-46.6 252.9L-41.5 252.3L-41.2 247.2ZM-16.9 256.3L-26 256.9L-21.5 254.5L-23.1 249.6ZM3.3 255.5L-4.9 259.7L-1.7 255.7L-5.2 251.9ZM23.6 253.2L18.3 260.7L19.2 255.7L14.4 253.9ZM43.9 248.8L42.6 257.8L41.2 252.9L36.1 253.6ZM61.8 239.9L66.9 247.5L62.5 244.8L59.2 248.7ZM80.8 231.3L86.7 238.3L82.1 236.1L79.2 240.4ZM103 227.1L105.4 236L102.1 232L97.7 234.5ZM120.6 222.9L124.2 231.4L120.4 227.9L116.4 231.1ZM134.4 217.7L139 209.7L138.5 214.8L143.5 216.1ZM-129.2 196.2L-121.3 200.8L-126.4 200.3L-127.8 205.3ZM-113.7 207.7L-104.9 205L-108.7 208.4L-106 212.7ZM-97.6 219.2L-93.2 211.2L-93.6 216.3L-88.6 217.5ZM-79.8 228.5L-77.8 219.6L-76.7 224.6L-71.6 224.3ZM-59.8 235L-60.3 225.8L-57.9 230.4L-53.1 228.7ZM-39.6 237.9L-41.6 228.9L-38.5 233.1L-34 230.7ZM-20.1 238L-21.6 229L-18.7 233.2L-14.1 231.1ZM-1.6 237.8L0.7 228.9L1.6 234L6.7 233.9ZM16.8 235L25.2 231.4L21.8 235.2L24.9 239.2ZM35.1 231.2L44.3 231.2L39.6 233.3L41 238.2ZM50.3 225L59.5 225.1L54.8 227.2L56.1 232.1ZM66.5 218.8L75.6 218.5L71 220.8L72.6 225.7ZM84.2 214.4L93.1 212.3L89.1 215.4L91.5 219.9ZM99.9 209.6L107.9 205L104.9 209.1L108.6 212.7ZM115.1 203.9L121.5 197.5L119.7 202.3L124.2 204.8ZM-122.5 177.3L-113.6 179.6L-118.6 180.5L-118.5 185.6ZM-109.3 187.4L-100.1 187.7L-104.8 189.6L-103.7 194.6ZM-95.3 199.7L-87.4 195L-90.4 199.2L-86.7 202.8ZM-79 210.7L-74 203.1L-74.8 208.1L-69.9 209.7ZM-60.7 218.2L-57.9 209.4L-57.3 214.5L-52.2 214.7ZM-41.9 220.8L-39.7 211.9L-38.8 217L-33.6 216.9ZM-23.9 220.4L-19.8 212.2L-20 217.3L-15 218.3ZM-6.3 219L-0.3 212.1L-1.8 217L2.9 219.2ZM10.1 216.7L17.7 211.5L15 215.9L18.9 219.2ZM24.7 213L33 209.1L29.7 213L33 216.9ZM38.1 207.7L46.7 204.7L43 208.2L45.9 212.4ZM53.4 202.4L62.2 199.7L58.4 203.1L61.1 207.4ZM70.1 197.7L78.6 194.4L75 198.1L78.1 202.2ZM86.1 192L94.2 187.8L91 191.8L94.5 195.6ZM104.1 185.7L111.3 180.1L108.9 184.6L113 187.7ZM-113.8 158L-105.2 161L-110.3 161.5L-110.6 166.6ZM-101.5 167.8L-92.4 169.5L-97.4 170.7L-97 175.8ZM-89.4 179.8L-80.7 176.9L-84.5 180.4L-81.6 184.7ZM-76.3 191.4L-69.7 184.9L-71.6 189.7L-67.1 192.3ZM-61.3 199.8L-56.7 191.8L-57.2 196.9L-52.3 198.3ZM-45.5 203.6L-41.5 195.4L-41.6 200.5L-36.6 201.5ZM-29.7 203.9L-24.9 196.1L-25.5 201.2L-20.6 202.6ZM-14 202.3L-8.2 195.3L-9.5 200.2L-4.9 202.3ZM0.7 199.5L7.6 193.4L5.5 198.1L9.8 200.9ZM14.5 195.3L22.2 190.2L19.5 194.6L23.3 197.9ZM29.3 190.1L37.6 186.1L34.3 190L37.7 193.9ZM45.9 184.9L54.4 181.5L50.8 185.2L53.9 189.3ZM62.6 179.5L71.1 176.1L67.6 179.8L70.6 183.9ZM80.1 173.3L88.4 169.6L85 173.4L88.3 177.4ZM98 166.7L105.7 161.7L103 166L106.8 169.4ZM-110 136.3L-101.4 139.4L-106.5 139.8L-106.8 144.9ZM-91.9 149.7L-83 151.9L-88 152.8L-88 158ZM-74.9 165.6L-66.6 161.8L-69.9 165.6L-66.7 169.6ZM-57.5 178.5L-51.6 171.5L-53 176.4L-48.3 178.6ZM-38.1 184.3L-32.8 176.8L-33.8 181.8L-28.9 183.5ZM-17.5 183.9L-11.6 176.9L-13 181.9L-8.3 184ZM3.5 179.3L10.4 173.3L8.3 178L12.5 180.9ZM25.6 172.3L33.6 167.7L30.6 171.9L34.3 175.5ZM49.2 165L57.5 161L54.2 164.9L57.5 168.8ZM73.9 156.7L81.9 152.2L78.9 156.3L82.5 159.9ZM96.6 146.6L102.9 139.9L101.2 144.8L105.7 147.2ZM-96.5 121.1L-88.2 125L-93.3 124.9L-94.2 130ZM-79.8 133L-71.3 136.3L-76.4 136.6L-76.9 141.7ZM-64.6 145.2L-55.6 143.3L-59.7 146.3L-57.3 150.9ZM-49.9 155.8L-42.9 149.8L-45.1 154.5L-40.9 157.4ZM-34.4 162.1L-28.3 155.2L-29.8 160.1L-25.2 162.4ZM-17.5 163.5L-11.3 156.8L-12.9 161.7L-8.4 164ZM0.6 160.8L7.4 154.6L5.4 159.3L9.7 162.1ZM20.5 155.5L27.9 150.1L25.4 154.6L29.4 157.8ZM42.5 149.6L49.9 144.2L47.4 148.7L51.4 151.8ZM64.9 142.6L71.1 135.9L69.5 140.7L74.1 143.1ZM84.4 132.8L88.9 124.8L88.4 129.9L93.4 131.1ZM-85.3 106L-76.7 109.1L-81.8 109.5L-82.2 114.6ZM-71 114.9L-62.4 118.2L-67.5 118.5L-68 123.6ZM-57.6 123.9L-48.5 124.8L-53.4 126.4L-52.6 131.5ZM-45.2 131.9L-36.4 129.3L-40.3 132.7L-37.6 137ZM-32.5 137.7L-24.5 133.3L-27.5 137.4L-24 141.1ZM-18.6 140.8L-11.1 135.5L-13.7 139.9L-9.7 143.2ZM-2.6 140.8L4.7 135.2L2.3 139.7L6.3 142.8ZM15.7 138.3L22.8 132.5L20.5 137.1L24.7 140ZM35.5 134.4L41.9 127.8L40.2 132.6L44.7 135.1ZM54.8 128.8L59.5 121L58.9 126.1L63.8 127.5ZM71.6 120.5L74.5 111.8L75 116.9L80.1 117.1ZM-64.8 95.8L-56 98.2L-61.1 99L-61.1 104.2ZM-48.9 104.3L-39.9 106L-44.9 107.2L-44.5 112.3ZM-33.3 111.7L-24.1 111.2L-28.6 113.6L-27 118.4ZM-15.7 117.3L-7.1 114.1L-10.8 117.7L-7.8 121.9ZM4.6 119.2L12.2 114.1L9.5 118.5L13.4 121.8ZM26.5 117.4L32.5 110.5L31 115.4L35.6 117.7ZM47.5 112.2L50.8 103.6L51.1 108.7L56.2 109.2Z" fill="#fff"/>
<use href="#coast"/>
</g>
<path d="M-66.5 86.4L-329.7 428.2A540.4 540.4 0 0 0 329.7 428.2L66.5 86.4A109 109 0 0 1 -66.5 86.4Z" fill="none" stroke="#111" stroke-width="1.3" stroke-linejoin="miter"/>
<g font-family='"Liberation Serif", serif' font-style="italic" font-size="29" text-anchor="middle" fill="#111">
<text transform="translate(-104.8 93.5) rotate(37.6)" y="9.5">N</text>
<text transform="translate(-138.9 132.8) rotate(37.6)" y="9.5">80</text>
<text transform="translate(-209.1 224) rotate(37.6)" y="9.5">75</text>
<text transform="translate(-280.5 316.7) rotate(37.6)" y="9.5">70</text>
<text transform="translate(-222.1 512.3) rotate(23.4)" y="9.5">110</text>
<text transform="translate(-45.6 556.5) rotate(4.7)" y="9.5">130</text>
<text transform="translate(135.7 541.7) rotate(-14.1)" y="9.5">150</text>
<text transform="translate(302.6 469.3) rotate(-32.8)" y="9.5">170 E</text>
</g>
</g>
<g font-family='"Liberation Serif", serif' font-size="60" text-anchor="middle" fill="#111">
<text x="333" y="47">August 2008</text>
<text x="1021" y="47">September 2008</text>
<text x="375" y="641">September 2011</text>
<text x="1013" y="641">October 2011</text>
<text x="378" y="1240">September 2019</text>
<text x="1014" y="1240">October 2019</text>
</g>
<g font-family='"Liberation Sans", sans-serif' font-weight="bold" font-size="35.5" fill="#000">
<text x="8" y="31.3">A</text><text x="7" y="616">B</text><text x="8" y="1222">C</text></g>
<text x="1245" y="102.2" font-family='"Liberation Serif", serif' font-size="44.5" fill="#111">5 m/s</text>
<rect x="1261.3" y="134.5" width="65.3" height="58.6" fill="#fff" stroke="#555" stroke-width="1"/>
<path d="M1266.3 171.9H1315" stroke="#000" stroke-width="1.6" fill="none"/><path d="M1322.2 171.9l-9.2 -3.8l1.8 3.8l-1.8 3.8z" fill="#000"/>
<rect x="7.4" y="1843.3" width="67.4" height="57.2" fill="#fbfdfe"/>
<rect x="74.3" y="1843.3" width="67.4" height="57.2" fill="#d8eef6"/>
<rect x="141.3" y="1843.3" width="67.4" height="57.2" fill="#bfe3f4"/>
<rect x="208.2" y="1843.3" width="67.4" height="57.2" fill="#a5d6ef"/>
<rect x="275.1" y="1843.3" width="67.4" height="57.2" fill="#8fc5e6"/>
<rect x="342.1" y="1843.3" width="67.4" height="57.2" fill="#78aed6"/>
<rect x="409" y="1843.3" width="67.4" height="57.2" fill="#72afbf"/>
<rect x="475.9" y="1843.3" width="67.4" height="57.2" fill="#77c0a2"/>
<rect x="542.8" y="1843.3" width="67.4" height="57.2" fill="#78c47f"/>
<rect x="609.8" y="1843.3" width="67.4" height="57.2" fill="#a0d088"/>
<rect x="676.7" y="1843.3" width="67.4" height="57.2" fill="#c9de8a"/>
<rect x="743.6" y="1843.3" width="67.4" height="57.2" fill="#f9e88d"/>
<rect x="810.6" y="1843.3" width="67.4" height="57.2" fill="#f8c37a"/>
<rect x="877.5" y="1843.3" width="67.4" height="57.2" fill="#f4a56e"/>
<rect x="944.4" y="1843.3" width="67.4" height="57.2" fill="#f38e69"/>
<rect x="1011.4" y="1843.3" width="67.4" height="57.2" fill="#ee7b68"/>
<rect x="1078.3" y="1843.3" width="67.4" height="57.2" fill="#e6696a"/>
<rect x="1145.2" y="1843.3" width="67.4" height="57.2" fill="#d4626a"/>
<rect x="1212.1" y="1843.3" width="67.4" height="57.2" fill="#c05c64"/>
<rect x="1279.1" y="1843.3" width="67.4" height="57.2" fill="#a9565d"/>
<g stroke="#222" stroke-width="1" fill="none">
<rect x="7.4" y="1843.3" width="1338.6" height="57.2"/>
<path d="M74.3 1843.3V1900.5"/>
<path d="M141.3 1843.3V1900.5"/>
<path d="M208.2 1843.3V1900.5"/>
<path d="M275.1 1843.3V1900.5"/>
<path d="M342.1 1843.3V1900.5"/>
<path d="M409 1843.3V1900.5"/>
<path d="M475.9 1843.3V1900.5"/>
<path d="M542.8 1843.3V1900.5"/>
<path d="M609.8 1843.3V1900.5"/>
<path d="M676.7 1843.3V1900.5"/>
<path d="M743.6 1843.3V1900.5"/>
<path d="M810.6 1843.3V1900.5"/>
<path d="M877.5 1843.3V1900.5"/>
<path d="M944.4 1843.3V1900.5"/>
<path d="M1011.4 1843.3V1900.5"/>
<path d="M1078.3 1843.3V1900.5"/>
<path d="M1145.2 1843.3V1900.5"/>
<path d="M1212.1 1843.3V1900.5"/>
<path d="M1279.1 1843.3V1900.5"/>
</g>
<g font-family='"Liberation Serif", serif' font-size="32.5" text-anchor="middle" fill="#111">
<text x="75.8" y="1946">1000</text>
<text x="209.7" y="1946">1002</text>
<text x="343.6" y="1946">1004</text>
<text x="477.4" y="1946">1006</text>
<text x="611.3" y="1946">1008</text>
<text x="745.1" y="1946">1010</text>
<text x="879" y="1946">1012</text>
<text x="1012.9" y="1946">1014</text>
<text x="1146.7" y="1946">1016</text>
<text x="1280.6" y="1946">1018</text>
</g>
<text x="680.5" y="1809.5" font-family='"Liberation Serif", serif' font-size="45" text-anchor="middle" fill="#111">sea level pressure, hPa</text>
</svg></body></html>
